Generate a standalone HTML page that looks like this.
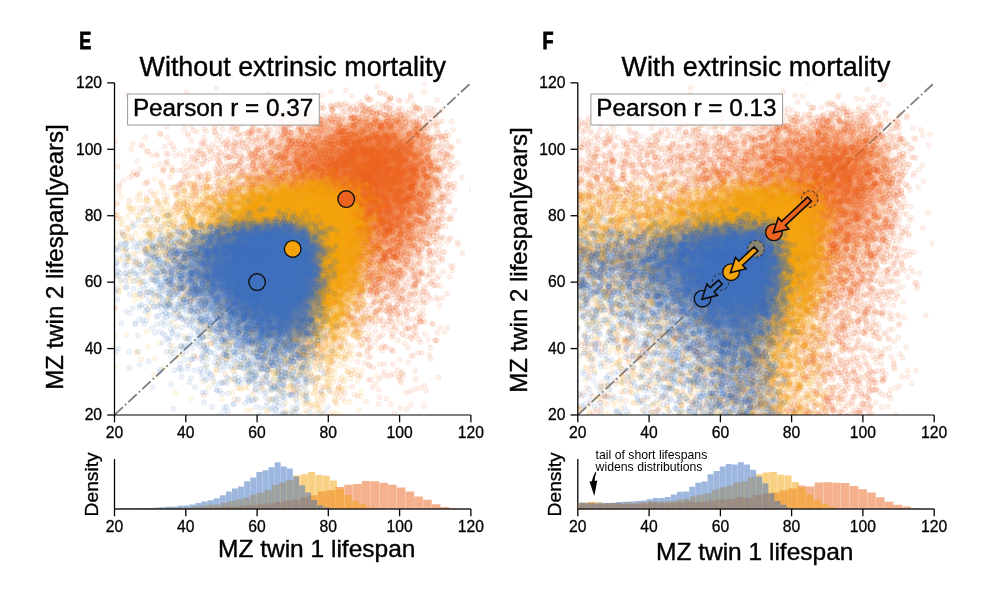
<!DOCTYPE html>
<html><head><meta charset="utf-8"><title>Figure E-F</title>
<style>
html,body{margin:0;padding:0;background:#fff;}
body{width:1000px;height:595px;overflow:hidden;font-family:"Liberation Sans",sans-serif;}
svg{display:block;}
text{font-family:"Liberation Sans",sans-serif;fill:#000;}
.tk{font-size:15.7px;stroke:#000;stroke-width:0.3px;}
.lb{font-size:24px;stroke:#000;stroke-width:0.4px;}
.tt{font-size:26.9px;stroke:#000;stroke-width:0.4px;}
.ax{stroke:#000;stroke-width:1.3;fill:none;}
polyline{fill:none;stroke:none;}
.pb0{marker-start:url(#mb0);marker-mid:url(#mb0);marker-end:url(#mb0);}
.pb1{marker-start:url(#mb1);marker-mid:url(#mb1);marker-end:url(#mb1);}
.pb2{marker-start:url(#mb2);marker-mid:url(#mb2);marker-end:url(#mb2);}
.pb3{marker-start:url(#mb3);marker-mid:url(#mb3);marker-end:url(#mb3);}
.pb4{marker-start:url(#mb4);marker-mid:url(#mb4);marker-end:url(#mb4);}
.pb5{marker-start:url(#mb5);marker-mid:url(#mb5);marker-end:url(#mb5);}
.pb6{marker-start:url(#mb6);marker-mid:url(#mb6);marker-end:url(#mb6);}
.pb7{marker-start:url(#mb7);marker-mid:url(#mb7);marker-end:url(#mb7);}
.py0{marker-start:url(#my0);marker-mid:url(#my0);marker-end:url(#my0);}
.py1{marker-start:url(#my1);marker-mid:url(#my1);marker-end:url(#my1);}
.py2{marker-start:url(#my2);marker-mid:url(#my2);marker-end:url(#my2);}
.py3{marker-start:url(#my3);marker-mid:url(#my3);marker-end:url(#my3);}
.py4{marker-start:url(#my4);marker-mid:url(#my4);marker-end:url(#my4);}
.py5{marker-start:url(#my5);marker-mid:url(#my5);marker-end:url(#my5);}
.py6{marker-start:url(#my6);marker-mid:url(#my6);marker-end:url(#my6);}
.py7{marker-start:url(#my7);marker-mid:url(#my7);marker-end:url(#my7);}
.po0{marker-start:url(#mo0);marker-mid:url(#mo0);marker-end:url(#mo0);}
.po1{marker-start:url(#mo1);marker-mid:url(#mo1);marker-end:url(#mo1);}
.po2{marker-start:url(#mo2);marker-mid:url(#mo2);marker-end:url(#mo2);}
.po3{marker-start:url(#mo3);marker-mid:url(#mo3);marker-end:url(#mo3);}
.po4{marker-start:url(#mo4);marker-mid:url(#mo4);marker-end:url(#mo4);}
.po5{marker-start:url(#mo5);marker-mid:url(#mo5);marker-end:url(#mo5);}
.po6{marker-start:url(#mo6);marker-mid:url(#mo6);marker-end:url(#mo6);}
.po7{marker-start:url(#mo7);marker-mid:url(#mo7);marker-end:url(#mo7);}
</style></head><body>
<svg width="1000" height="595" viewBox="0 0 1000 595">
<rect width="1000" height="595" fill="#fff"/>
<defs>
<marker id="mb0" markerUnits="userSpaceOnUse" markerWidth="8" markerHeight="8" refX="4" refY="4" overflow="visible"><circle cx="4" cy="4" r="2.5" fill="rgb(62,112,190)" fill-opacity="0.085" stroke="rgb(62,112,190)" stroke-opacity="0.105" stroke-width="0.9"/></marker>
<marker id="mb1" markerUnits="userSpaceOnUse" markerWidth="8" markerHeight="8" refX="4" refY="4" overflow="visible"><circle cx="4" cy="4" r="2.5" fill="rgb(62,112,190)" fill-opacity="0.125" stroke="rgb(62,112,190)" stroke-opacity="0.153" stroke-width="0.9"/></marker>
<marker id="mb2" markerUnits="userSpaceOnUse" markerWidth="8" markerHeight="8" refX="4" refY="4" overflow="visible"><circle cx="4" cy="4" r="2.5" fill="rgb(62,112,190)" fill-opacity="0.163" stroke="rgb(62,112,190)" stroke-opacity="0.199" stroke-width="0.9"/></marker>
<marker id="mb3" markerUnits="userSpaceOnUse" markerWidth="8" markerHeight="8" refX="4" refY="4" overflow="visible"><circle cx="4" cy="4" r="2.5" fill="rgb(62,112,190)" fill-opacity="0.234" stroke="rgb(62,112,190)" stroke-opacity="0.283" stroke-width="0.9"/></marker>
<marker id="mb4" markerUnits="userSpaceOnUse" markerWidth="8" markerHeight="8" refX="4" refY="4" overflow="visible"><circle cx="4" cy="4" r="2.5" fill="rgb(62,112,190)" fill-opacity="0.299" stroke="rgb(62,112,190)" stroke-opacity="0.358" stroke-width="0.9"/></marker>
<marker id="mb5" markerUnits="userSpaceOnUse" markerWidth="8" markerHeight="8" refX="4" refY="4" overflow="visible"><circle cx="4" cy="4" r="2.5" fill="rgb(62,112,190)" fill-opacity="0.413" stroke="rgb(62,112,190)" stroke-opacity="0.486" stroke-width="0.9"/></marker>
<marker id="mb6" markerUnits="userSpaceOnUse" markerWidth="8" markerHeight="8" refX="4" refY="4" overflow="visible"><circle cx="4" cy="4" r="2.5" fill="rgb(62,112,190)" fill-opacity="0.550" stroke="rgb(62,112,190)" stroke-opacity="0.632" stroke-width="0.9"/></marker>
<marker id="mb7" markerUnits="userSpaceOnUse" markerWidth="8" markerHeight="8" refX="4" refY="4" overflow="visible"><circle cx="4" cy="4" r="2.5" fill="rgb(62,112,190)" fill-opacity="0.685" stroke="rgb(62,112,190)" stroke-opacity="0.764" stroke-width="0.9"/></marker>
<marker id="my0" markerUnits="userSpaceOnUse" markerWidth="8" markerHeight="8" refX="4" refY="4" overflow="visible"><circle cx="4" cy="4" r="2.5" fill="rgb(244,163,12)" fill-opacity="0.085" stroke="rgb(244,163,12)" stroke-opacity="0.105" stroke-width="0.9"/></marker>
<marker id="my1" markerUnits="userSpaceOnUse" markerWidth="8" markerHeight="8" refX="4" refY="4" overflow="visible"><circle cx="4" cy="4" r="2.5" fill="rgb(244,163,12)" fill-opacity="0.125" stroke="rgb(244,163,12)" stroke-opacity="0.153" stroke-width="0.9"/></marker>
<marker id="my2" markerUnits="userSpaceOnUse" markerWidth="8" markerHeight="8" refX="4" refY="4" overflow="visible"><circle cx="4" cy="4" r="2.5" fill="rgb(244,163,12)" fill-opacity="0.163" stroke="rgb(244,163,12)" stroke-opacity="0.199" stroke-width="0.9"/></marker>
<marker id="my3" markerUnits="userSpaceOnUse" markerWidth="8" markerHeight="8" refX="4" refY="4" overflow="visible"><circle cx="4" cy="4" r="2.5" fill="rgb(244,163,12)" fill-opacity="0.234" stroke="rgb(244,163,12)" stroke-opacity="0.283" stroke-width="0.9"/></marker>
<marker id="my4" markerUnits="userSpaceOnUse" markerWidth="8" markerHeight="8" refX="4" refY="4" overflow="visible"><circle cx="4" cy="4" r="2.5" fill="rgb(244,163,12)" fill-opacity="0.299" stroke="rgb(244,163,12)" stroke-opacity="0.358" stroke-width="0.9"/></marker>
<marker id="my5" markerUnits="userSpaceOnUse" markerWidth="8" markerHeight="8" refX="4" refY="4" overflow="visible"><circle cx="4" cy="4" r="2.5" fill="rgb(244,163,12)" fill-opacity="0.413" stroke="rgb(244,163,12)" stroke-opacity="0.486" stroke-width="0.9"/></marker>
<marker id="my6" markerUnits="userSpaceOnUse" markerWidth="8" markerHeight="8" refX="4" refY="4" overflow="visible"><circle cx="4" cy="4" r="2.5" fill="rgb(244,163,12)" fill-opacity="0.550" stroke="rgb(244,163,12)" stroke-opacity="0.632" stroke-width="0.9"/></marker>
<marker id="my7" markerUnits="userSpaceOnUse" markerWidth="8" markerHeight="8" refX="4" refY="4" overflow="visible"><circle cx="4" cy="4" r="2.5" fill="rgb(244,163,12)" fill-opacity="0.685" stroke="rgb(244,163,12)" stroke-opacity="0.764" stroke-width="0.9"/></marker>
<marker id="mo0" markerUnits="userSpaceOnUse" markerWidth="8" markerHeight="8" refX="4" refY="4" overflow="visible"><circle cx="4" cy="4" r="2.5" fill="rgb(236,98,30)" fill-opacity="0.085" stroke="rgb(236,98,30)" stroke-opacity="0.105" stroke-width="0.9"/></marker>
<marker id="mo1" markerUnits="userSpaceOnUse" markerWidth="8" markerHeight="8" refX="4" refY="4" overflow="visible"><circle cx="4" cy="4" r="2.5" fill="rgb(236,98,30)" fill-opacity="0.125" stroke="rgb(236,98,30)" stroke-opacity="0.153" stroke-width="0.9"/></marker>
<marker id="mo2" markerUnits="userSpaceOnUse" markerWidth="8" markerHeight="8" refX="4" refY="4" overflow="visible"><circle cx="4" cy="4" r="2.5" fill="rgb(236,98,30)" fill-opacity="0.163" stroke="rgb(236,98,30)" stroke-opacity="0.199" stroke-width="0.9"/></marker>
<marker id="mo3" markerUnits="userSpaceOnUse" markerWidth="8" markerHeight="8" refX="4" refY="4" overflow="visible"><circle cx="4" cy="4" r="2.5" fill="rgb(236,98,30)" fill-opacity="0.234" stroke="rgb(236,98,30)" stroke-opacity="0.283" stroke-width="0.9"/></marker>
<marker id="mo4" markerUnits="userSpaceOnUse" markerWidth="8" markerHeight="8" refX="4" refY="4" overflow="visible"><circle cx="4" cy="4" r="2.5" fill="rgb(236,98,30)" fill-opacity="0.299" stroke="rgb(236,98,30)" stroke-opacity="0.358" stroke-width="0.9"/></marker>
<marker id="mo5" markerUnits="userSpaceOnUse" markerWidth="8" markerHeight="8" refX="4" refY="4" overflow="visible"><circle cx="4" cy="4" r="2.5" fill="rgb(236,98,30)" fill-opacity="0.413" stroke="rgb(236,98,30)" stroke-opacity="0.486" stroke-width="0.9"/></marker>
<marker id="mo6" markerUnits="userSpaceOnUse" markerWidth="8" markerHeight="8" refX="4" refY="4" overflow="visible"><circle cx="4" cy="4" r="2.5" fill="rgb(236,98,30)" fill-opacity="0.550" stroke="rgb(236,98,30)" stroke-opacity="0.632" stroke-width="0.9"/></marker>
<marker id="mo7" markerUnits="userSpaceOnUse" markerWidth="8" markerHeight="8" refX="4" refY="4" overflow="visible"><circle cx="4" cy="4" r="2.5" fill="rgb(236,98,30)" fill-opacity="0.685" stroke="rgb(236,98,30)" stroke-opacity="0.764" stroke-width="0.9"/></marker>
<clipPath id="c0"><rect x="114.5" y="82.85" width="356.4" height="332.15"/></clipPath>
<filter id="bl0" filterUnits="userSpaceOnUse" x="102" y="71" width="380" height="356"><feGaussianBlur stdDeviation="1.6"/></filter>
<clipPath id="c1"><rect x="577.8" y="82.85" width="356.4" height="332.15"/></clipPath>
<filter id="bl1" filterUnits="userSpaceOnUse" x="566" y="71" width="380" height="356"><feGaussianBlur stdDeviation="1.6"/></filter>
</defs>
<g clip-path="url(#c0)">
<line x1="114.5" y1="415.0" x2="470.9" y2="82.9" stroke="#7f7f7f" stroke-width="1.8" stroke-dasharray="11.44 2.86 1.79 2.86"/>
<g fill="rgb(236,98,30)" fill-rule="evenodd" filter="url(#bl0)"><path d="M380.5 305.2L368.5 305.2L356.5 302.3L342.5 296.3L326.5 286.7L308.5 273.4L288.5 256.2L270.8 238.9L254.9 220.9L244.6 206.9L237.8 194.9L233.8 184.9L232 174.9L232.8 164.9L235.9 156.9L241.7 148.9L248.2 142.9L257 136.9L266.5 131.8L292.5 121.9L324.5 114L356.5 109.6L382.5 109L402.5 111.6L410.5 113.9L418.5 117.6L424.5 121.6L430.5 127.4L435.5 134.9L439.6 144.9L441.8 154.9L443 168.9L442.7 182.9L441.1 198.9L437.6 218.9L433.5 234.9L429.1 248.9L423.6 262.9L417.5 274.9L410.5 285.6L404.5 292.5L396.5 299.1L388.5 303.2Z" fill-opacity="0.030"/><path d="M382.5 298.9L372.5 299.7L360.5 297.6L346.5 292.3L332.5 284.6L316.5 273.5L298.5 258.8L280.5 241.9L264.7 224.9L255.2 212.9L247.3 200.9L241.5 188.9L238.8 178.9L238.4 168.9L240.4 160.9L244.8 152.9L252.2 144.9L260.3 138.9L268.5 134.1L279.8 128.9L292.5 124.2L322.5 116.2L354.5 111.3L380.5 110.3L392.5 111.3L402.5 113.2L410.5 115.7L418.5 119.5L424.5 123.8L429.4 128.9L433.5 134.9L437.8 144.9L440.2 154.9L441.4 166.9L441.3 180.9L439.7 196.9L437 212.9L433.2 228.9L428.9 242.9L423.4 256.9L417.4 268.9L411 278.9L404.5 286.5L398.5 291.8L390.5 296.4Z" fill-opacity="0.031"/><path d="M378.5 292.9L368.5 292.6L356.5 289.7L342.5 283.6L328.5 275.2L312.5 263.4L294.5 247.9L279.4 232.9L265.6 216.9L257 204.9L251.3 194.9L247.3 184.9L245.4 174.9L246.3 164.9L249.4 156.9L255.3 148.9L261.9 142.9L278.5 132.9L302.5 123.6L332.5 116.2L362.5 112.4L384.5 112.3L394.5 113.4L404.5 115.6L412.5 118.6L418.5 121.9L424.5 126.6L428.4 130.9L433.3 138.9L437 148.9L438.9 158.9L439.7 170.9L439.2 184.9L437.5 198.9L434 216.9L430.2 230.9L425.3 244.9L420.5 255.9L414.5 266.8L408.5 275.3L402.5 281.7L394.5 287.7L386.5 291.3Z" fill-opacity="0.043"/><path d="M380.5 286.9L370.5 287.1L358.5 284.6L344.5 278.8L330.5 270.5L314.5 258.9L298.5 245.1L284.1 230.9L270.4 214.9L262 202.9L256.6 192.9L253 182.9L251.5 172.9L252.5 164.9L255.6 156.9L261.6 148.9L268.3 142.9L276.5 137.4L285.1 132.9L308.5 124L336.5 117.2L364.5 113.8L386.5 114L404.5 117.4L412.5 120.5L418.5 124.1L427.6 132.9L432.3 140.9L435.2 148.9L437.2 158.9L438 170.9L437.5 184.9L435.7 198.9L429.2 226.9L419.9 250.9L414.5 260.8L408.5 269.3L402.5 275.8L394.5 281.9L388.5 284.8Z" fill-opacity="0.044"/><path d="M376.5 280.9L366.5 280.2L354.5 276.8L342.5 271.3L328.5 262.6L314.5 252.1L298.5 237.9L285.9 224.9L274.4 210.9L267.7 200.9L262.6 190.9L259.3 180.9L258.4 172.9L259.3 164.9L262.5 156.9L268.5 148.9L275.3 142.9L282.5 138.1L292.5 132.9L314.5 124.7L340.5 118.5L366.5 115.5L386.5 115.8L396.5 117.3L404.5 119.4L416.5 125.2L422.5 130.2L426.4 134.9L430.9 142.9L433.6 150.9L435.5 160.9L436.1 172.9L435.3 186.9L433.3 200.9L430.2 214.9L426 228.9L416.5 250.5L410.5 260.1L404.5 267.4L398.5 272.8L390.5 277.6L384.5 279.7Z" fill-opacity="0.058"/><path d="M378.5 275L368.5 274.8L356.5 271.8L344.5 266.5L332.5 259.4L316.5 247.5L302.5 235.1L288.9 220.9L279.3 208.9L272.8 198.9L267.9 188.9L265 178.9L264.5 170.9L266 162.9L268.6 156.9L274.7 148.9L281.7 142.9L298.5 133.2L318.5 125.8L342.5 120L366.5 117.2L386.5 117.5L402.5 120.7L408.5 123L415.4 126.9L420.3 130.9L424.5 135.6L428.8 142.9L431.7 150.9L433.6 160.9L434.3 170.9L433.9 182.9L432.1 196.9L429.1 210.9L425.6 222.9L416.5 244.3L410.5 254.1L404.5 261.5L398.5 266.9L392.5 270.8L386.5 273.4Z" fill-opacity="0.062"/><path d="M376.5 268.9L366.5 268.2L354.5 264.7L342.5 259L330.5 251.4L316.8 240.9L304.5 229.7L292.6 216.9L283.4 204.9L277.4 194.9L273.3 184.9L271.5 176.9L271.4 168.9L273.5 160.9L278.1 152.9L283.7 146.9L291.6 140.9L308.5 132.2L328.5 125.4L350.5 120.8L372.5 118.9L390.5 120L404.5 123.6L410.5 126.4L416.5 130.5L423.9 138.9L428 146.9L430.4 154.9L431.9 164.9L432.2 174.9L431.3 186.9L429.5 198.9L422.8 222.9L418.5 233.2L413.4 242.9L408.5 250.1L402.5 257L396.5 262L390.5 265.5L384.5 267.7Z" fill-opacity="0.079"/><path d="M378.5 262.9L368.5 262.7L358.5 260.3L348.5 256.1L336.5 249.3L324.5 240.7L310.8 228.9L299.3 216.9L289.9 204.9L283.8 194.9L279.6 184.9L277.8 176.9L277.7 168.9L279.8 160.9L283 154.9L288.1 148.9L295.3 142.9L309.5 134.9L328.5 127.8L350.5 122.9L370.5 120.9L388.5 121.7L401.9 124.9L412.5 130.3L417.9 134.9L421.2 138.9L424.8 144.9L427.8 152.9L429.4 160.9L430.2 170.9L429.8 180.9L428.4 192.9L422.5 215.9L414.5 234.4L404.5 248.8L398.5 254.5L392.5 258.6L386.5 261.2Z" fill-opacity="0.086"/><path d="M384.5 255.3L376.5 256.5L366.5 255.8L356.5 253L344.5 247.3L332.5 239.7L320.5 230.1L308.8 218.9L300.2 208.9L293.3 198.9L288.1 188.9L285.5 180.9L284.5 172.9L285.5 164.9L288.5 157.5L293.4 150.9L300 144.9L313.3 136.9L330.5 130.1L350.5 125.3L368.5 123.2L384.5 123.5L398.5 126.3L404.5 128.6L410.5 132L418.5 139.6L421.9 144.9L424.5 150.9L426.6 158.9L427.6 166.9L426.8 186.9L422.5 206.6L415.5 224.9L406.5 239.5L396.5 249.4L390.5 253Z" fill-opacity="0.109"/><path d="M384.5 248.9L376.5 250.2L366.5 249.4L356.5 246.5L346.5 241.8L335.4 234.9L324.5 226.3L314.5 216.7L304.5 204.9L298 194.9L294.2 186.9L291.9 178.9L291.4 170.9L292.9 162.9L295.8 156.9L300.5 150.9L307.4 144.9L321.3 136.9L336.5 131.2L354.5 127.1L370.5 125.4L386.5 126.1L398.5 128.9L408.5 133.8L416.5 141.4L419.9 146.9L422.4 152.9L425.1 166.9L424.5 184.9L420.5 203.5L413.7 220.9L404.7 234.9L400.5 239.4L394.5 244.2Z" fill-opacity="0.123"/><path d="M382.5 242.9L374.5 243.8L365.9 242.9L356.5 240L346.5 235.1L336.5 228.6L326.5 220.5L316.8 210.9L308.9 200.9L304 192.9L300.4 184.9L298.5 176.9L298.4 168.9L299.9 162.9L302.8 156.9L307.7 150.9L314.9 144.9L325.4 138.9L341.2 132.9L358.5 129.1L374.5 127.8L388.5 129L400.5 132.6L408.5 137.4L415.4 144.9L420.5 155.9L422.6 168.9L421.7 184.9L417.5 202.9L410.5 219.1L402.5 230.5L392.5 238.9Z" fill-opacity="0.140"/><path d="M378.5 236.9L370.5 236.9L361.1 234.9L352.5 231.4L342.5 225.5L333.6 218.9L324.5 210.3L316.5 200.9L311.4 192.9L307.7 184.9L306 178.9L305.4 170.9L306.4 164.9L308.9 158.9L313.3 152.9L320 146.9L326.2 142.9L339.5 136.9L353.7 132.9L367.5 130.9L380.5 130.8L392.5 132.8L402.3 136.9L409.8 142.9L414.5 149.4L418.6 160.9L419.6 174.9L417.5 190.9L412.5 206.4L406.5 217.7L398.5 227.4L388.5 234.2Z" fill-opacity="0.163"/><path d="M382.5 229L374.5 229.9L366.5 229L358.5 226.6L350.7 222.9L342.5 217.6L334.3 210.9L326.6 202.9L320.7 194.9L316.5 187.2L314.2 180.9L313.2 174.9L313.3 168.9L314.9 162.9L318.2 156.9L323.6 150.9L328.8 146.9L340 140.9L351.8 136.9L364.5 134.4L376.5 133.8L388.5 135.2L398.5 138.8L404.5 142.9L410.5 149.8L414.5 158.9L416.2 170.9L415.1 184.9L412 196.9L406.5 208.9L400.5 217.4L392.5 224.5Z" fill-opacity="0.194"/><path d="M380.5 221.1L374.5 221.6L366.5 220.7L358.5 218L350.5 213.8L342.5 207.9L335.1 200.9L330.3 194.9L325.5 186.9L323.2 180.9L322.1 174.9L322.2 168.9L323.9 162.9L327.5 156.9L331.2 152.9L336.3 148.9L343.3 144.9L353.8 140.9L362.5 138.8L374.5 137.8L384.5 138.6L392.6 140.9L399.8 144.9L404.5 149.2L408.5 155.5L411.4 164.9L411.9 174.9L410.5 185.5L406.8 196.9L402.5 204.9L396 212.9L388.5 218.3Z" fill-opacity="0.241"/><path d="M384.5 211L378.5 212.6L372.5 212.8L366.5 211.7L360.5 209.6L348.5 202.3L342.7 196.9L337.9 190.9L334.4 184.9L332.2 178.9L331.7 168.9L333.6 162.9L336.1 158.9L339.7 154.9L344.9 150.9L352.6 146.9L360.5 144.3L368.5 142.8L378.5 142.6L386.5 144L392.5 146.3L398.5 150.5L402.1 154.9L405.1 160.9L406.8 168.9L406.5 178.9L404.7 186.9L400.5 196.4L396.5 202.1L390.5 207.7Z" fill-opacity="0.273"/><path d="M382.5 201.4L374.5 202.7L364.5 200.7L354.5 194.8L346.5 185.8L342.7 176.9L342.6 168.9L346.3 160.9L352.8 154.9L358.5 151.8L364.5 149.8L370.5 148.7L378.5 148.7L388.5 151.5L393.3 154.9L396.7 158.9L399.4 164.9L400.5 170.9L400.2 176.9L398.5 183.9L396.3 188.9L392.5 194.3L388.5 198.1Z" fill-opacity="0.313"/><path d="M376.5 188.9L370.5 188.5L364.5 185.6L359.7 180.9L357.2 174.9L357.5 168.9L359.7 164.9L364.2 160.9L370.5 158.5L376.5 158.2L382.5 159.8L386.6 162.9L389.7 168.9L390.2 172.9L389.6 176.9L386.8 182.9L382.5 186.8Z" fill-opacity="0.364"/></g>
<polyline class="po0" points="142.6,146.1 446,183.1 217.7,231.7 363,304.3 420,110 294.7,114.8 229.4,194.7 432.7,269.1 250.3,251.6 443.2,207.8 263.2,238.7 220.5,241.4 302.5,119.1 317.5,345 308,343.9 331.9,306.1 322.4,301.5 258.3,275.9 158.2,211.8 377.5,309.4 281.4,333.9 241.3,112.5 323.6,286.3 326.6,302.5 235.3,143.9 233.3,212 238.3,164.5 295.4,259.3 276.5,298.2 231.1,253.8 405.4,309.5 384.9,105 219.1,203.9 375.5,315.3 421,258.9 293.4,313.9 220.2,274.2 215,221 268.7,100.2 267.1,258.1 241.6,172 321.8,314.3 309.6,266.5 408.5,327.2 352.8,323.7 387.2,296.9 319.4,353.6 267,270.6 277.9,121.2 289.1,124 170,177 294.4,281.9 300.7,282.5 327.3,335.4 413.1,334.3 253,132.2 351.1,109.5 239.5,271.6 255.1,279.6 280.6,126.2 430.7,254.1 421.7,273.2 266.9,238.9 420.4,321.6 295.7,288.3 392.5,350.7 192.7,281.4 447.2,293.5 139.5,194.9 285.8,110 216.5,186.3 389.7,108.9 313.1,325 212,197.7 235.3,128.9 232.3,184.5 300.1,271.7 259.1,137.3 250.1,212.3 332,291.6 186.4,202.2 426,390.9 424.4,385.8 252.1,125.7 374.2,299.9 272,248.1 337.2,286.2 283.3,279 179.2,208.1 355.6,305.5 390.6,317.9 442.3,139.7 310.5,104 178.3,194 315.3,384 404.3,301.9 197.6,157.2 296.4,256.1 258.9,280.3 260,306.1 293.2,284.1 292.8,118.9 248.9,379 235.4,228.5 219.7,162.4 330.8,91.5 250.4,207.9 275.2,258.8 424.8,321.7 387.7,308 307.8,105.5 447.5,241.9 442,120.8 366.4,108 203.1,155.3 323.1,277.3 271.6,239.2 266.1,270.4 222.5,189.3 435.4,242.5 179.1,288.7 386.2,347.2 260,292.9 371.4,335.9 326.1,313.1 339.8,304.4 258.3,131 164.8,146.7 357.7,395.7 241.6,155.2 458.6,140.9 303.4,262.9 254.3,391.5 245,221.4 422.2,272.4 321.5,279.4 266.9,126.5 437.1,285.1 314.6,353.1 333.6,300.8 315,366.3 197.8,176.8 167.5,197 340.8,286.3 407.4,314.4 234.3,151.7 235.3,194.7 223.8,189.1 253.5,221.3 326.6,297.3 424,406.2 235.5,238.1 212.5,264.2 339.8,295.1 206.1,185.9 282.5,116.9 208.7,123.1 221.6,141 229.3,251.8 267.6,123.5 441.3,226.7 448.3,175.8 231.7,127.1 289.2,124.5 307.1,281.2 226.1,193.7 354.6,394.8 293.9,121 228.6,170.3 240.1,149.2 251,231.7 230.5,157.2 258,223.2 391.1,307.8 454.6,188.9 257.9,285.4 437.5,332.5 382.2,350.6 339.7,345 357.8,361.7 328.4,295.9 235.4,155.4 315.2,333.9 238.7,251.3 268,134.6 438.3,220.7 224.1,211.1 231.6,123.8 363.7,106.1 244.8,237.1 429.3,251.1 251.1,136.9 200.2,223.9 235.1,243.6 145.2,137.8 443.2,271.8 426.7,295.1 214.4,131.7 334.4,342.8 238.5,146.1 386.3,104.2 213,214.9 369.8,365.9 187,205.6 416.3,288.6 210.2,186.5 193.8,226.4 395,327 351.5,319 452.7,266.9 299.4,289 291.5,302.1 419,108.5 212.7,291 440.3,327.5 243.1,268.6 299.3,351.8 303.8,296.1 408.7,328.7 246.1,143.4 336.8,327.7 256.7,212.9 228.9,183.3 445.7,196.5 217.4,159.5 186.4,166.9 330.7,292 293,258.1 378.7,389.4 301.5,120.6 147.5,181.6 384.9,306.1 320.3,289.5 249.5,133.6 184.1,172.5 411.1,404.7 424.4,289.1 323.4,287.6 177.7,191.6 224.6,143.6 415.9,336.1 364.1,111.3 298.3,263.9 253,233.1 401.3,109.1 389.3,330.2 252.1,233.8 304.4,321.1 340.9,287.3 321.5,95.7 348.7,303.2 442.3,258.5 429.1,296.8 220.7,152 319.8,378.4 259.7,130.3 258.9,291.6 170.9,237.2 205.7,269.3 441.9,136.6 453.7,166.6 363.8,301.7 365.6,312.4 447.4,145.7 258.3,214.5 299.2,320.3 252.6,141.5 197.6,208.2 252.6,212.6 415.1,284.4 343.8,312.9 213.8,175.7 403.4,376.1 228.6,237 180.5,184 367.3,96.4 185.2,195.9 333.5,302.5 434.8,220.2 400.5,323.9 167.4,160.8 195.8,121.8 183.6,203.8 414.9,324.6 350.6,310.9 416.3,107.6 252.3,130.9 397,308.9 432.4,232 433.8,239.7 433.6,125.9 167.2,164 430.3,255.9 416.4,326.6 415.9,303.1 298.6,255.6 234.9,166.2 364.2,323.8 403.9,309 201.4,180.6 270,253.8 192.1,158.3 216.1,305.9 288,333.5 304.5,267.8 220,266.3 229.8,198.7 229.2,176.2 316,281.1 432.9,281.1 282.8,309.5 320.8,305.7 391.6,337.3 227.8,191.6 344.5,289.9 323.1,108.3 225.2,177.1 321.6,325.8 163.6,168.6 201.5,277.6 266.7,271.6 333.6,327.3 452.1,156.2 230.3,181.8 445.7,226.2 248.3,132.2 233.8,159.2 271.2,233.5 391.2,314.5 436.8,278.3 198.2,244.4 274.6,235.5 397.8,314.3 153.2,122.3 433.5,273.1 235,142.7 384.3,300.5 215.1,131.7 336.4,300.5 295.3,265.4 165.9,153.8 346.8,306.9 345.3,111.3 302.4,276 238.6,194.2 283.6,114.2 309.8,111.9 159.5,164.2 192.6,166.7 435.7,232.6 305,343.9 267.6,239.8 236.6,177.3 363.6,305.7 218.3,168 217.3,165 278.6,310.9 251.9,134.1 292.5,115.3 221.9,195.3 270.2,269.5 257.6,129.3 309.9,309.1 234.2,275.6 327.5,296.2 339.1,325.9 458.2,244.8 228.4,263.2 364.1,339.1 230.8,131.1 234,142.6 233.4,167.5 368.6,109.5 242,142.7 420.6,303 219.1,227.7 432.9,324.1 266.7,120.7 239.3,212.5 332.2,110.9 339.6,294.4 436.6,228.3 202,211.6 211.3,254.2 206.6,161.9 277.5,131.6 330.6,297.4 451.2,219.3 364.8,362.9 445.8,162 303.2,283.5 236.5,128.4 394.1,374.3 302.8,327.4 300.1,304.1 228.6,144.8 292.7,270.5 250.9,226.3 262.2,250.6 422.6,291.6 417.2,279.8 219.3,173.5 412.9,287.7 375.8,301.7 234.5,240.6 414.1,106.5 228.9,121.4 397.7,303.7 211.6,152.6 344.1,311.3 375,311.8 256.9,295.3 282.6,111.7 346.3,298.7 115.1,141.5 177,203 422.7,310 424.8,334.1 217.4,140.1 200.5,150.5 358,108.9 208.3,207.8 288.2,269 253.7,225.4 283.7,115.3 292.6,302.5 287.5,329.5 294.1,263.9 392.8,299.1 344.1,323.8 358.9,345.5 371.6,107.3 227.6,173.6 321.6,104.9 379.8,308.9 119,186.4 429,245 223,265.7 441.8,223.4 397.3,315.2 348.1,314 296.3,260.3 420.4,342.2 400.4,290.4 315.1,325.7 259.2,248.4 423.1,286.5 241.1,318.3 322.5,282.3 313,315.1 242.2,220.2 392.6,333.5 265.7,238.7 269.9,251.9 181.8,118.9 238.2,193.3 429.1,250.1 332.1,109.6 168.2,153.9 348.2,344.7 438.4,228.1 346,90.4 225.7,358.8 336.8,294.3 426,302.4 328.9,290.6 444.5,252.5 201.1,205.4 129.3,177.5 257.5,245 449.2,200.7 323.8,277.4 446.6,154 276.1,251.4 284.5,266.7 297.3,338.5 427,108.1 252.4,112.2 431.2,281.6 165.7,200.2 243.9,184.3 274,124.8 288.4,297.4 205.1,175.5 257.7,241.7 115.2,307.5 451.5,121.5 332.2,105.6 194.2,186.5 242.8,268.3 140.4,144.5 423.3,314.7 318.3,315.7 241.6,237.3 320.2,274.7 177.7,233.1 221.9,239 405.9,329.7 443.3,165.8 390.1,306.7 186,320.3 282.5,241.3 348.1,315.7 447,157.3 432.8,269.7 267.4,94.8 314.6,414.5 309.1,286.3 264.3,231.8 437,233.5 436.3,227.8 236.2,251.1 436,123.7 277.1,249.4 360.5,101.7 259.9,300.9 227.5,110.8 173,145.7 172.7,170.1 349.4,352.3 368.2,321.4 376.5,110.8 245,269.3 314.2,95.1 367.7,110.9 271.7,270 348.4,309.8 439.7,249.8 370.7,356.6 241.1,172.1 247.2,147.7 275,269.2 382.9,106.3 415.2,276.6 265.7,257.9 195.2,195.1 252.7,239.7 218.3,122.3 334.7,348.8 242.3,211.7 178,185.9 369.2,109.2 197.7,160.8 237.7,165.5 328.9,292.7 293,105.4 187.7,170.5 361.1,295.1 250.8,211.9 442,193.7 205,146.5 157.7,205.8 174.2,223 322.6,399.7 309,312.7 195.1,188.1 221,167.2 236.3,255.3 429.9,237.2 414.7,280.7 210.6,151.4 440.7,193.1 196.2,190.4 181.7,181.7 297.1,283.9 306.2,270.2 302.3,302.5 300.4,111.4 410.8,337.7 193.6,190.1 117.1,215.1 273.6,278.7 369.1,309 273.6,279.5 175.7,257 437.6,229 216.9,226 390.3,111.2 268.9,260.6 237.2,184.9 358.3,304.3 408,362 311.8,286.6 424,91.7 345.5,320.9 439.3,216.7 240.2,176.7 340.5,344.4 351.7,317.9 403,334.8 366.9,336.8 205.1,141.7 276.2,238.3 385.3,298.3 324.9,321.2 346,307.1 237.9,289.1 415.5,378.8 400.1,101.1 427.8,243.6 247.7,211.1 367.2,350.9 335.5,301.1 408.7,293.6 286.9,260.9 382.2,297.8 320.7,291.2 265.2,224.6 282.5,102.1 210,158.9 252.3,129.4 219.6,234.4 295.7,288.1 244.5,200.8 255.5,211.7 359.8,307.6 269.6,239.3 261.1,246.3 208.1,115.8 297.4,120.5 299.8,294.8 216.1,134.7 305.1,118.2 307.3,293.9 147,183 300,107 203.1,153.8 315.5,118.4 406.6,312.8 299.4,357.7 441.5,197.1 417.7,318 356.5,104.6 435.8,249.2 462.4,253.3 278.3,307.7 371.9,320 266.1,123.9 245.4,254.9 301.5,308.6 309,280.2 232.7,182 388.9,100.6 414.3,326.8 401.5,304 443.8,205.5 189.3,288.7 210.8,224.6 419.6,263.1 236.8,263.1 231.9,171 381.9,309.3 255.5,246.1 415.1,286.6 263.3,249.2 190.7,149.8 150.4,191 310,292 193,188.4 354.8,331.1 233.5,216.1 216.5,171.3 303,115.4 311.6,275.3 374,302.3 230.5,113.9 269.2,247.5 316.8,274.5 189,182.4 220.8,205.1 451.2,165.2 368.8,340.5 450.2,238 274.4,290.2 243.6,196.8 229,157.4 245.1,196.9 368.1,357.3 195.5,184 392.9,351.3 429.5,269 222.3,320.3 333,361 298.5,255.5 419.4,108.7 372.9,305.3 409.3,328.4 405.5,328.4 447.7,219.6 198.2,178.7 383.1,345.7 197.3,250.3 415.6,283.4 340.3,382.3 271.6,369.1 185,260.3 251.1,133 442.7,212 315.7,332.2 430.2,347.6 266.5,311 204.4,159.5 231.5,242.8 238.6,133.6 246.7,210.3 252.9,331 354.2,304.1 404.5,343.2 362.6,105.2 348.8,315.9 127.2,228.1 261.9,293.7 444.6,197.9 451.1,187.9 361.9,319.6 419.3,313.9 335.7,339.2 274.3,317 369.1,327.1 228.9,190.1 118.8,191.8 284.6,126.6 267.4,243.7 437.6,299.6 324.1,323.3 249.3,207.1 271.5,244.3 403.4,290.7 413.3,355.4 240,252.9 217,193.5 190.6,300.1 326.5,354.2 297.8,256.5 286.5,250.9 255.7,314.1 233.8,189.3 358.5,293.9 271.9,234.9 338.3,288 167.4,240.2 270.6,304.1 253.9,207.1 219.7,188.3 341.9,108.2 320.7,292 424.3,83.5 398.8,377.8 263.4,244.6 293.9,257.1 389.7,108.4 191.4,140.8 206.3,256.3 432.5,261.7 355.2,324.6 370.9,347.9 319.7,312.4 426.9,121.7 210.6,234.1 451.9,147.2 279.4,242.2 225.6,153.7 264.1,235.6 199.6,326.4 446.3,132.5 214.1,194.4 229.2,156.9 289.5,253.5 358.8,354.8 423.7,300.4 444.5,161.3 442.6,298.1 267.9,247.1 281.8,271.8 324.8,387.4 238.6,144.3 395.9,307.5 429.2,254.4 352.4,386.7 312.5,376.3 440.9,211.1 411.1,295.5 279.5,277 246.4,233 271.7,260.3 204.9,263.7 386.3,296.4 196.5,153.8 368.4,379.4 408.8,113.7 427.6,119.1 256.6,226.7 303.3,108.5 419.3,321.8 376.5,310.5 367.2,342.1 309,267.9 248,139.9 398.4,100.1 272.5,229.8 225.4,172 380.8,310.7 270,262.7 276.3,246 401.7,299.1 398,340.6 231.5,219.2 203.2,143.1 265.2,229.4 270.2,130 438.8,122.1 384.1,363.9 229,171.4 441.3,136.6 232.7,170.1 419.9,293 218.5,194 183.3,207.2 361.8,313.8 296.4,286 209.9,256.1 252.4,209.9 309.4,288.5 201.4,142.4 438.4,377.6 389.7,317.8 245.3,296.6 326.5,290.9 386.8,310.6 388.2,320.9 225.7,201.2 331.8,110.1 270.7,271.6 434,263.4 448.3,153.3 440.1,153.5 324.6,303.2 200.9,175.5 357.2,299.5 440.6,144.6 203.7,395.3 132,222.8 222.7,172.2 285.2,128.3 223.9,205.9 185,124.7 402.1,301.1 243.4,247.6 327.2,416.9 387,311.7 249.3,224.1 230.4,261.2 263.6,133.8 388,376.4 316.4,326.7 175.3,206.5 390.8,349.2 261.5,130.5 269.6,270.6 249.1,234.4 343,104.9 437.2,226.4 264,136.7 114.1,308.4 298.8,333.4 304.7,113.6 254.2,294.9 379.3,397 217.9,155.5 258,131.8 218.7,160.6 212.1,343 253.1,263.3 273.4,259.3 430.9,283.1 235.2,166.1 178.9,187.7 219.9,157.3 302.4,292.2 411,356.1 279.9,299.5 321.2,343 441,201.5 310.8,280.3 169.1,232.5 226.4,219.6 405.3,288.4 261.8,117.5 395.8,294.7 424.1,291.6 179.9,153.8 222.3,234.9 442.3,194.9 385.1,346.8 267.3,136.6 440.5,238.9 438.1,254.4 299.7,120.9 292.3,124.3 248.4,109.3 162.8,171.2 438.3,262.1 202,163.9 419.6,416.2 411.7,309.3 331.4,107.2 230.6,155.9 445.3,135.8 137.2,161.1 324.3,298 385.8,95 324.3,334 322.7,386.7 437,99.8 336.5,104.6 407.6,347.2 438.1,221.2 282.2,271.9 429,355.1 200.8,185.1 393.5,309.2 358.8,337.1 233.8,148.8 410.9,293 215,147.3 228,216.2 418.3,272.2 215.5,236.1 370.7,318.6 233.5,127.5 191.3,200.1 398.8,312.6 404.2,114.3 387,107.3 144.8,183.5 416,292.9 407.1,282.5 239.4,185.4 316.2,298.1 228.1,139.2 206.8,190.3 434.2,222.4 355.3,331.5 347.5,291.5 274.3,253.6 214,128 342.1,392 362,344.5 204.1,207 432.7,115.5 301.2,347.4 211,208 348.1,306 287.3,126.8 304.3,286.9 285,295 132.7,143.9 248,136 379.6,92.8 264.9,251.2 355.9,325.4 299,122.3 357.6,375.2 422.9,320.8 226.6,148.6 383.8,321.3 217,245.9 298.9,116.6 440,185.2 442.2,157.9 349,297.3 257.9,240.7 293.8,308.5 401.3,373.6 195.6,159 332.5,348.1 330.5,289.6 221.4,123.6 234.8,190.2 183.2,186 241.5,227.7 403.4,314.3 251.1,213.6 356,111.3 305.1,113.3 342.8,398.8 268.5,129.9 274.1,272.1 354.1,317.6 217.3,172.7 228.7,303.6 444.5,213.6 131.1,149.1 420.3,388 283.4,122.4 311.5,114.1 280.1,96 412.4,309.8 415.7,284.9 383.2,303.6 237.8,188.4 221.2,243.7 332,296.9 248.8,321 173.9,149.2 363.5,110.8 136.2,175.2 366.8,98 251.8,342.6 429.6,243.1 415.1,307.9 174.8,208.9 282.5,242.8 449.4,202.2 227.3,210.2 433.8,285.5 239.5,188.7 237.9,134.2 352,370.1 361.7,313 321.4,315.8 306.7,348.8 194.5,173.5 196.8,131.8 444.8,157 260.7,365.1 415,274.7 308.8,288.8 240.3,135.5 281.5,277.8 256.6,277.6 338.6,387 419,262.7 282.2,114.9 296.6,303.3 426.1,121.9 208,197.6 219.7,240.6 354.6,308.4 394.6,328.9 354.7,315.4 356.2,109.9 348.3,316.3 268.9,228.2 335.4,402.5 221.4,194.1 440.7,169.7 404.5,284.8 344.8,393.6 219.1,180.4 227.6,166.9 197.1,356.9 190.1,162.9 147.2,151.5 358.8,303.7 265.9,232.9 249.1,152.3 131.3,237.5 265.4,243.8 223.8,196.6 392.6,335.7 225.3,187.6 335.9,323.1 450.6,146.8 276.3,115.1 370.7,379.9 238.8,225.5 450.1,164.6 250.6,239.8 312.1,106.7 440.4,285.9 241.7,124.5 283.3,113.1 184,156.2 265.8,253.6 274.1,232.2 444.8,136.5 206,131.2 236.2,203.3 270.8,231.5 447,188.7 340.7,302.1 442.7,159 136.2,263.7 402.2,334.1 424.1,116.8 230.9,191 328.2,296.5 217.5,235 441,138.1 306.7,332.8 336.8,325.7 219.7,136.3 327.1,300.5 251.6,241.1 199.1,150.3 278.4,255.1 423.9,302.8 449.3,218.4 119.4,184.5 184.4,202.8 234.8,165.3 438.4,137.5 226.7,147.6 406,112.3 402.1,299.2 439.4,201.3 416.6,117.1 289.9,266 303.1,273.2 390.6,404.5 442.6,218.7 301.2,259.4 234.5,201.7 277.9,111.5 446.4,142.6 157,199.8 307.4,273.3 279.7,254.5 372.4,321.9 239.5,174.6 420,119.1 429.7,263.6 236.5,329.7 309.7,117.3 268.9,243.1 245.2,248.9 337.2,300.4 250.7,228.5 399.7,359.5 160.5,134.5 175.4,155.5 297.1,118.3 309.2,311.9 447.1,187.3 352.5,333.7 387.2,296.3 202.7,202.6 383.3,328.2 290.4,258.8 371,305.3 402.2,298 238.1,235.6 227.4,229.1 340.2,309.3 211.3,206 218.2,185.5 251.5,130.9 239.4,165.2 294.8,279 436.4,297.5 329.9,370.6 160.1,133.3 220.3,153 316.2,273.3 249.1,243.4 439.6,257.4 305.7,403.4 237.3,203 337.5,104.8 305.4,119 427.9,128.6 191.2,195.8 431.4,108.8 302,325.9 308.9,343.7 450.8,265.8 228.6,240.4 178.8,170.3 449.3,239.1 219.7,356 261.5,122.4 223.6,190.4 439.4,153.5 378.4,104 303.5,273.9 345.1,103.1 248.9,197.2 447.2,201.3 259.4,234.9 280.7,327.7 205.4,214.3 360.4,308 261.9,243.4 305.9,266.6 399.5,319.1 407.7,336.3 117.1,203.2 356.9,310.5 326.8,372.4 265.6,279 220.3,173.4 315.7,294.1 336.3,294.3 358.6,337.4 426.8,292.3 384.4,93.1 288.9,124.7 289.9,299.8 379.4,378.5 413.3,276.8 269.2,272.5 433.8,229.6 333.2,302.3 441.4,146.5 265.8,114.3 188.8,257.7 398.8,297.7 396.8,110.5 163.5,170 243,183.9 197.1,168.8 422.9,115.2 442.6,167.5 232.4,229.3 206.9,173.4 309.8,317 242.3,185.3 350.4,316.4 213.5,199 239.7,202.6 205.8,198.1 441.1,237.2 253,221 443,251.9 202.4,187.5 305.5,308.2 451.7,195 282.9,264.4 398.5,297 285,250.7 137.3,173.8 141.2,116.1 311.6,407.8 218.3,187.4 450.8,216.3 282.7,306.6 246.9,133 337.6,328.4 433.5,251.9 225.9,269 399,108.1 420.1,321.8 329,287 147.2,267.9 472,189.4 242.7,191.8 294.2,102.2 218.6,148.1 208.5,147.4 415.1,370.7 228.5,251.6 359.3,294.2 410.6,95.1 310.2,114.3 321.9,324.8 161.2,181.7 243.5,270.1 359,299.8 419.4,319.2 343.7,293.7 390.4,97.7 298,255.8 237.2,128.5 151,154.8 239.1,276.4 371,99.1 399.1,376.1 229.4,143.1 310.6,281.6 239.8,203.8 250.3,280 194.2,184.3 324.1,293.9 229.1,205.2 409,294.3 362.5,108.6 201.6,144.8 214.5,215.3 241.8,258.3 311.2,316.2 421.2,322.1 179.2,184.8 320.9,391 202.5,164.3 241.3,202.5 316.7,304.2 298.4,385 335.7,287.1 374.9,302 243.4,159.1 368.5,364.8 267,132 427.8,284.6 396.6,291.8 232.9,190.9 431.7,232.4 243.9,147.1 240.4,161.6 441.4,218 244.4,147.9 246.2,117.2 171.7,167 153.3,194.4 392.4,313.3 320.3,107.8 266.9,136.7 428.2,339.5 204,137.4 442.5,151.6 309.8,291.9 292.9,251.7 276,276.8 252.9,259.1 311.7,321.4 320.6,329.9 248.1,210.1 288.6,316.3 230.3,218.6 333.9,107.3 258.1,226.8 379.9,336.4 326.4,368.6 319.4,278.2 443.6,178.2 266.5,235.9 294.1,263.8 381.6,301.5 376,315.5 324.7,276 326.4,344 264.1,229 269.8,239.7 407.2,303.4 441.3,110.6 255.8,211.2 313.8,309.9 244.4,302.1 237.4,209.8 191.8,126.2 213.2,158 142.6,208.1 249.4,234 272,262.1 418.7,280.5 196,196.3 333.9,293.6 364.7,110 229.7,182.4 380.2,93.1 250.7,220.7 341.3,337.8 182.3,170.1 242.2,205.1 204.1,157.6 230,207.2 431.1,358.4 297.2,320 196.6,275.6 303.9,354.2 184.2,176.8 321.6,347.7 230.3,236.7 193.2,221.6 240.7,320.4 265.1,249.3 359.7,321.1 393.9,310.3 283.9,287.9 256.1,140.2 351.6,295.7 239.1,141.2 412.5,285.5 294.2,282.4 273.2,248 302.1,300.2 397.2,293.6 335.1,302.9 264.1,228.6 418.5,278.3 380.7,306.7 129.3,200.6 357,311.3 227.7,216.1 321.9,115.5 407.5,100.9 241,175.2 303.7,262.7 162.3,186.5 457.4,162.8 276,119.5 396,307.3 452.2,270.5 235.4,181.6 132.4,175.4 414.5,294.2 175.2,194.1 302.6,296.3 366.8,352.1 294.7,255 249.5,237.3 291.7,266.8 287.3,280.8 197.2,151.6 227.2,177.6 420.6,316.4 234.3,137.3 254.1,141 217,302.6 225.5,167.5 291.8,286.5 434.6,227.8 240,194.5 440.7,244.3 441.3,209.3 237.4,224 454.6,210.6 222.9,169.7 277.7,237.2 216.4,88.1 190.8,185 251.4,252.7 268.5,278.6 404,323.2 406.5,409.2 382.8,108.6 429.4,124.7 282.2,123.2 330.8,283.3 275.5,268.3 257.5,327 413.2,318.7 386.9,324.5 418.9,339.5 339.4,286.4 272.1,250.8 245.2,217.8 412.3,339.1 339.1,106.2 442.3,260.2 440.5,151.5 450,184.6 208.9,177.8 340.5,103.8 398.2,331.2 405.9,392.5 342.8,112 250.1,244.8 146.9,204.7 397.9,370.3 437.2,129.5 180.5,210.4 409.3,302.7 269.4,335.8 336.5,300.3 446.1,194.2 220.3,198.7 157.2,155.8 146.5,197.1 209.8,149.2 318.4,282.8 431.9,323.7 247.7,272.7 366,316.2 399.4,312.9 262.5,323.2 180.1,261.9 317.7,359.5 293.7,391.2 384.3,371.7 451,157.5 438.7,199.4 253.6,329.4 272.3,267.4 461.9,177.8 195.3,160.9 239.4,159.7 415.7,107.6 427.2,243.4 430.8,299.2 392.9,307.7 236.6,120.3 390.3,321.1 276.1,340.9 292.6,258 391.9,105.7 241.7,157.2 224.4,243.9 332,293 361.1,375.8 206.2,153.4 239.1,229.7 419.6,281.1 227,158 346.8,299.7 226,210.7 444.5,176.1 294.2,117.9 415,111 410.4,391.3 442.7,197.8 369.5,99.9 273.9,291.2 287.2,319.7 212.5,245.1 275.6,114.4 295,330.5 357.2,331 364.3,318.8 378.7,404.2 215.2,211.1 434.8,242.6 310.8,103.2 218.8,123.3 349.4,319.6 122.7,234.5 237.2,190.9 416.5,108.1 334.5,293.6 230.4,193.1 407.9,299 427.4,274.4 214.5,169 295.3,112.5 349.1,105.6 251.9,222.3 333.9,338.2 291.5,391.5 346.4,321.7 234.1,203.6 325.5,315.6 215.8,154.3 243,205.3 315.1,289.6 200.7,176.5 249.8,205 341.2,315.8 222.6,128.9 234.6,398.8 457.4,242.3 354.6,302.2 353.7,106.9 430.4,250.8 274.6,276.1 287.9,283.4 402.9,289.7 176.7,204.1 257.3,215.9 336.5,394.2 254.1,236.5 325.5,303.1 319.5,286.1 389.1,99.7 272.6,275.9 220.2,210.7 446.9,154.6 314.8,343.6 316.1,291.6 421.7,353 416.4,282.9 415.9,279.5 389.3,304.3 267,117.6 320.4,393.7 277,240.5 256.1,137.7 332.1,288.3 383.5,375.8 263.2,245 239.9,272.4 294.1,284.3 444.3,166.2 220.3,182.6 218.1,175 223.3,143.8 436,114.6 245.4,197.3 187.8,133.7 276.6,238.3 390.5,374.8 238.8,261.3 433.2,235.5 360.6,317.7 216.4,204.2 243.3,142.6 369,319.2 361.5,325.7 142.4,295.6 452.9,129.7 181.2,302.6 160.7,229.9 391.6,311 260.2,242.8 427,276.8 221.2,219.1 330.5,105.8 193.2,208.4 360.4,106.3 298.5,273.3 140,169.2 398.5,111.2 310.4,96.1 295.4,317 424.1,117.5 239.8,161.8 295.2,260.4 382.9,334.5 427.1,112.3 336.8,316.3 267.3,226.4 244.9,207 447.7,327.3 242.3,334.1 422.2,295.6 217,224.4 362.9,330.2 436.2,238.9 289.9,292.1 448.3,162.1 233.2,146.1 220.2,303.9 327.2,115.4 199.2,191.2 409.7,286.9 352.3,95.9 261.4,294.5 250.8,234.9 278.7,320.6 249.3,139 442.9,197.5 214.9,190.1 439,276.2 221.1,236.3 367.2,316.8 239.7,270.5 225.3,373.9 312.2,311.6 357.2,308.9 301.9,278.8 296.8,258.6 390.5,98.6 133.6,172.3 385.9,310.5 374.8,342.2 230.1,166.4 450,183.7 367.7,100 330.6,304.1 237.8,180.4 420.4,298.4 215.8,196 356.3,328.9 206.8,186.7 350.4,374.3 453.7,186.5 389.7,312 147.4,254.2 413.7,112.3 437.6,124.8 371.8,315.6 323.5,108.3 401.8,291.8 390.7,97.4 170.9,269.2 254.4,116.6 275.3,291.7 196.2,204.8 226.6,141 335.8,283.9 273.2,283.5 233.7,236.7 242.8,245.9 344.3,342.2 280.7,121.3 340.7,295 345.2,359.2 358.9,326.5 257.5,299 416.2,332.6 272.4,233.6 359.3,354.1 273.5,233.3 204.6,201.5 276.7,268.5 184.4,163 299.3,118.4 296.2,271.9 380.8,318.3 414.1,328.9 190.8,168 230.9,184.6 227.1,145.3 435.3,340.6 368.6,347.8 284.8,276.3 271.4,111.6 241.2,162.7 215.2,126.2 172.4,187.8 303.5,266.9 447.8,185.5 166.4,255.9 360.1,296.7 395.9,320.8 379.7,364.4 250.1,226.4 439.5,305.4 386.6,398.7 250.3,311.4 191.3,156.4 233.4,150.5 226.6,207 225.4,155.5 378.1,337.9 376.4,311.3 167.2,137 339.1,388.1 302.8,364.7 387.7,296.2 250.5,206.6 256.6,122.4 300.7,272.5 400.3,407.9 292,268.1 223.4,249.1 433,122.7 380,303.5 206.3,274.5 186.8,91.7 185.3,177.8 147.3,150.9 313.1,111.9 396.7,301.1 388.4,312.9 429.8,274.7 117.8,166.6 283.4,127.8 375.2,383.5 396.9,313.7 361.6,105.1 188,99.3 252.8,127 212.2,208.3 334,293.3 293,295.5 209.9,207.4 418.1,352.8 376.3,313.3 234.4,247.2 313.1,99.9 435,254.7 435,340 381.3,347.6 156.2,154 205.8,225.8 352.7,324.8 263.3,259.8 206.8,179.3 414.7,284.8 388.9,305.2 411.9,114.1 418.6,271.1 410.9,97.6 264.5,307.5 116.9,218.7 242,140.5 296.9,321.5 409.5,109.4 303.2,335.5 373.9,107.2 229.5,187.9 268,113.4 447.9,192.8 443.3,237.8 440.4,202.6 366.2,309.7 392,322.4 443.2,186.5 193.6,130.6 179,316.1 251,211.7 323.9,295 439.4,134.2 324.3,316 137.5,174.3 308,351.3 356,109.4 386.3,109 221.7,267.3 414.8,300.5 358,296.4 231.3,150.4 335.9,303.6 216.1,209.5 383.1,325.2 238,201.2 429.4,250.9 413.5,274.8 290.7,272.7 421.8,272.5 312.3,294.2 210.3,188.1 435.2,118.3 292.3,274.5 220.5,209.4 187.9,175.8 316.2,312.4 177.6,230.9 261.7,219.4 203.5,204.5 364.5,321.7 140.5,212.3 373.1,367.4 377,86.5 216,214.2 340.2,302.7 208,179.6 402.5,371.9 239.2,170 332.9,363 394.3,413.4 187,150.5 300.6,333.8 313.6,303.5 313.5,294.6 414.6,294 434.2,285.5 288.6,122.5 274.3,108.8 344.6,324.9 187.9,135.7 430.1,114.1 199.1,174 300.8,280.4 123.1,180.5 235.7,156.1 445,148.5 302.3,305.5 357.3,319.8 268.9,277.2 182.7,182.9 199.7,188.4 339.9,302.3 401.9,295.2 283.2,128.4 212.6,144.2 248.8,247.9 248.9,150.7 201.1,154.1 389.3,309.2 221.9,193.1 380.7,302.2 313.1,279.6 355.1,319.4 225,122.4 282.8,259.3 280.5,304.7 282.1,115.7 262.7,229.2 312.3,112.3 350.5,108.8 288.7,268 393.3,364.4 226.2,326.4 277.4,126.1 272,262.8 239,229.8 293.5,114.1 375.7,331.2 181.8,244 225.9,158.1 179.5,190.8 414.4,275.2 164,192.2 216.2,277.7 239.7,156.5 405.1,297.6 413.6,104.5 267.1,98.4 261.9,382.2 212.5,214.6 420.1,274.4 253.9,124.7 436.9,340.9 152.5,227.1 427.3,260.5 202.6,204.1 238.8,216.6 427.6,256.3 208.8,173.1 127.3,95.1 368.2,339.3 434.9,136.5 166.5,126.5 217.7,177.3 303.4,278.7 373.8,311.7 226.4,193 380.5,320.4 172.7,170.5 295.9,393.3 263.1,358.1 223.9,163.8 401.2,382.5 243.8,238 398.9,287.9 223,111.4 348.1,314.6 183.1,226.3 422,274.9 436.8,236.2 239.1,189.9 205.8,180.4 249.3,131.2 332.6,110 280.2,115.4 188,243.7 305.6,290.6 252.4,230 454.7,183.2 257.2,268.1 447.4,155.4 314.6,299.3 265.8,135 203.4,213.7 301.2,266.2 281.5,263.4 297.1,264.9 397.2,305.1 320.6,345 370.2,109.5 221.2,281.9 300.7,103.6 285,116.8 111.2,193.1 440.6,198 234.1,146.2 207.8,220.8 204.2,128.4 335.4,302.1 399.9,380.6 328.1,336.4 408.7,320.1 380.4,300.5 438.3,219.2 282.6,289.3 337.7,324.6 339.3,346.2 241.7,347.4 234.7,171.1 214.3,182.4 448.5,135.6 226.7,220.9 267.9,249.4 175.3,187.6 392.3,294.3 422.3,268.2 451.5,148.8 348.5,328.8 148.1,226.6 347.3,106.8 183.2,236.9 165.7,162.7 217,209.6 413.4,284.9 437.4,132.9 399.9,298.9 286.3,115.6 229.5,164.2 207.5,210.3 195.8,166.2 440,212.1 272.6,231 262.2,289.1 183.9,257.4 184,130 439.3,225.4 252.6,270.6 406.7,311.6 444.9,153.9 217.1,225.7 254.2,252.8 302.7,265.6 267.5,224.2 195.2,194.4 341.9,305.6 320.7,349.6 378.5,320.8 366,401.6 350.5,110 291.9,356.9 450.9,170.2 420.4,274.1 410.6,299.5 219.1,162.9 446.1,139.5 258.4,137.7 316.3,354.4 211.9,295.2 370.2,346.3 427.4,128.1 363.1,339.3 184.4,191.3 392.8,326.4 281.3,117.4 409.6,279.3 170,142.6 218.5,224.9 230.5,165.5 449.7,276.5 449.3,168.9 252.4,232.5 233.3,200.2 224.6,275.2 415.3,388.9 117.8,247 375.2,324.4 433.6,110.3 434.9,137.5 291.2,253.9 177.4,261.2 322.4,290.6 238,221.9 284.8,245 256.1,225.9 236.3,152.9 187.8,227 286.9,254.3 275,284.1 313,112.1 307.1,302.6 415.6,270.2 365.3,107.9 223.1,241.5 284.1,278.8 243.5,133.6 268.7,229.3 229.7,185.5 207.9,300.2 309.2,116.5 266.8,278 345.4,293.5 407.8,308.1 264,138.4 253.1,121.5 406.7,317.4 372.4,387.5 236,120 249.4,145.4 444.6,332.3"/>
<polyline class="po1" points="391.2,120.4 394.7,274.2 289.2,212.2 343,262.3 431.6,176.2 406.1,117.4 350.8,264.6 265.1,165.9 253.2,187.3 308.2,256.3 327.4,261.1 371.1,116.9 406.3,265.2 254.7,169.5 354.1,273.3 275.7,201.6 255.1,153.1 277.9,147.6 406.4,250.7 303.3,134.4 270.1,193.5 305.7,125 271,193.6 434.3,188.8 426.4,243.7 415.6,129.1 268.7,201.8 255.4,146.7 364.2,284.5 280,224.7 409.1,118.4 291.9,139.6 256.6,177.2 304.1,251.3 396.3,120.9 278.6,222 363,289.9 367.5,278.3 353.6,262.2 392.1,286.5 265.7,198.2 306.5,261.4 250.8,153.5 334.2,122.5 252.2,193.6 246,174.4 266.9,173.3 371.7,112.4 301.7,129.5 416.6,129 256.8,180 286.6,228.4 307.5,246.2 256.7,195.2 251.3,184.5 276.1,233 250.2,184.2 427.9,215.9 379.9,289.4 260.9,184.6 283.3,203 261.4,179.9 309.2,253.8 245.3,183.9 397.6,284.9 423.2,132.6 333.4,277.5 304.7,258.1 431.4,211.3 332.6,253.4 353.6,117.2 251.7,188.7 322.8,271.9 261.4,147.5 249.4,187.9 261.6,160.8 283.4,207.9 420.9,242.1 339.1,257.1 324.3,126.1 272.3,155.4 312.8,129 392.9,280.1 382.7,279.8 433.4,140.9 303.1,231.5 309.3,235.9 398.4,122.3 321.8,260.4 339.9,283.1 429.7,206.9 308,242.8 295.4,241.2 362.5,278.5 315.4,264.9 438.8,160.6 422.6,239.5 438.3,169.8 384.1,114.7 373.6,294.8 415.2,247.9 439,188.2 375.6,119.4 263.4,167.7 298.1,221.4 251.5,168.8 407.5,260.3 341,271.5 259.6,162.3 367.4,272.9 270.2,209.8 260.6,210.4 281.6,138.4 268.6,218.3 376.3,287.7 314.6,251.5 289.2,140.4 322.7,272.3 271.2,166.3 264.9,182.2 431.1,162.6 266.2,209.5 425.6,222.9 421.4,132 354.6,117.4 413.8,128.2 372.3,275.5 274.3,208.3 269.2,203.2 377.4,291.7 429.4,139.4 317.6,263.5 328.5,273.6 374.8,284.2 299.4,126.8 360.2,292 416.8,255.6 253.8,185.3 252.7,165.2 337.6,116 294,229.7 258.9,178.5 377.4,293.8 342.5,270.5 357,268.4 428.7,216.9 390,277.1 424.3,226.1 288,140.7 342.2,275.1 260.3,142.2 315.6,123.7 391.3,290.9 384.3,271.5 430.2,192.2 252.9,162.9 275.2,211.9 391.4,284.6 319.6,126.7 314.1,259.3 251.5,185.1 351.3,118.4 319.8,123.7 362.5,269.4 298.1,233.3 254.1,184.1 308.5,121 373.2,112.5 289.9,238.6 382.4,269.3 272.2,185.8 434.6,166.8 411.2,261.7 251.1,199.2 400.3,114.5 298.1,234.5 267.4,200.1 289.1,132.3 255.8,202.4 262.5,206.8 436.2,159.5 339.2,279.8 308.3,241 258.8,207.2 256.8,150.8 294.8,244.4 349,280 426.2,243.2 351.7,117.7 431.4,169.1 390.9,118 249.7,156.7 355.6,117 276.7,214.6 427.1,222 437.1,184.1 269.5,195.9 402.1,118.6 308,242.5 258.1,148 417.9,239.4 283.3,228 289.4,141.1 348.9,265.8 275.9,157 283.2,224.5 302.5,229 294.3,231.9 361.9,113.9 256.4,202.3 400.8,269.9 270.8,152.5 250,181 328.8,254.7 268.1,216.8 429.9,233.6 322.1,264.6 366.8,269.6 355.4,272.4 261.6,158.1 249.3,188.7 351.5,280.1 333.9,267.5 417.5,128.9 266,188.7 312.8,248.8 286.4,206.1 397,120.8 258,199.5 358.5,117.9 386,115.2 271.9,182.3 429.7,137.4 400.8,275.7 275.5,220.2 255.2,171.3 287.9,209.8 350.9,288.9 280.4,204.8 434.2,204.9 426.9,232 413.3,121.9 277.5,228.5 258.2,149.6 251.9,172.9 399.1,277.1 359.3,118.3 398.6,270.8 262.2,193.8 411.5,268.7 422,246.7 271.2,180.5 341.6,119.8 393.2,274.4 335.9,274.5 379.3,281.7 396.2,282.8 267.1,141.2 390.8,263.9 275.6,147.2 323.4,124.2 387.6,271.8 274.5,203.5 248.5,178.6 282.4,201 266.6,220 267.9,171.9 285.7,133.1 254.8,159.6 270,216.9 302.1,233.2 369.3,280.7 278.4,154.8 303.7,236 271.9,204.7 327.2,120 305.7,238.1 319.2,261.7 262.7,197.2 292,236.9 270,172.2 267,160.4 271.9,140.4 439.1,182 311.5,243.4 291,239.4 270,176.1 423.1,126.7 404.7,273.2 251.9,154.4 368.1,269 436.1,183.7 392.6,283.1 310.7,244 326.7,247.1 255.1,153.2 253.6,162 317.2,122 388.7,289 270.9,174.7 427.1,142.8 357.8,280.8 277.2,214.8 372.7,278.6 358.9,284.1 291.4,230.4 413.8,122 287.3,134.8 295.5,226 250.1,178 438.2,187.3 258.4,178.7 285.2,136.7 261.2,200.1 324.2,262.1 314.2,240.5 379.2,278.5 397,116.1 388.4,281.9 399.5,273.5 368,277.9 303.4,237.2 305.7,245.3 332.6,275.1 423.4,230.9 337.4,272 282.5,236.9 409.7,123.3 291.6,230.8 299.6,235.9 323.1,267 377.4,290.6 395.2,273.7 301.9,237 284.4,131.4 396.2,119.9 272.4,141.6 309.3,262.1 305.5,246.5 429,228.3 276.9,208.1 263.9,155.1 277.9,143.7 314.4,260.2 293.1,223.5 269.7,199.3 365.6,277.4 397.6,278.9 354.9,120.1 256.1,151.3 423.1,137.3 401.2,115.1 426.9,223.1 312.2,120.6 426.9,138.2 355.4,279.4 270.7,169.3 421.3,240.6 350.2,261.6 384,279.3 437.4,167.2 435.7,169.9 326.7,269.7 300.1,253.7 377.8,276.4 268.3,177.1 393.1,284.9 410.5,253.8 346.4,260.6 260,208.8 399.3,269.6 266.4,163 372.3,286.9 274.5,164.2 380.4,271.9 432.9,139.5 254.2,198 309.5,263.9 408,253.7 318.7,118.6 280.6,138.8 353.9,280.1 301.4,129.4 329.6,260.5 250.1,196.4 310.5,131.2 277.1,211.1 337.9,254.4 313.9,124.4 416.3,122.1 323.6,268.1 274.8,198 416.9,238.7 419.2,251.7 432.9,180.9 318.5,246.2 300.1,252.7 312.1,249.6 280.1,229.9 291.1,132.4 437.9,184.3 307.3,244.6 275.7,226.2 332.6,275.2 353.1,262.7 281.2,229.9 377.1,113.7 378,272.2 354.8,277.5 439.8,170.4 428,210.6 255.7,156.6 260,211.4 275.2,197.3 285,231.4 331.5,258.5 274.4,221.6 301.5,131.4 405.7,122.8 242.8,170.8 383.3,277.9 344.9,268.7 274.9,215 257.1,184.5 266.2,184.2 275.9,212.5 291.7,141.6 431.4,179.5 252.6,155.1 380,267.2 292.4,214 366.9,115.2 349.8,288.8 305.2,259.3 315.8,242.4 387.6,274.6 373.2,112.9 321.1,125 264.6,170.1 319,265.5 383.7,268.4 266.5,189.7 245.3,177.6 317.2,128.6 317.9,243.6 326,253.4 331.9,119.8 260.9,150.2 336.3,273.6 335.3,122.1 313.6,237.8 281.6,204.4 376.6,113.8 258.8,181.5 299.2,230.1 361.4,288.4 338.4,270.1 430.7,204 369.3,295.1 302.8,235.1 248.5,158.4 302.4,132.5 336.9,120.2 284.7,203.8 334,272.5 338.2,119.2 353.5,284.2 261.8,155.7 391.3,117.3 378,286.4 264.8,163.8 256.6,168.3 260.7,193.8 307.5,234.6 297.6,250.8 379.4,112.7 278.5,215.2 380,112.6 283.4,232.7 365.6,118.7 315.4,252.9 304.7,123.5 388.5,272.8 248.3,166.5 402.3,259.6 313.3,257.1 307.5,253.5 255.3,194.1 253,165.1 336.8,266.7 283.6,217.8 353,118.4 432.3,146.6 434.3,178.9 270,196 282.3,144.6 393.9,289.8 364.4,286.9 311.4,250.4 404.5,255.6 388.4,267 377.1,283.9 378,278.9 385.7,288.4 271.3,184.7 341.1,278.6 428.4,141.2 283.4,206.2 267,170.4 394.7,271.3 435.5,210 300.5,236.4 328.8,268.9 337.9,283.6 253.3,195.7 267.4,222.4 423.6,139.5 413.6,244.6 302.1,233.8 360.3,266.7 342.8,118 284,231.3 422.1,248.8 412.3,270.5 423.8,227.2 362.6,113 437.9,166.9 317,120.4 336.6,265.6 386.6,269.5 326.7,126.6 434.1,204.5 431.5,196 401.3,120.8 262,177.5 406.3,263.9 274,226.6 385.2,115 436.3,181.2 268.8,172.1 265.4,175.3 345.5,270.9 276.3,226.5 284.3,134.4 407.2,261.2 407.7,257.3 378.6,278.8 342.7,259 266.7,215.4 418.3,127.3 271.5,145.7 298,130.3 389,280.2 429.2,236 414.5,245.1 440.2,172.6 291.1,137.8 307.8,252.3 376.4,292.3 256.5,166.7 285.4,129.9 377.9,275.4 410.6,255 405.8,122.2 275.7,227.7 288,132.3 316.5,258.4 433.5,161.9 418.8,231.3 356.9,271.7 398.8,274.1 288.7,232.4 376.4,118.6 371.7,282.4 276.1,214.4 410.1,246.6 417.1,264.5 388.1,117.2 295.7,235 280,146.6 418.2,250.4 319.8,124.8 300.4,244.6 435.8,200.3 395.4,287.9 302.7,234.1 289.2,229 382.2,277.6 429.1,148.2 350.7,271.1 418.4,249.7 315.4,260.9 309.3,232.1 369.9,290.2 257.7,199.4 309.4,254.7 328.8,265.9 330.7,119.8 260.3,213.6 325.3,274.9 256.3,176.8 265,147.1 351.3,285.1 416.4,124.2 311,262.2 337.8,260.3 264.9,180.7 359.3,267.8 393.9,113.7 257.7,210.3 424.9,136.1 432.8,170 248.4,180 341,266.5 276.7,156.8 301.7,249.2 325.7,267.3 285.2,230.2 272.9,198.6 261.6,166.1 368.3,276.7 423.4,238.6 435.6,169.8 271.9,172.7 297.4,243.2 373.6,292.3 321.5,271.2 344.2,281.7 258.1,156.4 334.1,115.8 436,179.7 303.1,238.3 277.2,202.7 269.5,192.1 291.2,239.7 393.6,267.5 263.3,177.9 268.7,220.3 430.2,227.4 317.5,267.5 268.1,145.8 423.6,128.6 282.7,232 324.8,120.8 266.5,214.1 332.9,115.7 269.7,219.8 323.8,251.2 432.3,223.2 263.5,209.8 377,294.8 429.3,197.8 403.7,274.6 353.4,272 392.3,271.8 270.6,216.5 265,211.9 263,202.9 350.3,289.7 282.8,135.3 382.9,288.8 288,224.9 253,177.4 273.1,158.8 412.1,245.3 326.9,276.3 438.1,169.3 307.9,122.6 271,210.8 280.1,214.5 290.8,230.5 306.2,233.2 270.9,172.7 299.1,127.6 357.2,292.8 296.9,138 287.4,140.4 366.3,118.7 333.3,271.1 255.6,206.2 374.9,289.4 353.1,265.5 291.6,235.3 351.2,118.3 314.9,264.5 383.6,275.2 397.2,119.2 431.6,205.1 336.3,281.2 306.9,258 252.5,190.9 271.1,160.1 369.2,290.2 284.1,129.5 303.3,229.5 320.8,119.2 249.7,175.1 369.6,112.4 319.6,244.8 363,291.6 310.1,238 269.2,178 392.1,266.6 281.7,133.4 276,156.1 301.1,135.5 397.3,276.4 365,272.8 436.5,146.7 336.7,259 293.9,231.8 288,224.4 374,280.8 322.1,259.5 315.4,265.3 336.2,269 354.9,280.8 371.6,272.9 287.8,217.4 374.3,118.7 401.8,259.1 373.1,273.6 423.3,234.7 318.6,254.6 433.9,212.9 261.4,186.2 317.9,254.3 397.9,260.5 328.2,122.1 404.1,118.4 372.8,276.9 259.8,176.4 273.7,221.5 310.9,256.3 283.1,211.6 345.7,258.6 329.4,273 412.9,266.6 379.1,282.5 304.2,238.6 261.6,195.3 285.3,238.2 355.3,286.4 342.8,281.9 319.7,256.3 301.3,253.2 324.5,258.9 391.7,271.6 315.2,248.9 377.8,279.8 344.5,260.6 291.5,133.1 370.3,275.9 331.5,272.1 257.5,157.4 270.9,180.7 315.4,124.3 287.5,241.6 394.6,282.8 248,192.3 255.5,184.4 243.3,168.4 337.1,258.9 415.5,246 292.2,233.8 361.4,274.5 314.1,243.3 425,215.4 404.9,252.3 435.9,177.8 305.7,258.7 370.8,289.3 298.3,254.1 275.2,212.4 364.9,282.5 413.9,127 420.6,256.6 281.6,150.8 377.8,269.3 344.3,268.3 321.3,120.1 412.7,248.8 283.6,207.7 418.7,127.7 426.3,135.1 419.2,124.8 334.4,259.3 373.7,273 370.7,291.1 419,122.2 316.6,268.2 427.8,216.8 439,179.7 320.9,251.4 398.9,261.3 337.3,278.1 373.3,269 320,123.6 346.2,264.3 401.5,278.7 271.1,142.1 288.3,221.7 427.6,217.9 330,277.9 417.8,125.3 423.7,223.6 273.3,165.2 423.8,232.2 273.8,192 320.3,119.5 314.1,244 321.5,257.8 419.4,234 320.8,252.2 297.5,231.4 351.3,267.7 418,235.7 374.2,284.8 295.3,238.3 243,175.9 371.8,280.2 392.4,272 283,209.8 300.9,232.1 332.2,122.3 309.5,128.6 400,115.6 399,269.7 281.3,221.2 263,216.7 369.1,273.6 361.7,283 387.9,284.2 273,195.1 274,139.5 277.6,217.3 271.1,143.7 429.1,137.9 324.2,246.4 349.8,281 279.5,198.4 348,260.6 319.8,244.7 429.6,144.8 350.2,270.7 343.8,271.1 288.4,216 406.8,267.4 292.4,240.5 337.5,275.4 381.3,284.7 429.4,218.9 401.4,270.7 371.7,287.9 334.4,265.5 289.7,241 347.8,267.4 262.3,165.5 375.3,285.8 399.1,122.1 383.1,291.2 389.2,114.2 306.1,252 394.3,278.6 270.1,152.6 404,264 330.2,117.5 253.1,159.6 350.5,115.2 418,252.9 289.8,138.6 263.8,209.7 271.5,151.9"/>
<polyline class="po2" points="385.1,252.1 283.9,163.7 288.7,185.9 351.6,240.8 355.5,124.6 281.9,164.7 283.8,157.8 426.2,189.1 386.7,261.3 386.2,257.8 330.8,137.1 415.1,132.4 352.1,242.9 303.4,200.5 418.4,202.4 402.3,221.7 418.1,155.7 323.7,226.9 363.6,240 297.6,160.7 306.8,140.1 391.7,248.2 330.6,140.6 299.8,166.3 422.1,204 296.6,159.3 299.2,147.2 289.1,190.9 382.9,260.4 355.2,133.4 291.6,144.1 429.9,185.1 410.9,239.3 334.8,251.1 419.4,178.7 407,238.3 345.3,134.3 373.1,123.3 320.9,222.7 413.1,234.2 406.9,139.7 281.3,179 401.6,254 365.7,263.4 404.6,243.3 350.1,246.4 355.5,255.9 420.3,207.2 327.5,240.8 317.2,228.5 341,240 378.1,245.2 323.9,243.2 323.9,130.7 369.3,252.4 281.5,156.8 339.7,233.1 412.3,231.7 294.7,183.2 393.4,253.6 323.5,142.4 364.6,130.8 340.6,243.6 424,170.2 363.3,234.6 426.7,157.2 279.3,176.7 280.3,191.7 315.3,141.9 324.9,235.8 346,253.6 381.1,266.1 305.7,145.3 426.5,177.8 296,188.7 288.8,163.2 312.4,142.9 320.5,237.4 421.2,154.7 399.6,235 299.2,165.4 309.6,199.7 420.7,136.9 304.7,175.6 282.2,177 294.3,159.5 370.4,125.8 321,220 413,239.1 308.6,201.8 398.6,124.2 276.6,185.5 365.4,242.5 288.5,151.3 299.6,163.1 309.8,226 415.6,209.7 428.6,192 360.5,248.8 379.2,122.3 418.6,204.2 416.4,154.4 320.6,227.4 397.4,250.8 426.9,168.3 295.9,161.1 302.4,220.6 402.8,238.6 294.2,182.8 430,161.7 281.5,181.6 386.6,120.3 427.5,193.4 313.5,137.7 281.1,188.2 385.7,256.1 348.9,248.1 366.7,234.7 342.7,247.3 293.6,176.6 389.1,243.9 311.8,152.6 388.8,251.3 276.9,160.1 333.8,221.5 390.6,250.8 409.7,228 423.9,173.6 416.8,207.1 383.2,259.9 314.6,219.4 387.9,243 408,215.5 330.4,247.9 281.4,156.5 298.7,212.7 367.1,121.9 295.2,201.3 303.5,218.9 307.5,210.9 337.8,131.3 322.3,211.2 383.9,260.5 310.3,226.7 401.9,126.2 310.6,158.9 368.4,128.7 380.8,130 279.2,193.7 296.9,147.8 388.1,121.2 392,231.9 376.6,246.1 419.4,211.6 379.8,125.8 411.2,141.6 427.7,193.9 356,121.8 307.1,217 422.1,170.4 319.7,131.7 368.7,260.7 372.6,262.7 344.4,257 389.3,125.2 315.5,145.9 425.7,202 306.9,171.8 297.8,217.5 416.6,157.1 321.8,130.2 419.9,213.1 314.6,210 368.4,251.8 304.1,211.8 319.3,136.5 351.7,125.5 302.5,206.1 403.2,248.2 304.2,225.2 308,225 351.3,238.8 381.7,127.9 370.2,258.3 348.4,135 415.3,211.7 284.7,158.4 291.6,185.4 425.5,208.8 397.2,255.4 313.1,203.7 431.1,171.4 312.4,211.2 392.7,232 275.8,177.1 298.2,194.9 322.8,206.1 383.5,122.3 339.3,250.8 307.8,205.6 296.5,143.4 393.1,256.4 417.5,132.9 420.9,193.9 282.1,198.2 329.2,234.5 317.5,200.5 381.2,262.6 409.4,134.6 326.1,138.7 311.4,210 351.2,258.3 278.1,183.6 329.7,234.4 318,204.3 306.8,170.8 380.4,127.7 420.8,220.3 358.3,234.7 286.4,193.7 370.3,242.9 306,164.7 392,231.1 312.7,207.7 351.6,134 349.9,125.1 372,245.3 286.4,178.2 315.6,218.4 338.9,252.3 390.9,128 337.6,240.3 359.6,122 326.3,219.4 362,256.2 409.9,213.3 303.7,144.2 291.8,181.3 316.6,205.9 393.2,252 301.8,171.3 336.3,134.5 337,251.4 342.5,131.6 305.6,141.2 308.6,135.8 339,233.4 357.9,238.6 430.4,167 341.8,135.1 398.2,238.7 329.9,241.7 401.6,246.2 408.1,245.8 393.6,257.3 386.1,235.1 292.3,203 370.4,262.8 318.8,215.4 408.7,233 326.1,139.7 419,165.8 353,238.9 323,242.6 340.3,250.6 422.5,152.3 298.2,154.7 393.2,240.7 410.9,215.7 384.9,258.2 313.5,138.3 306.4,217.7 373.3,248.6 428.4,156 426,206.2 343.5,225.2 384.9,125.5 313.4,146.2 364.9,242.6 411.9,225.3 339.9,125 275.9,182.5 306.2,178.7 298.2,170.3 336.1,137 286.2,148.6 427.8,150.6 389.4,255.8 420,153.1 362.1,238.4 424.9,176 337.1,227.7 311.6,220.7 324.2,143.2 345.5,254.4 424.2,182.7 356.4,231.6 278.6,175.9 306.9,187.9 302.5,205.7 360.3,245.3 306.5,171.6 292.5,175.5 359.5,260.1 399.7,227.2 396.4,233.7 324.4,237.1 384.4,256.7 389.1,251.9 345.1,131.7 329.6,128.8 279.8,160 330.5,217.2 384.9,252.5 374,124.5 301.6,149.5 292.3,186.5 429.8,165.4 330.8,241.6 299.4,164 323,208.9 307.8,198.6 313.8,131.5 304.3,146 401.1,240.4 418.1,149.7 296.1,180.6 408.3,226.5 283.2,176.6 346,135.1 360.8,122.3 401.4,230.7 296.8,177.1 291.7,187 311.2,217.3 427.3,158.6 332.3,137 309.4,200.3 310.3,160.3 397.2,132.8 297.5,189.5 381.5,124.6 344.4,238.9 289.1,193.1 381.3,241.4 305.4,201.2 421.3,161.2 308.3,207.5 325.7,238.3 320.2,206.1 409.5,211.5 305.6,206.2 294.1,203.1 354.1,131.4 300.1,217.9 304,218.7 424.1,187.7 314.8,146.4 390.7,125.3 424,169.2 302.9,215.3 276.4,168.6 342.6,251.6 379.3,243.1 330.5,241.8 306.9,150.2 309,215.1 408.6,226.2 416.5,199.4 382.6,257.3 351.8,258.1 359.8,255.5 341.8,230.6 320.4,144.3 351.2,243.8 384.6,242.7 337.5,226.1 296.2,178.5 416.6,134 298.6,140.5 311.2,197.7 344.8,226.3 428.8,160.1 411,211.1 372.6,258.2 427.8,177.8 413.6,222.3 297.5,189.8 358.9,259.9 285.9,155.9 401.5,253.1 378.5,248.8 291.2,143.6 378.8,253.7 284.6,201.4 357.1,257.1 420.3,162.4 364.8,255.4 401.8,233 287.1,147.4 426.9,196.1 430.3,165 327.3,241.7 319.2,205 297.2,161.1 331.6,237.6 329,218.4 298.8,141.4 424.4,195.9 410.5,145 387.5,258.7 318.1,203.2 340.1,126 303.3,184.9 329.3,224.1 304,208.3 423.7,190.7 340.5,246.6 338.4,127 286.5,202.6 344.5,128 395.3,256.2 421.8,209.7 346.9,233.5 400.9,233.9 313.6,200.3 307.8,211 362.9,259.2 393.2,121.8 335.3,240.9 329,236.5 294,198.6 298.4,214.3 294.9,202.7 339.4,124.2 338.6,130.7 378.5,239 430.1,187.3 332,219.7 421.4,207.3 276.6,165.4 341,240.7 302.6,166.5 328.6,221.4 423,211.9 400.4,128.7 286,180.7 295.1,163.7 304,214.8 327.9,234.2 354.5,258.1 425.2,162.8 369.3,236.2 410,211.5 420,194.3 327.3,225.3 423.4,168.9 389.4,232.5 399.7,225.3 300.1,171 426.5,176.3 336.2,248.9 376.9,263.7 371.7,245 355,241.3 416.7,201 342.1,130.8 301,200.5 297.2,151.8 356.2,231.6 310.3,145.2 412.4,147.5 339.8,132.1 415.7,218.8 296.2,185.3 429.8,176 364.1,129.7 311.7,149 372.6,123.3 353.6,126.1 303.9,200.3 397.1,249.8 293.4,173.3 379.5,248.2 395.8,256.8 311.5,206.6 293.2,207.6 302.1,188.1 403.7,234.5 323,215 275.2,178.9 298.2,176.7 282.9,164.5 332.2,234.9 335.6,230.8 354,261.2 285.7,173.7 375.5,121.8 284.7,151.5 366.2,245.7 280.2,158.8 312.1,200.6 312.2,142.1 422.6,199.2 380.3,249.8 371.4,252.4 340.5,132.3 347,242.3 331.9,228.9 339,134.8 336,236 371.4,249.5 383.4,256.9 384.5,240 329.9,226.1 300.1,209.5 292.9,154.8 302.5,222.1 316.6,221.6 362.3,246.2 407.7,237.5 342.9,241.7 349.7,134.3 301.7,184.8 423.1,148.3 353.6,260.1 392,239.1 340.7,132 346,249.5 424.3,165.2 392.2,249.4 380.3,127.8 416.7,210.2 299.2,213.6 394.8,247.4 421.1,198.2 346.5,231.6 301.9,175.5 394.6,257.3 427.3,156.9 302.8,177 426.7,181.9 322.9,222.3 365.6,252.3 326.5,221.3 289.1,163.2 419.1,209.8 307.1,158.2 376.6,245.9 331.1,223.7 384.2,234.2 310,192.4 319.5,142 284.7,195 408.6,225.1 390.7,126.7 416.3,136.4 359.6,263.3 305.8,145.2 285.1,203.4 334.1,219.5 306.2,162.8 400.4,242.6 331.7,236.2 410.7,224.1 396.2,258 392.6,257.2 340.8,251.4 360.4,255.3 368,238.6 339.1,220.8 423.6,213.5 284.2,158.8 286.5,193.2 287.3,153.5 414.9,226.1 341.9,243 326.3,246 412.6,141.2 333.7,248.2 415.8,134.5 291.3,207.8 419.5,139.2 326.2,235.4 291.4,207.6 340.2,236.6 276.1,179.6 300.1,144.1 299.3,167.2 296,199.6 358.7,239.3 389.5,250.7 283.1,172.9 289.7,201.7 415.5,219.8 396.3,242.5 412.8,206.4 287.1,198.8 373.4,253.9 387.9,126.5 337.4,246.6 338.6,248.4 290.7,211.2 305.8,153 303.2,153.2 423.9,161.6 369.9,265.4 394,125.3 285.7,157.5 384.6,254.6 293.2,146.7 353.8,125.6 319.6,207.1 406.9,232.5 381.5,125.5 385.6,124 300.2,167.8 345.4,234.9 346.7,248.7 335,132.8 290.7,183.3 306.8,210.3 420.5,224.1 420.1,205 302.8,153.8 344.2,130.4 297.4,192.9 310.8,216 407.7,230.4 321.3,218.3 302.1,175.2 365.9,123 297.6,156.7 287.6,146.1 335.8,235.5 427,204.5 400,244.2 324.4,217 281.8,193 285.5,169.6 347.5,240.9 294,209.1 324.8,244.1 301.8,219 322.6,223.9 311.5,200.5 285.7,151.4 302.7,140.7 335.5,221.5 298.7,206.8 406.8,227.2 284.9,173.3 331.3,223.8 307.2,168.7 293.2,170.7 353.4,246.2 318.6,228.1 421.2,221.7 282.2,194.5 329.1,212.1 400.7,233.2 302.8,158.1 397.7,249.5 385,235 391.5,125.3 290.3,147.7 275.5,173.1 297.8,198.2 325.1,237.5 398.6,245.6 325,231.3 368.4,242.2 423.6,175.3 348.8,130.9 404.5,220.3 391.7,130.5 354.4,122.8 327.1,143 329,246.2 294,165.5 331.6,246.8 300.5,195 378.8,260.8 361.6,131.5 412.2,228.3 328.4,231.7 299,169 342.4,250.5 294.5,141.6 355.5,250.9 419.9,194.2 330.3,223.3 301.1,156.5 343.8,224.2 316.7,131 350.2,235.3 410,239.8 282.7,198.5 278.7,185.4 409.4,133.1 388.3,233.4 328.3,242.3 315.7,148.4 315.1,148.6 376.5,121.1 323.9,234.7 368.8,239.4 279.9,179.1 310.2,222.1 417.9,192.4 361.8,234.8 407.6,237 327.7,217.6 418.1,135.3 345.5,236.4 426.6,176.5 346.4,127.3 420.9,212.5 412.8,237.2 302.6,158.8 301.6,143.4 304.3,176.9 351.9,240.3 324.7,233.2 278.9,169 408.3,135.8 417.9,223.9 383.6,254.1 348.9,260 289.8,146.5 430.9,165.6 346,252.4 341.6,236.4 317.8,137.8 375.4,246.1 381.1,125.9 340,229.9 334.6,129.3 308,150.9 294.3,151.2 304.6,163.5 319.6,223.7 374.2,240.4 374.4,255.3 419.7,220.8 297.4,189.6 301.1,221.3 385.6,129.9 295.5,144 355.5,242.6 361,120.3 331.2,244.5 420,194 310.1,145.3 353.5,127.5 409.6,133.9 340.7,237.4 298.2,197.1 402.5,229.3 307.9,199.5 376.3,249 324.8,232.2 304.8,153.9 304.9,155.4 410,144.1 430.3,184.9 374.9,249 422.8,186.1 305.9,198.8 287.2,203.8 423.7,185.2 342.6,130.8 366.7,125.1 358,127.7 404.8,127.1 312.9,155.9 322.2,218.2 422.4,145.8 323.7,234.9 281.2,154.1 384.3,236.3 308.9,155.9 296.4,152.7 301.8,201.9 379.8,248.8 369.4,125.4 424.4,173.3 359.4,253.6 400.3,242.4 348.6,253.4 372.3,130.6 420.1,213.1 397.2,238.3 393.7,240.6 421.2,161.1 423.8,200.9 353,246.4 364.2,249.6 300.8,178.1 333.7,216.5 305.8,169.5 421.3,143.3 424.2,207.4 351.1,133.6 385.2,236.1 318.3,207.1 327.6,134.9 331.7,137.7 354.5,238.3 363.2,127 311.3,232.7 368.9,238.6 290.3,201.6 399.1,229 409.1,243.3 400.1,234.7 288.9,171.8 417.3,220.3 333,216.2 298.4,216.8 300.2,193.3 303,173.3 397.8,255 279.1,154.9 348.7,240.9 299.5,203.8 407.5,222.4 427.6,177 423.5,143.2 333.3,222.2 308.4,135.3 304.4,181.2 293.2,170.1 309.8,192.3 330.8,217 412.2,132.2 298.6,163.7 368.1,264.8 426.7,197.2 352.1,250.4 396.7,246 346.5,241.1 427.1,149.7 386.5,263.9 405.4,223 417.4,134.8 308,135.7 301.9,147.3 386.4,121.6 379.9,261.2 377.7,125.9 340.2,237.4 287.8,163.3 414.8,141.7 307.8,169.5"/>
<polyline class="po3" points="347.7,201.3 353,153.3 406.4,200.7 403.2,215.3 332.7,177 377.2,151.7 368.3,214.2 336.1,198.2 410.2,177 376.9,202.8 311.9,178.8 402.4,210.7 324.6,164.6 415.5,167.5 381.3,220 332.3,202.3 399.1,189.4 332,147.7 358.9,189.4 414,165.8 321.4,154.9 398.5,156.8 401.4,160.1 347.2,165.3 376.8,210 393,160.4 391.1,176.8 338.3,142.4 402.3,160 346.2,207.6 338.1,192.8 343,158.5 344.6,153.1 412.8,183.5 343.2,165.2 386.4,157.8 375.6,192.3 383.8,208.9 334.6,171.3 357.6,143.9 322,175.8 334.1,166 366.8,228.1 379.5,217.9 348.8,159 398,200.3 398.8,191.6 395.7,201.7 394.7,135.5 377.3,156.5 401.6,141.6 365.8,138.3 414.1,183.1 340.7,198.9 361.1,207.3 385.8,196.5 409.4,188 409.6,168.3 386.8,230 377.9,194.2 336.9,169.7 338.5,201 399.3,161 408.9,148.6 367,202.8 402,186.6 365.5,219.6 401.2,202.5 342.4,140.5 372.3,202.8 321,171.1 356.5,186.8 342.3,178.6 412.9,198.1 339.4,216.3 411,186.6 342.6,138.4 370.4,201.3 376.9,133.8 365.8,139.9 337.2,163.1 391.1,152 408.7,199.6 352.9,218.7 335.2,182.6 340.5,157.4 395.5,223.1 361.6,202.1 322.1,200.3 393.3,198.1 394.6,181.7 333.2,147.9 341.3,186.2 387.4,137.6 325.5,149.6 370.3,154.6 358.6,194.2 405.2,160.5 361.1,205.1 360.4,139.2 397.9,159.1 390.3,227.1 399.5,182.6 400.4,149.2 399.2,192.8 408.2,143.9 345.6,204 380,220.4 367,151.6 343.2,144.2 399.5,165.9 401.3,215 364,156.4 346.9,213.9 362.5,186.9 352,152.4 364.7,208.2 373.7,228.5 358.6,149.2 404.6,147.2 411.6,172.2 339,214.8 380.6,145.9 343.4,138.9 397,169.1 370.1,195.7 365.2,199.7 401.9,175.3 366.6,219.4 375.3,201.7 329.7,173.3 386.2,200.6 348,150.2 347,141.8 368.9,138.2 359.6,226.4 383.3,219 408.8,200.4 334.4,163.7 378,137.7 344.6,173.2 405.6,163.2 371.9,135.4 370.9,203.8 415.8,169.9 312.2,167.2 346.2,142.9 400.4,151.5 403.4,200.3 395,140.3 392.2,181.7 338.7,195.2 401.8,191.4 352.5,158.6 354.1,215.9 354.5,177.8 407.6,155.9 413,174.4 356.8,205 353.9,194.1 324.3,171.5 383.1,141.7 336.3,172.4 331.1,180.6 362.5,148 344.8,162.2 333.2,152.7 343.5,172 400.8,195.6 318.5,177.2 406.3,170.1 327.7,189.4 374.8,197.8 363.4,219.8 313.1,176.2 331,158.7 333.3,201.3 373.7,202.9 352.7,148.5 373.9,136.9 321.8,195.5 371.5,198.3 367,232.9 394.7,195.1 378.9,144 369.1,190.7 355.3,199.5 399.9,222.6 396.8,198.3 370.6,213.3 414.4,156.5 324.7,193.9 342.8,144.4 406,180.3 356.6,193 390.2,189.8 383,222.3 358.9,140 395.9,138.4 328.7,167.7 400.2,181.6 386.8,221.7 391,152.8 335.9,165.4 378.2,211.5 314.2,181.8 332.5,177 357.3,154.3 384.6,201.9 392.4,226.7 399.6,142.8 372.2,228.8 354.9,135.2 399.1,179.1 403,202.2 373.3,199.8 387.3,204.1 389.2,182.3 394.8,219 329.4,171.3 336.3,141.3 365.6,208.7 362.6,142.2 380.7,224.1 376.5,225.7 416.7,176.5 383.1,151 352.1,150.3 315.6,172.3 334.6,184.1 384,221.2 378.5,196.6 338.4,210.3 321.4,187.2 403.9,190.8 355.3,152.6 323.7,180.5 336.8,210.5 390.2,211.8 370.4,152.8 312,169.6 353.5,147.9 352.5,151 348.4,189.6 351,193.9 403.3,191.8 357,204.4 405.9,199.6 318.5,183.1 355.1,214.9 363.9,204.2 406.6,209.2 398.2,197 344.4,141.1 380.7,155.4 348.9,198.2 343.3,165 361.8,151.1 332.3,182.4 331.7,162.6 378.6,233.8 411.6,179.1 351.7,185.3 354.1,168.1 384.8,134.3 405.5,159.9 367.8,137.6 363.5,199.3 367,197.7 368.8,198.8 335.9,175.2 317.9,189 374.5,194.6 311.7,166.6 337.9,163.1 318.8,188.6 354.8,143.2 312.3,189 380.3,153.3 360.6,140.2 363.2,233 334.1,171.3 388,212.5 325.3,183.4 365.2,229.4 390.6,209.1 376.9,138.3 378.7,214.1 347.1,220.9 355.3,198.5 381.8,223.5 395.2,174.2 375.6,209.6 353.3,153.3 314.6,166.4 406.1,149.6 370.9,153 412.7,190.6 392.5,183.4 390.2,223.8 396.4,195.9 347.1,138.2 378.3,141.7 402.9,181.7 398.3,173 317.1,167.3 372.6,148.5 343.1,160.8 318,169.4 402.7,209.2 391,150.3 323.4,199.1 409.8,206.1 357.4,201.2 347.1,200.3 340.1,193.4 321.9,203.6 357.7,189.2 364.6,215.7 327.1,158.8 391.2,179.4 390.5,217.2 379.5,232.2 378.6,218.3 382.7,196.7 336.2,169.2 351.3,186.7 323.9,197.3 339.4,220.5 348.4,199.3 340.3,204.2 328.6,174.8 365.2,216.5 335.9,211.4 378.2,220.4 402.3,209.8 363.5,195.2 354.6,184.6 352.2,141.5 346.7,186.7 356.9,142.6 362.2,132.7 385.9,147.9 361.7,199.1 387.3,136 349,215.7 324.5,192.3 366.1,190.1 386.2,151.4 376.3,207.8 358.8,147.7 321.7,164.1 355,143.1 329.6,208.5 389.6,229.3 346.7,164.4 398.3,171.2 362.5,205.9 348.4,175.3 384.3,149.2 375.9,208.2 366.3,219.5 393.4,183.4 330.4,168 360.8,207.2 399.1,163.5 346.8,161.5 406.4,150.7 367.9,229.2 330.9,151.4 326.8,165.7 376.1,196.8 346.8,156.4 359.3,225.6 328,171.1 348,154.5 415.1,171.3 363.4,229.8 342.2,165.9 360.1,218.2 387.7,206.7 355.4,229.4 355.3,165.8 362.8,148.4 332.5,163.6 356.8,153.8 411.4,163.2 362,151.7 383.8,136.6 367.3,214 351.7,223.6 332.7,171.1 340.3,211.7 359.6,217.4 394.5,156.5 368.7,140.7 338.7,150.1 328.7,152.5 374.6,200.8 330.9,143.8 320.1,191.1 374.5,202.4 349.1,191.4 366.6,195.7 385.8,229.1 393,177.1 359.4,227.7 356.7,225.8 337.9,167.4 354,142.5 389.1,189 404.6,159.4 343.7,217.3 327.5,185.2 337.2,190.7 394.6,150.3 356.4,199 385.4,204.7 314.7,193 345.7,164.9 394.8,171.4 348.8,204 344.4,196.6 397.7,199.9 384.2,218.8 321.7,198.7 379.8,143 384,213.9 369.4,148.9 387.9,231.3 313.8,181 369.4,231.4 409.9,195.8 339.2,155.2 351.7,158 368.7,195.3 388.8,140.5 364.4,188.5 416.8,176.2 331.8,191.2 412.3,183.6 415,158.2 367.6,209.7 397,177.2 319.9,152.5 393.3,135.4 384.2,199.5 351,157.6 343.9,161.9 391.6,218.1 353.3,181.2 352.5,174.7 402.2,169.5 312,186.4 350.9,138.4 332.5,208.4 385,230 358.8,187.7 368,232.2 364.4,154.8 339.5,164.9 316.3,173.9 407.4,185 342.6,194.1 413.9,197.9 391.9,213 357.7,201.7 378.6,152.3 315.3,162.5 351,177.9 364.8,211.9 408,195.5 344.7,218.5 372.4,218.9 350.3,181.7 342.9,222.1 382.5,224.6 319,193.7 365.9,221.4 322.6,169.7 370.1,203.4 406.3,198.4 333.1,208.7 366.2,154.8 353.4,222.8 397.9,218.4 368.5,198.1 329.7,143.5 359.1,134.3 367.2,218.5 355.6,135.8 330.4,204.1 342.9,219.8 412.3,169.1 370.9,214.5 379.5,207.7 414.2,194.8 412.9,154 401.1,154 345.7,150.8 354.6,223.3 409.6,178.9 380.3,206 405.3,173.7 413.5,169.2 390.8,189.4 402.7,204.4 322.1,149.5 334.5,165.8 370.6,211.8 355.1,221.9 331.7,173.3 346.2,143.3 352.2,213.8 341.1,216 321.8,171.9 352.7,208 333.1,214.7 400,154.7 390.4,208 412.1,188.8 385.8,210.5 385.5,205.7 342.4,186.6 365.1,151.8 399.8,174.3 354.4,160.1 355.5,217.1 371.5,194.2 318.3,150.4 413.4,173.1 398.6,165 354.5,161.6 343.9,156.1 399.1,206.2 378.7,211.4 349.5,172.6 369.4,227.1 394.4,177.4 317.3,159.8 355.3,182.3 389.1,137.8 334.5,159.4 326.7,147.9 392.7,168.9 410,167.2 400.3,214 393.8,227.8 389,223.7 403.6,155.7 397.4,170.6 364.6,224.8 406.4,170.6 417.4,171.8 387.2,140.4 401.3,172.6 324.5,161.4 397.5,155.4 331.4,158.4 333,185.4 375.6,134.7 372.4,148.1 382.6,194.2 371.6,208.8 369.3,192 371.7,151 397.7,217 389.2,228.8 408.1,180.4 314.7,166 360.3,226.1 365,150 388.3,220.5 374,154.6 378.8,212.8 346.7,199.5 369.9,214.6 411.2,194.9 316.3,153.9 371.8,138.1 309.9,180.4 328.3,175.8 350.4,163 322.6,200.5 321.5,157.9 379.9,205.8 389.1,206.1 374.3,226.6 390,229.9 401.5,175.6 324.9,199.7 397.4,207.6 334.4,144.9 360.8,202.8 332.6,207.5 417.6,164.5 367.6,214.2 325.1,154.7 387.8,135.1 370.8,211.4 338.9,160.1 339.6,142.5 399.6,202 414.2,186.2 364.4,148.1 410.8,146.4 396.4,148.1 384.6,231.1 385.5,146 407.2,196.9 406.4,204.6 409.2,188.1 310.2,174.4 359.5,213.4 409.9,152.5 414.3,169.9 350.3,147.8 380.2,212.1 345.8,221.9 342.5,197.3 331.6,143.6 388,231.5 319,157.2 343.9,194.7 399.1,146.1 312.2,166.9 374.5,150.5 339.7,151.9 383.8,224.8 398,145.8 356.7,153.3 349.9,192.6 389.5,154.4 394.7,158.9 336.2,170.9 320.4,194.1 403.6,200 321.3,183.7 365.6,225.4 336.8,178.6 378.8,220.8 353.3,173.3 327.5,164.8 356.2,205.4 348.9,138.2 385.5,196.1 327.3,197.1 408.6,152.7 322.3,176.4 331,163.8 377.5,229.2 380.5,152.8 378.4,151 336.8,182.7 347.7,144.5 392.9,136.2 395.4,190.8 384.7,136.3 339.1,178.9 372.6,196 336.4,169.6 362.2,218.8 399.8,156.1 390.6,223.4 325.2,153.6 327.8,158.2 369.4,230.1 372.8,155.9 355.7,193 334,205.5 386.8,213.1 320.3,168.4 410.8,187.4 310.8,162.3 346.7,211.6 315.6,187.9 355.1,178 388.4,142.8 326.8,208.1 340.2,184.6 340.3,159.8 320.7,162.1 395.8,225.2 404,146.1 414.3,181.9 411.9,186.2 337.1,178.3 387.3,189.5 343.7,185.3 367,150.2 358.5,226.2 353.8,167 386.4,198.9 315,191.2 395.1,216.5 339.8,202.5 358.3,186.1 397.6,225.3 360.1,230.1 392,152.9 315.3,158.2 361.6,228.6 348.3,154.5 377.8,199.7 344.4,193.5 330.1,179.1 359.5,203.5 359,145.4 354.1,150.1 348.9,208 386.4,205.6 357.1,217.6 355.2,221 353,213.4 389.4,139.3 356.5,214.3 380.2,226.8 412.2,189.6 399.4,219.4 408.9,198.6 363.4,199.4 348.1,190.1 317.1,184.2 380.9,154.9 411.7,153.5 350.9,180.4 327.5,196 414.7,177.1 402.9,173.8 316.4,170.1 401.4,162 320.6,177.9 352.8,159.5 340.2,188.7 380.8,138.9 379.4,137.7 369.8,152.4 346.9,183.3 370.3,192 347.8,145.3 330,208.2 369.7,203.1 334.6,177.6"/>
<polyline class="po4" points="378.6,162.3 361.6,171.8 386.3,179.8 376.3,185.9 368.4,178.4 367.6,172.5 362.4,164.2 375.5,165.3 377,162.7 376.5,171.9 370.9,163.9 375.7,165.5 365.5,174.8 379.6,172.1 381.6,161 368.7,162.7 367.5,187.7 358.3,165.9 384.7,160.8 366.1,188.2 367.5,165.7 387.5,168.1 390.1,169 385.2,161.3 387.6,169.3 376.8,165.7 376.7,184.2 359.2,170 370,159.7 358.3,171.6 363.8,168.1 371.6,162.8 383.7,179.5 372.6,171.1 370.1,185 380.2,180.3 367.5,181.7 368.8,177.4 384.3,164.4 381,187.3 361.6,173.4 356.9,168.6 387.9,169.9 372.3,168.1 357.5,173.2 370.8,170.4 370.4,176.3 374,163.4 386.1,171.5 376.9,182.3 364,169.7 376,157.5 376.3,187.5 366.3,164.4 378.4,177.2 360.6,182.4 373.4,183.4 386.3,175.7 363.9,168.2 378,160.8 371.1,177.4 377.1,162.2 360,175.5 372.9,170.1 378.4,168 369.9,184.9 372.3,157.6 384.3,186.6 385.7,175.8 363.7,178.3 363.5,179.6 372.4,168.6 377.4,190.4 359.5,180.8 369.6,188.2 385,182.4 363.7,174.8 378.9,167.9 385,162.1 375,172.7 374.5,164.4 387.6,170.3 372.1,185.3 373.1,181.1"/>
<g fill="rgb(244,163,12)" fill-rule="evenodd" filter="url(#bl0)"><path d="M320.5 363.3L310.5 364.4L300.5 362.6L288.5 357.8L274.5 349.7L258.5 338.2L238.5 321.6L216.5 301.2L198.7 282.9L188.4 270.9L179.5 258.9L173.7 248.9L169.9 238.9L168.8 230.9L170 222.9L174.2 214.9L179.9 208.9L186.5 203.9L196.5 198.4L220.5 189.4L248.5 182.4L272.5 178.2L288.5 176.2L312.5 175.1L332.5 176.4L340.5 178.1L350.5 182.1L356.5 186.1L360.5 189.9L365.4 196.9L368.7 204.9L371 214.9L371.8 224.9L371.1 248.9L369.1 264.9L364.8 286.9L360.8 302.9L355.6 318.9L350.7 330.9L345.6 340.9L340.5 348.5L334.5 355.3L328.5 359.9Z" fill-opacity="0.030"/><path d="M320.5 358.9L310.5 360L300.5 358.2L288.5 353.4L274.5 345.3L258.5 333.8L238.5 317L219 298.9L201.7 280.9L191.6 268.9L183 256.9L177.5 246.9L174.6 238.9L173.5 230.9L174.7 222.9L178.9 214.9L184.6 208.9L192.5 203.2L200.4 198.9L224.5 189.7L256.5 181.9L286.5 177.4L312.5 175.9L334.5 177.8L348.5 182.2L354.5 185.8L360 190.9L364.2 196.9L367.7 204.9L369.9 214.9L371 226.9L369.4 254.9L363.6 286.9L355.4 314.9L350.5 326.8L345.3 336.9L340.5 344.1L334.5 350.8L328.5 355.5Z" fill-opacity="0.031"/><path d="M314.5 355L304.5 354.2L294.5 351.2L282.5 345.3L268.5 336.2L252.5 323.9L234.5 308.2L216.6 290.9L201.9 274.9L187.1 254.9L182 244.9L179.5 236.9L178.9 228.9L180.8 220.9L184.2 214.9L189.9 208.9L196.5 204L205.8 198.9L216.5 194.3L230.5 189.6L262.5 182L292.5 177.9L318.5 177.1L336.5 179.3L344.5 181.7L350.5 184.6L356.3 188.9L360.1 192.9L364.9 200.9L367.6 208.9L369.4 218.9L370 230.9L369.3 244.9L367.4 260.9L363.6 280.9L359.5 296.9L350.9 320.9L345.9 330.9L340.5 339.1L334.5 345.9L328.5 350.5L322.5 353.4Z" fill-opacity="0.043"/><path d="M322.5 349.1L314.5 350.7L304.5 350L292.5 346.1L280.5 339.8L266.5 330.4L250.5 317.8L232.5 301.8L215.5 284.9L204.8 272.9L195.6 260.9L189.4 250.9L185.1 240.9L183.5 232.9L184 224.9L187.4 216.9L192.4 210.9L198.5 205.8L206.6 200.9L226.5 192.4L252.5 185.2L284.5 179.7L310.5 177.8L330.5 179.1L340.5 181.3L346.5 183.6L352.5 187.1L356.9 190.9L361.6 196.9L365.4 204.9L367.5 212.9L368.8 222.9L369 234.9L368 248.9L363.4 276.9L355.5 304.9L350.7 316.9L345.7 326.9L340.5 334.8L334.5 341.6L328.5 346.2Z" fill-opacity="0.044"/><path d="M320.5 345.1L310.5 346.1L300.5 344.3L290.5 340.5L278.5 333.9L264.5 324.2L246.5 309.5L228.6 292.9L213.4 276.9L203.5 264.9L196.7 254.9L191.5 244.9L189 236.9L188.5 228.9L190.3 220.9L193.8 214.9L199.6 208.9L206.5 203.8L214.5 199.4L234.5 191.5L262.5 184.4L292.5 179.8L314.5 178.8L332.5 180.4L340.5 182.5L346.5 184.9L352.5 188.6L357.1 192.9L361.4 198.9L364.9 206.9L366.8 214.9L367.8 224.9L366.9 248.9L361.6 278.9L353.6 304.9L344.5 324.1L338.5 332.6L332.5 338.7L326.5 342.7Z" fill-opacity="0.058"/><path d="M320.5 340.9L312.5 342L302.5 340.7L290.5 336.3L278.5 329.7L264.5 319.9L248.5 306.8L232.5 292L218 276.9L208.1 264.9L201.2 254.9L196 244.9L193.5 236.9L192.9 228.9L194.8 220.9L198.3 214.9L204.1 208.9L209.4 204.9L218.5 199.7L238.5 191.8L266.5 184.7L294.5 180.6L316.5 179.8L334.5 181.8L346.5 186.1L352.5 190L356.5 193.8L360.5 199.5L363.8 206.9L365.7 214.9L366.8 224.9L365.8 248.9L360.8 276.9L353.5 300.9L348.5 312.4L343.9 320.9L338.5 328.4L332.5 334.5L326.5 338.5Z" fill-opacity="0.062"/><path d="M316.5 337.2L306.5 337L296.5 334.3L286.5 329.7L274.5 322.5L260.5 312.1L245 298.9L230.5 284.9L217.8 270.9L210.1 260.9L203.8 250.9L200.1 242.9L198 234.9L198 226.9L199.7 220.9L203.2 214.9L209 208.9L222.5 200.2L242.5 192.2L266.5 186L294.5 181.7L314.5 180.8L332.5 182.5L340.5 184.8L346.5 187.5L351.6 190.9L355.7 194.9L359.9 200.9L363.1 208.9L364.9 216.9L365.8 226.9L365.6 238.9L364.2 252.9L358.3 280.9L350.5 303.3L345.8 312.9L340.5 321.2L334.5 328.1L328.5 332.8L322.5 335.7Z" fill-opacity="0.079"/><path d="M316.5 333L306.5 332.8L296.5 330.1L286.5 325.5L274.5 318.2L260.5 307.7L246.5 295.7L232.5 282L220.8 268.9L213.2 258.9L208.3 250.9L204.6 242.9L202.5 234.9L202.5 226.9L204.2 220.9L207.7 214.9L213.6 208.9L219 204.9L228.5 199.6L248.5 191.9L272.5 186L298.5 182.3L318.5 181.9L334.5 184.1L346.6 188.9L352.1 192.9L355.8 196.9L359.6 202.9L362.5 210.9L364.1 218.9L364.8 228.9L363 252.9L356.9 280.9L348.5 303.2L344.5 310.8L339 318.9L334.5 323.9L328.5 328.6L322.5 331.5Z" fill-opacity="0.086"/><path d="M322.5 326.9L314.5 328.6L304.5 327.8L294.5 324.7L284.5 319.7L272.5 312.1L258.5 301.2L244.6 288.9L232.8 276.9L224.2 266.9L216.9 256.9L211.2 246.9L208.3 238.9L207.1 230.9L208.4 222.9L211.3 216.9L216.3 210.9L227.4 202.9L245.2 194.9L268.5 188.2L292.5 184.1L312.5 182.9L330.5 184.4L342.5 188.1L347.3 190.9L352.5 195.1L357 200.9L359.9 206.9L362.2 214.9L363.3 222.9L363 242.9L359 266.9L352.5 288.7L344 306.9L334.5 319.2L328.5 324Z" fill-opacity="0.109"/><path d="M320.5 323.1L312.5 324.2L302.5 322.9L292.5 319.3L282.5 314.1L270.5 306L256.5 294.8L242.5 281.7L230.8 268.9L223.1 258.9L218.1 250.9L214.3 242.9L212.2 234.9L212.2 226.9L213.9 220.9L217.5 214.9L223.4 208.9L236.1 200.9L254.5 193.5L276.5 187.9L298.5 184.6L316.5 184.1L332.5 186.1L344.5 190.6L352.5 197.1L356.5 202.7L359.2 208.9L361.3 216.9L362.2 224.9L361.5 244.9L357 268.9L350.5 288.9L346.5 297.6L341 306.9L336.5 312.6L330.5 318.1Z" fill-opacity="0.123"/><path d="M318.5 319.2L310.5 319.8L302.5 318.5L292.5 314.9L281.3 308.9L268.5 300L256.5 290L244.8 278.9L234 266.9L226.5 256.9L221.7 248.9L218.3 240.9L216.7 232.9L216.9 226.9L218.6 220.9L222.2 214.9L228.2 208.9L241 200.9L256.5 194.6L278.3 188.9L300.5 185.7L318.5 185.3L332.5 187.3L344.5 192.2L352.2 198.9L356.1 204.9L358.5 210.9L360.3 218.9L361.1 226.9L360 246.9L354.9 270.9L347.5 290.9L338.5 305.8L334.5 310.3L328.5 315.1Z" fill-opacity="0.140"/><path d="M316.5 315.1L308.5 315.2L300.5 313.5L290.5 309.5L280.5 303.8L268.5 295.3L256.5 285.1L244.5 273.1L235.7 262.9L230 254.9L225.5 246.9L222.5 238.9L221.4 232.9L221.6 226.9L223.4 220.9L227 214.9L233.1 208.9L246.1 200.9L261.3 194.9L282.5 189.5L302.5 186.7L320.5 186.7L333.2 188.9L344.5 193.9L351.9 200.9L355.4 206.9L357.6 212.9L359.2 220.9L359.8 228.9L358.3 248.9L352.6 272.9L344.5 291.9L336.5 303.6L332.5 307.6L326.5 311.8Z" fill-opacity="0.163"/><path d="M322.5 309L314.5 310.7L306.5 310.3L298.5 308.2L288.5 303.8L277.3 296.9L266.7 288.9L255.5 278.9L245.9 268.9L238.5 259.7L232.7 250.9L228.8 242.9L226.6 234.9L226.4 228.9L227.6 222.9L230.6 216.9L235.9 210.9L247.6 202.9L261.3 196.9L282.5 191L298.5 188.5L314.5 187.8L328.5 189.2L339.6 192.9L348.5 199.3L352.5 204.6L354.7 208.9L356.6 214.9L358 222.9L358 238.9L354.5 260L348.5 278.4L340.5 293.5L332.5 302.9L328.5 305.9Z" fill-opacity="0.194"/><path d="M318.5 305.1L310.5 305.7L302.5 304.3L293 300.9L284.5 296.3L274.5 289.5L264 280.9L253.7 270.9L245.1 260.9L239.4 252.9L235.1 244.9L232.5 236.9L231.8 230.9L232.5 224.9L234.9 218.9L239.4 212.9L243.9 208.9L253.5 202.9L268.5 196.6L288.5 191.6L306.5 189.4L320.5 189.7L332.5 191.9L342.5 196.6L349.1 202.9L352.5 208.4L354.5 213.6L356.6 226.9L355.9 242.9L352.3 260.9L346.5 277.1L338.5 291L334.5 295.7L328.5 300.8L324.5 303Z" fill-opacity="0.241"/><path d="M320.5 299.5L314.5 300.6L306.5 300.2L298.5 298L288.5 293.4L278.5 287.1L268.5 279.2L258.5 269.7L250.5 260.6L245 252.9L240.6 244.9L237.9 236.9L237.2 230.9L237.9 224.9L240.3 218.9L244.9 212.9L249.5 208.9L259.4 202.9L274.7 196.9L291.1 192.9L306.5 191L318.5 191.1L329.7 192.9L339.4 196.9L346.7 202.9L350.5 208.6L352.3 212.9L354.8 224.9L354.4 240.9L350.5 259.8L344.5 275.5L338.5 285.6L330.5 294.2L326.5 296.9Z" fill-opacity="0.273"/><path d="M318.5 294.9L312.5 295.6L304.5 294.7L296.5 292.1L286.5 287L277.5 280.9L268.5 273.3L260 264.9L253.4 256.9L248.2 248.9L244.5 240.9L243 234.9L242.7 228.9L244 222.9L245.9 218.9L250.6 212.9L255.3 208.9L265.7 202.9L282.2 196.9L294.5 194.2L308.5 192.7L319 192.9L330.5 195L338.9 198.9L346.5 206L350.9 214.9L352.5 221.5L353.1 228.9L352.5 240.9L348.5 259L342.5 273.5L336.5 282.8L328.5 290.5L324.5 292.9Z" fill-opacity="0.313"/><path d="M320.5 289L314.5 290.2L306.5 289.7L300.5 288.2L292.5 284.8L282.7 278.9L274.9 272.9L260.5 258.1L254.5 249.6L251.1 242.9L249.1 236.9L248.3 230.9L248.6 226.9L250.6 220.9L254.5 215L258.8 210.9L268.2 204.9L283.5 198.9L294.5 196.3L308.5 194.6L319.5 194.9L329.5 196.9L338 200.9L344.4 206.9L348.5 214.4L350.8 224.9L350.6 238.9L348.4 250.9L342.5 267.1L336.5 277L328.5 285Z" fill-opacity="0.364"/><path d="M320.5 283.3L314.5 284.4L308.5 284.3L301.9 282.9L292.5 278.9L278 268.9L264.5 254.8L260.4 248.9L256.5 240.9L254.5 230.9L255.3 224.9L256.8 220.9L261 214.9L265.5 210.9L275.5 204.9L286 200.9L296.5 198.3L310.5 196.8L318.5 197L328.5 199L336.5 202.9L342.5 208.6L346.5 216.2L348.5 225.8L348.5 235.9L346.2 248.9L342.5 259.7L336.5 270.6L328.5 279Z" fill-opacity="0.429"/><path d="M318.5 275.2L312.5 276L306.5 275.4L294.3 270.9L287.9 266.9L280.5 260.9L270.1 248.9L266.7 242.9L264.5 237L263.7 230.9L264 226.9L267.4 218.9L270.7 214.9L275.7 210.9L282.8 206.9L294 202.9L304.2 200.9L314.5 200.5L322.5 201.4L330.5 204.1L336.5 208.2L340.3 212.9L343.6 220.9L344.8 230.9L343.7 240.9L340.5 252.4L336.5 260.5L330.5 268.2L324.5 272.8Z" fill-opacity="0.625"/></g>
<polyline class="py0" points="271.9,345.3 181,207.4 323,401.8 186.7,339.2 200.5,301.6 228.7,346.8 255,380.7 163.4,217 175,248.8 238.4,175.9 373.4,250.7 305.9,173.3 122.9,224.2 149.5,229.1 193.6,281.8 271.1,390.4 293.3,360.7 190.1,275.3 222.4,333.1 331.2,360.3 167.7,212.8 177,243 128.7,236.6 235.5,381.3 366.9,281.2 330.2,357.2 152.2,248.7 269.4,372.5 231.1,178.9 298.2,361.3 175.2,257.1 334.3,400.5 203,290 132.1,239.5 180.3,298.5 278.2,351.1 294,411.4 156,229.5 148.5,232.9 129.7,209 168.9,303.7 148.7,201 151,260.4 173.2,225.8 234.1,371.7 268.4,359.7 291,382.9 181,264.5 219.8,303.2 167.2,251.8 317.8,408.9 255.8,363.8 355.4,322.8 384.7,220.2 365.7,190.8 273.6,171 364.7,280.4 155.8,302.3 147.1,235.1 210.2,186.5 373,274.2 362.8,289.9 184.1,190.9 161.7,235.6 194.6,271.3 331,378.6 273.6,347 167.3,204 180.2,210.5 121,260.3 351.6,321.9 374,237.5 266.5,352 165.4,260.5 280.6,174.8 361.2,391.5 160.7,245.7 251.6,349.1 218.7,363.9 216.3,339.2 261.8,180.5 250.7,372.8 124.5,235.5 208.3,188.2 363.3,167.2 343.2,339.5 369.4,281.6 267.2,340.6 136.2,207.4 174.5,253.7 208.2,293.1 229.9,379.1 210,194 328.3,374.1 357.8,323.1 181.9,267.9 252.5,353.1 137.4,352.6 326,381.4 188.2,184 327,377.9 159.8,252.2 356.9,169 242.6,346 303.8,373.7 175.2,260.4 336.1,389.6 329.9,385.7 321,407 347.2,371.2 312.4,380.6 238.5,400.5 182.8,287.2 278.3,380.7 155.4,247.4 367.8,196.6 163.9,289.1 133.2,209.2 189.4,363.8 264.3,350.3 222.6,184 375.6,202.2 167,262.8 157.1,295.5 255.1,178.2 338.1,388.8 176.9,195.6 172,265.4 252.3,344 374.8,220.7 315.7,382.1 272.4,169.7 332.1,355.2 206.3,194.8 259,181.3 184.5,286.8 329.5,365.8 139.9,192.7 152.5,246.3 168.3,210.6 140.9,282.3 143.6,201.1 246.7,179.2 221,304.9 167.5,232 340.8,378.9 310.4,405.3 200.9,280.6 353.2,325.1 150.2,235 214.4,294.3 310.9,416.6 120.7,280.7 136.2,352.3 205.6,324.9 226.5,309.8 357.7,188.5 377.7,273.6 294.2,355.5 341.6,389.4 252.8,178.7 255.6,333.9 306.4,368.8 236.9,336.3 208.6,179.4 248.5,330.8 187.8,280.8 362.1,299 362.2,299.6 162.9,249.6 190,301.9 252.5,344.3 352.3,334.7 136.8,197.8 324.6,396.4 313.2,378.1 225.7,340.7 181,306.5 211.5,324.7 196.4,185.1 347.8,346.5 245.4,325.6 181.2,346.1 111.1,244.9 383.3,270.7 149,247.6 221,327.7 327.6,387.1 305.8,386.8 272,355.4 206,366.5 362.1,307.8 192.1,204.1 286.2,362.9 147.7,316.4 227.1,316.4 309.2,363.3 146.8,247.6 171.4,213.8 220.2,331.8 170.3,260.8 122.7,234.3 309,382.7 270.8,166.2 162.8,213.7 329.6,357.2 196.8,296.5 173.5,234 290.4,177.7 362.1,305.2 345.5,354.6 213.2,381.5 171.2,236.5 151.4,237.3 273.8,386 204.3,344.2 285.3,386.9 158.7,201.9 321.1,361 194.5,298.7 249.1,176.4 130.7,271.6 347.9,371.7 253.5,179.1 195.3,192.4 158.9,255.2 357.3,324.1 288,373.3 356.5,311.8 272.9,381.5 243.1,363.6 338.4,397.3 284.3,372.2 373.6,232.2 164.6,304.6 249.1,369.8 144.2,273.1 357.3,186.7 251.5,365.9 281.5,378.7 345.4,338.4 139.2,284.5 254.2,171.1 131.2,208.3 291.3,355.7 200.1,308.6 149.5,239.3 285,165.6 284.8,413 287.4,358.6 362.6,292.1 236.3,314.6 327.7,356.2 189.7,264.7 182.5,194.9 177.7,278 199.9,200.2 157.2,203.2 171.8,286.2 293.2,386.6 330.1,387.1 267.8,365.7 184.1,257.4 317.4,379.3 192.8,319.8 276.6,178.4 190.6,204.9 171,221 293.1,368.6 307.4,378.2 225.4,322 176.5,326.3 169.9,236.6 383.3,205.2 244.8,350.6 164.9,274.1 127.9,216.6 120.5,218.7 307.8,369.1 165.4,232.1 362.2,370.4 287.5,393.8 196.7,277.3 168.7,216.9 206.6,337 276.5,178.7 361.4,342.7 265.1,336 168.1,284.3 305.1,361.2 139.9,227 315.1,174.3 331.1,412.7 328.5,383.8 239.2,186.5 139.5,246.2 190.3,291.4 217.9,310.5 335,399.5 178,199.5 127.3,232.5 265.8,350.4 175.6,392.9 366.9,186.1 222.3,299.9 317.5,397.8 228,357.1 367.4,185.1 286.4,359.1 191.5,296.3 157,192.3 183.4,190.4 163.2,203.2 162.6,269.3 168.4,271 326.1,374.1 147,200.4 344.8,359.1 176.9,284.1 149.7,244.8 344.9,357.2 139.4,261.2 208.4,329.4 274.4,178 190.5,288.5 322.1,360.4 114.7,214.9 370.9,316.9 203.2,291.1 171.1,303.9 369.6,192 151.2,234.7 222.9,357.4 120,224.6 318.2,376.8 134.1,253.2 148.3,346.7 180.9,249.6 323.2,376.5 171.6,258.3 324.4,368.4 182.5,280.4 181,205 167.8,280.6 208.9,287.3 202,296.9 162.1,255.1 365.7,184.7 232.8,370 149.5,269.4 207.5,289.9 236.1,184.5 374.6,246.2 168,215.1 353.3,324.5 208.8,196.3 181.6,298.4 129.4,281.7 199.5,320.5 266.4,410.3 374,254.2 311.1,374 222.8,310 341.4,345.9 291.1,376.8 376.9,218.8 269.7,368.8 236.3,314.7 176.1,196.5 150.7,274 182.2,269.7 208.5,175.8 184.2,297.5 162.9,215.2 115.5,214.8 321.1,363.7 174.5,260.5 218.8,181 136.3,214.5 154.2,196 183.1,204.1 183.3,261.8 331.5,362.6 235.2,311.8 361.2,355.6 180.8,200.3 300.2,365.7 176.6,289.2 205.2,301.8 240.2,322.2 179.4,264 170.3,242.6 336.5,413.1 144.7,224.2 375.3,216 149.4,234.1 177,224.6 219.2,186.1 203.7,346.8 135.9,261.7 306.4,365.3 198.5,294.4 352.5,345.6 369,285.4 175.7,255.9 147.1,219.9 184.5,336 184.8,285.1 207.2,300.6 224.4,301.1 170.1,247.5 156.4,222.4 274.3,175.6 278.5,389.3 294.2,399.9 140,298.4 199.8,198.6 278.6,369.7 212.4,190.2 178.4,212.2 194.4,185.5 275.9,167.5 148.4,219.7 154.1,217.4 195.3,279.2 273.5,170.6 203.3,336.9 176.6,242 113.8,417.1 345.8,366.4 289.8,370.5 302.8,394.3 299.6,375.4 153.7,235.5 172.2,322.1 159.2,242.2 304.8,169.6 325.7,360.2 373.2,218.1 355.8,185.2 244.2,175.2 224.6,181 379.8,244.2 221.2,319.5 323,357.9 269.8,346.2 362.7,288.7 364.3,286.7 300.7,356.9 356.1,369.4 383,238.1 190.6,267 349.2,354.5 145.2,251.4 174.4,215.4 327.4,382.2 134.3,295.6 124.6,250.5 360.4,334.7 334.9,354.9 160,271.7 259.8,345.1 257.1,342.5 306.7,371.4 185.3,295.2 148.5,235.8 241.9,320.5 147,291.3 336.1,356.4 308,360.9 168.1,300.6 295.2,408.8 197.4,192.5 152.1,267 184.4,279.1 218.4,313.3 159.4,275.5 184.1,293.2 360.4,183.5 179.3,201.7 150.3,264.3 254.1,339.3 172.1,225.1 176.7,203.7 259.8,173 377.8,199.8 255.1,374.5 151,211 345,341.8 266,378.8 327.1,173.4 358.8,410 224.8,329.4 207.1,184.5 312.7,174.5 372.7,245 276.5,386.4 255.9,182.7 147.7,248.9 345.6,387.7 264.6,353.7 183.5,201.4 157.5,223.8 318.9,172.8 333.5,414.9 351.6,349.1 186.5,269.2 217.1,181.7 348.8,328.6 278.7,348.9 145.3,248.4 236.9,327.2 152.6,207.3 315.1,387.4 380.7,264.7 357.1,309.3 258.9,349.1 275.5,358.2 270.4,349.5 338.1,360.6 241,319.9 247.8,331.8 177.7,312.4 207.2,292.1 210.8,331 207,285 358.2,333.7 174.3,287.2 377.6,242.3 201.4,284.8 273,372.8 237.4,324 341.4,177.9 286.4,411 167.3,228.7 170.2,291.3 166.8,215.8 199.2,321.7 214.3,313.1 332.8,350.4 346.3,333.2 279.1,368.1 345.1,178.8 189.8,313.3 313,405 314.8,364.9 113.6,218.5 317.3,399 294.7,376.9 154.6,358.7 220.2,315 338.1,416.8 372.1,213.7 111.1,323 161.3,227.1 347.1,178.9 163.9,271.5 240.4,365.1 169.9,220.4 327.1,361.1 156.1,257.1 350.7,359.3 357.7,339.3 161.8,244.5 228,352.1 191.5,194.2 236.6,332.1 332.6,371.3 372.3,228.2 376.2,375.5 204.1,305.3 154,250.2 191.6,274.2 194.4,290.1 169.2,221 181.4,255.8 269.6,400.4 138.9,265.2 341.2,414.9 347.6,181.6 238,387.8 145.5,219.9 252.9,331.1 152.3,298.2 186.7,183 245.1,372.9 299.5,391 335.9,172.3 329.6,352.7 282.6,353.6 231.1,335 357.3,336.3 276.4,362.8 174.5,294 206.1,284.2 303.7,395.1 258.3,346.1 216.2,369.2 375.8,220.4 221,336.1 344,179.4 210.6,293.5 171.7,172.6 357,338.3 232.3,379.4 239.3,367.1 174.9,207.1 241.4,388.7 218.3,302.8 291.7,366.7 168.8,296.7 370.6,197.8 205.9,186.8 351.6,181 173.8,187 204.9,357.7 174,227.7 257.2,341 186.9,208.7 153.8,375.1 355.3,180.7 145.3,225.4 359.3,376.5 241.3,339.2 290.3,388.2 125.8,239.9 169.8,208.1 291.1,379.3 334.3,353.3 250.7,333.1 150.1,249.3 360.7,332.9 215.9,314.5 168.8,250.4 332.2,361.8 368.8,314.6 271,385 285.7,175.2 182.1,268.8 154,166 173.1,249.4 332,357.7 290.8,367.8 191.1,187.8 196,281.9 114.7,335.3 184.8,190.5 205.7,309.5 226.1,332.7 206.2,191.5 207.9,300.3 191.6,298.2 153.6,280.4 180.1,281.7 290.7,352.1 191.2,309.7 135.6,233.6 121.7,219.6 274.4,399.8 180.5,288.8 162.4,209.1 255.2,179 196.2,291.6 310.3,374.1 331,357 329.2,172 154.9,293.6 275.6,371.1 315.9,404.5 140.2,238.9 173.6,210.3 135,262.8 173.1,251.7 185.9,209.1 387,192.9 315,175.7 204.2,189.9 160.2,205.1 257.9,332.6 170.9,351.2 186.6,261.8 358.9,178.7 224.2,179 173.2,276.2 210.8,343.1 251.3,409.9 206.1,187.3 224.5,351.9 197.5,279.8 358.4,187.3 138,218.9 116.6,275.9 339.4,365.6 309,174.1 266,354.1 227.7,350 322.2,394.1 166.6,262.4 328.2,366.7 368.3,199.4 358.3,325 376.3,209.9 204.5,324.3 204.8,288.2 321.7,169.2 120.4,232.1 279.8,354.9 177.3,244.6 355.2,330.9 272.9,351.3 170.2,275.1 369.3,251.7 188.7,297.3 309.6,401.9 168.8,245 177.3,243.6 373.3,228.9 176.3,286.5 267.8,176.4 223.3,306.3 174.5,290.8 164.1,198.7 367,277.5 319.5,365 206.6,187.7 239,328.3 153.1,239.1 235.1,179.4 348.4,176.5 291.3,359.8 154.6,267.9 114.8,367.1 142.6,251.8 368.2,332.8 299.5,176.7 299.9,368.2 160.5,244.5 283.6,357.6 328.1,362.9 181,269.3 369.8,217.4 379.8,266.6 158.1,233.5 225.2,311.4 284.4,177.2 229.7,331.9 175.4,267.7 374.6,251.7 345.9,334.2 206.2,353.6 179,263.3 298,372.1 361.3,187.6 161.2,241.4 357.6,332 221.3,186.5 195.2,202.3 366.1,290.6 266,177.7 203.4,186.5 168.7,247 353.4,354.6 286.1,358.9 184.7,287.5 201.1,301.6 164.2,222.2 221.1,191.7 262.4,353.5 184.9,269.3 173.5,226 362.7,323.4 347.3,351 266.9,364.5 257.3,349.6 292.8,367.2 191.4,399.1 252.5,345.1 152.8,275.1 299.4,397.5 171.9,234.2 267.2,411.6 204,331.1 154.9,179.3 359.4,185.1 301.9,362.1 266.8,373.1 301.1,371.9 330.5,392 360.3,304.1 164.3,209.8 266.2,336.9 169.2,296.3 312,359 167.5,252.8 221.1,315.7 345,401.9 232.3,343.5 355.3,336.4 202.9,198.9 297.2,388.4 360.4,190 262.1,386.5 159,343.1 361,308.1 269.2,398.5 298,165.2 372.8,250.3 227.5,178 171.1,214.3 205.1,181.5 370.2,283.1 289.8,386.5 208.5,326.4 134.9,254.5 303.3,399.6 333.8,393.2 271.7,358.7 315.7,390.4 372.2,248.3 373.2,264.4 167.8,234.9 174,312.6 313.1,370.8 196.2,289.8 344.2,381.5 374,216.4 138.8,216.3 375.2,260.7 167.8,238.9 144.3,209.9 226.5,356.4 189.2,194.8 129,261.2 234,323.7 208.6,287.9 163.7,367.9 383.2,251.5 333.6,170.7 175.9,194.4 203.2,298.1 215,373.1 170.2,227.6 262.1,337.7 317.4,358.1 306.9,374.9 222.3,345.6 245.7,351.5 301.9,366.3 186.1,274.3 353.1,335.5 320.6,368.5 224.6,324.3 314.2,361.6 265.1,356.4 197.1,276.8 248.1,387.4 252.3,181.5 150.3,231.9 121.2,196.7 164.6,251.9 167.2,300.3 216.6,370 147.2,250 127.8,258.1 146.7,198.7 170.6,190.5 165.9,244.2 187.5,206.6 295.2,173.5 191,183.1 112.6,222 318.1,408.8 180.6,201.6 116,204.5 149.6,306.2 357.1,331.8 169.1,272.8 264,389.5 197.6,311.4 379.4,278 153.7,208.9 334.8,372.9 357.8,380.9 222.2,314.4 256.3,352.4 249.5,333.4 238.6,326.3 334.7,378.2 273.3,378.3 136,294.7 219.7,324.6 373.2,247.1 127.1,261.3 171.4,243.7 230.6,356.2 155.9,248.6 224.7,381.6 339.8,392.7 155.6,229.1 129.7,258.4 336.6,350.3 277.8,379.5 138.9,200.5 226.8,317 195.6,187.8 165.3,245.3 221.7,309.4 134.3,300.8 322.6,395 245.5,342.6 240,388.4 235.7,323.3 174.4,255.5 198.1,290.4 202.6,290.6 306.6,410.7 189.5,266.7 294.4,389 303.7,360.5 298.3,177 175.6,227.1 259.1,358.8 315.8,174.7 297.9,374.4 232.1,341.5 187.9,208.1 168.5,250.4 351.8,374.3 157.2,251.9 322.8,414.4 125.5,239.4 166.8,227.8 301.7,368.7 229.1,344.5 147.2,270.7 195.1,289.5 185.3,208.2 115.9,238.5 236.3,364.2 246.2,324.9 125,249.7 325.4,355.1 161.6,209.1 239.5,181.3 253.7,353.9 225,340.3 247.5,181.7 127.5,274.9 221.3,180 225.2,184.8 281.1,367.5 202.1,300.8 252.5,335.9 152.8,213.6 284.3,389.3 167.6,257.2 159,248 231.6,312.2 341.9,347.7 243.1,332.9 158.7,298.4 260.3,388.5 191.1,269.5 188.6,292.5 182,354.2 370.9,204.8 191.8,189.5 351.1,324.6 337.1,404 283.3,177.6 251.5,394.9 317.8,369.5 131.5,211.9 282.2,347.6 372.9,218.5 196,288.3 259,343.2 294.7,379 377.8,246.2 317.8,403.5 354,322.4 246.9,358.1 329.5,368.3 251.7,339.3 341.3,347 271.4,165.9 193.4,300.2 158.1,219.8 370.3,220.9 178.2,212.6 128.5,207.1 182.4,184.5 361.8,299.6 232.6,182.4 223.8,308.8 119.7,259.1 279.7,373.5 378.3,298.4 285.7,402.9 194,182.1 224.6,181 144.9,232.5 235.1,369.1 169.5,281.6 179,284.9 275.1,373.3 172.7,260.5 178.8,270.7 191.1,270.8 218.4,361.1 361.1,318.6 274.2,347.8 344.8,379.3 163.7,238.8 379,273.6 206.3,287.4 248.4,178.8 221.9,399.2 179.5,205.8 168.9,220 275.9,373.7 284.8,364.1 150,232.6 268.3,361.5 363.3,317 245,388.2 234.7,311.7 239.3,177.5 308.3,357.6 184.2,197.5 119.3,291.9 290.6,385.7 238.8,351.2 297.4,368.1 278.5,373.6 194.7,199.5 166.1,223.5 254.9,343.1 190.8,198.8 170.1,224.4 371,234.2 289.2,175.4 240,316.4 267.6,369.6 380,200.4 342.2,376.5 278.5,363.9 131.3,278 261.7,177.3 157.8,218.7 369.1,254.9 126.5,334.7 376.6,212.5 375.1,320.9 349.5,402 111.5,246.3 250.7,329 273.4,361.9 257.6,351.5 363.9,323.8 175.8,219.6 262.8,365.1 208.9,387.2 360.9,332.6 372.3,185.5 353.8,335.9 368.1,318.2 115.2,231.8 263,377.7 227,359.5 261,367.6 378.8,310.2 203.4,381.7 374.4,236.7 354.6,373.6 208.4,329.4 309.9,394.2 193.1,196.7 152.6,263.4 286.7,360.3 368.9,204.1 209.9,343.6 177.3,269.8 220.2,316.5 369.2,260.7 335.3,367.8 247.8,334.9 187.4,260.7 364.4,318.2 318.2,377.7 276.4,371.6 163.1,249.3 342.5,350.3 239.2,319.1 135.5,280.6 273.2,342.4 278.1,350.4 173.9,220.6 285.1,362.1 147.3,209.2 366.2,184.5 169.4,236.4 184,274.7 252.1,334.8 188,201.7 304,371.2 231.7,338.6 165,215.9 158,243.6 165,254.1 129,204.7 367.3,281.8 219.7,306.4 238.3,320.4 285.8,376.1 240.2,330 158.4,265.6 128,254 232.4,392.4 283.7,357.6 206.7,195.8 149.1,312.6 186.5,258.9 379.8,228.7 255.5,331.6 180.5,266.4 120.4,287.1 278.6,351.2 219.8,308.2 342.1,363.2 204.5,309.6 162.1,267.6 218.3,190.6 186.7,198.2 362.8,319.3 313.8,393.4 284.7,380.4 259.8,171.3 272.3,347.6 237.6,177.3 317.2,404 279.1,353.8 359.8,307.3 315.4,387 195.5,284.7 153.3,219.2 145,250 338.2,355.3 364.4,296 160.7,183.7 380.5,250.3 195.7,284.1 339.9,349.5 216.8,312.1 348,372.1 164.5,224.5 332,417 143.4,241.1 177.3,273.2 164.1,187.1 360,329.2 185.2,189.4 379.4,225.6 321.8,412.6 336.2,353.8 184.8,203.2 189.6,175.6 325.2,356.8 151.4,253.4 341.1,356.8 170.5,215.4 341.4,388 333.4,382 183.4,266.4 149.1,240 319.9,385.2 224.5,304.7 246.8,410.8 287.7,174.6 307.7,363 118.5,290.7 211,333.7 156,245.5 327.6,363.2 176.6,289.5 174.6,249.1 202.7,196.9 346.3,355.6 244.8,320.6 166.7,202.7 154.6,257.3 328.6,391.7 163.7,223.6 142.6,213 338.2,355 192.8,192.6 330.2,362.3 246.1,329 360.8,396.4 189.4,304.9 156.8,201.4 303.6,170.7 152.6,237.4 153.1,233 377.9,347.9 251.4,331.4 247.3,383 326.2,387.3 306.2,176.2 140.9,282 343.3,350.1 203.9,192.8 225.7,342.2 259.7,339.5 330.5,175.6 258.9,371.6 326.4,358.3 269.1,341.9 253.3,328.5 189.5,276.9 375,210.2 178.6,357.1 368.7,265.8 307,402.7 364.5,303.8 357.6,309.4 374,197.9 330.6,375.1 172.2,345.6 165.9,216.1 314.7,358.6 365.9,304.8 228.2,342.1 256,399.7 332.7,352.7 370.9,233.4 229.7,323 171.8,234.5 303.3,404.8 182.2,287.7 208.4,287.8 141.2,359.2 231.7,178.8 216.8,305.1 362.7,346.3 215,326.8 316.7,363.1 316.9,378 303.3,413.4 233.4,311.4 245.7,175.3 279.8,395.8 290.2,365 263.2,181 202.4,288.1 147.4,261.7 160,229.8 342.6,356.4 365.4,286.9 247.4,360.9 189.2,286.8 274.2,375.5 176.5,213.6 350.7,378.5 222.6,345.4 146.5,331.5 203.7,192.3 167.9,258.6 241.5,330.3 320.5,357.9 198.2,196.3 128,229.7 280.1,390.7 156,253.7 376.8,221 247.3,178.8 193,277.9 140.1,279 122.3,248.5 370.9,193.3 263.3,177 168.7,284.4 251.3,328.7 184.2,261.5 129.5,227 233.6,183.8 231.1,315.4 305.9,393.2 282.2,380.6 306.9,381.3 184.3,289.8 194.2,355.9 374.7,317.7 177.7,272.9 328.3,370.9 329.1,379.1 183,297.4 315,392 177.1,209.3 338.7,347.4 363.2,292.4 182.9,206.7 157.4,218.3 296.5,362.7 350.3,333.8 382.3,246.5 245.5,340.3 214.9,295.1 287.3,372.7 199.3,313.8 354.1,329.5 166.8,238.9 374.3,197.2"/>
<polyline class="py1" points="184.3,225.2 288.8,341.7 260.5,322.2 285.9,336.2 364.8,269.6 369.4,224.3 290.5,339.4 314.9,343.1 289.9,332.7 185.1,217.4 234.8,188.1 194.6,213.1 328.6,344.7 270.7,321 316.2,335.8 180.5,241.6 193.9,219.9 192.5,216.3 205.6,267.8 212.6,200.3 298.6,354.8 208.8,278.5 211.3,281 208.7,270.2 360.6,288.9 321.1,334.7 315.3,347.1 191.9,218.7 212.7,201.7 239.9,293 303.8,352.3 296.2,336 318.2,338.7 192.8,230.2 249.2,185.8 203.6,274 197.5,271.6 232.7,305.2 296.9,340.8 321.8,355.6 302.6,355 214.5,197.4 255.9,188.8 182.9,242 236.9,297.2 202.2,206.6 318.4,337.1 230.8,300 209,283.4 287,344.7 189.6,218.1 227.6,285.6 205.4,265.6 305,354.6 339.1,326.7 317.5,354.4 318.2,347.3 202.7,258 343.8,325.7 235.5,289.8 267.4,336.9 341.7,324 224,299.9 194.1,224.2 335.6,340.7 357.3,292.1 198.4,241 258.3,186.1 350.2,317.3 236.7,310.3 204.9,279.1 189.2,217.5 206.1,271.8 187.7,227.6 235.5,190.2 332.9,338.8 290.1,180.6 202.7,278.3 252,188.6 219.7,281 367.5,240 227.4,195.6 197.4,234.7 221.6,289.3 357.7,290.8 331.6,330.9 259.4,309.8 195.2,212.7 277,330.1 291,345.5 185.6,249.7 190.4,224.9 365.3,200.5 233,287.7 367.8,253 232.9,287.6 215.9,202 191.1,225.5 218.8,282.5 186.2,213.3 315.7,354.3 194,229.4 195.7,269 203.7,270.6 215.2,285.1 254.4,306.5 357.1,195.5 196.7,241.5 290.4,337.3 300.1,177.4 237.6,192.6 333.4,338 188.1,216.3 338,334.4 321.8,349.3 341.7,332.6 317.3,343.1 277.5,182.4 207,201.7 197.9,269.2 284.8,346 235.3,289.3 205.5,263.4 208.5,270.5 285.4,344.2 208.6,277.9 227.5,301.2 342.5,322.6 192.1,249.3 269,181.9 346.1,324.4 281.5,183.2 264.8,327.8 293.7,332 335.7,334.3 338.8,182.9 198,207.7 201.3,204.7 186.7,221.9 196,254 190.9,206.6 367.1,242 210.8,197.8 209.8,262.3 369.6,232.5 210.1,278.6 334.7,336.3 198.5,227.6 309.8,355.9 211.8,274.9 190.9,211.7 214.5,198.4 326.5,179 196.1,230.3 216.2,278.7 275.1,336.6 184.6,235.1 268.7,326.7 226.6,288.6 182.1,244.4 192.9,241.5 300.3,341.3 216.5,268.2 185.6,215.7 184.6,243.1 296.7,336.2 297.2,338.6 317.6,343.7 332.1,340.3 249,310.2 270.3,324.1 201.4,253.4 311.4,180.6 196.4,205.8 279.7,328.3 292.7,337.5 368.3,254.2 192.8,218.4 357.5,191.5 360.8,286.9 310.1,338.6 287.3,329.4 325.9,339.1 214.4,266.8 217.7,277.4 291.9,339.6 253.4,307 331.1,330.9 339.4,339.3 306.4,177.1 283.8,332.2 188.7,243.3 235.8,188.1 275.8,333.3 248,309 200.5,244.3 332.3,344.6 326,341.4 232.3,196.2 308.2,347 206.6,267.1 370.3,224.9 273.9,331.9 258.7,325.7 259.5,322 251.5,311 194.6,255.2 206.7,274.6 292.8,340.4 188.7,210.5 325.6,338.6 258.8,326.7 241.6,302.2 359.9,198.4 298.5,350.4 265.8,335 242.6,305.8 365.2,260.1 242.5,296.3 335.6,337.7 195.7,250.4 368.2,242.1 248.2,306.3 198.1,252.8 360.8,284 258.6,314.3 303.1,354.9 369.1,218.7 267.1,182.4 326.5,181.4 271.5,332.6 270.2,322.3 286.1,331.6 194.5,235.1 218.3,288.7 253.1,183.8 209.9,284.4 237.9,300.7 190.9,222.7 284.1,344.2 232.4,196.1 199.7,273.1 268.2,328.1 303.7,339.9 284.3,341.2 213.4,277.6 215.7,202.7 200.6,274.8 338.8,326 207.9,200.1 257.7,315 199.6,270.3 305.2,339.6 244.6,308.8 185.9,245.3 356.9,192.2 239.3,188.2 231.4,299.6 261.4,187.1 302.9,346.1 294.7,336.1 326,346.5 335.4,327.6 206.3,280.5 361.7,284.6 197.9,225.8 365.5,240 359.2,191.9 206.6,209.1 192.1,231.3 228.1,289.6 307.9,353 266.4,319.8 231.7,293.5 369.1,219.3 278.4,340.3 195.5,226.4 236.2,293 347.6,315 217.3,287.7 181.5,237 190.3,220.2 200.7,259.8 209.7,282.7 314.3,341.8 296.5,341 254,312.8 327.1,349 364.1,259.7 359.4,197.7 360,276.9 186,254.5 291.8,340.4 239.6,307 236.9,311.8 247,309.3 341.5,338.2 325.8,178.3 201,255.1 211.9,273.6 245,185.3 181.1,227.2 201.2,217.8 245.5,314 182.8,217.2 226.8,281.6 346.7,329.9 208.6,267.9 358.2,289.2 356.5,295.6 188.4,226.4 338.3,181.7 324.6,349 207.9,277.6 183.9,229.8 297.5,180.6 206.3,258.6 233.3,304.7 271.1,181.4 210,279.1 298.7,337.7 216.1,277 295.8,352.1 364,256.7 250,319.6 255,316.7 264,313.9 192.6,220.3 203.6,276.3 238.6,301.5 189.9,241.3 257.8,328.5 187,236.1 217.4,202 360.4,197.7 281.6,325.4 252.5,317.3 277.8,327.9 219.1,281.8 247,311.2 216.2,200.4 368.6,231.1 359.5,285.4 224.2,296.5 193.6,240.9 202.7,245.9 358.5,190.5 332.8,335.7 229.4,195.9 279.2,340.6 210.9,268.5 221.9,196 190,246.4 265.6,186.6 199.8,204.7 274.9,336.1 216.9,282.9 364.3,202.1 297.4,334 193.3,220 213.8,194.6 225.5,194.2 208.7,284.1 358.1,286.7 305,181.3 246.9,308.4 209.4,260.3 344.8,325.2 246.7,313.5 242.2,188 233.5,291.6 365.6,224.9 362.6,201.1 196.4,209.7 223.5,197.1 260.7,316.2 229.2,291.5 252.7,316.8 312.4,348.3 270.1,328.2 337.3,181.8 335.8,178.7 182.5,226.5 199.1,253.9 256.1,313.9 215.1,266 364.6,259.6 364.8,271.3 193.4,224 190.8,239.4 186.3,213.3 324.9,180.2 250.7,313.8 318.3,344.6 366,231.5 241.2,308.1 196.2,253.6 244.5,188.2 248.7,306.8 233.7,298.6 199.8,225.6 194.7,235.4 345.7,312.7 305,336.5 268.5,334.9 336.3,329.8 251.6,186.7 230,290.9 358.7,285.7 207.4,206.8 239.7,188.6 347.8,320.1 230.4,189.1 299.9,348.2 183.2,231.1 188.9,221.2 192,245.1 310.1,340.3 195.9,259.8 242.4,310.2 306.2,355.8 199.5,239.2 190.7,220.5 366.1,235.9 340,320.6 197.9,255.3 355.8,304.8 367.9,238.7 320.5,178.5 254.1,311.4 330.9,334.7 223.2,277.5 185.3,255.4 364.4,207.1 367.2,230 245.6,312.4 213.4,286.2 193.8,224.5 338.6,335.9 271.9,330.1 365.9,260.8 356.6,301.9 199.2,247.6 309.3,346.1 193.3,252.8 350.7,185.1 246,312 317.8,337.2 229.7,295.5 369.8,228.4 240.1,300.9 285.6,341.2 233.4,194.5 211.4,279.3 248.5,312.6 221.3,286.6 187.8,235.2 349.1,184 207.1,279 333.3,332.4 183.2,251 307.6,348.4 203.6,258.2 193.6,225.1 228.7,291.6 199.8,263.3 255.8,325.4 364.5,209.4 231.6,299.5 247.3,188.3 217,193.6 304,355 303.6,347.5 268.1,316.9 268.8,329.9 352.8,317.8 341.9,324.8 245.7,303.7 299.5,352.6 193,247.6 367.2,245.1 276.8,182.5 264.7,334.7 348.9,309.1 193.6,258.5 344.7,315.8 205.6,274.9 236.3,194.7 209.4,196.9 231.3,195.5 200.6,253.3 189.6,222.3 321.2,338.1 256.3,324.7 354.5,303 360.6,291 186.6,255.4 366.9,251.8 283.8,345.2 365.7,246.5 361,281.9 208.9,265.7 232,292.2 302.5,353 226.4,301.2 330.7,331.8 367,221.9 231.8,191.7 271.3,328.8 313.4,351.6 350.1,308.8 321.4,351.7 294.1,346.7 206.9,198.4 231.4,190.8 266,330.5 309.5,180.1 331.6,350.4 292.8,339.4 198.9,262 365,267.3 251.2,321.5 198.9,210.6 195.7,251.5 188.9,255.4 360.1,282.9 188.6,216 298,342.5 239.1,305.7 262,315.5 352.4,300.3 330.2,178.2 348.3,186.2 219.3,290.7 342.9,331.2 184.7,236 203.3,211.1 280.1,333.1 208.1,262.2 240.6,314.4 244.3,297.5 229,193.1 272.4,331.8 253.1,310.7 291.2,349.4 260.4,186.9 328.2,179 197,254.9 185.9,212.8 270.1,335.4 259.6,311.6 246,317.8 197.4,205.6 254.6,306.1 329.5,179.5 196.9,264.1 311.5,349.8 206.3,204.7 366.1,246.7 367.4,263.8 290.2,335.6 361.8,289.9 310.1,341.2 196.8,211.3 352.7,303 244.8,316.4"/>
<polyline class="py2" points="216.2,262.3 300.3,318.4 221.8,206 241.3,282.3 228.7,271.1 239.7,284.9 354.3,204.5 221.6,227.6 271.3,305.6 269,301.3 242.1,197 351.4,192.8 280.6,316.2 299.8,319.6 310.6,186.5 228,277.4 275.2,311.7 306.9,326.6 253.4,193.9 365.1,233.7 230.3,200.6 354.2,280.3 272.1,297.7 202.4,227.5 359,215.1 255.8,190.7 245.5,198.6 356.5,274.8 238,265 312.3,331.9 220.4,234.3 331.3,326.7 355.6,207.9 244.2,200.6 227.7,248.4 341.8,307.1 305.9,316.4 273.6,189.2 358.5,271.9 275.7,303.2 225.6,204.2 277.8,308.8 224.5,273.1 258.2,307.2 289.1,328.3 296.3,185.5 219.7,256.1 225.4,253.1 269.4,313.1 221.2,218.9 211.6,259.3 299.7,333.2 237.9,276 285.1,188.7 341.9,311.8 218.8,220 333.5,313.8 281.2,188.6 269.4,298.9 241,279.3 360.2,222.8 325.6,315.9 224.2,200.9 222.5,222.1 241.3,203.1 233.2,282.6 356.4,283.7 301.8,324.2 283.4,188.9 208.6,250.1 354.1,274.8 224.9,201.7 273,299.6 359.8,273 277.1,315.7 363,221.4 342.1,299.2 299.7,323 220.1,207.3 276.3,309.1 218.8,208 234.4,276.3 282.5,310.1 361,226.2 269.6,192 259.9,299.2 339.1,314 339,318 220.8,252.9 308.9,182.5 241.3,197.9 340,302 284.2,323.9 245.3,294.2 277.9,310.2 218.1,266.9 335.4,305.9 321.3,182.2 358.9,276.2 299.4,329.7 250.4,296.4 224.2,251 318.5,182.5 229.8,209.7 293.3,320.1 311.5,332.8 270.5,317.7 213.1,257.5 330.5,186.1 331.7,188.5 349.2,300.2 251.3,192.4 298.6,326.6 218,254.8 252.7,197.6 356.9,203.5 307.6,333.8 245.8,282.2 360.3,241.4 300.4,319 237.4,263.1 219.5,239.6 356.8,261.7 211.9,233.7 361.7,215.4 249.7,198.9 266,310.9 350.7,193.1 337.5,321.2 264.5,294.8 333.7,317.1 323.5,187.1 211.4,247.1 205.8,249.1 358.1,258.3 317.6,317.9 224.1,275.4 355.5,203.4 268.1,309.9 323.4,187.3 229.8,197.8 252.9,194.6 254.4,297.6 295.2,312 219,265.8 233.4,285.4 215.8,250.7 315.3,182.2 344.3,311.8 222.6,212 280.3,314.4 214.9,254.2 207.8,224.7 231.6,265.8 306.3,183.3 231.9,269.6 332.1,322.9 337.2,317 229.3,281.2 350.2,284.2 349.6,285.6 222.1,267.7 231.6,284.1 226.3,268.6 237.7,289.5 361.6,246.9 218.5,234 271.7,311.5 221.5,240.5 329,320.3 326.4,187.2 292.4,318.2 242.5,283.2 218.7,244.8 259.6,306.9 344.9,305 321.4,325.9 285.9,183.7 359.1,208.7 323.4,320 346.3,191 199.9,228.6 352.5,273.1 259.5,286.2 251.1,191.6 201.2,237.8 302.2,328.5 256.9,307.2 209.3,222.6 317.3,333.4 228.5,206.9 335,318.2 227.8,205.1 229.7,257.4 341,313.3 270.7,296.1 220.2,216.3 358.4,252.2 277,319.4 357.8,253.1 230.7,204 209.8,218.2 209.4,228.8 267.8,191.8 279.1,308.2 361.1,238.1 230,253.8 352.3,193.1 204.2,234 328.5,321.9 311.1,324.4 248.2,194.3 311.9,321 224.5,250.8 250.4,301.4 230.9,201.5 301.6,334 203.6,242.5 311.3,321.8 321.3,319.8 286.3,310.5 285.6,316.2 227.9,271.9 245.5,200.9 297.3,182.3 267,302.8 247.8,286 300.8,185.4 340,187.6 211.2,254.1 219.1,220.8 219.9,237.9 357.4,252.9 216.6,220.2 352.7,292.6 212,216.1 354,285.4 254.8,282.8 267.7,295.9 234,263.9 315.2,327.6 282.9,187.1 331.5,182.8 265.7,191.8 346.8,190.6 316.4,335.6 251.6,191.2 231.4,260.4 285.3,316.5 232,207.1 352.8,276.1 294.9,327.5 246.8,282.1 364.7,231.9 223.6,214.3 270.9,186.4 357.4,207.1 254.9,296.8 255.4,283.1 322.1,319.8 354.4,279.9 307.6,184.3 264.9,308.7 294.4,321.4 324.3,321.5 348.5,289 251.7,294.5 362.5,209.7 355.6,264.7 264.7,301.9 259.4,303.6 293,330.1 204.4,235.2 214.6,255.1 251.2,198 352.4,296 244.9,295.1 290.6,319.9 272.7,191.3 235.6,197.5 363.9,223.4 271.8,301.4 263.7,302.8 218,225.2 233.4,271.2 354.2,268.5 226.7,252.2 297.6,325.4 254.5,293.4 324.4,315.3 204.3,244.3 342.7,315 364.9,239.7 322.6,315 244,281.4 230.2,199.4 358.7,243.1 215.5,210.7 230,275.8 220.1,259 351.7,293.1 354.4,289.1 211.3,241.9 207.5,212.7 355.9,208.6 296.2,316.5 335.2,318.8 314.9,182.7 315.5,321.7 305.2,322.1 358.5,250.7 362,215.8 279.1,323.3 266.3,296.4 243.6,282.8 263.2,187.6 216.6,256.9 228.5,263.6 215.5,250.5 288.2,308.6 281.1,324.3 227.8,202.5 312,319.6 243.7,285.8 355.2,274.6 221.5,226.5 313.9,183.6 248.6,286.7 223.5,246.4 357,277.6 332.8,325.1 363.8,249.1 320.7,183.6 311.5,331.2 210.7,224.3 233.4,204.1 264.4,304.4 267,294.1 340.7,313.3 309.9,320 354.2,288 291.4,310.4 238.8,276.3 228.8,262.3 326.4,316.7 242.2,196.3 209.7,212.1 291.9,321.4 359.4,240.9 316.3,181.3 248.6,294.6 246.3,282 257.5,306.6 256.4,295.8 261.9,305.3 249.8,296.4 338,321.6 341.9,306.9 295.9,314.7 348,285.2 338.6,188.1 259.7,195.7 208.5,241.2 220.8,219.1 320,327.8 363.4,227.6 212.4,246.5 287.9,313 255,288 329.8,323.4 346.2,289.5 360,249.8 255,282.9 235.1,196.7 324,186.3 359.2,222.6 230.8,211.3 236.6,286.5 361.8,255.6 293.8,311.5 362.3,212.6 345.4,195 247.6,294.2 314.1,333.4 201.4,225.4 243.9,284.5 247.1,194.9 343.6,190.2 240.6,286.6 273.4,308.6 313.5,318.3 328.2,310.3 227.5,276.8 311.2,181.8 285.3,186.6 242,195.8 362.4,249.6 245.5,296.5 358.5,264.2 277.2,189.5 335.4,315.1 332.9,317.5 238.7,271.3 329.8,319.8 276.8,304.1 352.9,280.1 214.5,249.5 314.8,183.9 221.8,247.5 305.9,329.7 247.8,285.3 361.8,224.4 356.3,260.9 316.8,329.1 221.5,248.9 335.1,319.1 332.6,322 306.5,325.8 203.9,240.4 283.6,184 284.3,323.5 224.2,241.4 346.8,286.8 230.7,205.8 260,195 264.1,187.2 217.1,215 211.7,245.9 232.5,197.3 279.5,310.4 356.1,206.2 275.1,310 293.1,326.4 332.8,327.7 232.8,208.5 329.3,183.8 214.5,213.4 250.5,287.7 270.6,307.4 221,206.7 295,322.7 328.1,319 288.4,322.8 228.5,266.3 223.5,273.8 208.5,235.4 257.6,190.3 245.6,199.4 218.4,206.1 207.5,253.7 264.1,298.8 360.1,267.3 357.9,207.4 356.6,263 223.8,263.1 324.8,327.2 230.2,260.1 310.2,322.7 235.9,283.1 261.7,187.6 212.1,208.6 264.4,190.9 298.8,331.1 346,194 332.6,325.8 222.8,256.1 257.7,288.7 355.4,281.6 315.1,332.4 320.5,184.3 247,275.4 247.7,282 316.5,320.1 346.8,297.7 228.2,256.9 365.1,225.3 235.4,265.5 244.1,276.7 251.4,287.4 273.5,298.4 297.1,320.5 306.5,318.2 280.6,185.7 327.8,309.8 275.4,317.9 232.4,274.4 314.9,183.1 208.6,224.3 342.2,304 337.5,312.3 221.6,246.4 237.3,203.3 281.6,308.2 343,313.9 314.1,326.1 302.6,321.5 242.1,294.3 337.7,315.9 301.1,333 314.1,316.8 238.9,199.1 212.3,214.9 223.6,268.4 228.4,276.9 261.8,301.6 233.8,272.6 320.3,187 252.7,195.1 230,210.3 263.2,312.4 268.7,312.5 236.6,288.2 278.2,304.9 217.9,262.2 340.5,308.3 256.3,298.7 307.9,185.5 234.9,266.8 250.5,289.6 307.2,334.8 338.1,300.9 303.9,327.4 231,200.7 257.1,196.9 363.4,234.9 343.3,303.8 266.5,187.8 274.3,190.7 259.9,305.1 299.8,330.6 350.7,287.5 298.4,319.9 353.7,269.5 220.7,228.2 265,309.6 330.4,308 217.4,266.7 353.5,277 223.7,237.8 214,224.4 329.7,318.6 205.3,228.5 216.2,219.9 326.4,313.4 320.8,328.6 295.6,330.6 247.2,198.6 241.7,294 219.2,210 310.2,185.7"/>
<polyline class="py3" points="301.3,308.8 240,259.5 250.5,252.2 274,283.9 324.8,193.8 236.2,255.5 232.2,225.5 324.3,308 279.9,289.7 261.3,207.6 273.2,200.7 290.6,192.1 322.4,294.6 289.7,304.6 275.6,195.9 226.2,230.9 347.5,273 289.5,188.7 246.9,216.6 288.3,194.5 310,193.9 258,261.1 309.6,296 346,270.4 353.9,205 244.6,217.3 334.9,298.4 300.2,308.6 358.9,223.3 243.7,226.3 333.2,284.8 235.4,258.1 278.1,282 353.9,219.7 301.6,303.7 247.5,253.2 357.6,245.8 304.7,193.3 252.8,264.6 352.8,245.6 271.6,199.9 269.5,287.3 340,192.9 284.2,191.7 298.9,190.3 320.5,192.2 234.3,212.9 259.8,259.8 249.1,210.8 270.8,272.8 268.1,196.5 247.6,229 316.8,295.6 315.6,300.8 342.4,289.6 352.2,210.4 248,208.9 259.9,198.9 328.2,305.2 351.4,220.7 325.3,294.3 341.6,294.7 314.4,188 300,293.2 296.1,302 295.8,194.9 276.4,289.2 330.5,301.3 243.9,266.6 319.2,306.2 317.7,190.7 349.5,262.3 263.2,206.5 281.2,194 242.2,253.8 310.5,308 288.9,295.3 234.4,252.9 261.8,197.3 307.1,293.3 256.3,199.3 353.2,225.4 286.7,197.2 297.2,297.6 231.3,222.6 255.6,269.3 297.6,308.9 328.4,301.2 285,189.6 260.8,283 227.4,235.7 256.7,198.3 240.5,256.9 327.6,303.2 346.1,262.8 258,205.6 261.1,199.1 353.7,242 245.5,219.4 287.7,299.9 267.6,267.8 297.3,298.4 343.8,202.2 294.1,301.9 238.2,237 257.9,269.1 231.2,247.7 336.9,197.9 334.7,195.3 298.3,194.2 262.5,199.7 341.7,279.1 246.7,244.4 235.3,219.5 247.8,204.1 266.4,195.9 262.1,203.2 227.2,227.5 233.4,221 243.3,242.5 240.3,236.5 345.6,281.5 322.3,292.8 229.1,238.3 250.5,204.5 243.8,207 295.6,299.8 270.4,291.6 337.6,196.1 260.3,196.2 266,289.4 292.3,292.7 239.5,219.3 338,279.8 356.7,223.9 254.6,213.9 264.1,283 229.9,241.4 270.9,280.2 274.5,285.6 294.9,288.7 299.8,189.8 353.2,208.3 240.6,230.7 258.2,259.6 283.8,290.7 283.1,194.4 246.3,262.1 258.6,263.9 248.9,223.3 335.4,291.9 356.8,224.3 247.7,271.9 259.5,282.6 288.3,305.9 254.4,253.7 244.2,219.7 244,210.5 315.9,297.3 341,198 326.7,303.6 333.9,193 249.3,262.8 248.3,224.7 310,298.8 241.3,223.2 339.5,282.7 239.4,261.6 270.4,281.3 323.3,308.4 304.4,311.6 263.7,265.6 224.2,233.4 240.3,241.4 245.1,256 351.6,218.8 317.1,302.7 252,207.7 268.3,197.5 277.4,278.9 281.7,197.3 315.1,292.9 347.7,276.3 353.6,254.3 274,297.4 355.1,209.4 236,211.9 230.9,229.4 337,195.6 239.9,215.9 248.2,209.2 329.2,303.9 334.2,298 307.2,307.9 351,258.7 240.4,236.2 292.5,193.2 323.4,307.8 349,280 352.3,255.4 339.8,193.9 316.4,189.4 268,288.9 232.3,228 242.7,221.5 324,309.9 261.5,201.7 323.8,297.2 282.4,301 305.9,191.9 246.1,269.1 242.3,210.7 343.9,269.5 317.9,291.3 281.2,191.7 279.4,282.7 234.5,216.9 345.4,200.8 233.9,219.9 318.2,193.6 262.9,284.6 350,247.3 339,296.1 244.6,258.4 237.9,239.3 289.2,294.5 259.2,274.3 282.8,295.1 341.3,284.5 258.3,200.8 353,267.8 306,300.9 349.7,205.6 295.7,298.7 262.7,280.9 254.2,205.7 253.3,204.1 263.4,279.8 327.8,295.8 272.6,292.2 229.1,222.6 280.6,278.9 310.1,291.8 271.5,271.7 282.6,297.2 245.5,265.4 286.7,294.3 325.1,193.9 296.9,291.5 352.5,264.4 247.6,250.6 239.7,227.7 339.1,200.1 255,204.6 341.2,270.5 333.6,197.9 248.9,241.8 223,230 239.8,215.1 273.5,288.2 343.4,270.2 318.7,193.2 234.9,242.8 234.2,223.9 282.4,295 345.7,200.4 232.8,212 247,249.8 281.5,192 291,303.4 345.6,282.1 237.7,258.5 336.9,195.4 352.1,242.4 246.2,262.1 269.8,284.3 238.8,227.7 296.8,192.6 284.9,191.4 245,240.9 323.2,302.2 271.5,196.3 326.5,191.1 256,204.4 252,264.9 283.1,290.8 277.4,200.3 315.7,187.6 339.2,284.9 308.1,300.2 351,239.3 348.4,261 253.1,266 303.8,302.7 349,206.5 246,225.5 267.1,201.3 240.4,227.7 344.6,273.3 254.9,263.6 233.2,253.1 248.1,263.6 289.3,296.8 324.3,296.9 354.6,221.9 282.9,284.9 306.7,193.1 327.4,295.2 253.5,273.7 239.7,236.4 349.1,202 349.7,277.5 255.8,203.7 243.4,267.7 283.6,194.6 242.2,247.9 316.7,293.7 283.5,293.5 345.1,270.8 317,298.1 292.7,300.2 354.7,259.8 267.4,281.6 332.3,193.3 245.9,212.1 292.4,300.3 296.9,288.2 270.5,290.2 334.6,194.8 356.5,223.2 345.8,198.1 234.6,213.8 315.1,311.5 252.1,259.4 241.2,262.7 239.8,212.3 292.1,296.3 286.6,194.9 271.9,275.9 233.8,254.4 345.9,286.4 321.5,295.9 317.5,194.5 320.2,193.4 249.8,264 260.2,283.2 349,252.5 253.5,212.3 274.4,194 338,286 348.6,260.8 315.9,312.9 343,193.7 271.8,275.9 325.8,190.5 325.3,300.1 295.6,291.9 304.9,305.9 248.8,255 358.6,222.8 248.8,241.6 320.2,188 277.9,197.8 321.8,292.6 349.7,266.9 333.9,302.2 357,217.5 329.1,293.8 342.6,197.6 351.9,220.2 290,300.9 230,220.9 258.2,268 332.8,287.2 282.8,289.1 343.4,270.8 252.9,251.8 300.4,303.9 358.7,222.6 248.8,270.8 253.8,262.8 241.4,214.3 328.8,288.9 247.4,243.6 328.9,297.3 242.5,232.3 346.1,261.8 251.2,203.1 242.5,245.8 343.3,202.7 274,282 353,254 299.4,188.2 356.5,223.6 355.7,240.3 247.1,248.4 273.5,193.8 299.3,298.9 340.1,296 230.5,250.6 292.6,303.9 355.8,244.9 248.3,214.3 233.6,252.7 244.1,206 280.2,298.9 297,300.9 315.9,303.2 297.9,292.7 321.8,291.6 339.7,273 249.1,214.5 352.7,237.1 254,207.8 279.7,299.2 255.2,208.2 252.5,203.1 240.4,219 254.8,263.8 254.1,257.8 263,266.9 319.2,294 249.7,258.6 308.2,189.4 294.2,191.7 253.4,263.1 235.6,225.3 278.1,200 234.5,223 335.4,293.4 242.2,240.8 249.8,274.7 299.5,290.9 358.8,236.2 344.7,284.2 315.5,297.1 249.8,200.3 285.6,292.2 233.3,235.7 312.9,295.5 240.6,231.7 348.6,208.7 282.2,284 224,227 242.9,248.3 348.6,206 322.8,301.9 251.7,262 240.4,217.5 238.2,231.9 225.6,235.4 305.5,187.8 257.8,264.2 291.5,196.3 310.5,187.9 268.2,202.1 356.8,251.7 275,289.6 288.8,298.8 255.1,259.8 248,225.3 237.6,256.4 255,259.3 337.2,277.5 279.3,297.3 309.1,295.8 276.2,279.1 234.2,226.5 320.7,310.4 343.2,290.8 272.2,198.4 272.4,281.1 271.9,197.8 300.8,305 255.1,258.8 240,241.6 320.4,304.1 244.6,222.6 286.2,305 256.8,266.5"/>
<polyline class="py4" points="297.7,262.8 344.7,210.2 324.6,270.1 338.3,251.2 260.6,236.5 343.7,239.7 314.3,290.6 290.7,258.6 253.9,235.8 280.4,265.5 270.3,243 265,258.6 329,263.3 260.9,237.7 344.9,223.9 329.7,261.3 317.1,278.2 339,243.3 296.7,271.9 252.3,221.1 271.5,234.1 301.9,287.5 276.8,269.8 257.3,252.4 276.8,264 335.7,278.6 258.7,218 332.8,208.1 310,199.6 320.5,280.7 277,241.9 331.8,253.1 263.1,255.3 293.4,201.7 302.6,203.4 266.4,215.8 267.9,217.5 314.7,205.2 318.3,275.2 285.4,258.1 254.7,220 337.3,270.3 342.7,226.2 294.6,203.1 258.8,252.4 284.9,207.5 341.2,226.1 344.5,222 261.3,232 336.6,272.7 331,200.2 318.7,284.5 253.1,236.7 262.1,220.8 275.6,214.4 276.9,264.2 313.7,205.4 277.9,206.9 283.7,276.4 343.2,249.9 264.2,230.5 328.5,261.4 258.2,242.1 250.1,235.7 251.8,221.4 344.1,261.8 329.3,282.8 341.6,253.7 322,268.1 289.2,275.1 272.5,203.3 345.4,239.1 345.1,242.2 317.6,283.5 321.4,199.4 318,272 264,209.6 286.5,280.7 262.3,228.4 251,234 289.8,266.4 253,241.6 328.1,284.4 296.6,268.9 271.3,265.5 306.3,201.6 249.7,223.6 273.4,220.2 318.7,285.5 310.9,206 323.6,203.1 298.3,279.5 281.3,256.8 287.3,198.5 318.2,195.1 337.9,255.4 338.2,260.8 292.4,278.5 326.2,286.7 321.5,283.3 340.4,256.6 281.1,262.3 313.4,266.3 306.3,289.6 326.4,272.2 309.5,276.8 322.6,204.6 343.3,242.7 322.9,263.4 288.7,280.1 335.8,213.1 313.1,283.5 263.4,246.2 345.5,260.1 277.1,258.7 292.6,275.7 339.9,232.7 272.1,226.7 347.4,212.1 330.7,207.9 271.6,225.6 334.3,270.5 254.6,217.4 341.7,240.5 254.6,224.7 268.3,204.5 337.1,275.8 338.1,206.4 282.8,272.5 313.5,273.2 272.9,256.3 261.5,217.2 284.6,209.2 293.5,271.4 340,205 305.2,203.1 280,206.4 345.5,242.7 347.1,219.4 318.5,282.2 312.4,277.8 277.4,269.6 288,264.6 342.4,215.6 331.6,263.9 325.6,277.3 314.4,205.6 278.9,240.3 250.6,230.8 302.3,268.4 347.3,224.3 328.2,206.8 337.3,265.8 282.3,214.4 317.1,267 314.7,282.3 286.7,206.3 345.4,215.1 305.7,272.6 314.9,288.1 288.8,261.6 292.6,275.8 255.7,241.4 286.2,207.2 335.7,205 261.9,223.9 295.9,259 318.1,288.6 299,272.5 261.5,255.5 304.3,201.1 345.2,214.6 339.7,228.2 306.5,269.1 348.7,234.9 277.7,206 336.8,255.2 336.6,212.7 316.9,284.9 280.1,245.1 328.2,277.5 272,212.6 347.1,229.9 310.1,287.3 266.4,229.6 337.3,258.6 284.5,208.5 287.1,253.8 288.7,272 268.7,215.5 345.4,222.8 342.7,205.5 320.7,205.8 338.7,204.1 298.9,284.4 264.7,236.8 270.5,207.3 336.5,249.8 326.1,270.5 320.4,273 287.2,281.7 307.3,269.9 316.7,199.1 274.9,230.8 267.8,265.6 255.1,224.2 274.1,206.9 272.7,203.1 320.6,272.4 339.2,247.8 350.1,219.9 343.9,234.6 284.3,213 313.6,281.2 295.6,265.3 248.3,233.7 279.5,269.4 256.3,249 342.9,224.9 318.6,266.5 283.6,205.2 316.1,279.5 304.7,274.9 309.5,198 253.3,232.9 280.7,209.5 334.8,253.7 258.2,220.7 254.5,243.1 310.8,265.2 276,218.2 342,208.9 266.1,226.7 287.6,254.7 266.4,233.9 275.2,210.5 278.9,273.4 262.3,232.1 320.2,276.3 263.6,243.8 322.4,281.7 263.3,223.7 276.3,243.1 279.3,245.7 311.1,201.4 313.7,266.3 293.6,197.7 253.5,232 279.3,204.1 291.4,204.6 309.9,200.6 275.4,236.8 341.6,241.9 325.3,263.8 249.8,238.8 321.2,203.2 267.8,220.6 310.4,289.7 291.2,263.7 258.7,245.1 326.6,272.1 342.7,260.5 287.7,270.1 304.8,276.3 321.7,278.2 270.7,214.9 309.7,282.6 278.8,253 281.4,247.3 294.4,258.6 308.4,203.8 328.8,270 346.2,224 262.5,218.3 326.3,278.9 283.7,279.8 278.7,269.4 329.5,272.7 327.6,286.1 295,278 288.8,253.5 309,280.7 268.7,254.5 342.4,225.6 264.3,229.4 268.4,248.4 322.8,268.5 268.7,220 261.6,224.1 283.9,203.3 263.8,260.4 280.4,217 308.3,268.8 283.9,250.9 270.8,263.7 316.9,276.4 321.3,199.6 265.2,235.2 342.4,240.3 311.1,285.8 304.9,277.6 259,254 271.9,212.6 262.8,218.6 273.2,246.3 282.4,203.8 269.2,253 258.6,251.9 330.3,272.8 286.6,268.2 255.5,241.6 299.1,285.5 328.2,258.7 319.7,278 281.5,203.9 281.7,251.3 336.9,265.4 262.7,250.3 258.9,218.4 323.7,278.4 337.4,257.6 312.2,282.9 262.8,232.1 267.3,210.9 252.7,247.3 313,197.9 305,273 334.6,269.6 285.1,266.5 280.7,217.5 285.3,249.9 282.1,256.6 338.4,242.3 347.1,234.7 308.8,263.9 264.3,220.4 296,272.7 299.5,265.9 279.1,214.7 276.8,262.8 332,273.4 332.9,199.1 278.9,245 263.6,259.6 320.7,289.1 340,254.2 290.6,280.3 330.8,278.6 309,280.7 273.8,271.9 252,235.2 303.6,274 298.7,269 337.9,259.2 296.9,283.1 296.2,268.3 250.2,227.9 339.6,257.5 257.1,233.5 317.6,267.2 260.9,227.1 289.6,207.1 299.2,275.5 345.6,238.2 293.3,260.8 294.6,283 312.9,290.7 281.4,269.4 290.2,258.9 314.8,198 350.2,231.6 254.1,227.5 276.2,245.9 303.6,196.8 303.8,271.4 344,237.6 262.9,249.6 260.7,243.2 253.9,230.7 271.6,254 285.5,280.4 258.9,221.1 263.4,239.9 302.3,283.5 288.9,279.5 306.8,271 288.4,270 270.7,233.9 343.6,241.1 270.2,213.8 282.1,210.8 276.8,210.2 308,269.2 274.2,218.5 250.8,228.9 262.4,250.6 281.7,260.7 273.9,210.5 335.3,253.8 290.6,274.1 270.3,250.7 317.2,205.6 323.7,268.1 262.2,243.7 252.2,220.5 292,264.1 303.1,286.3 318.3,198 291.8,196.7 255.7,229.1 289,206 344.8,217.5 279.6,273.3 319.9,263 339.7,242.6 316.3,204.7 270.7,250.8 259,248.8 280.9,218.4 306.7,275.5 346.9,228.5 344.1,231.1 261.8,211.4 317.4,269 275.8,219.7 271.9,269.9 258.1,214.9 263.6,235.9 271.2,223.6 273.3,264.6 260.7,211.6 339.8,260.7 295.4,207.9 328.4,270.2 289.5,254.3 272.4,229.1 288.6,271.1 344.6,207 296.4,196.9 262.6,207.9 335.3,207.4 344.4,216.4 276.4,220.4 290.5,270.3 338.8,231 256.3,249.7 295.1,265.7 319.6,266.7"/>
<polyline class="py5" points="313.8,208.3 287,226.8 280,233.4 320.4,249.9 313.6,216.3 313.5,247 300.9,222.5 331.1,239 337.1,232.5 309.3,212.2 335.1,223.4 309.3,235.4 310.9,255 310.8,209.4 334,247.6 336.8,223.4 315.7,235.2 314.1,227.4 308.5,259.9 301.4,249.8 299.5,252.2 302.2,220 295.8,210.4 311.6,219.3 310.2,230.3 327.6,250.7 312.3,232 331.2,213.2 289.7,229.5 310.1,221.1 329.2,248.7 337.2,237 299.4,249.2 292.4,250.1 303.4,224.5 297.1,209.1 288,232.2 309.7,248.3 302.9,217.3 316.1,254.8 325.8,211.2 311.3,231.2 303,257.9 321.7,245.4 316.9,230.6 329.8,219.6 307.5,215.9 296.3,210.4 314.1,224.2 288.1,214 304.5,231.4 295.8,253.4 315,259 278.2,229.5 319.3,208.6 301,217.5 319.5,207.1 329.6,247.5 304.7,250.6 291.6,236.9 331.3,247.9 325.4,247.4 311.3,213.1 325.3,236.9 295.6,209.4 313.1,210.3 296.6,258.2 315.9,223.3 288.7,250 336.2,220.9 289,246 320.3,219.1 316.9,242.7 301.7,220.6 321.8,229.2 297.7,209.8 324,246.9 285.7,249.1 332.5,245 328.3,219.5 296.2,216.6 324.5,232.6 296.5,211.8 292.7,242 328.9,216.9 314.3,218.3 293.3,253.1 318.2,251.3 298.1,244.9 311.8,226.5 322.4,234 320.6,216.6 285.9,219.4 290,214.5 306.8,224.2 293.3,219.4 290.9,243.1 336.1,241.3 303.7,242.6 321.5,239.1 308.5,238.9 277.4,229.1 324,227.8 323.8,258 291.3,218.2 302.1,238 334.3,236.7 285.2,216 299.5,256.1 319.2,210.8 322.9,255.6 287.3,231.5 286.2,239 291.1,224.7 303.2,247.1 335.3,225.3 291.5,220.7 290.2,220.9 328.1,214.3 311.6,230 328.7,212.8 305.4,215.8 311.4,222.1 278.9,226 317.6,260.5 317.6,216.5 307.2,216.1 316.5,257 329,230.1 284.1,218.5 327.5,243.8 301.8,259.2 312.2,230.1 308.3,239.3 282.5,241 294.1,252 288.6,243.5 315.1,207.6 316.1,221.1 296.4,256.2 298.4,238.3 298.2,222.3 336.2,239.8 302.9,238.1 307.3,232.2 280.6,226.2 292.7,256 296.4,253.5 285,234.1 308.2,234.1 320,246.7 313.8,248.2 301.4,220.9 336.6,226.9 317,216.4 286.5,242.9 293.3,256.8 289.5,250.9 317.1,220.2 320.4,209.5 296.5,224.9 312.2,216.4 332.9,220.2 318.5,260.7 323.2,227.2 295.6,234.3 319.8,258.8 307.7,223.9 291.7,248.9 323.7,220.3 334.3,244.1 330.5,239.1 305.3,230 295.4,235.4 310.5,209.8 293.9,242.6 302.2,217.9 298,232.7 288.2,229 334.8,244.8 334,225.8 304.9,258.6 319.5,236.8 301.2,230.1 279.5,234.8 284.7,232.2 290.7,234.6 304.2,216.1 311.5,233.7 315.9,232.9 320.8,254 325.6,217.7 332.8,245.7 302,208.2 319.8,241.7 290.9,242.1 333,246.3 337.9,235.7 299,226.4 296.7,219.1 303.9,234.1 312,237.2 299.1,238.1 322.5,215.9 333,239.2 296.1,237.7 315.2,262.9 324.3,213.6 318.1,232.2 328.2,225.5 324.8,211.2 288.7,225.5 306.2,210.7 312.8,237.6 292.9,238.1 284.7,245.8 282.9,224.9 331.8,223.8 322.1,246 316.8,252.7 294.6,230.7 292.9,233.9 313.8,250.1 303.8,238.7 289.3,239.5 292,227.3 284.8,224.8 285.8,239.6 311.3,252.9 334.5,217.1 313.6,221.3 313.5,254.1 317.2,238.7 308.9,222 317.8,247.6 312.4,236.5 293.2,232.2 334.6,240.8 329.2,252.9 295.1,221 296.7,223.9 312.2,247.9 281,239.1 309.1,229.9 332.7,237.6 296.5,229.8 300.4,211.5 317.9,242 332.5,242.9 320.2,231.1 294.2,241.5 307.1,237.2 282.3,232.7 280.8,237.3 336,220 305.9,237.6 318.4,249.9 292.7,217.9 309.8,223.4 308.9,252.7 284,237.6 319,241.8 302.3,208 285.3,221.3 304.6,250.8 299.2,218.9 329.5,212.3 298.6,234.8 289.8,250.9 327.8,244.2 316.8,235.2 305.5,260.5 328.5,217.9"/>
<g fill="rgb(62,112,190)" fill-rule="evenodd" filter="url(#bl0)"><path d="M284.5 377.2L276.5 378.2L266.5 376.4L256.5 372.2L246.5 366.4L232.5 356.3L216.5 343.1L198.8 326.9L182.8 310.9L165.9 290.9L159.4 280.9L155.7 272.9L154 264.9L154.4 258.9L156.7 252.9L161.3 246.9L166.5 242.5L174.5 237.7L192.5 230.4L206.5 226.3L224.5 222.2L250.5 218L276.5 216.3L296.5 217.8L308.5 221.8L312.5 224.1L317.9 228.9L323.2 236.9L325.4 242.9L327.5 256.9L327 276.9L325.1 292.9L321.3 312.9L313.8 338.9L309.9 348.9L304.8 358.9L300.5 365.3L294.5 371.8L290.5 374.6Z" fill-opacity="0.030"/><path d="M286.5 372.9L278.5 374.6L270.5 373.8L260.5 370.5L248.5 364L236.5 355.7L220.5 342.8L204.5 328.4L188.7 312.9L169.8 290.9L163.3 280.9L159.6 272.9L157.9 264.9L158.3 258.9L160.6 252.9L165.2 246.9L170.5 242.5L178.5 237.7L198.5 229.8L222.5 223.6L254.5 218.5L276.5 217.2L294.5 218.4L306.5 221.8L312.5 225.2L316.8 228.9L321.2 234.9L323.8 240.9L325.7 248.9L326.7 258.9L325.7 280.9L321.5 306.9L315.2 330.9L306.5 352.2L301.1 360.9L296.5 366.3L292.5 369.7Z" fill-opacity="0.031"/><path d="M286.5 368.9L278.5 370.5L270.5 369.8L260.5 366.4L250.5 361.1L236.5 351.6L222.5 340.3L206.5 326L191.2 310.9L180.5 298.9L172.7 288.9L167.6 280.9L164 272.9L162.3 264.9L162.7 258.9L164.9 252.9L169.6 246.9L180.8 238.9L198.5 231.3L224.5 224.3L250.5 219.8L274.5 218L292.5 219L304.5 221.9L310.5 224.9L315.5 228.9L318.8 232.9L322 238.9L324 244.9L325.6 254.9L325.3 276.9L321.3 302.9L315.1 326.9L306.5 348L301.1 356.9L296.5 362.2L292.5 365.6Z" fill-opacity="0.043"/><path d="M280.5 366.9L272.5 366.6L262.5 363.8L254.5 359.9L242.5 352.4L228.5 341.7L214.5 329.6L199 314.9L186 300.9L177.9 290.9L171.4 280.9L167.7 272.9L166.2 266.9L166.1 260.9L167.7 254.9L171.5 248.9L175.6 244.9L188.5 236.9L206.5 230L230.5 223.9L258.5 219.7L278.5 218.7L294.5 220L306.5 223.6L311.8 226.9L316.2 230.9L320.2 236.9L323.2 244.9L325.2 260.9L324.8 272.9L323.3 286.9L317.5 314.9L310.1 336.9L301.4 352.9L296.5 358.7L292.5 362.1L286.5 365.4Z" fill-opacity="0.044"/><path d="M280.5 363L272.5 362.8L262.5 359.9L252.5 354.9L242.5 348.5L228.5 337.8L214.5 325.6L200.5 312L188.5 298.9L180.6 288.9L175.5 280.9L171.9 272.9L170.3 266.9L170.2 260.9L171.8 254.9L175.6 248.9L179.7 244.9L192.7 236.9L210.5 230.1L234.5 224.1L260.5 220.3L280.5 219.5L296.5 221.2L306.5 224.7L314.9 230.9L319.2 236.9L321.7 242.9L323.5 250.9L324.2 258.9L324.1 270.9L322.9 282.9L317.4 310.9L310.1 332.9L301.5 348.9L296.5 354.8L292.5 358.3L286.5 361.6Z" fill-opacity="0.058"/><path d="M282.5 359.3L274.5 359.7L266.5 358L256.5 353.7L246.5 347.8L234.5 339.1L220.5 327.4L206.5 314.2L193.9 300.9L180.4 282.9L176.3 274.9L174 266.9L173.8 260.9L175.4 254.9L179.3 248.9L183.4 244.9L196.5 236.9L214.5 230.1L238.5 224.2L258.5 221.3L278.5 220.1L294.5 221.6L306.5 225.6L314.5 231.7L318.2 236.9L320.8 242.9L322.7 250.9L323.5 258.9L323.3 270.9L322.1 282.9L317.4 306.9L310.5 328.3L302.5 343.9L298.5 349.2L292.5 354.8L288.5 357.3Z" fill-opacity="0.062"/><path d="M284.5 355.1L276.5 356.1L268.5 354.8L260.5 351.9L250.5 346.6L238.5 338.3L226.5 328.7L201.6 304.9L187 286.9L182.2 278.9L178.9 270.9L177.8 264.9L178.2 258.9L180.5 252.9L185.2 246.9L196.6 238.9L212.5 232.1L234.5 226.1L258.5 222.1L278.5 221L294.5 222.5L306.5 226.7L314.2 232.9L317.1 236.9L319.8 242.9L321.8 250.9L322.6 258.9L321.7 278.9L317.3 302.9L310.5 324.3L302.5 340.1L294.5 349.5L290.5 352.4Z" fill-opacity="0.079"/><path d="M286.5 351L280.5 352.5L272.5 352.3L264.5 350.1L254.5 345.4L242.5 337.7L230.5 328.4L217.4 316.9L205.4 304.9L190.7 286.9L185.8 278.9L182.6 270.9L181.5 264.9L181.8 258.9L184.1 252.9L188.9 246.9L200.4 238.9L216.5 232.1L238.5 226.2L260.5 222.7L278.5 221.7L294.5 223.3L304.5 226.6L313 232.9L316 236.9L318.9 242.9L321.7 256.9L321.3 274.9L317.7 296.9L311.9 316.9L304.5 333.3L296.5 344.2L292.5 347.6Z" fill-opacity="0.086"/><path d="M278.5 348.9L270.5 348.1L262.5 345.5L254.5 341.6L244.5 335.3L232.5 326.1L220.5 315.6L208.5 303.6L199.2 292.9L193.4 284.9L188.9 276.9L186.6 270.9L185.5 264.9L185.9 258.9L187.2 254.9L191.1 248.9L195.2 244.9L208.6 236.9L224.5 231L244.5 226.1L264.5 223.2L280.5 222.7L294.5 224.2L300.5 226L306.4 228.9L313.3 234.9L317 240.9L319.1 246.9L320.5 254.9L320.9 262.9L319 284.9L313.8 306.9L306.5 325.6L298.5 338.1L294.5 342.2L288.5 346.3L284.5 347.9Z" fill-opacity="0.109"/><path d="M280.5 345.1L274.5 345.1L266.5 343.4L258.5 340.1L248.5 334.3L238.1 326.9L226.2 316.9L214.5 305.6L204.5 294.4L193.8 278.9L190.5 270.9L189.4 264.9L189.8 258.9L191.1 254.9L195 248.9L199.2 244.9L210.5 237.9L226.5 231.7L245.9 226.9L266.5 224L282.5 223.6L294.5 225.2L304.5 228.9L308.5 231.6L312.5 235.6L315.8 240.9L318 246.9L319.9 260.9L318.6 280.9L314.3 300.9L308.5 317.5L300.5 331.9L296.5 336.7L290.5 341.6L286.5 343.6Z" fill-opacity="0.123"/><path d="M282.5 341.2L276.5 341.7L268.5 340.4L260.5 337.4L250.5 331.9L240.4 324.9L228.5 315L217.9 304.9L208.5 294.5L197.7 278.9L194.3 270.9L193.2 264.9L193.6 258.9L194.9 254.9L198.9 248.9L203.1 244.9L212.6 238.9L228.5 232.4L250.5 227L268.5 224.7L284.5 224.6L296.5 226.7L305.7 230.9L312.1 236.9L314.6 240.9L317 246.9L319 260.9L317.8 278.9L313.6 298.9L308.5 313.6L300.5 328.2L292.5 336.6L288.5 339.1Z" fill-opacity="0.140"/><path d="M284.5 337.1L278.5 338.1L270.5 337.3L262.5 334.7L254.5 330.7L244.5 324.1L234.5 316.3L224.1 306.9L214.5 296.9L202.7 280.9L197.7 268.9L197 262.9L198 256.9L201.2 250.9L204.7 246.9L213 240.9L226.5 234.6L246.8 228.9L264.5 226.1L280.5 225.4L293 226.9L303.6 230.9L310.5 236.6L313.3 240.9L315.9 246.9L317.9 258.9L317.3 274.9L314.4 290.9L308.5 309.5L302.5 321.5L294.5 331.3L290.5 334.3Z" fill-opacity="0.163"/><path d="M284.5 333.3L278.5 334.3L272.5 333.9L264.5 331.7L256.5 327.9L248.2 322.9L237.6 314.9L228.5 306.8L218.5 296.5L206.8 280.9L201.8 268.9L201.1 262.9L202.1 256.9L205.3 250.9L208.9 246.9L217.2 240.9L230.4 234.9L246.5 230.2L266.5 226.9L280.5 226.4L292.5 227.9L301.1 230.9L309.1 236.9L312.5 241.8L314.5 246.4L316.8 258.9L316.4 272.9L312.6 292.9L306.5 309.9L300.5 320.5L292.5 329.1Z" fill-opacity="0.194"/><path d="M284.5 329.1L278.5 330.1L272.5 329.8L264.5 327.5L256.5 323.7L248.5 318.7L238.2 310.9L220.5 293.4L210.2 278.9L207.4 272.9L205.8 266.9L205.7 260.9L206.5 256.9L209.7 250.9L213.4 246.9L221.9 240.9L235.6 234.9L249.7 230.9L266.5 228.2L280.5 227.7L291.3 228.9L302 232.9L308.5 238.4L312.5 244.9L315.3 256.9L315.2 270.9L312.5 287.4L306.5 305.3L300.5 316.2L292.5 324.9Z" fill-opacity="0.241"/><path d="M284.5 325.1L278.5 326.1L272.5 325.7L266.5 324.1L258.5 320.7L249 314.9L241.2 308.9L224.5 292.7L214.6 278.9L211.8 272.9L210.2 266.9L210 260.9L210.9 256.9L214.1 250.9L217.9 246.9L226.6 240.9L240.8 234.9L256.5 230.9L270.5 229L282.5 228.9L293.9 230.9L302.5 234.8L307 238.9L310.5 244L312.4 248.9L314.2 258.9L313.7 272.9L310.5 289.1L304.5 304.9L298.5 314.6L292.5 320.8Z" fill-opacity="0.273"/><path d="M284.5 321L278.5 322L272.5 321.6L266.5 320L258.5 316.4L249.5 310.9L241.8 304.9L226.5 289.5L218 276.9L215.5 270.9L214.3 264.9L214.8 258.9L216.1 254.9L218.6 250.9L222.4 246.9L231.4 240.9L240.4 236.9L254 232.9L270.5 230.4L282.5 230.3L292.5 232L299.7 234.9L306.5 240.6L310.5 247.8L312.6 256.9L312.5 270.9L310.5 282.9L306.5 295.5L300.5 307.4L292.5 316.6Z" fill-opacity="0.313"/><path d="M282.5 317.2L276.5 317.7L270.5 316.9L264.3 314.9L256.4 310.9L240.5 298.9L232.6 290.9L226.5 283.1L222.7 276.9L220.1 270.9L218.9 264.9L219 260.9L221.9 252.9L225.1 248.9L229.8 244.9L240.9 238.9L252.8 234.9L262.5 232.8L276.5 231.6L288.5 232.5L296.2 234.9L302.5 238.8L306 242.9L308.5 247.1L310.3 252.9L311.3 262.9L310.5 274.4L306.5 290L302.5 299.2L296.5 308.2L290.5 313.7Z" fill-opacity="0.364"/><path d="M280.5 313L274.5 313L268.5 311.7L261.4 308.9L254.5 304.9L240.5 293.4L230.5 281.5L225.1 270.9L223.8 264.9L223.9 260.9L226.9 252.9L230.2 248.9L235.1 244.9L242.2 240.9L252.8 236.9L260.8 234.9L276.5 233.2L284.5 233.6L292.5 235.4L299.4 238.9L304.5 244L308.5 252.8L309.5 262.9L308.5 275.3L304.5 289.2L300.5 297.5L294.5 305.6L287.4 310.9Z" fill-opacity="0.429"/><path d="M284.5 305.3L280.5 306.2L274.5 306.3L268.5 305L263.3 302.9L256.3 298.9L248.5 292.9L238.5 282L232.5 271.3L231 262.9L233 254.9L235.8 250.9L240.2 246.9L246.7 242.9L256.8 238.9L265.2 236.9L276.5 235.9L287.9 236.9L293.7 238.9L298.5 242L302.5 246.4L304.8 250.9L306.6 258.9L306.5 269.5L304.5 279.2L300.5 289.4L296.5 295.9L290.5 302Z" fill-opacity="0.625"/></g>
<polyline class="pb0" points="200.1,368.8 278.2,391 279.1,402.6 318,324.1 177.1,303.9 194,355.7 206.8,378.7 145.9,249.5 157,324.5 202.4,338 214.5,362.6 138.9,220.3 221.6,341.6 126.5,287.2 202.5,357.3 168.5,314.6 248.6,381.4 330.8,267.7 315,345.2 144.8,289.4 244.2,367.5 180.2,232.3 277.7,211.4 326.8,250.3 324.5,293 185,338.2 249.2,366.1 170.5,351.5 247.1,375 294,377.5 317.9,217.1 158.1,244.4 279.5,379.5 199.1,336.8 165.6,307.3 126.8,265.1 214.5,344.9 168.9,215 306.4,365.6 155.5,250.6 170.3,289.5 278.1,406.3 154.8,272.9 202,378.2 240.4,217.6 313.1,346.9 331.4,311 180.8,345.8 315.1,357.6 135.8,273.4 121.4,323.2 177.9,317.3 184,234.6 266.6,376.7 161.6,286.8 142.1,271.1 161.2,226.8 160.4,257.9 313.2,358 200.5,225.9 307.2,352.1 134.3,224.9 154.5,279.6 162.5,243.2 139.6,305.4 138.7,243 178.1,231.9 208,373.2 265.7,397.4 307,360.4 201.2,323.6 166,237.6 148.6,361.2 256.4,376.2 284.3,385.5 158,316 126.1,248.5 190.9,378 330.3,279.8 221.3,217.7 285.1,415.8 320.7,234.5 311,355.7 256.5,374.4 222.7,361.4 328,330.4 156.6,316.7 296.6,394.7 309.1,367.5 296.3,379.8 326,308.6 199.5,342.3 156.2,283.9 252.2,370.8 150,243 142.8,281.8 248.2,397 146.1,254 150.2,258.5 125.3,262.1 222.4,201.5 166.9,293.8 170.4,306.1 145.1,306.5 171.2,242.3 280.9,378.5 164.5,284.5 157.1,219.9 172.2,306.5 322.2,232.7 256.2,375.9 285.5,377 319.8,336.9 182.1,353.6 202,349 228.6,378.3 176.9,227.7 214.7,225.4 148.9,253.5 205.6,380.1 227.1,383.3 116.5,249.2 274.2,387.7 187.5,338.7 173.8,295.3 304.2,357.2 219.5,391.2 188.3,338 189.4,382.2 322.2,224.9 194.3,370.2 247.9,211.8 224.7,382.4 327.7,318.4 304.8,375.2 318.8,316.6 161.3,311.5 151.3,277.7 159.7,331.5 277.8,373.6 219.7,348.6 204.1,329.2 163.6,242.9 224.7,407 159.8,266.4 310.7,222.2 154.7,258.6 182.6,223.2 312.2,382.6 235.1,379.8 313.6,333.8 226.3,363 209.2,332.8 247.1,364.5 270.2,384 267,376.3 181.8,376.7 152.1,245.8 277.5,383.5 174,313.9 156.7,238.6 156.2,273.6 233.5,352.7 120.6,273.6 135.9,274.3 304.4,385.8 306.6,391.7 328.9,390.1 166.7,338.6 300.9,217.9 317.5,340.5 278.1,385.4 230.3,211.4 283.8,380.7 327.2,235 164.1,305.1 138.7,244.1 288.9,394.9 197.4,320.8 270.6,387.7 323.4,297.6 266.8,402.7 209.8,352.3 144,324.1 125.2,273.4 146.2,320.7 325,337.6 292.3,215.6 133.3,241.5 306.8,397 331.4,251.8 165.6,306.3 245.7,362.1 237.8,359.1 316.2,327.3 241.1,383.3 291.4,374.4 324.6,234.8 166.4,351.8 159.1,305.3 243.1,369.1 151.6,303.1 161.6,303.8 181.3,370.4 281.2,376.2 152.1,279.4 169.4,323.5 253.9,381.9 195,387.2 158.2,288.6 226.5,356.2 156.4,261.5 265.9,370.8 171,356.8 150.3,269.5 282.3,392.3 252.7,371.4 202.4,373.3 168.6,340.3 306,359.3 279.2,382.2 189.6,325.8 299.8,383.9 162.3,343 125.4,281.7 203.9,402.5 249.1,401.5 301,375.9 224.2,354.8 284.1,399.4 139.7,364.6 139.4,264.7 334.1,274.9 139.5,319.1 160.4,233.4 165.9,286.3 145.1,281.1 206.5,365.1 218.8,224.6 230.9,367.7 274.7,385.5 148.4,260.3 171.3,384.3 316.4,353.2 301.8,388.4 249.2,373.1 152.7,255.4 215.7,337.5 289.3,414.1 328.2,279.1 264.8,393.1 321.7,309.8 255.7,398.3 251.5,371.4 185.1,318.1 118.1,275.8 310.4,346.7 116.9,289.2 285.2,215.3 276.7,388.3 116.6,262.5 306.6,211.8 296.9,408.6 129.7,313.1 303.8,379.7 310,346.8 262.3,383.8 140.6,293.7 116.1,262.7 133.9,281.1 261.6,369.1 225.1,350.1 226.8,355.6 136,259.2 160.5,303.7 215.8,357.6 116.5,271.3 292.3,407.6 180.2,315.4 336.6,260.7 307,373.4 268.6,198.7 205.3,349.8 335.3,263.1 225.3,221.8 285,373.7 179.8,314.9 315.6,226.4 222.5,220.1 294.4,413.1 161.1,285 309.1,412.4 134.1,261 303.9,364.5 151.2,291.2 142.5,285.2 295.5,216.6 201.8,355.3 311.7,351.9 181.6,232.5 148.5,300.9 170.2,315.8 287.9,209.9 135.3,323.3 171,301.5 120.4,245 293,371.4 297.3,403.4 152.5,271.8 326.9,290.7 241.2,361.3 317.5,331.2 169.9,338.1 177.8,305.2 250.3,364.8 228.9,220.7 319.8,324.7 145.9,240.9 276,409.1 129.5,274.5 337,230.5 146.2,271.8 219.7,415.4 114.9,291.3 325.6,283.6 150.3,254.9 178.7,232.2 168.7,234.8 292.6,394.2 281.8,391.9 206.9,348.1 192.7,328 255.3,389 283.4,414.3 162.1,236.1 327.7,288.8 219.3,218.3 197,326.4 283.9,393.1 237.7,366.9 307.3,352.6 179.2,310.2 122.4,231.9 298.3,417 327.2,271.3 326.6,246.9 203.3,354.3 210.6,374.1 229,217 285.3,373.3 174.2,370.2 288.1,373.8 170.8,329.3 133.5,247 297.7,380.5 285.6,215.3 148.7,210 271.4,408.1 225.8,352.3 179.5,300.1 175.8,237.9 146.4,260.4 228.7,356.6 166.8,306.1 246.9,367 157.8,276.1 162.6,333.8 313.3,353.4 167.9,215.3 152.8,268.5 227.1,353 323.3,299.4 152.5,246.5 156.9,256.2 192.5,348.2 321.3,316.9 160.7,279.3 292,394.9 200.3,372.2 203.3,345.8 146.2,241.8 220.7,370.3 192.2,318.2 205.1,227 327.7,274.7 200.1,338.7 151,280 321.1,357.8 250.8,363.8 181.9,305.6 159.5,294 321.4,370.4 143.4,247.1 325.1,412.3 163.5,299.4 173.8,310.6 272.6,399.1 220.8,347.1 296.1,372.4 204,345.1 154.3,307.4 202.9,336.7 199.7,331.3 315.7,223.5 178.5,334.3 201.1,358.9 301.6,368.4 169.5,294.5 234.8,367 296,399 169.7,304.8 312.5,342 199.7,346.3 211.4,226.5 195,317 261.4,380.6 285.5,413.2 194.7,329.3 166.4,313.2 330.3,229.3 234.6,374.7 122.6,255.7 331.5,351.2 312.3,380.9 292.1,412.1 172.5,297.2 326.6,229.6 294.4,217.7 259.9,368.5 124.7,244.6 303.4,214.4 139.4,307.5 240.8,367.6 315.7,226.2 250,374.1 204,337.4 335.7,245.2 159.6,288.3 148.4,292.6 275.2,414.3 241.7,379.2 222,382.3 267.9,383.6 301.9,366.5 316.2,337 249.9,214.1 214.8,337.7 160.5,283.1 323.2,320.9 150.3,292.7 187.1,321.7 249.2,381 152.2,328.1 248.1,400.1 208.1,350.8 318,340.8 298.9,366.9 163.1,298.8 311.2,223.5 225.8,354.6 282.5,397.4 256.1,406.7 181.2,317.8 161.2,288.2 138,335.6 328.6,249.7 246.7,377.6 279.9,414.9 158.7,259.2 277,389.2 332.8,264.8 177.3,336.9 186.5,351.3 283.8,396.8 202.7,392.4 246.8,379.6 311.4,355.8 285.2,372.5 271.7,389.3 156,281.4 212.6,339.5 147,285.2 184.9,309.4 127,254.9 146.8,262.3 235.7,361.7 279.4,215.2 230.8,366 295.9,386.5 168.3,240.3 138.5,275.1 266.7,406.1 310.5,363 145.2,252 232.8,351.8 302.9,367.6 209.6,337.1 169.6,307.3 220.8,359.3 291.3,378.3 189.7,318.8 211.4,352.3 114.5,257.5 293.7,213.1 129.2,351.8 155.9,276.2 144.7,266.3 211.8,407.1 262.8,377.3 126.6,272.3 328.6,255.6 319.1,413.7 296.6,409.2 334.9,270.5 181,234.4 276.7,401.4 225.9,216.4 245.6,215.3 334.4,277 133.5,288.7 192.6,322.2 235.2,353 296.1,378.7 319,332.6 328.8,276.2 224.8,367.8 133.4,271.3 178.7,368.7 296.4,389.8 234.2,378.8 319.8,315.7 305.8,395.8 155.8,252.9 252.7,378.9 175.4,310.1 184.9,345.2 139.9,268 277.4,396.6 154.7,333 138.1,351.4 319,232 241.4,364.1 196.7,344.1 289.5,375.1 115.4,275.3 255.4,372.3 324.5,232.1 223.9,411.3 259.4,391.8 328,285.1 160.4,306.5 191.3,335.2 160.2,238.9 304.3,357.4 272.6,379.9 152.7,245.5 165.6,247.8 257.5,369.2 304.4,395.7 292.5,378.8 301.5,370.4 239.9,364.5 293.7,385.3 252.2,400.4 226.5,377.8 332.9,250.3 183.7,319.9 222.1,393.6 306.8,380.5 298.7,416.1 295.5,365.7 134.2,265.7 234.1,361.5 205.1,350.8 281.1,377.2 329.9,227.5 216.5,390 127.4,257.2 260.9,208.8 183.3,346.9 143.5,273.4 235.8,354.3 255,384.8 223.1,354.3 162.5,314.7 281,384.9 201.2,224.9 195.6,342.5 143.9,242.9 120.3,280.3 154.4,296.3 306.1,400.7 142.7,320.4 160.2,369.3 118.3,271 259.3,414.4 290.9,395.5 118.1,348.5 172.6,333.3 183.9,231.5 254.7,376.5 165.9,289.9 211,375.7 151.8,289.6 302.4,219.3 205.4,392.3 191.4,359.8 187.5,369.2 206.3,348.7 332.5,271.5 240.6,367.3 305.7,381.2 140.7,265.4 213.2,378.7 275.7,398.3 265.8,391.5 285.4,377.3 149.6,233.9 247.3,364.8 274.7,404.3 299.1,392.8 139.3,263.3 145.3,264.6 282.3,411.8 249.9,219.1 153.9,243.1 152.6,387.2 153.3,255.9 320.6,314.4 144.8,220.3 168.2,303.9 260.9,387 325,230.6 186.3,312 283.5,383.5 159.7,262.2 218.3,357.9 152.7,293.8 319.9,312.7 275.6,409.9 248.7,382.8 178.7,309.9 248.8,201.4 174.3,231.2 135.5,323.8 169.6,294.1 322.8,321.4 209.7,417.7 170.7,241.9 217.5,341.8 286.9,379 302.2,358.8 156.4,271.8 306.6,378.6 147.7,309.9 291.8,218 314.4,345.8 173.8,353.4 289.9,394.7 166.7,308.7 259,416.3 231,359.4 300.2,375 155.8,266 267.2,381 159.1,272.4 336.1,326.1 247.5,371.7 125.9,311.3 255.4,389.7 144.7,249.1 147.4,309.6 145.1,311.8 193.9,358.4 157.9,282.1 158.9,263.9 204.4,328.4 180.8,346.5 228,393.4 283.5,405.5 194.1,230.7 237.9,381.3 161.2,293.9 251,212.6 308.5,217.1 207.8,371.1 189.6,338.7 324,373.7 155,247.8 201.4,224.7 335,248.3 291.9,376 253.5,365.3 190.1,343.5 326.6,315.1 147.1,253.5 168.6,293.2 138,250.3 215,384.3 165.1,335.2 214.5,353.3 241.4,357.2 161.2,239.8 224.9,348.4 180.1,363.5 167.4,303 225.8,363.1 238.2,377.5 306.3,358.4 283,385.2 165.2,312.7 215,342.2 142,304.6 169.8,345.2 272.5,387.2 247.3,367.7 133.2,227 305.2,378.9 182.8,348.6 146.2,295.8 330.2,291.6 172.3,332.6 199.4,331.2 252.5,375.4 158.5,295.9 245,403.1 257.7,384 260.3,383.3 316.5,333.7 281.6,214.7 170.7,298 271.1,400 224.9,223.3 271.2,409.6 322.7,355.6 324.1,305.8 170.6,235.3 120.8,243.5 191.2,230.1 157.1,306.4 265.8,209.4 330.8,266.2 334.1,274.9 233.8,404.2 233.2,404.3 322.3,308.8 259.2,211.3 140.2,290.2 129.6,367.8 204.5,367.9 156.1,292.4 327.8,407 115.7,265.2 304.1,363.8 328.3,266.5 186,325.1 234.4,221.2 183.7,307.2 125.6,243.2 236.9,384 164.1,325.2 206.6,354.6 183.6,306.2 155.1,280.5 219.8,210.5 137.9,279.4 200.3,341.5 206.8,344.6 169.2,298.6 184.9,359.4 237.8,399.2 229.7,348.4 261.3,370.1 178.1,307.2 278.9,380.1 307.5,399.4 320.5,222.6 150.7,240 114.6,249.1 217.9,347.6 169.4,304.4 304.8,367.2 222,383.1 178.3,239 313.6,340.5 151.6,263 151.5,256.4 174.9,308.9 126,277.1 274.8,386.7 157.2,273.2 252.4,378.7 153.5,306.5 156,246.2 161.2,322.7 316.9,228.1 117.3,299.2 180.6,367.9 190.3,229.1 297.9,381.2 118.7,250.1 326.6,257.3 158.5,265.6 187.7,365.6 325.8,321.6 124.6,266 173.4,408.5 197.8,331.4 182,319.1 248.7,217 266.2,381.9 197.7,332 224.3,215 300.6,374.4 160.2,297.6 279.5,211.4 155.1,259.7 261.8,209.3 316.8,378 132.9,307.9 321.6,232.4 293,384.1 159.4,245 253.5,400.1 200.6,222.6 306.3,383 168.7,291.3 220.4,365.7 203,361.1 187.3,346.4 162.4,291.2 281.3,376 319.4,329.6 188.2,215.6 129.6,294.2 254.3,379.1 228.1,411.4 208,359.1 234,355.5 322.6,328.6 216.3,365.1 197.4,336.2 150.2,216.7 174.2,327.8 126.9,243.1 282.7,386.4 116,351.8 178.4,304.5 278.4,375.4 310.9,348 218.6,363.5 302.5,369.3 219.6,383.6 181,327.6 335,294.2 164.8,245.4 210.8,226.1 238.6,381.4 323.4,314.3 226.8,406.6 126,287.8 190.9,359.2 175.4,318.7 160.3,285 136.6,246.5 326.7,238.7 284.7,214.7 292.3,218.2 283.7,376.9 126.2,248.6 157,279.4 184.9,233.5 146.5,292.2 123.4,236.1 293.5,371.6 129.8,256.5 172.8,237.5 139.4,294.3 193.9,232.1 166.3,317.2 159.5,239.5 309.3,368.8 158.5,259.7 323.9,335.4 160.8,248.5 261.3,407.9 173,294.5 251.5,374.9 159.7,371.7 217.2,390.5 320.1,340.5 192,320.9 265.7,376.3 163.1,247.3 249.8,380.7 332.1,259.3 223.6,353.5 190.3,324.1 164,239.2 157.8,259.5 152.4,248.9 169.2,223.9 152.9,248.9 328.2,247.2 320.1,365 226.1,355.8 321.5,391.5 131.1,271 310.8,376.9 176.4,349 154.7,257.3 164.4,320 325.9,284.5 319.7,231.6 332.7,228.5 166.9,302 165.2,282.1 202.8,336.1 271.9,389.8"/>
<polyline class="pb1" points="264.3,219 316,308.1 235,335.2 232.7,224.9 311.7,335.9 179.8,254 227.3,223.8 239.3,341.5 242.2,349.3 175,273.2 323.8,280.4 256.4,356.4 320.3,297.9 165.6,254.6 298.5,355.7 209.2,233.6 313,321.1 221.6,338.8 262.6,368.4 173.1,266.9 195.5,237.4 230.5,331.8 186.1,299.9 174.3,261.2 176.4,253.6 228.5,332 325.5,253.4 201.9,311.1 179.9,288.6 292.8,352.3 218.8,228.4 268.8,365.6 269,366.3 180.6,286.4 178.9,287.8 180.8,273 231.2,335.5 202,322.9 173.4,279.1 179.5,275.7 176.2,266.7 197.3,311.3 318.9,306.6 321.4,249.9 300.3,357.6 302.7,347.4 199.6,232.8 194.1,232.1 267.5,370.1 324.1,270.3 193.1,312.2 197.7,304.1 236.7,338.1 324.7,251.5 271.7,359 282.4,371.6 322.8,287.4 258,356.6 268,359 183.6,299.5 173.6,246.5 220.8,324.6 190.1,310.8 180.6,279.5 296.2,361.5 206.9,316.4 276.9,356.1 183.1,303.5 185.8,302.5 219.7,324.9 176.1,267.9 177.9,271.2 212.9,319.1 164,270.2 193.9,232.4 304.5,223.9 306.3,347.3 171.1,251.2 248.5,361.4 241.3,346.3 241.2,340.5 278.3,367.1 264.1,365.2 224.7,337.2 255.7,353.4 171.7,282.5 222.4,328.7 303.8,339.7 237.2,345.7 306.7,332 271.4,361.1 254.1,352.6 166,281.3 293,361.8 246.5,349.4 192.1,293.9 221.4,325.9 170.2,253.2 305.2,352 172.7,291.2 188.9,294.5 202.2,307 322.8,286.1 175.1,250.2 171.3,271.9 174.4,242.5 194,239.8 171.3,269.4 205.8,319.2 306.9,334.2 243.9,358.2 278.3,361.1 313,327.5 297.8,220.4 237.4,352.3 194.4,298.1 294.8,354.2 179.4,251.2 312.7,316.9 288.1,364.2 198.2,311.7 230.4,332 299.2,358.2 222.9,329.2 201,236.4 178.3,294.7 280.3,360.2 169.3,267.5 259.4,357.5 294.7,357.9 323.8,253.7 266.7,221.1 207.1,313 276.4,362.8 241.8,224.6 174.9,250.9 183.4,244.2 173.8,277.2 323.2,291.9 166.9,264.8 229.1,345.8 313.7,326.1 222.5,341.1 271.2,362.8 302.7,352.7 170,284.3 165.8,278 284,220.6 193.4,312 267.5,370.5 231.1,337.1 220.9,333.1 253.9,220.1 201.9,305.9 167.5,281 181.5,284.4 284.4,363.3 325.1,278.6 259.5,350.3 214.9,328.9 182,278.5 250.1,352.5 322.5,248.3 220.5,225.2 171.7,271.5 197.9,316.9 190.8,306.9 172.4,256.9 235.4,343.7 169.7,254.8 237,225.5 173.3,260.3 320.1,308.6 180.8,276.3 196.6,235.2 236.8,348.2 161.7,271.3 311,335.6 168.8,279.3 194.1,294.8 183.6,299.2 305,347.9 260.8,364.6 290.3,363.1 306.3,334.9 245.4,344.5 273.5,363.1 195.6,233 195.8,310.5 161.9,268.3 168.8,248.2 170.3,284.5 199.1,232.3 236.1,222.6 179.1,241.2 211.5,323.1 273.8,365.3 318,303 180.8,242.3 201.3,315.3 220.3,226.6 291.8,350.5 181.1,278.7 287.2,368.7 214.8,230.2 202.9,230.3 318.6,314.9 163.3,262.5 171.5,283.7 184.1,282.6 208.9,319.7 299.6,355.8 180.8,275.7 200.5,318.6 236.8,336.5 242.6,353.2 198.5,306.1 281.8,371.2 257.4,356.6 281.7,365.3 243,222.4 168.9,249.4 243.3,344.8 315.5,311.6 191.2,238.2 222.4,224.5 307.6,332.2 190,292.1 174.9,252.6 323.7,251.7 192.6,232.7 237.3,340.4 265,358.7 262.2,360.2 263.3,358.9 216.9,329.8 283.3,219 317.9,299.7 216.7,332 172,289 217.2,325.5 212.4,328.9 177.4,284.9 171.4,278.6 190.6,296.7 307,333.1 168,265 219.9,336.1 177.6,292 221.3,329.9 224.8,340.4 261.9,353.8 217.9,332.2 301.4,348.8 181.1,289.4 195,308.3 164.2,274.2 183.5,288.3 314.5,330.6 275.5,218.7 272.5,364.5 293.8,361.5 183.1,287.2 209.5,230.1 190.3,301.2 169.9,272.8 179.7,250.7 314,330 221.8,339.6 177.1,254.3 320.8,239.7 169.1,256.6 165.3,278.6 324.4,281 280.7,360.7 301.5,344.3 230.3,337.9 262.4,358.3 178.5,274.8 310.4,335.3 170,279.6 277.2,219.3 322.6,242.8 221.1,329 183.8,284 165.5,272.4 256.3,361.8 219.1,324.7 296.9,355.3 171.4,274 211.1,227.3 291.4,358.1 220.8,228.4 242.6,224.3 209.4,328.7 283.9,220.4 267.8,219.5 297,354.5 199.8,303.6 236.1,345.5 210.3,326.1 217.5,319.3 200.8,318.6 186.9,302.1 174.8,260.8 199.5,300.9 203.9,308.9 246.8,223 296.6,346.3 171.6,275.5 264.9,357.1 174.5,286.7 244.9,221.1 202.1,320.2 251,359.9 191.1,311.1 225.2,228.6 260.3,351.7 264.8,352.6 172.3,251.9 324.5,282.4 175,255.5 309.2,333.5 313.1,324.6 178,264.5 164.4,270.9 241.3,223.7 189.3,301.7 235.8,222 192.7,305.5 172.9,284.5 169.9,281.1 177.2,253.2 178.4,251.5 316.2,231.5 191.6,241.3 321.3,248.1 264.2,369.1 206.3,318.2 233.9,351.1 179,281 275.9,359 262.9,364 291.7,357.8 285,355.1 303.5,350.2 226.9,341.6 323.7,285.5 195.4,238 209.9,322.1 186.7,294.3 210.3,324.4 273,365.2 163.8,263.6 311.8,329.7 217.1,230 207.5,323.8 244.2,357.1 298.9,351.5 225.9,338.7 175,246.6 181.5,288.4 183.3,300.1 277.5,367.7 283.6,354.6 274.6,356.8 321,283.9 319,294.3 210.1,227.3 289.6,360.8 202.8,321.4 224.1,343.2 258.6,357 312.1,320.1 270.8,362.1 306.6,337.9 188.6,292.5 318.5,301.6 214.7,330.5 278.1,372.3 213.1,229.5 189.8,307.4 176.3,292.6 291.2,361.3 320.1,303.6 199.8,320.8 310.1,332.9 241.9,344.6 256.8,364.2 204.7,320.9 316,325 179.3,278.9"/>
<polyline class="pb2" points="193.7,291.7 242.1,229.2 291.1,336.6 197.7,292.5 211.1,238.9 259.6,339.9 316.8,244.8 319.6,286.6 200.1,272.8 306.8,315.6 320.8,270.3 251.6,340.2 229.2,310.8 209.2,288.8 200.6,250.8 297.1,343.6 319.3,267.9 230.7,311.7 282.8,222.9 304.4,326.5 312.6,296.4 247.8,342.5 218.4,319 183.1,258.3 292.8,225.8 214.5,314.2 285.6,222.5 301.7,321.5 208.8,307.9 269.2,336.5 228.2,327.1 227.6,327.3 303.1,322.2 277.3,221.8 194.9,254.6 319.1,288.9 298.2,329.3 247.9,340.5 258.8,345.3 205.4,301.7 201.4,291.3 297.4,343.6 303.6,334.2 298.4,328.3 316.9,286.8 236.3,331.8 181,266.3 253.8,223.9 217.2,232.4 220.5,305.8 232.2,320 195,259 245.2,340.7 197.6,274.9 313.8,295.4 202.3,283.8 302.8,328.9 216.8,298 247,327.5 261.4,333.1 222.9,229.7 212.9,240.2 237.8,322.6 257.6,348.4 214.8,300.5 282.1,225.1 199.4,279.7 229.6,317.8 319.7,250.7 275.9,343.5 316.4,287.5 254.6,343.5 184,275 275.6,346 303.9,320.3 201.4,245.7 190.8,259.2 309,321.8 302.2,330.8 291.4,341.9 211.6,235.5 179.4,265.7 245.6,334.6 264.4,342.9 246.5,328 206.7,288.6 321.6,254.9 264.4,224.5 192.5,289 211,309.1 284.5,343.1 230.4,321.8 198.8,276.4 191.8,287.3 263.3,346.6 211,291.2 315.3,236.8 205.2,287.4 292,346.6 309.4,310.1 317.8,245 188.3,245.3 247.7,333.1 257.7,340.1 267.5,344.6 266.4,348.2 184.7,251.5 210.4,293.1 237.7,226 194.9,285.7 191.7,253.6 244.8,337.1 184.7,267 276.4,337.8 300.7,227.8 213,234 193.7,269.6 232.6,313.5 230,314.6 243.3,227.6 268.1,335.7 230.7,312.7 317.5,276 195.5,295.3 234.8,228 189.5,250.3 307.7,326.9 271.1,352.5 318.5,283.9 190.9,256.6 193.7,247.6 192.8,273 319.2,280.8 185.4,254.2 261.5,338.6 273.7,350 249.4,328.5 305.5,230.7 301.4,327.2 200.3,287.4 268.8,353.6 204.4,236.4 318.4,261.5 212.6,295.7 205.1,304.1 257,335.6 249.8,336.5 318.3,276.5 315.9,290.7 211.2,241.6 289.9,334.4 184.7,253.6 248.8,341.4 287.8,345.6 224.3,229.7 291,225.4 221.5,306.7 188.2,282.6 191.6,288.4 198.5,293.7 184.9,275.1 251.1,223.8 227.1,326.4 318.6,270.3 308,326.1 202.9,284 246.8,328.7 207.3,239.1 190.3,253.9 227.3,234.7 253.2,340.7 183.5,267.8 217.1,300.2 231.3,329.9 236.3,326.2 261.7,334.2 226.2,229.4 198.2,247.9 257.5,225.9 200.2,275.3 195.4,287.1 309.2,318.7 314.8,238.6 235.4,227.9 253.5,226.2 290,222.9 318.5,246.9 190.7,277 320.2,261 214,236.7 214.1,303.9 184.6,258.4 214.2,236 195.7,245.9 200.6,239.9 282.3,342 220,236.5 232.3,228.5 219.8,231.5 240.4,329.3 263.3,337.2 273,222.1 237.8,324.1 194.5,281.6 214,298.5 242.9,337.7 303.5,230.2 182.4,270.1 289.2,338.8 280.5,341.3 263.9,349 206,243.7 282.4,347.2 189.9,273.1 311.4,319.7 208,237.2 207.3,297.1 305.1,329.5 192.5,274.7 210.8,291.9 311.5,319.7 192.3,264.5 184.7,258.7 195.9,271 191.7,283.1 245.2,229.4 238.7,322.5 230.1,325 243.2,339 199.9,252.7 243.5,227.4 261.9,350.2 229.2,233.9 188.9,280.8 246.3,327.9 186.2,265.7 191.3,273.8 191.4,249.3 218.2,232.2 235.9,317.4 202,288.3 289.1,350.3 218.2,300.9 188.5,253.9 260.9,334.6 273.6,349.3 219,309.6 202.8,292.9 204.9,305.1 231.9,233.1 250.6,329.5 306.2,227.4 317.8,296.4 277.8,347.6 266.2,223.3 205.1,293.6 182.7,267.4 179.7,261.7 191.7,290.8 229.1,320.1 233.7,328.4 216.2,317.1 216.6,309.8 195.7,286.1 288.6,348.4 222.8,322.8 275.9,354.7 297.9,334.8 209.7,240.8 191.7,272.7 205.6,246.6 220.8,317.9 188.7,278.7 278.3,343.1 296.9,224.2 201.7,248.4 255.9,340.8 190.7,253.4 192.3,282 282.8,224.5 246.2,334.5 248.6,339.6 189.8,272.8 283.7,351.5 279.1,352.1 304.5,318.4 192.2,277.9 298.8,325.9 196.1,254.5 202.5,237.7 212,307.1 275.9,222.5 300.5,335.5 197.4,264.5 197.4,253.3 208.9,242 226.7,228.4 206.5,235.8 202.3,247.3 209.3,302.6 312.9,298.5 188,246.5 316.6,284.3 224.3,317 206.3,302.9 306.1,332.4 299.9,331.2 237.8,332.4 311.1,320.1 312.9,313.8 232.2,324.1 305,321.2 196.1,289.1 286.7,349.5 210.4,235.6 275.4,346.6 221.8,311 289,340.3 197.8,272 306.8,318.3 306.4,318.8 216.3,303.3 216.1,232.6 293.5,345.5 305.3,324.7 199.1,289.8 260.9,336.9 196.1,270.9 189.8,279.6 200.4,300.6 212.7,296.1 202.4,280.2 231.7,314.1 227.1,325 196.5,292.2 240.3,319.8 308.6,322.6 260.1,350.2 278.3,338.2 230.9,229 238.9,329.1 264.5,340.8 197.6,289.9 259.7,224.7 191.3,272.7 252.5,329.9 200.5,294 217.4,238.7 233.5,318.5 218.6,237.7 202.8,282.8 207.6,243.9 308.3,323.2 197.4,259.9 239,333.3 261.6,343.5 217.4,231.7 250.3,343.8 200,248 285.5,346.2 203.3,299.3 316.9,250.5 258.9,337.5 188.3,268 285.4,225.3 238.6,333.1 304.8,231.5 245.4,331.8 213.1,310.8 274.5,350.9 197.4,288.8 244.2,327.7 248.3,224.2 251.6,342.5 211.3,237.5 209,243.4 220.1,315.1 202.5,236.9 294.1,347.5 195,293.5 292.1,226.6 193.4,243.3 289.7,223.1 191.4,265.2 316.3,236.8 290.8,344.1"/>
<polyline class="pb3" points="226.2,244.4 279.6,331.1 235.3,315.5 245.8,311.5 273.7,225.8 212.5,283 235.8,302.5 215.5,274.1 291.6,319.6 211.6,284.2 278.3,323.9 227.3,292.5 252.4,318.1 278.2,334.6 235.6,307.8 311.5,257.3 276.5,327 292.4,232.1 278.7,326.3 312.5,274.3 316.9,270.3 256.5,232.9 239.5,232.5 204,275.1 219.2,275.2 251.2,229.2 316.5,272.9 307,296.7 217.3,271.8 239,236.3 306.7,239.3 214.1,284.6 264.9,329.1 214.5,276 243.8,307.9 276.5,225.7 269.3,226 236.5,304 283.3,320.9 304.2,314.3 267,334.5 207.6,262.8 313,255.2 215.1,251.2 222.8,283.5 269.4,321.1 302.4,312.7 304.1,304.5 305.9,242.2 312.3,245.9 258.1,322 207.5,273.7 307,241.9 244.9,308.1 281.8,318.3 261,330.9 212.5,252.4 242.4,302.3 250.2,314.3 203.2,263.8 272.5,334.7 305.8,297.4 286.8,333.9 261.9,326.7 261.5,321.4 308.8,307.1 275.2,229.2 256,326.1 239.2,239 284.7,329.5 225,245.3 221.5,279.5 244.2,317.6 281.8,321.4 299.2,317 312.1,253.1 224.5,239.8 303.5,233.6 216.9,248.9 209.3,260.1 290.4,230.7 281.5,324.6 286.4,227.7 224.9,236.3 270,334.5 244.5,319.1 206.5,276.9 286.5,317.4 315.4,250.7 215,289.7 279.5,328.1 223.1,287.6 235.2,233.6 220.2,244.6 257.8,227.7 211.1,266.7 234.4,311.5 234.6,233.8 257.1,233 290.8,316.7 316.3,274.2 206.3,251.5 270.5,327.4 203.4,259 235.4,233.2 207.8,276.8 204,250.1 240.4,231.7 285.5,229.3 231.9,296.2 219.9,238.1 251.8,321.1 241,232.7 311.7,265 219.9,279.8 215.2,251.8 213.9,251 256.8,314.4 216.4,254.8 220.3,274.7 222.2,237.8 218.3,265.1 215.3,246.3 280.1,331.7 312.3,277.1 247.4,235.2 306.5,296 236.3,297.3 236,234.1 208.9,250.6 245.8,314.9 227.8,235.7 261,329.8 220.7,285.2 212.9,291.3 241.2,309.1 302.4,318.2 226.1,285 225,294.7 261.2,318.7 203.6,275.6 256.8,230.7 288,328.6 244.2,315 206,263.7 222.7,246.4 212.9,265.1 228.8,236.9 312.8,283.7 258.9,322.1 314.1,275.1 212.4,279.1 306.3,239.6 207.7,250.4 284.2,326.7 273.7,328.4 253.3,316.7 217.7,267 285.2,317.6 282.2,324.3 243.6,230.9 227.1,307.1 250.3,234.1 253.3,231.1 235.9,302.1 253.8,325.2 208.6,274.3 278.3,319.9 306.8,236.5 312.4,289.1 207.8,256.7 300,233.9 216.6,260.2 219.2,270.5 293,324.2 214.7,286.7 255.9,229.2 206.9,251.7 315.9,248.5 258.1,312.6 298.9,324.5 288.6,228 240.2,315 217.4,287.2 214.7,247.5 219,241.3 241.5,307.8 213.8,282.7 289.7,322.3 214.4,267 205.9,269.3 243.9,318.7 214.6,273.9 205.7,254.3 261.6,328.4 233.1,304.1 265.4,332.3 267.8,329 305.6,312.7 201.4,262.7 202.5,264.4 222.1,248.9 257,319.3 312.6,266.2 235,314.8 307.1,291.1 311.5,245.4 307.3,234 214.9,279 312.1,283.5 234.8,312.7 289.7,326.2 228.3,299.2 213.1,276.3 312.8,247 282.4,230 249.8,233.4 218.8,258.2 219.1,272.1 263.1,319.6 241.3,235.7 283.4,318.4 226.8,305.3 247.8,316 225.5,290.5 311.4,278.7 297,318.4 311.3,293.3 250.2,323.9 266.7,230 263,325.9 286.6,226.8 215.2,270.7 208.5,277.6 237.7,307.6 217.9,242.8 214.1,270.8 221.6,278.9 245.2,232.1 208.3,278.3 274.7,228.3 207.3,249.8 287.1,323.6 251.7,234.5 316.9,268 299.7,311 269,321.5 307.4,306 297,326.4 303.8,307.4 218.5,252.5 276.1,228.2 260.8,227.8 284.1,226.7 272.5,328 222.7,288.3 215,248.3 289.4,229.2 206.3,280.9 310.8,292.2 216.3,263.3 267.5,228.1 214,287.2 229.4,236.4 270,330.6 262.4,331.6 267.4,324.3 204.1,256 309.4,288.2 295.1,229.3 228.6,301.9 218.4,297.1 229.2,292.3 259.8,325.6 278.7,227.9 315,265 261,317.7 269.5,323.1 313.5,266.4 209.3,254.3 240.6,313.3 244.9,312.9 283.6,331.2 243.8,319.8 282.3,333.8 278.3,331.2 244.6,316.6 209.4,254.3 218.4,277.7 231.7,310.2 289.1,330.1 265.2,320.3 215.7,251 314.3,266.6 215.9,273.5 285.4,317 218.5,270.3 302.3,234.6 234.2,302.3 313.1,282.4 287.5,318.1 218.6,296.5 243.1,233.4 248.5,325 206.1,255.1 255.4,329.2 272,327.8 256.6,229.3 300.2,321.3 229.4,309.4 285.7,325.7 255.8,316.7 301.4,232.8 281.1,335.6 244,234.6 267.8,226.4 229.9,296"/>
<polyline class="pb4" points="282.6,236.6 290,306 229.7,277.7 243.6,290.8 256.2,301.4 303.5,295.6 301.9,292.4 268.6,234.9 263.7,233.6 244.5,289.2 234.9,261.3 306.4,264.8 301.1,250.5 307.6,283.7 305,258.3 237.2,259.1 302,272.2 267.3,309 271.3,232.1 228.7,271.7 289.2,307.9 285.4,234.8 281.4,313.9 268.8,238.3 238.1,290.8 250.6,286.3 238.1,277.7 240,255.4 225.3,253.7 270.9,296.9 274.8,238.4 238.1,268.9 248.1,295.3 288.1,238.1 256.3,290 237.4,271.5 248.7,295.6 306.9,254 238.7,296.7 231.9,276.2 268.7,313.9 285.7,309.5 237.9,296.1 302.3,271.4 252.6,238.6 307.8,273.1 233.2,270.2 283.9,235.9 282.2,303.1 280.6,232 302.1,250.4 282.6,312.7 228.4,247.6 236.6,246.2 266.5,315.2 228.8,277.6 252.5,303.1 291.4,293.9 298.8,293.9 249.4,298.5 268.7,308 255.2,293.5 294.4,243 283.6,299.5 278.4,310.8 242.1,274.9 234.7,256.8 301.5,240.3 284.3,311.6 254.8,309.8 307.4,273.6 240.4,280.2 243,288.8 238.2,250.6 302.5,285.3 232.8,267 237.5,285 293.2,242 267.2,237.1 260.7,300.2 243.7,287.6 245.5,238.5 232.4,259.1 262.9,232.7 228.6,265.6 302.3,283.8 224.3,265.8 234.2,269 232.8,246.3 283.7,235 293.8,307.7 291.9,303.6 306.6,254.3 270.6,232.1 237.1,252.7 227.9,284.1 282.7,298 245.2,292.2 225.3,276 266,306.5 235.7,250.4 232.2,250.4 270.9,237.5 273.4,310.5 224.3,253.3 225.4,273.6 303.5,275.1 273.6,306.1 250.2,237.6 276.2,236.4 272,308.7 245.1,296.7 244.5,250.3 303.7,286.5 290.2,312.6 246.2,298.3 261.3,236.9 237.2,294.2 243.5,249.5 236.7,275.8 225.9,262.1 301.7,240.3 233.6,276.7 243.6,297.8 248.6,305.9 266,314.4 288,309.5 235.8,294.5 299.9,299.5 259.3,238.1 234.3,244.4 240.8,239.5 250.1,238.6 286,314.8 250.4,243 310.7,269.7 235.6,287.4 247.4,282.6 258.8,293.7 293.3,241.7 242.7,300.9 269.1,236 244.1,277.6 279.6,231.7 255.2,296.1 266.8,233.2 235.8,257.4 240.1,275.2 305.2,250.5 249.1,246.7 239.3,247.5 226.9,260.4 305.1,291.1 288.5,298.2 276.5,236.4 266.5,236.7 237.2,241 235.8,279.3 309.2,274.9 276.9,312.7 231.1,287.4 301,297.5 229.9,280.8 234.9,288.8 284.3,315.5 289.3,239.4 223.3,264.5 262.6,308.7 231,278.3 222.2,273.9 307.1,263.2 280.6,301.7 309.6,255.5 249.9,286.9 263.1,234.8 229.3,251 239.8,244.9 266.8,310.9 255.5,297.9 239,280.9 229.5,286.8 303.9,285.3 237.9,293.3 300.3,292.2 230.1,247.8 265.4,237.5 248.5,303.5 250.2,298.4 292.9,242.5 230,286.1 240.5,297 235.8,265.5 246.9,248.4 249.4,236.9 272.5,311.4 253.4,238.1 304.6,290.4 249.4,295.8 249.6,300 237.5,288.5 272.6,239.4 297.9,246.7 237.6,272.8 249.6,283.4 309.1,274.8 307.5,269.8 272.7,301.7 281,298.5 239.6,260.6 272.4,303.3 252.3,295.9 255.5,303.3 299.2,298.2 245.4,237.1 289.7,236.5 295.8,244.8 252.6,296.9 273.2,300.9 272.4,302.3 256.7,297.5 297.7,289.1 303.3,262.5 249.7,247.9 250.6,298.1 234.2,258.8 286.9,313.1 235.3,265.7 230.9,279.7 252.1,306.1 241.9,251.6 248.5,281.4 306.1,261.8 297,295.9 260.1,292.5 309.5,249.5 248.3,237.3 257.1,237.4 227.7,280.9 276.6,306.7 290.3,239.7 236.4,243.9 261.9,238.5 278.4,314.8 292.7,297.5 252.1,242.4 296.9,299.3 237.3,286.6 224.5,276.6 257.3,299.4 279.8,304.7 223.7,250.1 298.9,301.4 231.7,288.9 299.6,297.4 261.1,292.7 276.3,235.7 243.8,285.3 261,241.6 309.7,274.4 275.6,301.6 263.6,238 235.2,275.9 240.7,278.5 264.2,238.6 253.9,288.1 296.2,306.4 237.5,276.1 229.8,247.2 287.5,238.7 236,252.5 261.3,304.6 288.2,309.2 306.2,277.2 233.7,259.4 221.2,270.8 266.1,235.2 236.6,250.3 269.9,236.8 240.7,254.9 306.2,270.5 224.8,271 239.9,279.3 293.8,301.1 303.4,259.6 274.4,232.7 295.1,236 305.9,243.9 228.7,266.1 258.5,237.4 254,308.3 305.1,256.6 242.5,299.6 263.7,305.5 279.1,312.4 278.6,311.9 310.5,269.8 297,300 255.8,241.4 237.1,290.2 241.3,290.6 237.2,254.7"/>
<polyline class="pb5" points="282.4,263 272.9,262.8 281.5,245.5 287.6,262.8 297.8,261.5 278.8,294.5 274.2,290.5 288.9,263.4 295.6,258.1 269.3,258.4 277.2,297 293.3,271.2 276.1,250.5 260.9,259.7 246.2,251.6 287.4,266.7 264.9,256.8 248.6,258.8 260.8,287.7 262.3,247.9 253.3,263.2 287.9,243.2 256.4,275.7 264.1,262.5 270.6,263.6 247.9,276.1 299.6,257.5 255.8,275 263.4,280.5 256.2,263.9 295.1,280.9 269,276.4 294.6,284 293.5,244.6 263.2,272 268.3,264 282.7,280.1 254.9,246.9 265.4,246.2 266,282.6 270.6,284.5 288.4,259 293.1,279.5 253.2,258.6 254.9,280.8 261.8,263 283.1,281.4 272.3,273.3 291.9,275.3 295.4,277.3 264.2,264.3 270.6,246.9 269.8,281.8 257,265.3 293.4,286 298,256.8 270.5,241.9 281.2,293.2 256.5,260.3 286,262.1 251,260.9 268.7,288.8 248.7,269.1 297.4,251.9 252.4,252.4 257.4,266.5 274.4,277.6 273.4,272.3 282.5,268.7 270.8,278.4 279.4,287.3 270.8,281 276.3,273.4 284.1,267.1 264.6,254.6 284.9,259.3 272.7,290.1 286,268.5 254.4,252.3 283,245.8 278.4,255.6 284,271.2 276.8,268.9 273.7,296 261.7,287.7 264.6,251 260.9,248.6 260.3,242.7 268.4,241.9 283.3,273 271.8,246.6 275.8,261.5 264.6,285.4 252.9,277.5 256.8,288.2 251.5,277.7 270.8,271.2 255.4,278 283.1,261.7 281.9,243.1 292.7,255.9 290.3,255.4 267.1,255.8 241,263.7 264.2,259.3 244.9,253.1 292.5,264.2 286.4,267.2 244.7,271 272,265.9 261.3,259.2 265,243.4 254.8,273.2 264.5,259.7 290,279.4 251.5,260.3 284.3,284.4 272.1,250.4 274.8,267.6 262.8,259.8 287.3,271.2 287.4,260.4 261.4,262.7 256.8,273 285.9,252.2 256.5,259.9 281.8,267.2 284.5,286.4 269.4,287.1 257.6,288.5 269.5,280.2 285.3,247.4 288.2,266.5 297.1,271.1 272.6,288.4 263.6,255.9 269.3,288.4 243.1,257.7 289.9,250.9 258.4,271.9 294.1,244.9 268.3,294.6 260.8,245.5 292.9,270.7 252.9,275.5 257.2,252.1 281,296.2 268.2,279.4 288.9,262.4 260.7,268.8 253.6,278.1 250.6,249 276,240.8 253.1,277.5 277.1,287 287.3,276.2 254.5,269.9 294.1,273.6 274.9,262 276.3,268.2 282,251.5 242.8,256.6 264.6,260.1 249.4,263.8 280.8,246.8 259.3,261.3 285.2,253.7 270.8,291.1 241.6,263.6 264.3,249.4 275.4,263.1 255.9,256.3 262.2,253.8 269.6,277.7 263.9,265.2 264.9,266.1 277.5,293.9 287,284.4 265.6,241.5 284.1,248.2 298.6,258.8 275.4,262.7 294.8,284.6 269.9,263.1 247.9,252.2 259.9,243.9 301.6,262.1 280.4,254.6 294.5,283.3 267.2,288.4 271.3,252.2 271.1,250.7 271.6,244.3 292,261.3 289.3,268.4 281.7,268.2 298.7,263.2 273.1,271.9 259.2,251.6 266.9,258.3 271.4,272.1 256.4,271 260.9,286.2 260,283.5 268.8,247.8 241.9,259 275.2,290.2 255.5,245.3 254.1,284.1 281,282.9 282.7,277.3 266,267.8 272.1,272 267.1,253.2 244.6,274 267,255.9 296.8,269.6 277.8,282 254.8,264.4 290.9,248.5 251.7,277.5 259.7,271.6 247.8,276.4 285.9,282.3 286.4,246.9 250.1,250.2 273,278.8 268.8,295.3 271.3,279 274,261.1 279.9,254 272.9,284.8 264.6,290.5 268.8,286.5 266.8,279.3 258.5,262 283.7,252.5 283.3,242.4 247.3,275.3 280.7,248.7 280.5,244 267.9,283.7 276.3,285.5 255.2,274.7 243.2,270 255.6,283.5 270.2,285.3 246.1,271.6 294.9,251.5 277.3,271 265.1,285.9 271.7,287 252,265.3 276.5,255.7 267.4,276.7 271,279 254.4,265.8 295.4,285"/>
</g>
<g clip-path="url(#c1)">
<line x1="577.8" y1="415.0" x2="934.2" y2="82.9" stroke="#7f7f7f" stroke-width="1.8" stroke-dasharray="11.44 2.86 1.79 2.86"/>
<g fill="rgb(236,98,30)" fill-rule="evenodd" filter="url(#bl1)"><path d="M835.8 329L831.8 328.8L825.8 326.6L813.8 317.9L750.8 254.9L679.8 192.9L673.2 184.9L671.1 180.9L670.1 176.9L671 170.9L673.3 166.9L677 162.9L685.2 156.9L695.9 150.9L711.8 143.6L729.6 136.9L765.8 126L783.8 121.9L803.8 118.5L831.8 116.1L843.8 116.4L855.8 117.8L865.8 120.2L873.8 123.5L879.8 127.2L885.8 132.7L891.5 140.9L894.9 148.9L897.3 158.9L898.3 168.9L898.3 182.9L897.1 196.9L890.9 228.9L885.2 248.9L878.9 266.9L871.8 284L863.8 300.3L855.8 313.5L849.8 321L841.8 327.3Z" fill-opacity="0.030"/><path d="M841.8 311L835.8 312.3L827.8 311.1L819.8 307.4L809.8 300.4L795.8 288.2L704.7 202.9L692.8 188.9L689.6 182.9L688.3 178.9L688.2 172.9L689.5 168.9L695.4 160.9L702.8 154.9L712.8 148.9L725.1 142.9L740 136.9L769.8 127.5L803.8 120.4L831.8 117.9L853.8 119.3L861.8 121.1L869.8 123.9L877.8 128.4L883 132.9L887.8 138.9L891.9 146.9L894.9 156.9L896.2 166.9L896.5 178.9L895.7 190.9L890.9 218.9L886.7 234.9L880.6 252.9L873.8 269.4L867.8 281.6L861.8 291.7L853.8 302.2L847.8 307.6Z" fill-opacity="0.031"/><path d="M837.8 297.1L829.8 296.8L821.8 294.2L811.8 288.6L801.8 281.2L783.8 265.9L754.5 238.9L731.6 216.9L718.3 202.9L708.1 188.9L705.4 182.9L704.1 176.9L704.7 170.9L706.2 166.9L710.3 160.9L714.3 156.9L722.4 150.9L732.9 144.9L756.6 134.9L785.8 126.4L813.8 121.4L835.8 120.1L855.8 122L863.8 124.2L871.8 127.7L877.8 131.7L883.1 136.9L887.2 142.9L890.7 150.9L893.1 160.9L894.1 170.9L894 182.9L892.6 196.9L886.5 224.9L881.3 240.9L875.8 254.5L869.8 266.7L863.8 276.6L857.8 284.5L851.8 290.5L845.8 294.6Z" fill-opacity="0.043"/><path d="M841.8 285.3L833.8 286.2L825.8 284.8L815.8 280.6L805.8 274.4L791.8 263.6L771.8 246.1L749.4 224.9L734.1 208.9L721.8 192.9L717.8 184.9L716.2 178.9L716.1 172.9L717.8 166.9L721.6 160.9L727.5 154.9L742.8 144.9L765.8 134.9L789.8 127.9L815.8 123.3L837.8 122.2L855.8 124.2L863.8 126.5L869.8 129.2L875.5 132.9L879.9 136.9L884.5 142.9L887.5 148.9L890.1 156.9L891.7 166.9L892 176.9L891.3 188.9L886.5 214.9L877.8 241L871.8 253.9L865.8 264.2L859.8 272.3L853.8 278.5L847.8 282.7Z" fill-opacity="0.044"/><path d="M837.8 275.1L829.8 274.9L819.8 271.9L809.8 266.7L799.8 260L783.8 247.2L767.9 232.9L751.9 216.9L741.5 204.9L735.6 196.9L731.1 188.9L728.3 180.9L727.8 174.9L728.7 168.9L731.6 162.9L736.4 156.9L740.9 152.9L757 142.9L776.6 134.9L799.8 128.5L821.8 125.1L841.8 124.7L857.8 127.3L869.8 132.3L875.8 136.7L879.6 140.9L883.6 146.9L886.8 154.9L888.6 162.9L889.5 172.9L889.3 182.9L887.9 194.9L882.2 218.9L873.5 240.9L867.8 251.3L861.8 259.9L855.8 266.3L849.8 270.9L843.8 273.7Z" fill-opacity="0.058"/><path d="M841.8 265.3L833.8 266.1L825.8 264.9L815.8 261.1L805.8 255.4L791.8 245.3L777.8 233.3L763 218.9L752.4 206.9L746.4 198.9L741.7 190.9L738.6 182.9L737.6 176.9L738 170.9L740.1 164.9L744.1 158.9L750.2 152.9L763.8 144.1L781.8 136.4L801.8 130.7L823.8 127.3L841.8 127L857.8 129.8L869 134.9L873.8 138.5L877.8 142.8L881.6 148.9L884.1 154.9L886.1 162.9L886.9 170.9L885.9 190.9L881.6 210.9L873.8 231.7L863.8 248.7L853.8 259.2L847.8 263Z" fill-opacity="0.062"/><path d="M843.8 255.2L835.8 256.6L827.8 255.9L817.8 252.6L807.8 247.4L795.8 239.1L783.8 229.1L771.8 217.6L762.3 206.9L756.4 198.9L751.8 190.9L748.7 182.9L747.8 176.9L748.2 170.9L750.2 164.9L754.1 158.9L760.2 152.9L772.4 144.9L789.8 137.4L807.8 132.5L827.8 129.7L843.8 129.9L857.8 132.9L867.8 137.8L875.3 144.9L880.8 154.9L883.9 168.9L883.4 186.9L879.8 205L873.3 222.9L863.8 239.4L853.8 249.8Z" fill-opacity="0.079"/><path d="M841.8 247.2L833.8 248L825.8 246.9L817.8 244.1L807.8 238.8L797.8 232L785.8 221.8L775 210.9L767 200.9L759.2 186.9L757.2 178.9L757.1 172.9L758.5 166.9L761.7 160.9L767.1 154.9L772 150.9L785.8 143L799.8 137.8L815.8 134L831.8 132.3L845.8 133L857.8 136L866.6 140.9L873.8 148.2L878.9 158.9L881.1 172.9L880.1 188.9L875.8 206.5L869.8 220.8L861.8 233.3L857.8 237.8L851.8 242.7Z" fill-opacity="0.086"/><path d="M843.8 237.3L837.8 238.5L829.8 238.3L821.8 236.3L813.8 232.8L803.8 226.6L794 218.9L785.6 210.9L777.8 201.6L773.2 194.9L769.3 186.9L767.5 180.9L767 174.9L767.9 168.9L770.5 162.9L775.2 156.9L779.7 152.9L789.8 146.5L803.5 140.9L817.8 137.3L831.8 135.7L843.8 136.2L854.9 138.9L862.8 142.9L869.8 149.4L874.9 158.9L877.3 170.9L876.9 184.9L873.9 198.9L868.4 212.9L861.8 223.6L853.8 231.8Z" fill-opacity="0.109"/><path d="M839.8 229.1L833.8 229.6L825.8 228.4L817.8 225.4L809.5 220.9L801.3 214.9L792.7 206.9L786 198.9L781 190.9L778.4 184.9L777 178.9L776.9 172.9L778.4 166.9L781.8 160.9L785.4 156.9L796.7 148.9L807.8 144.1L819.8 140.9L831.8 139.5L841.8 139.8L849.8 141.4L858.1 144.9L865.4 150.9L869.5 156.9L872.7 166.9L873.5 176.9L871.8 189.9L867.8 202.4L861.8 213.4L855.8 220.6L847.8 226.4Z" fill-opacity="0.123"/><path d="M841.8 219.3L835.8 220.2L829.8 219.8L823.8 218.3L815.8 214.6L809.8 210.8L802.6 204.9L796.9 198.9L791.8 191.6L787.4 180.9L786.8 174.9L787.3 170.9L789.6 164.9L792.3 160.9L796.3 156.9L801.8 152.9L809.8 148.8L819.8 145.7L829.8 144.1L837.8 143.9L845.8 145L853.8 148L859.8 152.2L863.8 156.9L867.4 164.9L868.7 172.9L868.2 182.9L865.8 192.9L861.8 201.9L855.8 210.4L849.8 215.6Z" fill-opacity="0.140"/><path d="M839.8 209.3L829.8 209.3L823.8 207.6L817.8 204.6L807.8 196.5L803.2 190.9L800 184.9L798.2 178.9L798 174.9L800 166.9L802.6 162.9L806.6 158.9L817 152.9L823.8 150.7L831.8 149.5L837.8 149.5L845.3 150.9L850.2 152.9L855.7 156.9L860.9 164.9L862.4 170.9L862.6 178.9L861.6 184.9L858.7 192.9L855.1 198.9L849.8 204.4L845.8 207.1Z" fill-opacity="0.163"/><path d="M841.8 195.2L835.8 196.6L827.8 195.3L821.8 192.1L815.8 186.1L812.5 178.9L812.4 172.9L815 166.9L819 162.9L827.3 158.9L835.8 157.9L843.8 159.6L847.8 162.1L850.4 164.9L852.6 168.9L853.6 172.9L853.1 180.9L849.4 188.9L845.8 192.7Z" fill-opacity="0.194"/></g>
<polyline class="po0" points="835.5,336.4 611.9,211.7 609.5,288.9 587.9,127.4 907.8,277 922.9,228.3 645.6,112.2 589.9,403.5 654.7,236.4 808.1,297.1 857.6,310.7 712,366.1 722.8,332.5 887.5,245.4 579.7,254.6 853.9,332.9 861.6,116.3 851.2,119.1 676.7,212 588.3,167.3 889.5,132.6 599.7,258.4 715.4,275.3 922.5,165.3 632.7,168.9 847.9,326.8 863,332.4 624.3,200.6 644.6,185.6 905.8,255.6 799.1,308.5 809.2,390.1 837.6,97.2 613.3,146.9 875.1,371.4 871.9,288.2 593,251.9 773.2,313.6 647,295.7 680.9,253 797.4,122 673.4,158.3 723,138 674.8,136.4 881.2,126.7 633.2,356.9 768.7,284.8 666.1,190.8 674.6,162.1 851,359.3 845.6,335.1 735.1,125.4 673.7,234.5 903.9,162.4 897.3,161.8 764,272.6 756.4,248.7 793.5,313.8 580.6,282.7 783.2,384 876.3,265 650.5,299.3 606.8,396 713.1,275.2 887.3,276.1 840.4,359.8 709.9,239.1 777.3,281.7 765,396.4 597.1,340.1 646.3,195.8 688.5,236.1 651.7,230.6 743.5,382.1 823.2,374.4 646.6,231.2 748.2,303.8 840.2,411.3 633.4,152.5 742,241.6 764,275.9 680.7,152.8 708.6,209.5 841.4,350.4 894,268.4 752.9,127.4 615.9,191.1 781.4,330 653.9,342.2 702.1,263.2 798.6,332.4 831.4,393 585.3,186.3 803.2,416.4 684.1,161.1 869.1,124.9 744.7,245 877.8,350.5 654,178.1 828.1,309.5 810.5,294.7 610.3,189.3 870.3,371.1 808.1,104 701.2,215.1 752.7,322.2 825.7,380.6 883.3,239.9 749.2,238.7 741.7,291.8 858.4,306.6 858,291.7 697.6,129.6 892.2,319.5 722.7,118.5 853.5,354.9 588,125.3 663.5,352.6 867.8,411.9 730.5,130.9 830.8,314.6 783,302 783.3,330.5 593.6,280.8 664.2,188 616.2,201.2 772.7,126.8 599.4,192.8 913.8,138 894.5,232.6 610.2,173.2 708.2,414.5 820.2,385.3 805.8,297 734.4,114.5 618.3,347.5 843.4,366.9 799.9,289.7 871.7,274 613.7,225.9 816.4,394.2 595,331.9 592,152 662,296.3 612,279.2 728.9,349.6 852.6,304.4 612.1,183 782.5,392.3 673.4,183 886.9,304.4 632.4,211.1 668.1,372 620.4,415.1 857.1,389.3 741,352.9 605.9,190.9 760.7,125.6 896.8,240.7 600.3,192.2 802.6,352.1 723.9,137.8 593.6,162 831.6,374.4 785.6,319.2 630.8,274.4 731,281.1 781.2,368.6 698.9,210 647.6,398.9 737,296.7 594.1,157.3 595.1,169.9 592.1,116.6 769.2,113.7 657.6,215.8 757.2,345.8 755.6,249.4 788.1,376 775.6,290.5 710.5,321.8 906.7,214.4 787.9,114 684.3,210.2 790.4,305.4 750.2,239.8 706.8,325.1 698.3,166.3 588.3,118.6 906.6,117.6 902.1,264.2 788.5,291.2 659.5,157.7 652.1,217.3 779.4,369.5 824.5,398.4 633.3,116.9 807.1,363.2 623.9,153.7 674.6,175.1 626.2,192.7 713.4,137.1 694.5,350.1 845.5,394.8 794.9,327.5 604,395.6 766.8,282.5 683.1,232.6 794.2,331.8 867.2,89.7 657.2,182.2 836.8,335.4 661.1,283.4 704.5,145 825,341.2 637,145.1 769.8,327.6 861.3,119.2 702.6,406.2 596.9,119.5 721.7,238 622,201.9 590.6,166.6 588.4,145.2 907.2,115.8 869,391.6 627.7,189.4 595.8,154.3 715,259 907.9,226.2 626.8,295.8 905.9,184.4 591.8,194.2 669.9,187 807.9,310.1 802.7,119.6 739,355.4 606.6,163.7 644.6,204.3 640.9,189 655.7,412.6 704.4,144.9 758.3,305.6 698.8,195.4 828.5,401.9 738,291.8 772.4,300.1 892.1,226.2 788.2,108.7 777.8,336 671,162 663.7,174.1 734.9,315.8 595,255.6 712.3,244.6 645,238 890.3,417 655.5,249 718,341.9 886.3,271 870.4,295 738.3,244.5 765.9,403.3 809.2,360.3 867.1,404.2 877.8,337.6 788.6,319.2 750.9,279.8 637.2,235.9 676.5,227.7 680.8,174.4 731,237 814.7,316.4 698.1,240.3 647.1,198.3 858.2,314.2 725.3,145.5 652,115.2 777.4,336.8 781.4,277.2 870.6,289.8 602.9,249.6 644.6,345 680.2,217.5 893.4,137.1 813.3,313.9 668.9,184.2 648.3,211.6 665.7,138.9 777.8,328.4 584.5,335.8 829.7,350.5 883.6,253.3 842.9,344.1 889.3,121.3 665.3,309 655.5,205.1 723.2,127.4 688.8,198.7 694.3,343 846.9,115.3 768.4,281.7 732.1,250.7 798.8,387.8 650.4,165.9 641.8,248.4 706.9,146.8 749.4,296.1 722.6,261.7 691.2,158.5 660.5,132.3 595.1,196.5 893.2,305.5 869.7,287.1 752.7,301.9 798.1,293 715.3,138.3 695.2,234.1 695.4,159.6 790.2,364.1 784,274.5 623.4,174.8 712.1,395.9 825,318.9 671.5,333.7 755.1,123.9 873.3,325.4 784.8,328.1 709.1,322.6 897.5,195.8 875.8,265.9 835.4,370.8 687.4,122.9 763.3,277.2 584.7,209.8 883.8,333.2 882.6,306.2 720.6,218.1 639.4,189 865.1,362.2 741.1,232.8 677.4,151.8 617.8,330.7 577.6,183.2 888.2,104.1 759.4,275.9 681.9,364.3 598.3,202.8 826.5,315 666.8,185.5 904.4,270.6 749.5,336.5 896.9,200.9 897.5,194.7 669.3,279.9 769.7,372.1 713.5,237.1 825.5,311.1 712.4,379.7 752.1,256.6 653.4,191.3 886.5,250.5 879.9,124.6 868.5,306.3 887,270.5 799.6,407.3 604.5,171.8 813.1,372.3 638,255.2 768.4,379.3 701.5,223.8 605.5,159.6 891.2,315.2 674.4,337.5 873.4,331.2 707.6,234.4 714.4,269 895.9,274.8 775.1,264.3 723.1,117.9 669.4,151 695.6,235.4 732.9,238.7 916,282.5 587.9,355.5 584.8,248.5 739.5,281.4 709,248.3 898,192.3 884.7,241 699.2,209.3 591.7,163.9 695,185.1 845.4,348.6 646.8,140.8 839.8,116 704.4,254.4 823.7,354.3 626.5,192.2 870.9,379.2 627.9,362.9 839.2,341.3 844.7,409.3 580.9,283.2 602.3,349 872.3,386.4 653.2,226.2 857.6,357.9 596.3,177.6 797.2,331.4 739,235.8 721.4,296.2 845.9,367.8 853.9,119.4 858.7,406.9 702.2,231.6 681.5,160.4 700.8,164.3 765.3,314.1 699.6,164.1 901.6,192.8 630.5,190.3 902.6,179.7 769.9,277.6 834.1,333.7 641.2,355.9 661,167.6 715,144.3 770.6,300.1 786.6,382.2 741.9,256.4 825.5,408.1 843.2,326.6 771.8,278.9 894.1,223.4 814.4,337.2 899,159.1 663.1,277.2 661.6,134.7 874.8,390.1 813.8,354.9 801.8,307.9 657.9,202.1 861.9,348.2 861.4,288.6 800.3,340 700.4,156.9 760.1,356.2 682.8,352.9 672.7,172.7 655,278.2 754.1,397.5 790,293 875.1,105.2 793.1,321.7 843.2,329.3 719,336.1 715.2,130 899.1,255.3 609.2,180.3 823.9,319.8 826.6,415.1 717.8,121.9 852.4,397 808.9,298.6 705.5,291.7 586.8,169.8 787.1,306.8 807.7,355 791.4,299.8 637.2,254.4 765.6,293.6 641.2,349.1 893.8,361.8 740.2,241.9 694.5,225.6 838.3,315.6 680.3,281.1 771.3,403.6 711,365.3 602.1,199.1 743.2,250.1 845.7,381.4 775.4,367.9 639.3,374.5 671.9,209.7 659,377.5 625.6,401.1 868.6,416.7 749,134.1 721.5,245.6 892.8,231 781.2,342 829.7,343.8 901.3,157.3 882.4,371.7 681.6,167.3 589.4,376.7 747.7,118.2 762.7,351.5 743.8,107.7 847.8,316 780.2,332.8 862.3,111.9 904.3,206.4 688,185.1 695.7,320.9 698.2,249.9 879.6,125 925.5,315.3 745.5,326.2 688.4,145.7 737.4,231.2 857.6,320.2 765.4,296.3 726.4,263.3 701.1,247.9 726,252.6 717.4,212.9 812,417 636.9,231.1 680.6,156.9 609.6,178.7 768.8,331.4 672.2,361.7 711.6,237.3 758.9,336.6 772.8,283.6 744.1,389.7 804.6,315.8 678.1,219.5 585.8,236.8 654.4,192.3 669.7,207.4 768.3,306.7 740.9,258.9 631.8,256.9 834,407 819.5,365.7 682.7,160.2 862.9,387.9 719.6,218.4 708.4,247.9 660.7,340.6 640.1,230.7 621.3,391.6 724.1,278.3 717.7,259.6 855.8,348.8 798.6,335.5 846.1,380.3 704.8,202.6 751.3,356.2 815.3,376.6 610.6,197 834.5,323.6 842.9,406.2 909.7,251.6 597.7,152.6 790.5,403.7 652.5,279.4 892.9,280.9 589.9,218.1 674.6,170.9 859.9,413.2 749.2,262.3 747.2,330.3 666.1,251.5 784.8,341.7 746.8,135.8 919.1,169.7 733.6,237.8 635.3,343 702.4,148.9 620.5,228.9 860.1,365.1 775.8,383.7 646.3,174.6 580,194.7 597.7,216.9 776.6,320.8 774.5,121.6 589.6,195.8 583.3,180.4 838.7,337.3 637.8,359.2 816.3,314.1 770.5,301.1 767.4,405.1 764.3,109.5 698.1,200.5 594.3,213.5 668.7,130.6 786.9,377.7 632.2,283.5 894.2,122.5 750.9,112.7 784.7,272.3 887.9,229.4 707.3,211.1 771.1,263 586.9,171.3 720.6,254.5 704.1,280.4 689.8,231.2 575.2,273.5 656.9,233.4 626,347.2 789,364.7 732.7,288 858,321.3 734.7,128.4 892.5,291.5 815.1,360.6 625.1,250.4 669.5,228.1 626.7,314.2 805.1,375.4 832,317.5 858.5,344.8 694.9,174.5 612.6,161.5 801.3,287.5 605.3,236.3 730,251.3 639.3,214.9 895.6,197.3 588.4,192.2 817.6,339.3 599,241.8 807.4,81.1 592.8,396.1 695.4,290.1 807.4,310.8 619.1,195.5 724,331.7 672,210.7 876.7,389.5 710.5,219.1 624.5,200.4 710.8,307 683.1,212 643.9,165.5 892.9,212.1 767,115.6 789.9,331.9 870.3,280.6 758.8,254.6 651,182.7 789.9,289.5 720.6,277.5 912.1,148.1 702.9,296.5 638.7,116.6 701.3,216.8 887.2,270.2 869.9,110.8 661.3,189 786.4,116.3 731.5,134.9 833.1,361.1 869.4,369.3 680.4,218.9 787.5,409.7 881.2,363.3 838.7,372.9 894.7,160.1 668.6,146.7 590.1,141.5 819.9,412.5 849.8,350 602.3,190 879.8,339.1 647.9,145.1 665.7,165.5 791.9,293.1 587.8,170.4 777.4,332.9 854.4,372 614.7,117.2 860.9,318.9 817.9,389.8 818,317.4 718.4,225.9 612.8,250.8 784.6,110.2 876.3,296.2 776.6,337.5 823.5,115 752,377.1 812.6,306.3 763.5,380.6 745,415.1 778.7,119.8 725.1,247.9 713.6,127.1 704.8,142.9 801.3,386 684.2,256.4 777.6,287.3 753,401.3 593.3,209.7 865.2,331.5 727.6,232.7 808.3,313.2 597.6,148.6 840.2,416.1 743.6,341.8 727.4,337 826.8,372 812.3,306.5 771.7,388.8 694.8,131.2 818.5,306 901.2,227.4 802.7,313.6 723.3,348.7 752.2,357.5 689,162.1 634.9,216 695.1,307.7 692.6,130.9 735.3,282.8 865.8,314.3 681.7,214 644.3,149.1 599.1,199.8 883.2,279.2 702.7,156.4 675.3,242 827.9,322 828,377.5 667.5,135.6 835,306.4 693.3,257.5 745.1,292.6 581.8,147.2 609.8,201.2 816.5,353.6 684.4,246.4 738.8,337.7 809.6,316.7 797.7,102.1 686.6,293.2 750.1,383.5 733.4,268.1 726,257.4 697.2,371 588.5,197.5 748.4,404.3 766.6,337.7 818.2,311.8 635.7,233.6 747.5,391.7 873.5,97.6 794.7,303.2 726.7,134.8 783.4,322 578.5,164.8 873.1,335.5 905,202.9 692.1,136.3 751,265.7 763,402.9 867.1,312.3 854.9,411.3 771,319.8 619.7,196.9 574.8,229.8 793.1,332.3 784.7,282.4 594.6,176 738.1,121.1 821.8,369.4 814.5,412.5 724.7,225.7 681.7,210.8 633.9,279.9 794.6,412.8 762.1,327.4 665.1,152.8 733.2,238.2 864.7,394.3 719.6,226.9 654.7,186.9 841.1,361.5 659,222 794,389.3 856.3,119.8 726.1,268.5 680.5,139.5 720.3,136.1 651.1,206.7 581.5,160.3 584.7,342.9 815.4,117.5 660.9,257.9 642.4,227.8 618.6,190 886.1,237.8 622.5,179.3 636.2,287.8 683.4,135.4 875,311 817.5,337.7 696.1,157 782.1,277.3 706.7,219.6 714.8,242.8 679.8,189.5 783.1,365.6 754.6,341.8 882.8,369.9 901.3,171.4 740.3,281.1 698,142.7 858.9,363.6 810.9,107.8 764.6,372.5 856.5,98.6 876.5,382.7 755.9,278.8 832.6,362.4 789.5,342.2 744.3,267 861.7,369.5 895.2,414.7 764.1,314.5 620.8,220.6 779.5,121.7 708.2,307.8 671,214.9 685.2,153.6 616.9,224.5 579.3,178.1 731.9,230 913.1,128 661.8,285.5 718.2,143.4 800,359.5 902,236.7 597.6,183.8 706.1,205.2 694.1,222.7 663.5,237.3 799.4,389.6 851.2,111.2 809.3,311.5 860.3,382.2 673.4,339.5 596.4,179 683.8,287.8 577.2,211.2 581.2,179.1 714.7,269.9 816.9,117 634.7,254.9 860.6,115 706.5,216.4 625.4,353.7 604.5,163.8 846.6,108.8 694.6,151.6 638.4,282.3 814.7,402.1 890.6,398.5 748.5,296.1 799.3,312.4 639.6,186.9 895.4,211.7 794.2,311.2 628.4,150.7 766.8,383.8 797.5,341.1 641.2,157.4 608.9,190.1 707.6,231.3 596.8,247.6 735.5,319.6 717.8,235.8 766.6,367.5 719.1,142.1 657.3,140.8 713.7,316.3 828.8,371.9 885.5,118.8 759.4,259.1 764.8,352.4 590.5,256.2 755.1,270.6 830.7,116.7 775.2,266.9 738.6,267.2 892.6,329.7 886.8,233.3 725.8,235.1 658.9,187.5 645.7,215.7 907.7,151.5 864.7,408.1 670,360.9 648.7,112.8 641.6,289.6 612.3,176.5 647.1,208.1 778.4,405 587,138.9 902.4,287.1 678.6,164.8 685.9,200.6 715.8,240.3 832.3,410.9 832.8,343.1 632.6,265.8 574.5,210.4 713.2,270.4 615.8,186.9 654.2,239.3 859,325.6 899.1,133.1 676.7,223.9 923.4,181 827.7,398.3 763.5,267.5 897.3,173.8 832.8,345 588.8,181.9 646.3,370.4 679.9,300.1 608.7,180 610.2,179.9 797.1,320.9 663,145.6 682.7,158.1 693.4,203.8 600.7,386.8 864.7,294.5 697.5,199.7 818.3,308.8 879.1,123.7 778.8,304.9 747.4,268.9 746.3,311.5 850.1,119 658.5,176.3 662.7,181.7 821.2,117.1 622.5,146.3 662.3,220.8 812.5,402.1 698.9,185.8 709.5,343.6 867.7,373.7 693.5,213.8 700.7,229.8 581.1,122 635.3,279 783.4,374.3 592.9,145.5 885.6,250.1 811.8,344.2 764.4,275.9 813.9,356 878.5,280.1 833.9,388.1 681.5,375.5 903.7,197.4 714.5,362.1 591.4,190.6 749.8,285.7 872.8,275.4 584,132.1 714.8,125.9 748.7,307.8 888.8,222.4 802.8,347.3 858.9,107.4 877.9,371 647.2,192.2 691,216.2 623,166.9 680.5,147.3 741,118.9 898.4,181.8 616.1,266.4 652.5,362.9 844.8,326.5 601,409.2 851.7,321 664.2,121.9 870.3,281 688.2,205.3 815.5,390.5 733.2,371.8 574.5,324.5 643.9,166 629.6,391.7 643.8,257.5 636.2,305.7 763.9,361.9 678.7,131.9 693.8,220.4 817.6,369.9 870.9,292.5 689.9,146.7 748.2,279 631.1,133 635.5,374.7 874.4,272.1 799.8,336.2 841.8,345.9 648.5,200.1 899.7,219.2 625.9,147.1 836,306 726.7,143.7 728.5,248.7 662.1,208.7 642.8,400.5 659,139.6 671.1,167.2 799.9,332.4 897.5,296.8 696.7,182.2 585.2,174.7 806.2,310 594.3,259.7 661.3,129.9 783.8,279.1 711.5,268.1 606.3,146 899.3,203.6 615.1,191.7 853.3,369.9 692.8,225.7 639.4,151.9 703.2,151.2 741.9,306.4 845,112.3 699,160 600.1,320.8 688.2,146.2 658,201.8 653.5,164.1 822.6,333.3 834.3,366.3 814.6,349.5 694.6,143.7 873.5,273.6 639.7,195.5 603.5,174.3 791.1,311.8 667.2,266 795.9,355.7 735.7,391.1 878.3,295.6 689.2,180.6 714.7,351 650.7,145.2 661.9,208.4 782.9,327.6 866.5,120.9 846.6,114.7 853.5,396.8 730.4,236.4 703.4,141.4 613,111.6 821.1,300.7 690.3,389.2 885.9,374.2 859.4,318.6 711.7,251.6 899.4,247.8 614.1,205.8 879.3,391.4 882.7,243.9 698.3,128 795.3,360.6 739.9,122.9 730.1,239.2 735.2,322.9 869.3,376 891.2,226.7 759.5,327.7 861.2,393.2 632.2,249.7 903.2,153.7 623,158.4 741.7,283.4 633.4,187.4 794.5,325.8 787.8,336.8 867.5,307.6 626.1,341.1 895.9,259.6 739.4,244.1 768,366 680.8,211 658.8,162.2 829.2,387 595.8,155.9 785.8,315.7 772.7,263 889.4,339.4 899.2,140 690.3,94.5 793.1,298.1 600,202.1 781.6,325.4 897.1,179.7 903.9,213.3 679.7,200.3 807.5,397.1 731.8,305.5 819.1,327 832.3,380.3 642.4,113.6 627.1,147.8 829.2,355 604.6,396.8 835.8,316.3 679.7,169.9 648.8,256.8 875,261.6 795.8,286.7 836.9,355.8 589.7,208.1 854.8,373.1 705.8,272.9 720.8,245.2 720.2,370.5 719,369 628.7,183.2 707.2,224.8 643.6,230 681.7,391.2 899.8,127.2 595.2,345.3 723.3,257.5 809.4,334.3 930.1,134.3 903.3,139.2 721,372.4 696.9,237.8 814,327.4 770.4,391.2 673.4,165.1 731.6,142.4 731.6,229.1 756.3,347.5 703.9,233.6 801.4,378.3 896,187.1 600.2,130.3 699.3,235.4 702,210.7 679.6,373.4 642.3,171.7 863,408.6 676.6,182.2 677.8,159.5 670.5,135.6 897.2,217.4 622.9,105 583.6,143.9 595.8,148.7 652.8,145.3 647.1,155 692.8,133.5 705.4,199.3 894.4,368.6 898,281.8 899.8,183.3 783.4,316.7 718.5,228.4 605.1,281.1 710.7,384.6 808.2,377 647.1,153.4 590.2,414.7 644.7,356.8 768.4,281.3 727.7,296.8 875.5,402.7 881.6,270.5 723.3,215.9 606.9,234.2 897.4,314.6 837.4,118.6 597.7,301.9 734.4,265 848,300.8 714.9,330.3 744.3,392.1 646.5,174.7 659.3,168.9 742.1,136.4 881.9,99.8 881.4,284.2 707.8,136.9 783.5,323.9 577.3,206.8 832.4,391.4 804.2,390.5 864.9,376.9 702.5,404.8 587.5,225.2 761.6,366.1 803.1,346 734.4,259 917.6,285.9 603.8,139.2 892.2,240.7 756.2,388.6 794.9,349.6 737.4,248.7 705.6,145.3 649.5,178.5 704.4,292.8 664.4,195.6 797.6,307.1 632.7,140.6 818.2,371.9 766.9,378.1 683.9,138.7 686.6,285.2 586.3,160.7 821.5,321.9 661.4,202.4 796,118.9 804.4,341 590.5,232.9 847.8,385.1 869.3,313.2 631.9,183.5 601.6,186.8 823,364.6 810.2,297.4 802.6,374.5 681.8,193.6 664.6,167.6 670.9,120.4 711.4,207 726.3,138.3 827.2,332.7 623.9,179.1 808.1,337.5 612.2,307.2 870.7,344.8 840.7,398.6 692.6,207 760,328.1 604.2,210.8 713.3,285 757.9,129 626.3,185.7 879.3,328.7 633.2,165 609.7,290.7 750.7,247.9 694,214.1 772,287.8 842.4,399.6 615.8,280.3 697.6,228.3 791.3,338.4 685,203.9 836.6,339.3 747.4,268.9 645.6,307.5 680.2,223 768.7,324.9 577.8,226.1 656.1,180.5 700,237.4 622,179 844.2,303.2 722.2,366.1 862.7,99.3 713.6,219.5 814.1,309.7 676.2,191.6 623.6,252.3 801.2,406.7 683.9,359.1 889.3,329.1 677.6,254.9 648.6,145 685.5,230.2 651.3,376.4 881.5,394.2 685.8,315 785.2,294.4 846.5,361.9 826,415 856.3,299.3 618.5,307.6 870,416.8 748.2,245.6 862.4,319.1 828.9,401.8 850.2,299.1 873,390.1 795.8,301.3 915,283.5 762.6,126.9 575.4,251.9 655.3,338.3 755.1,282.4 724.5,312.7 822.7,376 830.2,117.7 728.6,235.5 642.2,179.2 880.3,300.3 802.3,96.1 672.2,148.8 822,115.3 772.4,320.4 801.3,316.7 718.9,237.1 729.3,142.1 655.8,224.5 619.7,114.4 637,144.3 777.6,287.1 843.4,108.5 730.9,229.3 671.4,236.4 665.7,160.8 763,256.7 603,154.6 864.1,312.7 576.2,216.6 694.9,130.5 700.8,262.4 633.3,251 751.6,124.8 837.9,305.1 846.5,346.2 659,212.8 696.6,351.2 812.3,344 830,359.6 734.2,235 660.9,161.2 619.9,417.4 835.5,317.5 769.6,322.9 682.3,223.5 866,334.4 897.4,174.6 813.2,336.7 826,334.8 581,396.3 624.1,207.5 839.1,364.3 634,141.3 668.1,206.3 607.3,199.9 873.2,108.3 660,188.2 606.7,131.2 721.9,275.5 723.3,400.2 612.9,162.5 649.4,200.4 729.2,379.1 765.8,126.4 700.4,344.8 664.9,270 612.8,160.4 650.7,234.4 850.4,322.7 750,290.5 691.2,205.2 654.7,225.4 841.9,324.7 698.1,317 734.4,259.7 677.2,164.5 727.5,281.8 688.5,143.3 872.9,350.6 589.4,197.6 705.8,323.1 825.1,338.6 897,207.4 587,299 797.4,368.4 647.2,349.4 877.3,281.7 780.4,396.9 768.3,367.6 807.3,379.6 777.2,404.9 624.6,340.3 802.4,325.3 624.6,373.1 833,396.7 847.6,111.5 684.3,158.3 574.5,285.5 799.7,310.5 865.9,319.1 768.7,125.3 663,317.5 609.4,135.5 753.6,382.5 781.8,340.7 741.3,252.7 744.8,260.5 612,157.9 682.3,381.7 826.7,357.7 827.5,112.8 831,397.6 636.3,333.1 813.5,390.8 899.7,115.3 794.2,116.6 820.6,392.5 908.2,164.3 625.2,161.5 867.4,348.4 798.2,346.6 659.9,118.7 709,149.3 839.4,411.7 629.4,165.4 900.7,241.1 811.1,111.2 689.4,170.8 620.7,267.9 784.6,293.3 806.7,310.3 676.6,258.5 657.8,249.6 868.2,108 842.1,319.9 725.9,292.4 890,137.1 891.8,279.9 758.5,269.8 884.8,236.7 849.8,365.2 692.9,183.8 743.9,264.4 599.2,343.7 794.2,120.5 675.4,338.3 810.7,298.2 639.9,198.1 817.1,380.4 644.2,168.5 624.1,239.5 661.3,185.4 778.9,275.4 626.7,154.5 667.6,162.8 673,214.3 602.9,204 842,375.8 670.2,313.4 857.9,309.9 711.4,236.2 774.8,332.9 841.1,326.4 670.6,199.3 715.5,150.2 627.1,143.7 602.3,175.5 631.6,316.6 685.2,131.8 619.7,261.9 790.6,365.2 615.6,248.4 677.7,157 582.2,192.8 804.3,379.7 753.5,260.7 784.8,330.8 691,201.6 589.5,264.4 731,250.7 667.9,341.6 643.1,263.1 624,160.4 636,190.4 880.9,284.5 856.2,384.1 653.4,151 843.6,316.8 717.9,324.5 637.9,224.7 623.7,233.1 751.1,287 756.1,353.8 739.5,245.5 632.5,142.8 756.3,412.1 693.4,155.2 870.2,391.4 598.9,204.7 727.3,373.9 800.3,121.1 915.8,158 876,333 724.9,269.6 613.9,188.8 761.5,274.9 668.9,270.7 814.1,353.5 877.2,256.3 899.2,269.7 728.4,225.2 695.6,182.2 747.8,326.5 795.1,356.9 891.2,356.8 682.6,351 591.9,257.3 812.5,362.4 867.1,284.9 656.8,109.1 698.3,317.8 631.6,274.5 746.5,126.6 688.8,157.1 758.6,404.4 697.9,233 870.1,120.1 847.2,322 788.7,411.9 849.7,341.4 714.5,146 831.5,331.7 808.4,305.6 909.7,220.2 578.2,271.7 577.9,183.6 668.5,231.2 661.5,119.7 865.9,330 823.2,397.9 699.5,320.3 675.4,214.1 763.6,272.5 653.9,153.2 887,261 819.4,358.5 840.8,313 695.9,230.8 826.7,367 605.1,177.8 874.7,280.4 661.4,233.4 893.5,264.7 610.3,155 749.9,248.6 751.5,406.9 895.9,254.5 793,366 888.1,406.4 822.1,337.7 648.5,218.9 862.2,305.5 788.2,348 820.5,366.9 689.7,137 615,219 770.7,292.6 635.5,337.8 833.5,410.3 812.8,336 720,231.6 586.9,253.6 605.2,182.7 590.2,186.6 662.8,262.7 575,180.2 785.6,345 815.3,346.6 901.5,264.1 612.1,190.4 595.7,409.3 761.6,408.5 578.7,270 805.6,344.9 856.5,297.4 899.6,386.3 636.2,139.9 778.7,125 872.8,322.7 727,252.8 793.2,415.4 901,190.6 901.9,376.6 772.5,319.9 789,285.6 626.3,265.8 767.3,305.3 591.1,133.1 872.9,414.5 826,315.7 770.8,122.8 650.9,187.3 725.6,404.7 880.7,260.9 592.1,197.2 914.1,252.2 804.7,335.4 694.7,176.9 585.3,209.7 720.8,289.9 683.6,173.5 624.7,263.3 794.8,374.3 899.7,173.4 804.1,116.7 590.5,131.2 720,137.7 794.3,404.1 856,377 680,226.3 620.7,239.1 692.3,273.7 641.2,135.9 752.1,380.2 693,168.8 775.3,410.8 827.4,325.8 700.4,311.6 842.3,321.1 672.9,240.4 600.2,286.8 842.6,329.9 739.8,128 742.8,236 734.2,136.6 756.6,313.8 699.7,140.1 648.1,312 787.3,275.3 787.7,356.5 598.8,188.5 891.3,219.8 651.4,127.9 884.1,238.4 845.9,378.1 813.2,357.3 776.2,323.9 874.4,379.9 898.7,187.8 581.6,172.7 875.1,293.5 648.3,277.7 669.6,273.6 813.8,364.3 786.9,300.5 783.3,298.8 632.1,198.9 816.3,308.2 913.5,157.5 747.3,288.3 798.6,294.5 668.1,257.7 662,277.3 593.5,202.1 689.5,194.2 900.7,138.4 629.9,247.7 737.7,237.4 604.4,143.5 673.7,336.3 709.8,306.6 740.5,112.8 606.6,143 702.7,355.8 756.1,414.7 826.5,344.2 696.4,269.3 749.9,362.6 685.3,210.7 897,272.5 867.9,116.6 731.9,228 741,334.8 656.9,214.6 670.8,264.8 615.7,282.9 796.7,409.5 578.6,126 613.6,114.1 686.7,182.1 576.1,215.2 877.1,267.9 796.1,416 639.6,226.2 623.6,163.4 775,277.5 588.4,196 620.1,196.7 792,281.5 767.6,345.8 580.8,159.6 755.5,299 590.5,216.8 833.1,369.4 848.6,374.1 856.7,298.9 630.8,184.9 706.2,284.9 660.5,283.5 609.5,187.3 761.2,332 836.4,306.9 684.4,261.8 576.9,155.4 805.4,348.7 802.3,327.5 730.9,302.3 594.2,188.6 806.1,362.1 703.8,381.5 902.8,146.2 623.5,141.2 743.2,356.5 782.7,321.6 763.9,127.5 858.1,321.6 835.2,367.8 612.2,212.3 628.1,307 839.4,359.7 848.8,306.4 721.5,126.6 821.3,342.1 823.3,382.8 664.2,174.4 871.6,278.6 854.6,365.3 689.4,267.8 882.9,291.5 876.7,332.2 785.3,337.5 797.3,297.5 829.6,403.8 704.5,346 629.8,159.3 824.4,378.3 693.5,385.2 785.4,372.2 766.3,302.1 700.6,370 706.7,376.2 861,121.3 588.5,217.6 725.5,232.3 864.9,312.5 882.8,315.9 759.3,319.1 758.9,371.5 825.4,404.6 832.4,393.7 780,418.2 624.2,167.9 820.7,326 892.4,226.3 827.1,103.6 823.2,346.8 636,248 671.1,148 649.6,162.2 820.1,333.4 694.8,141.6 765.9,296.2 698.2,244.5 808.6,413.2 706.3,288.7 841.9,330.8 860.4,412.5 706.9,202.2 865,314.9 835.7,113.9 640.2,210.7 662,175.2 885.9,297.7 586.6,303.9 601.2,261.9 767.1,334 735.7,351.5 814,406.4 798.1,300.5 886.2,280.9 635.5,195.6 792.3,287 825.6,411.9 718.8,346.4 879.1,105.5 904.4,317.7 618.5,221.9 787,370 727.9,388.8 600.7,149.3 884.8,348.9 608.1,195.3 868.6,349.7 809.1,328 890,256.2 608.9,139.4 687.7,305.1 609.1,310.5 739.7,259.7 826,338.9 728.6,290.1 733.9,279.7 632.2,218.7 633.6,193.2 899.3,165.3 619.6,250.7 687.3,274.1 806.5,301.8 590.4,277.5 901.2,193.6 660,268 868.7,385.4 883.3,261.6 756.6,342.1 811.7,297 794.4,395 696.5,138.3 688,290.8 894.3,195.7 576.4,236.9 795,95.3 623.6,174.3 731.9,247.7 734.6,320.1 904.7,250.3 780,334.1 600.1,124.7 908.9,234 876,290.9 597.4,182.3 609.3,292.4 864,308.6 857,293.2 795.4,332.6 787.1,306.3 895.7,127.9 647.8,162.1 899.3,235.9 665.5,129.6 836.4,326.3 662.1,211.7 764.2,330.6 795.5,413.3 730.9,314.8 764.1,303.9 682.8,213.6 761.2,284.1 663.9,378.7 772.5,286.5 770,300.8 832.6,104.7 734.5,304.4 815.8,307 581.5,200.7 773,335.1 825,315.4 678.8,283 797.3,121.8 597.8,134.6 884.3,262.3 604.3,142.4 597.4,169.6 762.9,254.6 676.2,369.4 653.4,270.6 707.5,210 762.3,338.3 858.9,375.5 876.1,125.9 821.4,376.7 898.7,122.9 792.9,298.2 662.9,347.8 758.7,267.6 659.6,188.9 651.5,411.3 603.3,208.8 823.1,319.3 712.4,328.4 686.2,198.9 795,396.1 746,400.7 739.2,129.4 763.6,281.3 577.8,127.7 781.7,287.9 629.6,208.7 672.6,198.5 701.4,233.7 881.5,125.2 779.6,407 707.4,149.3 615.5,384 679.7,191.9 821.8,356.9 761.6,382.3 894.5,248.9 682.9,169.5 855.2,397 607.2,212.9 711.3,415.2 853.7,307.6 819.6,329.5 619.7,219 743.2,136.1 685.9,131.8 805.8,406.5 898.4,136.5 603.1,363 577.8,203.8 684.2,190.7 870.3,327.9 760.7,402.8 697.5,188.3 753,350.3 735.3,128.7 861.5,394.3 871.4,417.2 658.5,191.3 756.7,120.7 629.7,265.6 644,214.8 698.5,324.2 630.2,205 765.1,265.2 910.4,268.2 740.6,253.2 822.8,302 700.3,237.7 838.9,95.4 781.7,289.5 716.4,275.4 751.3,346.3 927.8,213.1 611.6,150.8 812,356.8 736.9,321.7 582,198.6 723.4,358.7 698.8,338.2 813.1,393.2 621.6,258.2 740.3,134.5 728.2,274.9 628.3,152.4 863.3,347.8 784.7,295.6 883.1,313.1 872.3,372 848.4,331.6 677.8,204 594,171.4 680.7,311.1 809.9,356.5 773.2,121.2 577.4,228.8 749.8,320.7 585.4,342.9 732.6,399.8 740.3,324.2 876.3,267.5 845.1,318.9 864.4,121.4 672,174.9 576,169.2 620.4,167.2 803.9,346.1 792,117.7 902.7,168.6 815.9,311.5 736.7,262.3 846.5,119.1 837.1,319.2 914.1,173.1 811.6,327.5 735.8,251.1 751.3,309.4 607,404.5 825.5,326.7 886.8,134.9 774.6,354.9 809.6,369.9 630.4,211.2 686.2,243.6 679.6,127.9 818.1,339.8 852.8,308.7 738.4,257.1 780.2,114.8 839.2,384.9 631.4,165.6 789,330.3 669,197 887.9,245.8 686,145.5 588,188.1 617.1,352.6 786.9,284.2 714.6,245.9 701.3,136.3 830,330.4 590.3,211.4 896.4,120.5 753.3,386.7 842.7,312.5 796.5,409 582.7,168 893.2,136.1 729.8,318.1 825,332.2 685.5,125.1 898.2,183.5 614.4,155.5 892.1,220.9 590.8,183.2 778.3,294.8 895.5,387.9 765.2,303.9 839.8,416.2 848.3,345.8 575.4,163.7 824.9,324.7 785.8,310.7 669.1,159.1 664.3,194.8 603.2,183.3 669.7,167.6 690.6,87.4 866.4,295 875.3,358.7 761.4,356.9 584.3,294 822.5,408.1 858.4,320.4 852.2,114.5 729.9,302.2 810.6,313.2 592.2,160.3 671.9,111.2 716.7,224.9 574.8,226.2 752.1,282.5 687.8,169.8 866.4,114.3 654,241.1 790.3,119.1 773.2,385.8 758,304.1 827.5,401.5 690.3,278.6 797.6,404.3 788.8,405.8 732.1,101.5 616.9,259.4 633.4,352.5 746.7,268.5 723.6,217.1 642.6,194.5 686.2,132.2 900.3,141.2 629,326.7 665.3,161.8 587.2,121.4 840.6,325 747.2,286.3 901.8,175.2 658.5,150.6 797.8,345.4 869.9,291.4 883.5,257.1 662.1,276.5 755.4,108.7 877.4,128.9 725.2,219.1 902.7,357.4 703.7,304.8 772.5,345.9 846.2,384.6 650.7,183 616.5,242.9 656,214.4 859.3,367.6 670.6,246.8 646.2,209.2 751.8,349.1 759.2,118.1 637.8,121.6 801.5,351.3 747.4,266.1 676,155.1 668.5,119.9 623,175 779.9,383.7 639.9,255.8 730.4,394.7 703.6,324.5 633.9,202.3 625.5,178.6 844.9,359 753.4,303.7 756.8,326.8 779.2,391.6 615.9,304 838,341.8 620.5,121.5 845.8,336 922.6,135.1 688.3,169.6 689.2,184.2 896.3,167.4 679.3,156.4 665.5,214.2 856.4,304.9 595.3,290.9 623.4,168.9 643.1,199.9 756.4,386.3 862.5,402.5 660.3,207.3 805.1,114.3 858.4,339 864.9,293.9 776.1,316.1 819.6,345.2 671.7,153.6 722.6,139 602.2,277.9 661.1,212 579.9,169.2 691.9,155.8 842,364.3 758.5,249.1 719,137.5 728.9,385.3 809.9,119 610.2,312.6 884.3,378.7 734.8,252.8 602.2,123.5 596,176.9 692.2,178.3 681.3,204.9 753.3,344.5 712.5,208.6 589.5,218.6 827.2,351.6 890.6,129 902.9,268.2 796.3,373.3 898,273.6 752.8,257 680.2,231.3 858.6,117 908.4,235.3 651.3,187.7 680.5,146.1 711,202.3 889.3,394.5 656.9,269.4 794.4,302.6 785.5,306.1 882.5,353.9 784.8,342 681.2,239.1 853.6,371.1 737.1,318.8 811.8,359.7 885.1,113.7 649.6,212.8 607.6,193.1 649.3,280.3 761.3,277 793,322.8 682.2,212.6 769.6,268.2 590,226 746.7,362 886,333.7 833,342.6 734.4,291.9 793.2,399.1 613.1,225.8 805.2,359.4 845.4,370.4 806.1,363.7 772.5,262.4 646.2,384.4 691.8,292.6 620.2,219.9 677,214.5 580.8,245.1 661.2,398.7 607.9,135.4 820.7,405.8 761.2,268.3 613.5,161.1 737.5,235.4 878.4,324.5 868.7,386.8 748.9,306.1 676.4,260.3 782.1,321.8 668.7,379.3 731.7,354.8 691.8,305.5 640.8,115.4 647,207.9 746.9,272.1 821.6,107.2 620.6,260.2 653,136.1 677.2,200.9 773.8,340 695.2,371.3 656.5,174 844.1,347.9 868.8,308.2 867.3,325.1 894.6,141.3 859.2,390.6 585.6,282.8 667,333.6 785.9,287.5 888.5,224.1 636.2,206.9 824.5,399.9 856.2,387.1 706.3,134.1 850.2,115.4 772.5,342 864.5,403.9 699,135.3 684,223.5 677.9,160.1 820.9,373.1 795.3,294.2 675.6,308.8 693.9,209.4 710.8,140.2 737.1,397.8 693.5,309.2 608.6,210.2 692,216 726.9,238.6 628.3,380.3 737.6,380.3 639.7,153.9 736.2,247.9 674.6,157.1 864.6,333.3 651.7,141.2 681.3,155.4 657,409.3 608.4,230.8 673.3,302.5 671.5,192.1 649.4,287 696.5,375.6 707.2,152.4 818.4,331.2 844.2,111.4 795.7,392.1 718.9,142.4 824.3,401.4 808.1,343.3 796.1,304.8 888.8,296.3 734.2,307.1 823.3,119.2 711.7,373.9 590.1,162.9 845.5,304.4 612.7,183.4 813.8,329.8 663.1,149.4 809.2,410.9 796.5,116.6 717.8,360.7 717,334.3 594.2,138.5 576.2,272.6 912,383.4 893.6,364.1 788.6,279.1 853,320.2 805.5,357.4 825.5,410 905,231.8 662.2,182.7 741.7,377.4 916.5,288.2 894.1,220.9 600.8,193.5 687.7,401.1 648.5,387.8 635.3,133 630.2,238.2 779.6,414.3 647.4,231.6 890.6,232 882.6,381.6 611.6,141.3 672,173.3 696.2,351.3 907.4,376.8 753.3,366.5 659.6,166.6 602.3,245.7 628.6,127.8 717.2,292.1 769.7,364.9 868.6,308.7 667.7,224.7 782.5,288.2 913.5,175.9 783.8,125 897.8,288.6 766,125.3 886.8,292.8 694.8,146.6 574.4,235.2 706.6,286 610.6,212.3 601.1,207.5 737.2,104.4 636.4,201.3 684.3,267.1 889.1,312.6 726.3,232.1 615.9,213.2 638.4,388.4 896.3,201.3 826.7,395.9 654.6,200.6 876.6,265.5 732.9,403.5 827.8,349.9 642.6,233.9 778.6,273.8 886.2,258.4 864.9,329 886.5,241.2 798.3,331.4 850.8,378.5 806.1,416 764.7,305.2 625.7,163.1 862.5,403.8 605.8,270.9 656.5,211.1 881.4,256.9 613.5,186.6 771.9,375.9 821.5,356.6 798,325.6 802.7,324.2 875.6,262 597.5,156.8 686.3,227.2 722.8,115.1 862.1,377.7 619.8,154.1 611.8,182.1 759.4,283.8 692,175.1 859.9,311.7 654.9,145.1 625.8,222.3 857.3,346 680.5,334.2 867.6,380.3 645.5,224.8 837,107.2 653.3,121.4 915.8,139 632.2,198.3 692.2,256.1 777.1,414 764.9,265.5 674.3,182.4 838,391.3 726.3,236.1 648.4,190.8 818,317.9 819.5,330.1 817,345.3 852.2,349.4 745.9,315.1 820.7,300.2 601.8,398.3 664.2,212 827.3,400.1 733.9,254.7 737.8,261.3 649,251.9 870.9,350.9 638.9,162.6 760.7,416 638.1,173.4 699,227.4 820.6,414.7 601.4,278.4 699.9,376.8 767.3,98.9 600.9,165 715.6,266 828.6,364 718.5,137.2 672.1,154.6 700.1,307 656.2,211.1 712.7,263.6 718.8,110.1 584.9,144.9 632.4,163 892.3,142.6 881.2,352.9 665.7,177.2 660.8,210.1 763,291.2 900.7,177.6 657,323 713.4,115.7 715.4,271.2 701.6,309.8 902.3,196.4 815.7,384.7 634.8,153.5 581.9,147.4 588.3,185.4 632.2,115.6 766.9,378.1 597.5,178.9 906.2,347.3 828.7,373.5 805.2,290.6 710.7,204 672.8,194.5 883.2,376.2 852.7,381.3 586.8,168.9 583.4,238.6 681.9,226.8 789.9,389.6 626.2,262.6 609.9,220.5 732.2,395.6 703.5,146.3 911.5,156.8 714.6,329.8 821.1,410.9 644.3,203.8 671.8,330.3 613.9,220.1 599.4,183.7 609.6,205 886.7,254.3 697.9,269.7 836,354.1 797.3,351.3 648.7,216.8 880.8,247.3 833.6,377.3 838,110.6 678.5,216.5 798.5,385.5 779.7,126.4 754.4,407.6 615.5,189.5 921.3,130.1 657.2,269.3 792.6,110.3 849.7,417.4 742.1,360.3 824.8,390.4 604.9,144.9 652.6,181.1 590.1,213.3 614,245.4 733.7,120 628.9,344 843.1,344.4 606.5,199.6 810.5,353 597.1,177.9 794.2,329.7 641.8,326 819,341.1 683.9,225.6 888.9,268.9 629.5,131.2 781.6,310.5 903.7,142.5 680.9,164.4 654.7,227.9 899.7,323.8 888.3,225.8 717.7,147.9 694.4,264 797.1,114.1 612.6,174.7 868.6,400.7 759.8,338.2 788.4,307.8 667.7,148.3 740.1,321.7 850.7,351 611,175.2 729.3,227.7 811.5,333.8 900.3,138.3 713.3,207.9 651.4,178.3 743.3,275.1 798,405.8 783.7,346.5 808.9,412.6 640.4,213 675.5,147.7 580.6,200.2 880.1,120.9 751.7,282.2 895.2,146.9 767,277.9 622.8,204.5 840.3,312.9 671.2,201.1 867.9,302.3 626.3,144.3 773.2,106 694.4,252.8 642.6,225.4 765.1,326.4 740.3,256.6 853.1,359.7 636.1,138.8 674,180.8 780.4,271.4 846.8,416.1 749.4,266.6 827.7,359.6 661.9,378.7 589.9,181 701.3,208.3 775,107 744.5,341.7 875.6,324 658.8,253.7 913,272 667.5,174.5 783.9,393.2 869.8,389.8 903.8,174.3 719.1,268.7 817.2,302.8 675.2,201.5 721.8,345.4 665.9,219 786.9,321.5 680.9,359.2 685.2,189.3 743.2,388.6 619.9,193.6 824.2,316.4 737,256.9 608.4,163.2 612.7,200.1 578.5,198.3 718.2,315.6 702.9,202.4 896.3,211 611.6,261.6 848.9,314.6 842.5,109.2 894.5,248.4 656.1,167.4 660.6,358.7 589.9,174.4 892.9,233.4 899.7,156.1 797.3,114.4 609.4,331.9 803.3,338.1 670,217 706.2,196.7 672,208 761.8,396.4 879.1,312.5 635.6,168.1 747,133.9 747.9,283.3 842.5,343.7 909,164.8 773.1,268 780,286.9 650.1,245.2 645.4,171.4 792.2,408.5 864.6,115.9 686.8,224.9 689.5,212.4 648.8,214.9 769,281.5 901.2,190.2 732,120.8 890.6,235.9 664.2,374.2 736.9,131.7 578.7,196.9 742.1,389.8 652.3,152 740.7,255.3 639.6,240 611.3,225.1 893,274.1 852.7,380.5 614.2,195.1 836.8,109.2 609.4,141 756.2,317.2 903,232.4 640,158.8 815.5,304 789.8,354.1 782.7,119.7 729.5,289.5 708.7,221.8 666,222.6 735.1,136.7 755.7,336 690.5,202.6 610.2,207 607,137.7 831.6,406.8 740.3,271.1 678.9,228.4 670.8,271.8 661.4,149 642.6,351.8 848.7,318.6 751,379.7 886,111.9 602.1,172.8 805.2,377.3 605.4,156.3 911.8,217.8 877.6,356.7 837,386.3 610,153.8 665.4,255.4 795,280.9 703,269.8 689.9,411.2 858,110 698.5,145.3 875,272.2 681.7,160.9 582.9,202.8 881.9,407.1 634.5,212.2 656.7,185.4 730.5,397.7 584.5,312.1 785.1,376.5 627.9,256.6 845.1,371.4 864.4,344.2 748.9,265.4 655.3,203.2 889.5,141 682.4,190.2 708.8,245.8 807.4,376.6 697.7,150.6 771.2,122.7 816,339.8 686.9,216.9 788.5,410.8 658,233.5 733.7,239.2 613.3,162.4 885.9,241.2 888.3,223.6 664.8,181.3 816.2,393 700.2,283.3 855.9,393 751.1,382.9 688.3,175 766.6,317.2 681.9,405.1 835.1,412.3 614,161.1 817.4,416 676.4,338.2 676.6,142.9 594.7,258.5 829,388 655.5,141.2 870.2,278.3 760.4,308.8 674,323.2 650.6,385.4 618.7,159.8 641.3,147.8 760,368.3 606,226.5 684.9,184.4 763.6,274 818.4,330.1 644.8,215.4 703.8,377.4 871,406.6 894.2,367.2 881.1,290.4 722.3,119.7 576.6,230.1 708.2,261.7 608,291.5 626.7,314.8 647.6,163.6 617.2,229.6 598.8,221.7 704.6,339.1 738.8,264 844.4,330 660.6,327.9 657.6,267.4 852.7,402.4 586.8,195 763,100.1 876,112.6 676.9,203.5 639.3,249.3 877.1,117.3 882.3,258.8 671.3,203 684,221.9 868.4,366 763.3,129.7 719.7,218.1 844.6,329.2 822.7,305.6 781.9,284.1 686.2,113.7 881.6,314.1 630.8,185.2 695.8,201.7 584.5,123.8 703.1,204.4 847.9,317.1 694.9,189.7 705.8,345 854.9,347.8 587,387.8 597.9,143.5 899.1,151.1 719.2,398.8 874.9,311.1 666.2,206.5 610.5,213.9 805.8,326.5 684.7,208.3 596.5,149.8 742.4,281 705.7,290 873,288.6 869.3,295.7 664.9,395.2 609.7,206.9 804.3,378.9 703.5,204.5 662.6,228.4 769.2,376.8 612.4,233.2 769.6,340.9 657.3,279 846.8,115.4 803.6,331.7 731.5,236.9 791.7,384.7 674.5,222.1 637.9,218.7 590.2,184.2 828.3,327.1 658.6,156.6 897.5,258.1 616.3,227.9 721.7,383 843.8,390.8 635.1,201.7 582.4,123.4 825.3,373.9 805.7,309.3 671.7,362.4 694.8,160.3 668.6,227.7 699.8,400.2 731.2,232.8 842.1,338.5 808.3,403.9 794.4,337.7 777.6,126.8 723,140.9 809.8,115.8 699.3,206.5 700.9,132.6 750.9,371.3 901.3,208 665.1,173.8 593.3,230 799.8,315 643.6,239.2 695.8,235.7 744.4,263.2 716.3,284.5 743.5,121 595.5,162.5 837.5,398.1 625.6,291.5 648.6,203 757.5,357.6 750.7,254.2 806.9,410.8 691.7,237.3 630.4,385.2 628.4,188.9 860.5,295.3 792.5,281.2 612.3,187.3 809.2,298.1 677.7,188.8 608.7,152.7 589,169.2 701.4,316.9 681.8,256.1 862.9,355.1 628.8,275.4 769,277.6 592.2,168.6 623.1,377.5 678.6,206.1 626.9,192.7 639,281.3 604.1,242.5 643.7,232.5 656.6,145.9 650.3,177.1 596.9,136.7 691,152.8 823,308.4 870.1,405.9 730.9,125.1 873.3,299.5 765.7,390.7 643.4,202.5 687.7,157 890.8,253.9 588.3,266.9 735.6,267.8 683.3,151.6 738.5,112.8 782.4,340.2 624.9,343.3 583.6,198.4 901.7,207.7 690.1,265.3 899.9,354 872.2,112.4 855,114.1 847.4,405.7 737,301.7 693.3,211.7 628.4,239.9 849.1,309.9 694.5,224.9 765.6,113.7 669.1,147.5 685.3,148.9 672.4,143.5 705,214.3 699.2,166.2 758.2,313.5 869.5,408.1 693,402.2 720.8,286 628.1,232.1 872,300.1 805.2,362.4 838.7,340.8 633.6,171.2 747.2,101.6 870.8,121.4 900.2,163.8 784,352 702.4,142.2 602.4,227.6 581,131.2 685.5,178.1 683.5,193.7 591.4,214.5 687.2,162.6 751.2,331.2 645,233.6 706,150.6 591.2,344.6 612.1,309.1 772.7,118.4 769.7,117.8 637,265.1 842.9,341.6 693.8,161.4 748.3,309.3 697.3,324.4 632.1,171.5 708.8,347.7 749.3,299.3 789,314.7 810.3,370.3 722.6,416.6 781.3,303.9 672.5,236.1 691.2,276.8 834.9,113.9 658.7,134.1 784.9,302 603.1,239.6 753,304 721.9,347.5 708.7,128.1 805.6,414.1 783.1,300.2 689.1,262 685.9,212.9 828.4,355.6 703.4,121.5 803.8,301.1 879.3,337.7 778.3,311 762.5,356.6 665.2,198.1 607.8,169.5 918,187.3 730.2,237.7 826.8,396.6 915.8,370.7 727.3,139.4 826.5,309 686.5,220 797.7,388.8 773,267.2 588.3,162.2 697.6,306.5 640.2,147.7 910.3,206.6 893.8,237.1 621.4,164.6 584.9,223.5 768.3,259.7 815.7,391.9 597.6,308 764.1,256.9 864.6,310.2 701.7,222.2 866.7,114.7 831,102.2 727.9,140.6 876.4,362.8 851.8,337.3 696.7,219.5 701.5,156.1 837.5,334.2 781.3,272.7 686.3,134.5 656.2,212.4 576.5,224.2 686,121.2 702.4,125.4 672.9,143.2 680.4,171.6 775.8,123.5 682.9,357.1 804.8,299.2 781.1,325.1 898.3,249.7 769.4,337 614.7,124.9 765.4,328 796.3,320.3 683.2,294.2 813.2,350.7 721.1,213.2 615.9,243.9 745.7,369.2 867.9,397.5 673.1,232.7 616.7,340.9 710.2,310.6 639.2,171.4 653.7,290.6 653.9,169.4 630.1,147.9 608.2,203 749.4,372 574.9,334.5 901.8,232.1 802.6,398.9 753.5,245.9 803.2,333.5 872.8,305.4 847.6,373.4 671.2,201 710,370.3 701.5,228.4 802.8,350.1 661.9,335.3 618.3,137.7 787,342.9 611,125 675.1,196.6 848.6,403.5 631.4,264.8 635.2,193 581,182.4 888.1,247 688.3,204.9 786.6,275.2 588.3,200.2 836.7,329.2 699.2,143 575.1,290.2 905.6,185.1 651.2,145.7 614.2,119.7 642.4,143.9 660.1,297.2 681.7,222.2 672.9,172.5 804,299.6 814.7,406.5 725.6,375.2 646.4,158.8 866.3,363.8 737.3,115.8 622.8,178.7 863.2,333.2 670.2,98.1 805.5,307.7 890.5,256.4 881.5,356.4 675.6,252 790.9,296.1 701.7,220.7 653.8,157.7 690.1,221.3 661.5,204.6 630.4,191.9 694.6,401.3 777.6,292.9 793,120.8 872.4,379.1 807.1,348.9 626.6,154 903.5,162.7 603.2,155.5 714.5,218 841.9,317.6 580.8,180.7 813.4,358.7 777.3,350.9 707.6,142.9 830.6,368.8 587.9,155.3 784.4,385.8 681.5,235.8 700.1,203.7 700.9,217.5 628.7,231 751,240.4 577.1,171.7 816.2,305.8 691,157.9 730.6,389.5 793.8,411.1 740.6,259.7 810,356.3 704.7,119 871.8,331.2 699.3,256.6 702.2,415 646.5,352.9 752.1,250.4 715.3,325.7 839.2,417.1 809.9,117.8 857.3,380.7 872.3,356.9 811.5,349.4 742.7,128.9 800.1,360.8 859.3,413.3 706.6,217.3 812.3,361.5 670.3,161 725.8,107 716.8,227.1 683.7,191.4 639.5,158.4 635.9,176.5 604.9,169.1 832.4,354.8 856.1,324.1 855.3,412.7 783.3,381.9 803.8,413.4 803.8,295.8 632.7,179.1 663.1,368.3 583.6,293.6 883.5,284.5 794.2,282.2 639.2,357.5 781,412.1 692.8,127.5 629.4,193.7 751.8,288.3 869.2,398.7 666.4,418.2 871.6,312.5 625.1,161.3 933,243.5 678.1,199.6 662.6,276.3 815.6,307.6 597.5,163.8 683.1,311.5 749.8,252.6 680.1,126.3 692.1,405.7 657,140.5 890.3,389.8 687.2,187.4 716.2,263.9 671.8,184.8 594.3,359.8 592.2,316.1 668,234.8 691,289.4 718.1,210.4 665.2,314 698.1,134.9 712.6,292.1 615.9,197 727.5,144.6 821.5,362.3 600.5,169.6 866.4,119.5 762.7,273.1 880,295.1 716.2,125.8 858.6,384 840.5,108.8 919.5,273.2 730.2,133.3 622.8,171.6 774.2,265.4 647,287.5 780.1,316.8 601.5,382.5 672.8,221.4 594.3,157.5 805.3,341.3 772.9,382.1 657.5,147 605.5,168.4 578.9,204.8 762.2,304.9 691.3,224.7 681.6,233.2 769.5,346.3 746.5,259.2 628,166.3 888.8,242.6 771.1,334 765,380.1 892.3,227.5 778.1,317.9 759.2,98.1 591.2,369.1 585.3,129.3 688.8,110.9 680.1,204 876.1,128.4 694.9,150.6 843.4,391.8 873.4,318.2 642.3,230.3 607.9,184.6 843,324.6 597.8,177.1 724.6,145.9 867.1,374.4 891.4,292.7 631.4,217.9 595.1,205.1 716.7,143.3 608.8,141.6 848.6,335 742.6,245.4 629.1,382.5 881,247.9 778.8,103.6 737.4,128.4 799,304.7 705.7,240.1 890.1,227.4 676.9,169.7 859.8,410.6 771.3,415.4 603.2,273.1 910,190 576.9,226 782.3,278.6 712.6,138.4 626.9,264.5 756.9,350.7 842.1,388.1 696.9,213.8 687,187 659.7,217.8 889.4,348 753.3,313.2 655.2,165.2 727.9,220.9 805.3,312.8 831,374.3 859.2,340.8 831.3,401.5 700.8,143.6 753.3,266.3 848.4,375.4 887.9,418 827.3,333.2 622.4,277.3 661.6,176.4 813.3,360 843.4,105.1 776.6,307.1 628.9,359.1 797,283.5 659,190.7 649.3,323.5 795.9,400.4 677,227.3 655.2,195.7 745.5,306.4 718.3,117.3 851.3,401.4 600.2,229.1 589.9,156.6 782.3,408.5 892.4,226.5 823.5,116.7 902.5,153.9 903,167.5 699.2,184.7 880.4,274.6 664.9,176.7 635.7,172.8 711.9,284.8 580.1,168.2 638.2,119 872.9,373.2 880.3,127.1 677.2,292.9 757.7,275.8 727,136.8 791.5,292.9 785.9,417.4 907.2,167.7 703,258.3 724.3,228.5 694,275 897.4,121.4 794.6,313.4 578,118.8 710.5,287.4 886.1,291.3 682.9,231.6 760.5,130.1 753.5,350.2 745.9,375.2 751.5,131.6 783.7,368.6 639.8,192 580,195.7 903.7,156.9 791.9,411.4 792.6,367.5 858.5,381.6 911.4,148.7 794.8,373.8 901.3,262.1 732.3,130.1 727.4,221.1 731.1,244.7 793.2,325.8 789.5,287.9 747.6,251.6 867,281.7 731.9,310 752,357.9 600.7,402.6 785.2,373.6 615.5,380.8 817.8,415 827.1,310.3 753.1,253 833.5,397.7 655.6,164.6 722.7,240.8 908.7,186.4 817.8,395.3 680.3,268.7 683.2,188.3 845.9,382 587.3,275.4 688.9,188.3 613.2,182.1 842.9,325 789.9,309.7 670,157.5 856.2,342 768.1,276.1 624.4,201.5 838.2,403.3 591,154.7 597.3,166.2 834.4,104.2 655.3,136 625.4,246.6 845.4,311.2 674.7,281.5 736.5,227.2 606.3,179.2 803.3,353.3 760.1,337.1 801,320.5 874.7,313.5 886.1,275.3 866.3,323.4 800.2,292 705.2,310.8 696,136.3 765.9,302.9 621.8,175.4 722.5,122.2 779.9,343 897.5,223.5 864.6,112.3 712.6,146.2 593.5,271.2 885.6,395.5 740.8,383.1 928.5,145.1 647.4,176.8 592.4,175.6 794.3,324.9 817.4,413.5 806.2,397.6 893.9,199.3 895.8,158.8 715.6,220.3 887.9,338.5 771.6,124.4 705.2,232.2 841.9,334.1 578,182.6 712.2,259.3 722.6,246.3 624.9,190 688.6,293.1 605.3,162.4 697.1,243.2 665.5,197.2 591.7,205.1 763,356.1 882.2,380.4 672.2,185.5 821.9,308.6 701.4,124.4 702.5,219.5 592.9,412 904.1,257 893.6,249.3 683.4,213.7 854.2,308.6 809.9,418 683.5,173.9 774.7,382.6 634,148.5 688.8,194.5 610.7,139 803.3,290.9 611.7,167.7 830.6,373.6 617.1,188.5 864.5,357.4 658.7,410.1 792.7,299.5 761.3,255.5 821.1,354.5 850.2,361.6 894.2,341.5 779.3,274.1 618.5,181.3 851.3,325.3 808,303.2 878.1,299.8 869.7,381.3 811.2,418.2 624.7,181.3 729.7,293.5 775.7,295.2 676.8,196.4 736.9,270.6 823.3,358.8 628.1,163.5 681.4,381.2 631.5,332.6 804.2,366.3 856.9,357.9 866.6,309.6 839.8,328.7 626.3,200.8 874.6,336.4 854.7,378.4 598.9,194.6 898.8,325.1 683.6,184.8 658.5,293.6 810.3,323 635.5,187.5 646.4,149.8 613.3,129.9 842.6,351.7 832.3,408.2 826,306.2 659.1,297.8 673.1,144.6 648.5,247.1 600.7,165.9 588.6,149.5 795.1,120.6 638.9,217.7 671.1,258.8 689,152.8 692.1,364.7 712.1,266.1 773,280.4 836.9,335.9 712.4,206.3 813.7,362.2 684.9,215.3 675.1,247 823.9,380.2 756,131.4 873.4,108.4 880.3,356.9 713.7,114.6 754.5,293.8 668.3,296 711.2,328.8 899,154.8 856.6,333.5 711.4,216.4 643,165 776.8,315.7 791,119.2 862.7,297.1 831.4,357.3 840.8,372.5 702.1,152.2 633.3,173.5 889.4,268.9 681.9,157 783.2,91.4 844,399.2 611.6,159.3 881,313 763.5,258.9 826.2,407.6 744.8,292.8 798.2,284.6 698.1,168.2 832.9,114.3 741.7,415.2 587.3,149.9 596.7,204.7 719.4,133.4 775.9,346.3 665.6,155.4 865.6,311.4 704.4,260.3 575.1,248.7 675.1,169.7 739.2,270.9 597.6,411.6 836.4,117.3 870.1,328.5 899.1,194.3 820.5,301.8 705.5,114.9 889.5,318.2 771.4,345.6 883.6,380 654.3,170.7 655.6,135 786.6,411.2 907.5,370.4 805.2,369.2 633.4,164.7 757.5,119.8 870.1,412.5 726.9,369.2 684.3,230.4 601.1,214 696.5,354.3 734.1,399.9 894.8,218.7 730.2,241 656.3,160 856.4,301.2 806,412 782.9,283 623.8,142.6 857.7,322.8 631.2,318.4 658.4,334.2 783.6,278.8 835.5,330.6 649.2,370 686,214.2 746.8,364 611.4,159.9 779.9,280.3 672.7,350.3 796,285.1 656.4,295.7 636,178.7 831.2,325.4 766.2,413.8 707.3,225 837.8,372.5 583.3,392.2 895.8,195.7 581.6,409 738.5,129.2 887.7,226.7 616.1,312.2 575.1,249.1 694.1,213.6 740.8,319.4 675.9,180.8 672.5,328.5 588.8,372.5 766.4,304.2 704.5,293.8 692.6,277.1 577.4,281.6 622.3,277.1 672.6,245.4 753.9,260.6 725.6,343.9 725.6,288.3 642.7,363.2 647.1,155.3 777,278.7 716.2,133.9 702.2,198.5 587.8,271.9 700.6,192.8 789.7,376.6 897,146.4 612.5,395.8 883.2,311.8 669.4,195.4 687.8,325 839.8,342.3 812,363.4 720.1,137.8 845.7,326.3 895.1,299 843.8,320.7 598.6,174.1 838.4,331 833.7,409.8 671.2,199.2 892.9,213.7 838,372.8 728.1,332.9 779.4,294.4 609.4,117.3 781.4,396.4 678.8,312.6 677.2,297.6 580.8,195.3 593.9,241.2 781.3,337.6 820.7,342.3 816.8,370.8 745.6,120.2 762.5,271.6 832.1,405.4 849.4,388 773.2,290.9 722.2,220.8 623.9,279.4 827.5,398.1 786.8,396.2 725.9,381.4 829.7,304.5 714.5,148.8 791.8,315.3 846.2,416.2 908.3,144.5 817.8,365.6 898.1,227 876.8,312.5 762.5,122 674.2,253.6 612.7,282.8 629.4,277.1 761.6,415 707.9,402.9 842.8,417.3 788.6,122.2 867,321 813.6,334.5 698.8,129.1 852.4,413.5 825.1,417.4 715.9,215.9 651.9,151.8 771.1,308.1 733,319.6 792.6,305.3 901.6,139 691.1,197.4 692.3,155 800.9,409.1 793.7,405.6 720.8,400.9 706.9,155.7 857.8,412.2 651.4,246.7 637.8,278.6 813.8,108.1 898.2,337.4 663.8,237.1 872.9,382.3 704.2,203.6 725.3,267.5 631.1,370.6 675.9,128.9 899.3,202.5 690.8,166.1 865.9,396.8 731.4,283.8 733.9,369.3 822.2,345.4 781.1,301.6 834.5,308.6 716.2,220.7 830.7,321.3 752,273.2 829.9,312.2 671.1,253.5 745.8,277.1 683.8,193.4 642.1,215.6 605.6,265.1 894.9,245 716.5,150.6 670.6,160.2 592.2,186.4 800.1,118.8 583.1,166.9 735.1,232 693.6,268.6 842,412.6 766.9,375.2 577.4,164.6 595.3,156.8 579.7,150.1 748.4,342.2 700.1,354.7 881.3,256.3 786.1,317.4 751.9,366.6 577.1,171.5 846.8,350.1 868.1,286.5 860.6,301.6 705.1,140.5 652.7,186.5 897.4,172.6 650.3,306.9 894.7,262.8 620.5,273.9 715.5,245.7 580.4,147.5 853.7,329.2 723.6,258.6 838.3,367.2 830.7,409.8 744.9,327.2 846.1,337.9 636.4,134.2 842.6,312 852.6,407 704.9,223 694.2,111.2 791.7,318.4 669.1,199.2 696.9,173.5 701.7,274.3 639.1,164.5 784,403 890,290.8 842.8,336.9 833.2,387.1 680.7,224.4 892.9,147.2 654.4,157.2 770.1,394.8 706.9,197.4 813,298.8 654,121.1 747.5,246 896.1,146.6 839.8,393.6 645.8,345.7 610.3,235.6 633.5,210.1 900.1,180.8 721.5,258.9 897.3,126.9 898.9,316.5 730.2,255.2 656.8,178.2 847.2,362.7 760.3,308.5 630.3,140 614.6,292.4 859,331.5 667.2,405.7 679.7,399 897.8,188.2 781,363.2 881.5,304.8 679.8,324 815.6,373.4 741.7,127.4 841.6,372.7 697.8,206.3 858.5,380.1 863.2,303.9 813,350 815.3,359.5 806.5,364.7 848.2,302 909.9,254.9 889.6,299 766.7,340.8 709.7,262.7 733.8,357 863.8,117.9 889.1,281.5 677,229.6 678.1,120.6 676.8,308.9 681.9,335 788.9,375.2 731.5,294.8 761,254.3 669.9,268.7 617.1,165.9 737.8,277 892.6,262.9 838.2,398.4 599.7,269.5 648.3,138.9 698.8,344.4 613.6,252.1 660.1,210.5 601.1,206.1 794.8,388 664.2,183.8 673.4,192.9 649.4,227.1 581,142.4 628.3,318.4 734.3,300.1 756.1,127.7 829.4,355 657.8,245.3 897.1,191.1 865.6,321.9 586.2,246.1 743.7,249.8 627.2,223.8 875,382.9 677.8,211.6 810.7,341.9 627.2,197.4 616.1,340.1 726,140.9 882,378.6 615.1,145 828.8,104.7 612,270 655.3,157.5 784.2,356.7 825.1,372 674.1,223.8 588.1,143.3 903,156.5 589.4,249.9 633.3,243.4 707.4,220.5 773.8,295.4 818.3,383.8 858.1,329.6 678.2,147.5 702.4,151.2 805.1,308.3 691.9,291 683.2,211.2 642.5,305.7 725.5,407.9 752,298 602.1,306.3 625.8,340.8 775.1,123 672.8,227 634.3,250.8 612.9,236.6 776.3,317 669.6,150 664.4,200.2 704.6,137.2 739,417.6 593.8,186.4 617.2,178.9 808.4,361.8 587.7,265.7 852.6,372.3 862.7,404.4 831.8,112.9 674.4,216.7 779.4,399.6 677.7,250.5 870,105 768.4,392.7 673.6,257.5 735.8,251.4 601.4,352.2 626.7,330.3 635.9,157.5 599.4,272.3 838.5,329.3 606.8,178.2 611.8,170.7 897.1,159.8 674,229.9 905.8,143.9 678.2,181.9 775.7,415.1 615.8,146.2 724.3,365.9 870.5,274.1 687.6,375.5 698.1,221.1 660.3,188.6 723.8,218.3 675.6,309.9 640.1,175.8 809,114.5 623.9,269.7 769.2,403.7 869.7,280.3 578.1,273.5 606,205.9 677.2,296.8 861.8,396.7 800.2,334.3 739.5,255.4 652.9,207.8 704.9,156.7 680.2,243.1 632.5,245 662.1,115.2 815.4,405.8 827.6,358.8 840.2,114.4 772.6,381.1 649.5,213.7 846.2,389.9 647.9,155 650.7,225.7 810.3,362.6 808.4,375.9 831.7,114.3 628.7,156.6 883.9,294.5 855.9,361.2 893.1,128.4 813.7,301.7 847,112.3 696.5,179.8 620.6,220 777,376 844.4,365.5 813,107.3 709.9,145 703.7,251.6 674.6,237 903.3,301.8 820.6,416.1 895,215.8 846.9,416.9 724,397.3 705.2,229.2 736.9,339.1 894.3,214.1 789.5,362 592.2,226.6 694.7,378.5 682.2,295.5 693,353.3 641.6,152 584,212.6 844.2,305 617.2,188.1 905.4,172.2 773.3,340.6 859.3,117.9 773.4,313.2 682.2,122.4 671.5,201.7 894,216 762.3,351.1 883.6,84.4 828.8,397.6 655.1,156.4 898.2,213.8 864.3,314.2 746.7,293.6 705.8,243.9 699.1,289.3 734.1,134.1 683.8,202.2 796.2,293 875.3,389.7 830.4,304 899,143 582.3,138 711.4,261.8 720.8,140.8 628.3,325.7 685.1,187.9 800,376.1 594.8,349.1 598.6,139.1 641.4,164 665,233.8 717.7,239.2 848.9,415 649.2,150.3 681.6,183.2 774,274.8 609.4,159.2 745.7,362.3 867.3,396.5 872.6,306.1 699.6,351.9 863.6,316.6 793.4,313.3 708.1,263.8 782.9,318.8 896.6,125.2 704.6,374.4 777.2,353.6 806.2,343.2 678.9,295.5 896.5,294.3 790,320.3 780.4,115.2 768.8,277.3 832,336.2 579.2,187.8 800.8,305.3 718.9,416 614,136 813.9,328.5 722,146.4 697.7,158 872.5,287.9 644,172.9 841.7,378.3 688.4,178.6 723.2,344.8 584.6,164.6 654.1,295.3 677.8,213.6 787.8,355.6 660.1,234.2 905.9,229.9 581.1,345.2 815.3,304.9 854.2,333.5 722,146.2 575.3,290.4 809.8,412.3 771.1,389 839.7,396.3 774.9,121.5 696.5,205.8 732.9,255.8 887.7,273.5 625.1,204.4 879.1,116 696.7,296.6 655.5,261.1 613.2,171.3 902.5,175.4 587.1,260.6 587.4,349.9 697.2,148"/>
<polyline class="po1" points="780.9,238 885,223.6 811.5,265.8 751.7,149.3 769.7,254.2 883.6,179.9 835,279 763.2,243.9 749.1,236.7 729,194.1 741.4,189.6 860.7,244.9 838.3,276.6 837,282.4 714.7,184.9 734.4,218.4 717.2,171.5 789.5,243.2 815.1,263 774.8,254.8 703.5,174.2 743.9,200.8 782.8,126 890.9,189.8 737.4,164.2 866.7,232.9 801.4,261.4 848,270.8 794.2,241.6 716,157.5 846.2,281 824.1,128.2 803.4,258.3 698.6,169.1 768.6,220 780.4,230.9 866.8,239.4 827.8,268.1 861.1,134.6 711.8,176.4 735.3,189.2 788.5,238 727.2,172.3 752.8,232.4 740.7,179.5 844.5,128.8 832.3,129.7 754.6,141.1 826,259.6 859.9,126.1 840.7,282.3 808.2,124.5 845.6,124.9 880.7,136.5 717.4,172.4 773.6,218.7 772.7,257.7 760.1,134.1 783.5,234.4 873.3,234.4 804.1,251.1 882,227.4 853.7,262.1 701.7,179.2 810,281.6 749.7,199 764.5,225 870.6,135.9 751.9,167 883.7,201.6 808,285.5 854.2,283.8 745.1,208.1 828.9,302.3 743.4,160.8 884.2,197.8 811,284 714.4,190.1 817.6,266.4 768.4,224.5 853.5,249.1 729.8,173.3 867.4,252.8 840.8,297.6 714.2,167 837.1,256.7 827.8,285.3 749.6,201.2 890.2,176.5 726.1,190 740.8,193.5 864.7,265.7 738.8,227.5 741,169 869.6,251 729.8,166.3 725.4,157.1 763.6,137.4 728.4,210.4 883.8,138.9 833.2,256.7 822.2,121.9 736.1,222.7 829.7,294.5 858.7,271.4 748.1,151.7 820.8,277.6 753.7,201.1 839.7,296 840.3,279.3 877.6,211.1 818.8,120.6 883.4,170.6 726.1,157.8 791.7,264.2 742.1,183.2 863.6,134.6 850.5,296.3 729.3,159.2 718.1,186.1 744.1,142.8 745.4,152.1 807.2,257.2 742.7,225.3 814.2,257.3 867.5,131 731.5,209.8 751.2,138.8 860.1,130 855.6,277.5 816.9,126.5 752.3,158.5 775.9,251.8 774.1,256.4 761.9,237.8 783.7,230.3 805.1,284.4 816.6,250.9 745.1,141.2 765.5,143.1 739.3,192.7 853.1,122.8 724,152.9 764,241.7 826.8,123.6 750.2,205.9 783,254.9 711.5,197.1 755.4,218.2 871.5,257 833.8,297.3 761.4,206.4 712.8,202.6 728.1,173.5 733.2,221.7 836.5,291.5 846.7,255.2 888.9,186.3 887.4,158.8 856.3,124.7 883.1,230.7 791.6,135.5 857.3,244.5 724.4,212.1 833.4,258.9 817,291.7 755.1,154.6 785.6,247.8 847,123.3 796.7,259.6 845,129.8 869.7,269.2 740.8,204 874,127.7 742.2,206.7 735.9,168 839.9,271.4 853.9,282.3 863.8,280 828.8,267.5 843.6,293.9 773.3,137.3 741.3,157.4 721.7,188.4 777.4,136.1 748.3,237 864,265.6 871.6,237.8 867.8,126.1 719.9,157.8 879.4,147.3 888.9,172.5 712.3,198.6 890.6,197.9 827,121.6 863.5,256.4 812.3,249.5 820.1,130.9 867.9,129.8 826.5,125.7 734.7,153.3 744.3,168.2 887.6,174 751,183.1 733.6,162.2 717.4,178.5 875.5,253.6 772.1,131.2 807.5,248.5 701.9,165.8 777.3,127.2 713.2,187.7 887.6,218.9 751.2,169.6 839.3,120.7 876.3,238.8 829.4,273.6 704.2,170.4 758,202.4 886.3,220.9 750.9,157.3 874.6,238.6 773.3,238 851,131.4 785,125.7 731.1,158 775,260.3 781.3,223.9 739.1,196.8 842.1,287.5 777,127.7 770.9,132.6 776.3,139.1 761.3,149.6 772.8,129.8 751.7,206.2 859,282.2 749.6,221.7 870.5,258.4 788.7,138 725.2,170.2 870.6,255.3 775.4,246.2 888.7,199.2 789.6,248.9 841.5,267.4 831.9,285.4 704,162.9 794.2,255.5 892.6,192.1 819.7,268.5 889.6,170.4 722.7,212.1 792,124.5 833,125.2 777.3,130.7 702.7,174.7 780.2,251.5 751.9,202.7 781.8,230.5 804.3,287.6 797.8,130.4 787.1,258.1 744.9,199.7 860.9,129 852.4,281.2 795.3,124.2 719,186.5 748.9,231.3 747,153.8 744,147.8 887.8,146.2 822.4,276.6 728.2,208.5 833.9,297.4 879,136.9 775,133.1 891.6,182.9 858.3,260.2 869,273 772.7,141.3 750.2,230.4 857.7,123.4 865.5,271.6 888.8,182.1 797.3,276.6 722.7,166.8 862.2,122.8 730.1,144.7 882.4,235.1 857.7,252.4 737,203.8 840.2,278 725.9,176.2 764.1,223.6 857.6,270.2 833.2,262 822.4,294.6 818.1,277.4 744.1,168.4 863.9,256 786.7,268.9 737.6,199.2 749.2,181.6 706.9,171.8 794.7,242.6 874.4,224.5 743.8,204.3 704.5,190.2 889.1,194.2 745.4,186.5 737.2,199 856.2,256.5 870,252.7 768.8,130.8 880.7,152.8 784.2,236.7 732.2,164.1 815.4,289.1 852.9,254.9 813.2,290.7 755.7,147 770,231.9 841.3,122.5 777.1,255 880.3,199.9 748.4,137.6 742.6,213.4 704.9,169.9 862.1,238.7 787.8,263.7 812.5,122.9 730,208.9 829.7,257.4 827.1,292.8 791.3,132.5 772.6,138.4 801.6,284.5 887.2,153 768.2,216.2 864.4,126.2 868.2,246.2 819.3,261.2 813.4,125.1 814.4,255.5 767.1,246.5 836.4,299 830.1,274 888.1,187.3 839.5,120.8 729.6,195.1 704.2,179.5 750.5,190.7 770.7,242.5 813.2,254.9 873.5,137.2 732.9,213.5 826.2,265.2 845.4,288.4 826.8,258 752.2,230.7 740.3,184.5 857.4,288.7 877,228.2 885.5,219.2 816.4,280.9 762.7,237.2 844.1,253.2 748,230.4 778.5,227.8 778.5,256.8 775,235.4 875.2,132.2 857,287 768.3,241.2 805.1,246.9 829.3,294.8 793,238.4 759.3,145.2 745.3,200.5 858,270.3 883.4,150.9 885.9,227.8 869.1,235.9 872,233.6 743.8,176.8 697.8,177.1 880.8,133.6 745.3,172.4 724.3,175.1 757.5,145.1 767.2,229.1 748.1,170.4 707.4,179.3 754.7,205.4 787.8,239.5 879.3,249.9 834.5,255.6 776.1,141.4 871.6,232.5 734.4,148.8 722.8,208.1 746.1,191.2 734.5,201.6 749.9,227 733.9,202.6 877,251.5 715.2,183 888.3,179.5 739.6,207 759,226.1 849.5,251.7 767.4,240.2 709.4,199.2 761,146.6 732.9,153.8 804.1,276.5 786.6,234.7 886.5,202.6 814.7,255.8 886.9,192.2 850.6,291.2 819.8,260.4 739.7,175.2 821.8,279.9 827.3,282.6 761.8,224.8 832.1,120.1 788,128.8 860.4,280 885.7,160.2 709.3,170 733.8,181.4 795.7,241.9 814.6,255 878.7,216.2 801.9,275.8 848.3,274.1 848.8,126.9 721.3,183.9 802.3,261.4 868.2,243.4 810,266 793.8,251.2 813.2,273 765.1,150 723.1,164.3 712.7,174.1 730.7,174.5 823,258 848.3,129.8 761.9,232.1 812.9,252.4 769,235.2 726,160.3 738.9,170.9 785.3,259.1 859.6,268.4 832.5,127.2 844.2,279.4 800.8,254.2 773.8,227 828.5,259.5 766.4,145.1 762.8,145.7 866.2,234.4 848,131.3 844.3,267.9 753.1,239.4 775,136.3 776.3,251.1 835.2,284.9 736,143.3 862.9,125.9 748.7,162.6 864.2,279.7 888.8,160.5 704.7,188.4 742,185.8 820.5,126 803.6,272.9 730,206.3 711.8,181.4 748.1,233.3 810.4,269 749.6,223.7 882.6,212.4 823.1,277.1 830.5,289.6 805.9,289.5 871.6,240.3 702.3,175.6 820,276.6 778,244.6 749.9,198.6 714.6,164.1 845.7,268.7 884.2,165.4 839.3,302.1 829.6,130 734.3,192.5 817.7,130.6 745.4,221.3 806.6,290.5 747.9,185 715.1,172.1 768.2,213 799.1,249.7 885,182.1 884,157.8 797,256.8 873.2,138.4 760.5,137.8 818.7,131.6 833.5,299.8 716.5,198.3 760.5,212.5 720.6,178.6 742.7,180.7 711.4,194.8 869.7,265.7 738.7,178.7 745.8,158.5 893.8,168.2 822.9,126.6 742.6,165.6 744,140.5 779.3,129.8 859.8,283 830,302.1 762.1,237.7 739.7,192.4 852.2,256.9 850.4,290.1 737.4,147.9 762.7,218.2 876.3,135.7 844.7,121.4 806.1,274.5 875.3,131.7 727.5,212.6 742.7,232 718.7,152.1 775.9,139.8 847.3,272 862.3,262.6 779.7,227.6 784.2,237.4 869.7,257.1 889.9,209.4 858.8,244.5 882.3,239.9 792.3,269.8 811.7,282.5 839.8,279.5 891.9,182.9 852.3,273.3 867.2,264.5 745.8,184.4 892.6,179.4 766.5,251.1 808.2,255 866.6,133.6 699.2,179.6 852.4,127.7 799.7,248.7 830.9,280.3 824.1,120.1 849,287.9 763.6,222.7 732,214.5 732.5,196 770.1,231.5 763.2,246.8 838.9,263.8 790.3,133.1 813.8,295.3 828.2,121.8 739.5,173.4 773,223.8 778.8,131.1 767.2,250 722.3,182.3 883,225.3 802.5,286.6 707.7,189.3 736.8,168.8 843.2,283 852.4,257.9 813.6,295 748.9,173.4 752,152.5 853.1,284.6 837.9,270.7 710.7,164.1 879.1,230.3 723.7,186.8 843.8,258.3 767.5,231.1 752.1,139.6 853.7,129.4 722.5,170.8 844.2,129 886.4,164.6 873,240.5 824.3,257.9 814.5,281.1 741.7,200.7 700,181.1 736.6,171.6 770.1,240.4 837.2,256.5 873.8,253.5 758.8,138 760.4,224.7 874.6,239.3 879.5,216.6 842.4,268.7 729.8,189.4 877.2,218.5 794.7,267.8 871.6,129.5 732.5,218.9 878.8,248.7 884,143.5 782.2,242.6 754,205.1 705.7,195.1 824.4,253.1 838,261.2 826.7,290.5 806.5,255.2 773.1,242.3 714.1,163.1 835.9,277.2 705.3,182.9 720.9,151 826.8,299.7 711.7,172.1 764.4,146.3 851.1,270.4 843.1,259.4 800.5,252.4 796.2,244.2 809.2,283.4 720.4,207.5 887.1,145.1 716.8,199.2 817.2,256.9 723.2,163.2 739.1,164.7 786.8,235.1 786.5,249.1 776.8,240.7 749.5,198.9 882.7,137.1 702.9,163.1 743.9,178.5 721.9,157.3 766.6,135.4 762.1,250.1 709.9,159.8 856.4,247.6 750.3,220.7 761.5,138.5 698.2,179 765.1,209.1 869.7,137.5 745,154.2 884.1,204.1 742.8,204.3 751.6,205.4 795.4,133.5 734.7,181.7 870.9,255.2 870.6,134.5 780.5,260.6 842.7,283 864.8,273.9 751,208.4 722,183.4 863.3,278.5 772.5,251 714.7,169.6 872.5,258.2 868.5,230.4 823.9,266.1 850.7,124 783.1,237.1 750.9,218.9 874.6,132.8 756.3,237.3 886.6,168.9 884.5,166.6 882.1,195.5 843,258.7 778.1,247.9 838.3,284.2 875.7,142 714.1,189.3 887.3,166.2 722.7,202.5 839.1,119.4 754.8,148.7 890,183.3 763,237.7 819.3,263.1 854.3,131.9 880.5,150.6 776.5,128.9 730,149.5 779.5,258.3 751.3,240.5 755.1,139.3 825,280.6 770.3,248.2 787,126.8 819.1,285.7 768.7,146 851,276.7 725.9,198.5 829.7,293.3 892.4,178.2 853.8,293.2 809.8,287.7 750.4,196 855,246.9 755.4,199.5 726.5,202.1 889.5,208.4 839.4,256 886.9,182.7 747.9,232.1 873.1,235.6 850.2,277.3 749.7,213.9 820.6,274.3 833.4,290.1 831.4,293.4 806.6,256.5 749.6,217.4 833.8,278.1 849.4,257 809.8,131.5 879.8,229 793.2,264.1 888.8,211.7 879.2,239.3 874.5,231.1 874.6,256.6 738,158.6 737.8,207.3 887.6,181.5 848.3,263.3 814.2,129.3 825.8,129 704.2,182.6 772.9,141 838.2,290 828.3,294.5 889.7,148.5 785.5,260.8 727.7,172.1 752.4,144 881.5,135.3 768.6,142.9 876.5,217.9 720,180.1 730.9,159 853.1,292 802.3,126.3 810.4,266.9 789.3,264.5 734.3,156.3 759.8,227.8 822.7,298.2 844.3,286.7 745,212.3 819.6,275.4 864.3,237.8 712.5,202.1 728.8,204.3 813.6,248.8 870.3,227.5 883.4,173.3 780,136.6 888.8,149.3 724.9,201.5 842.3,289.4 746,223.8 817.7,271.6 823.7,299.6 814.6,121.7 797.2,274.5 822.7,127.8 864.6,237.8 881.7,155.6 764.6,137.1 886.5,227.4 724.2,182.6 847.5,123.3 788.7,271.2 849.3,289.8 881.9,241.5 868.9,262.9 848.6,292.2 892.1,183.7 882.7,163.2 785.9,244.7 873.5,255.9 751.4,137.5 705.7,178.5 881.2,231.9 851.8,273 751.1,183.9 781.3,241.8 706.3,178.7 802.6,272.7 894.1,166.4 851.1,294.2 781.9,256.7 785.9,129.6 751.4,235.2 827.7,121.8 819.4,120.5 858.1,265.6 720.3,190.7 772.5,256.9 731.3,217.2 797.5,135.4 704.5,179.9 889.2,194.2 885.1,210.5 840.7,129.1 827.6,258.4 781.5,247.9 783.9,269.3 793.4,130.3 711.2,159.3 719.1,159.6 730.6,145.8 869.4,239.3 728.9,162.5 882.1,196 704.6,169.5 728.1,196.7 810.6,278.9 883.1,159.5 748.4,181.2 735.4,208.6 751.9,212.9 824.3,283.4 755.4,234.3 728.4,192.4 891.7,161.5 727.6,166 702.4,175.2 862.9,125.7 831.3,272 821.4,290.9 806.8,267.3 721.4,205.1 761.2,145.3 841,271.9 798.6,272.4 764.5,211 744,161.5 815.2,250.5 861.3,274.3 719.7,204.9 851.7,291.4 724.4,180.7 884.6,146.8 753.4,227.1 893.6,160.6 737.9,141.5 892.7,179.7 866.1,237.5 856.2,283.7 816,266.2 790.1,263.3 703.1,161.8 738.5,195.9 802,286.4 721.6,178.9 884.8,222.7 757,226.7 719.7,156 844.6,280.1 887.9,215.2 757.8,203.7 768.6,222.4 885.4,220.4 762,136.9 803.6,127.5 865.8,133.7 800.6,133 832.3,265.4 755.1,230.9 854.4,259.8 762.2,150 759.9,208.8 854.4,287.8 785,231.9 828.1,265.8 797.5,281.5 850.8,293.4 789.6,127.4 804.6,263.7 829.4,269.4 791.5,245.6 769.1,134 725.1,159.3 818.2,121.7 872.7,228.9 755.4,139.6 782.3,244.8 750.8,151.6 846,296.8 797.8,277 890.9,164.1 841.2,267.1 809,270.5 715.5,170.1 745,162.5 747.5,161.4 733.8,188.4 735.7,214.8 846.5,269.7 810.4,133 787.3,256.6 834.9,289.5 714.3,153.8 764.9,242 884.4,226.3 747.1,154.1 759.8,242 869.2,235 796.3,254.1 734.5,153.3 751.4,180.3 802.3,241.7 877,140.5 783.4,127.8 731.6,149.6 733.8,169.8 890.1,169.4 848,267.2 778,247.4 722.9,164.5 777.3,250.2 827,119.5 844.5,123.3 784.1,255.7 791.7,263.9 797,134.8 809.7,275.9 754.7,148.2 738.3,199.3 847.5,126 718.2,174.1 894,194.1 891,205.2 886.4,196.8 874.8,216.7 778.9,254.2 820.8,125.8 866.9,247.1 751,216.6 823.7,299.9 802.2,261 785.6,231.2 705.8,170.7 886.9,169.6 741.4,201.1 720.1,173.1 718,175.1 816.4,267.8 877.9,148.1 877,226.9 779.8,127.7 761.3,244 785.5,130.4 878.3,132.7 720.2,177.8 792.4,256.7 886,179.4 776.8,247.2 861.9,283 879.8,224.8 880.4,199.1 729.7,197.7 743.1,198.2 762,236.2 885.7,190.7 751.6,214.7 767.9,216.7 726.6,202.6 789.9,269.7 805.1,260.9 715.1,187.9 782.5,243.2 794.2,274.8 754.6,136.7 706.1,187.1 850.9,257.3 846,281.5 824.6,276.7 721.9,211.4 774,216.6 807,251.9 829,127.7 788.6,242.9 716.2,167.8 815.8,270.1 770.2,253.2 715.9,196.8 724.6,181.1 741.4,174.4 783.5,126.6 881.8,202.2 771.2,219.9 709.7,178.3 773.4,254.8 778.5,131 852.4,265.8 836.2,262.9 871.3,263.2 776.1,133.1 834.7,302.4 827.9,282.5 880,235.7 840.8,279.7 771.9,245 804.2,272.4 762.9,230.4 834.3,270.2 732.7,221.4 727.2,176.8 868.2,247 841.4,254.2 745.1,233.2 830.9,262.2 733.3,143.3 853.9,261.2 809.4,287.4 797.6,277.4 883,239 820.2,284.7 755.8,207.4 744.2,195.8 798.2,274.5 779.7,256.6 851.2,125.1 846.2,271 828.2,125.4 836.8,295.7 714.1,200.2 708.8,175.2 875.9,225.7 781.9,140.7 867.3,251.6 718.7,174 851.4,131.7 767.5,245 825.1,272.7 854.8,251.4 754.8,160 800.9,259 813.9,271.4 809,259.7 705.6,164.2 790.9,130.4 722.1,169.9 788.1,125.9 765.5,224.2 831.1,279.7 812.1,277.4 718.9,176.1 773.8,243.7 795.5,127.4 731.2,181.7 739.7,179.9 789.1,132.3 878.8,217.7 741.3,196 805.9,269.2 783.7,251.1 798.7,262.9 884.8,198.1 809.6,263.8 867.4,253.3 807,129 828.9,129.4 751.1,222.2 727.7,148.9 769.4,144.1 861.6,278.8 840,275.5 893.2,187.6 751.7,147.3 747.5,198.8 754.7,207 746,231.3 841.1,273.7 793.8,250.5 884.9,159.7 820.9,259 824.5,120.2 862.9,274.7 726.3,193.8 745.2,158.8 756.1,193.8 813.8,271.2 857.7,285.1 841,297.8 743.6,143.8 853.7,251 876.9,141.3 743.1,182.2 716.5,201.1 719.7,171.1 731.9,167.7 860.4,273.1 735.7,149.8 772.1,241.9 864.7,240.8 831.8,265.9 731.6,199.8 712.3,191.5 757.6,207.7 772.9,140 875,246.6 856.8,266.8 744.3,168 822.7,257.1 804.4,254.2 800.5,282.5 723.2,173.9 829.8,119.5 865.2,242.6 814.5,267.6 742.8,228.6 741.2,161.5 770.4,239.7 817.6,284.4 748.4,159.3 708.9,159.4 759.1,210.9 883.6,165.6 837.8,260.9 719.9,150 823.5,300.8 708.8,177.1 854,257.8 839.7,121.9 796.7,132 748.9,169.3 741.6,220.7 779.8,245.7 728.1,160.6 775.3,246.1 862.8,261.9 884.3,219.2 740.1,151.4 856.5,129.4 822.1,125.5 831,283.6 804.4,246.4 871.5,251.3 851.6,276.8 783.5,252.9 755.6,235.6 769.8,239.1 782.6,235.6 886.4,176.3 728.9,188.7 871,255.1 841.7,290.8 826.4,260.8 835.3,285.6 867.6,245.4 828.5,272.6 878.4,252.6 846.2,280.5 776.4,235.7 755.1,154.4 866.6,238.9 851.3,286.2 712.6,169.6 707,177.6 820.5,294.8 788.1,236 763.5,226.5 766.6,234.8 717.3,203.4 848.9,297.2 753.8,153.8 887.9,184.7 795.5,276.1 822.1,277.7 893.6,175.4 821.2,265.7 770.5,240.3 828.4,296.6 845.5,262.7 723.5,177.7 724.2,181.6 890.2,205.4 862.4,251.1"/>
<polyline class="po2" points="835.5,144.5 813.7,245.7 818.4,151.8 784.3,168.8 856.8,218.1 846,148 861.1,154.8 854.3,196.1 833.1,230.4 839.5,134.7 858.9,188.9 843.4,215.8 871,177.1 789.4,180.6 861.9,216.8 797.2,234.7 818.9,134.7 811,195.5 791.6,163.9 791.3,206.8 777.2,198.1 880,184.3 861.7,205.1 774,205.9 819.3,228 776.2,160.4 780.5,159 862.5,174.3 782,211 756,175 835.8,136.9 776.3,186.9 807,146.7 833,228.9 820.6,248 776.9,161.4 852.9,219 806.6,159.2 806.3,192.7 873.3,185.5 866,187 764.3,157.9 791,155.5 785.9,148.7 859.6,137.8 784.1,202.4 858.5,196.7 867.3,172.7 871,157.7 856.5,218.8 850.5,238.2 783,201.5 800.4,190.5 785.5,216.8 860.6,182.7 795.5,185.4 833.7,248.4 812,240.8 778.5,210 856.5,239.8 781.9,170.1 872.2,145.5 770.6,173.6 827.3,145.5 771.6,198.3 800.8,195.2 822.8,214.2 757.1,170.4 865.3,143.9 811.1,137.4 874,151.3 865.6,139.9 836.9,217.4 801,229.5 874.9,183.8 797.8,233.2 858.2,215.4 868.3,166 805.2,191.3 837.2,140.4 870.2,171.5 870.9,177.3 857.2,214.5 792.7,196.7 874.6,188.9 840.5,148.4 778.9,187.9 864.2,186.2 852.5,202.7 872.2,206 796.9,162.3 835.3,233.7 819.9,240.8 866.2,211.4 857.7,226.3 847.8,230.2 874.1,146 828.9,216.2 792.6,210.1 800.1,164.1 769.4,208.4 844.5,211.2 866.8,186.7 826.4,136.1 788.7,224.8 833.8,220.4 797.6,156.9 866.3,140.4 853.5,244.3 766,198.9 878.5,191.5 836.9,225.2 772.8,208.8 811.4,207.5 864.9,195.2 798.3,180.5 822.7,225.3 839.3,132.8 847.7,214.8 863.5,175.1 818.4,210.9 809.1,202.3 788.6,206.4 808.2,233.5 779.7,162.7 805.1,199.8 788.7,163.1 811.8,155 838.3,151.1 765.7,191.7 771.2,175.2 873.8,207 791.9,211.9 817,222.7 799.8,222.6 822.6,237.1 768.5,165.5 833.7,240 842.9,210.2 782.9,196 812.2,148.6 857.2,237.3 755.1,184.6 820.3,224.8 867.2,220.5 774.1,206.6 812.9,244.7 784.4,205.4 845.6,146.7 844.3,133 758.6,195 857,139.5 873.3,169.4 861.7,191.4 869.8,171.4 861.2,211.3 846.4,247.1 786.7,204.2 878.6,190.6 878.1,170.3 812.2,231 779.1,177.4 815.5,221.1 803.9,193.1 858.8,190.1 820.7,220.2 769.6,192.4 861,198.8 818.4,132.7 802.4,220.3 796.2,209.2 805.7,205.9 814.7,219.8 869,154.4 807.6,214.4 872.9,177.2 782.7,145.7 865.6,146.4 824.3,206.7 811.8,236.1 862.1,182.7 825.4,140.2 826.1,217.3 868,222.2 881.2,178.1 762.5,155.5 857.3,222.1 798.1,197.6 794.3,217.7 797.7,182.3 825.8,151.7 845.9,249.5 838,221.8 858.9,141.5 773.5,157.2 832.2,251.7 783.2,210.7 833.3,244.6 847.1,248.2 869.1,190.6 761.8,183.8 806.8,208.2 805.7,221.7 810.8,223.1 811.2,232.4 790,198.4 774.8,203 866.5,162.8 845.5,211.8 844,152.5 760.9,176.5 862.5,196.2 793.5,143.6 824.5,132.7 775.9,213.8 865.7,225.4 843.7,240 774.9,200.6 864.3,200.5 805.7,205.1 844.5,242.3 782.3,158.7 854.5,150.3 833.7,249.4 835.3,148 795.6,139.9 867,147.4 756.3,180.4 818.1,202.6 812.6,213.6 773.7,152.1 801.6,227.6 805.2,158.8 852,139.7 775.1,151.7 797.3,144.3 806.9,149.2 827.3,206.7 801,146.8 793.9,184.8 770,163.8 769.3,201.7 769,172.1 812.5,223.8 779.8,165.9 818.5,221.1 802.1,230.6 874.7,208.7 857.2,231.4 758.9,159.2 795.1,196.5 845.6,214.1 777.8,144.9 867.7,175.1 874.1,216.4 844.1,144 791.6,165.4 809.5,142.6 857,213.1 787.1,200.7 872.9,213.2 858.1,201.3 876.6,169 773.9,166.2 826.1,224.3 859.3,208.6 846.5,237.7 839.7,214.8 769,202 811.7,234.7 790.7,171.4 872.5,156.6 817.7,142.6 811.7,200.5 882.4,180.5 772.9,196.3 769.1,174.4 831.6,246.8 770.9,159.4 839.5,209.8 817.3,214 824.3,151.9 846.4,149.9 812.1,229.2 863.6,203.7 851.2,146.9 813.2,202.2 783.6,213.8 797.6,232.8 801.6,182.4 820.1,238.9 852.9,213.2 859.4,227.6 839.9,249.8 808.1,236.2 877.9,171.4 811.6,148.1 789.5,153.1 766.1,177.4 812.3,203.4 823.5,139.9 829.6,252.7 814,213.8 842.6,226.2 823,251.3 791,147.6 863.2,155.6 825.7,215 838.5,244 798.1,152.9 792.6,204.3 763,167 788.4,150 825.8,135.5 798.2,162 778.8,179.9 783.6,207.2 865.4,208.8 774.1,174.5 818.2,134.4 864.2,152.7 847.5,225.4 828.9,140.4 773.5,196 813.1,228.6 858.8,195.4 804.3,218.4 831.4,249.3 754,175.3 858,157.9 797.3,195.2 801.7,170.4 861,234.9 867.2,139.1 819.2,239.7 795.4,160.5 856.1,148.6 802.3,135.8 846.9,221.6 772.9,205.2 874.4,169.4 821.5,228.3 830.7,215.2 860.5,200 852.8,228.1 839.5,224 773.2,158.1 766.5,203.6 791.6,157.5 821.8,135.7 850.8,233.8 836.2,235.9 765.9,179 763.5,189.2 758.6,168.9 753.4,186.6 795.3,229.2 790,175.8 795.9,213.4 863.9,168.1 796.1,159 840.5,244.3 781.1,158.8 838.8,208.7 834.5,243.4 845,249 801.1,163.8 798.6,195.2 831.6,135.4 829.7,209.4 775.1,145.4 769.1,186.2 801.4,169 813.6,156.1 776.4,164.6 792.9,167.8 824.2,205.2 776.4,146.1 851,148.1 763.5,171.8 862.7,185.4 855.4,212.9 793.2,220.5 849.8,221.3 798.9,194.5 769.9,199.3 835.2,146 846.9,152.5 863.2,169.6 823.4,139.4 791,215.1 802,192.2 766.6,162.6 783.8,161.3 852,146.7 868.3,164.2 840.7,228.6 779.9,145.3 871.6,199.9 796,183.8 781.4,189.9 876.8,162.9 795.2,196 855.1,153 767.5,167.1 794.9,171.4 841.1,234.6 778.9,170.5 805.4,228.2 841.9,210 876.3,200.8 789.7,139.8 772.2,194.6 836.6,232.5 875.5,183.8 848.8,212.1 800.8,185 778.7,204.8 846.7,235.3 873.3,147.4 801.1,203.4 871.2,149.7 804.1,231 765.9,153 804.3,205.9 806.2,149.8 829.6,210.6 855.2,218.1 870,167.2 802.5,139.1 875.2,195.1 812.1,155.8 877.1,166.4 786.3,178.7 760.6,182.6 877,183.6 826.9,238.2 792.4,141.5 870.5,193.7 768.9,198.6 801.5,193.6 847.3,241.2 857.3,159.4 783,212.2 787.2,140.5 868.8,222.2 868,189.7 829.4,252.9 847.4,240.6 863,190.1 829.7,245.5 803.2,184.1 825,222.6 764.7,178.7 770.9,188.6 860.4,235.3 823.6,139.8 845.3,223.2 865.9,159.3 861.8,161.6 863.4,215.4 821.6,247.9 833.2,211.8 834.8,232 798.8,214.5 799.3,169.3 817.8,233 870.1,197.3 822.4,213.4 835.6,245.7 863.9,141.6 772.9,170.5 828.3,239.3 786.9,204.7 764.6,181 858.6,158.6 804.2,156.9 857.1,219.8 818.9,145 765.3,169.5 806.9,149.1 847.6,234 815.2,211.2 792.3,197.7 793.4,191.5 832.8,210.3 798.9,141.3 786.6,161.8 790.2,205.8 809,215.7 816.4,208.5 791.1,220.8 852.3,198.4 805.7,194.7 822.2,219.8 870,202.9 805.7,222.5 772.5,167 800.9,163.9 770.6,203.3 874.6,182.5 798.1,214.1 771.9,197.6 849.7,221.5 757.6,165.1 847.5,239.8 813.1,217.7 829.6,252.9 859.2,217.5 824.1,148.2 865.3,140.2 798.6,180.2 789.3,186.2 865.6,150.5 851.2,153.2 853.1,151.6 844.9,214.6 813.3,144.4 835.5,143.2 857.8,148.7 853.5,240.6 767.1,204.6 882,167.9 786.2,176.7 802.8,236.8 798.6,195 785.3,192.7 860.4,205.5 788.3,173.8 807.6,224.2 855,158.6 766.9,207.5 800.6,209.1 797.9,232.5 805.8,138.8 851.1,135.7 844.6,230.2 840.8,228.3 843.7,240 759.7,157.2 756.9,174.8 821.7,150.6 768.4,163.2 768,156 799,158.6 876.8,154.1 822.6,236.7 869.2,179.5 800,146.8 790.6,179.3 795.9,141.1 779.9,193.2 793.5,142.4 762.8,171.1 787.8,171.1 881.9,173.8 840.5,206.7 848.9,235.4 772.3,185.1 799.1,235.6 868.2,202.5 857.1,205.3 800.5,175.3 799.6,160.1 773.5,211.8 794.3,218.1 807.3,135.8 789.9,170.4 765.2,156.5 834.5,250.7 858,188.7 872.1,220.6 819.5,148 817,138.1 835.9,230.5 840.4,214.7 871.7,153.3 761,172.9 799.9,216 832.9,236.1 816.2,132.3 829.4,233.9 805.3,203.1 864.2,149.8 784.9,142.7 851.7,225.9 779.9,151.1 862,141.6 806.2,208.8 866.8,141.4 773.8,161.3 786,170.6 774.1,186.6 871,186.9 790.2,201 792.8,160.3 786.6,223.1 868,227.7 803.8,209.9 788.5,200.1 823.2,235.8 835.8,249.6 797.8,220.8 812.8,235.6 810,208 823.6,233.8 857.1,201.2 754.1,169.8 838,147.1 803.5,167.7 797.9,202.4 874.2,183.3 821.7,216.2 856.7,144.8 853.5,147.5 828.5,242.9 779.4,157.8 781.3,185 855,220.2 765.7,189.9 797.8,224.7 851.5,239.7 803,154.2 858.6,195.9 794.6,230.8 793.2,183.7 854.3,232 776.7,151.3 798.7,206.4 858.5,152 787.5,164.1 786.8,158.3 821.1,239.7 841,227.9 830,149.7 801.8,223 769.7,165.2 822.4,229.7 772.1,177.8 784.4,177.6 776.2,202 856.1,214.6 855.3,208.3 777.5,157.9 839.1,230.2 846.3,249 876.2,170.9 874.3,214 787,144.1 810.7,197.8 792.9,210.2 835.3,137.9 803.6,225.3 758.1,170.5 773.9,196 838.5,211.3 825.7,134.4 787.8,165.8 785.6,208.9 828.5,212.2 847.3,235.6 837.2,149.8 767,198.8 820.7,209.5 779.8,182.8 852.7,235.2 867.3,173.8 779.4,186.7 781.8,171.1 784.1,180.5 799.6,151.2 875.2,183.4 775.4,157.5 844.3,152.1 808.1,194.2 865.4,165.4 837.7,211.8 816.9,143 836.2,247.1 818.7,139.9 810.5,229.8 794.4,226.1 805.1,211.2 833.3,245.4 858.6,218.5 814.4,201.8 882,177.6 782.4,195.8 868.1,173.3 822.4,211.4 802,209 765.1,193.7 806.1,195.4 872.6,166.5 761.4,171.4 798.7,207.4 866.1,171.4 862.7,191.8 846.4,223.8 792,189.1 784.5,224.1 848.2,234.4 881.7,191.2 785.8,189.8 822.3,227.4 857,195.6 812.3,221.5 877.9,155.8 827.7,232 815.2,242.6 789.1,190.4 836.4,250.8 766.8,207.7 866.2,166.7 782.1,171.4 770.8,164.7 776.5,173.8 833.7,252 838,236.9 841.8,239.7 818.4,225.4 869.1,172.4 779.9,195.3 789.6,155.7 752.2,181.9 769.5,178.3 782.7,160 759.9,186.8 855.4,143.9 777.1,182.7 863.2,179.2 763.9,188.2 847.9,241.7 804.9,201.5 828.5,208.3 828.2,144.5 803.2,155.4 766.5,163.1 781.8,151.6 880.9,185.6 772.3,204.5 810,155 798.9,187.4 863.9,188.9 864.6,196.1 783.4,193.1 867.6,180.3 808.4,219.7 834.4,208.5 793.7,154.1 845.6,152.5 874.9,214.3 790.6,204.2 781.4,219.8 869.8,153.4 817.3,231.4 853.4,134.2 821.3,140 849.9,200.7 861.4,158.1 855.8,235.5 772.6,152.8 851.2,217.8 834.1,245.1 862.4,155.8 845.6,241.1 761.6,180.3 805.9,202.5 834.4,146.9 789.1,228.7 841.2,138.8 824.7,208.8 866.6,151.5 771.6,173.5 776.3,162.3 811.2,215.1 795,206.3 823.9,152.3 861.7,186 815.6,240.9 829,149.4 830.2,215.1 869.7,171.6 870.9,150.2 803.3,140.4 829.6,245.7 843.3,214.7 852.6,213 859.5,143.5 863.5,150.9 870.4,153.7 879.9,161.6 861.7,228 811.6,138.5 827,218.2 840.7,150.1 877.2,171.7 857.1,193 871.9,187.4 854.5,157.4 779.4,208 816.6,245 861.1,167.2 867.5,222.3 792.4,180.4 837.4,247.2 803.7,140.1 843.9,131.3 771.1,150.1 834.9,219.2 795.9,163.9 844.9,148.9 775.1,150.6 796.9,210.5 758.1,184.3 831.3,241.4 845.2,151.9 833.3,233.2 838.5,252.3 791.7,182.8 852.4,197.8 768.3,151.5 781.2,189.5 829.1,140.7 863.7,156.6 800.2,142 825.7,146.3 834.2,131.8 857.9,153.9 843,232.4 799.3,183.9 762,156.8 777.4,185.1 773.6,183.7 776.2,157.2 782,173.5 798.2,195.7 863.3,152.2 862.7,220.8 861.2,146.4 796.7,180.1 791.3,168.6 786,155 856.7,242.7 798.2,156.2 799.8,181.1 785.4,190.2 782.2,192.3 873,145.8 873.2,186.6 851.3,147.6 862.6,188.5 842.2,145.5 799.6,201.5 803.8,144.2 789.5,151.1 815.7,204.3 765.6,204.9 868.4,209.8 867.1,173 780.8,161.9 838.8,230.7 830,230.7 820.2,248.4 808.3,234.1 764.2,158.2 777,159.5 791,202.4 818.7,231.4 786.9,143.8 860.1,148.5 811.1,140.8 854.3,204.2 809.5,225.3 799.6,189.1 784.3,160.1 808.7,196.9 815.4,144.3 796.9,192.1 764,176.2 803.1,209.8 784.9,191.6 817.7,237.7 819,132.7 787.7,223.2 833.1,245.1 812.3,152.1 807.8,207 764.7,191.6 768.9,193 774.7,185.7 837.3,132.4 773.8,211.5 767.2,180.5 814,243.9 876.7,154.9 760.4,184.4 767.2,186.1 851,204.8 863.7,179.9"/>
<polyline class="po3" points="843.5,157.5 818.1,167.3 850.1,178.3 844,187.3 843.7,168.5 829.8,191.9 844.1,197.1 822.9,178.5 849,165.3 837.4,162.9 832.8,157.8 823.4,181.4 802.7,178.4 845,182 846.5,200.2 810.6,165 856.2,176.5 824.8,161.3 837.3,187.1 808.5,174.5 833.3,198.8 846.9,189.3 843.6,192.9 815.1,194.6 841.5,191.8 832.4,173.8 806.4,185.7 853.6,192.8 842,169.6 825.2,187.7 822.9,201.1 832.1,163.1 842.1,170.4 832.4,175.2 813.1,185.7 826.1,169.5 839,157.9 845.1,168.3 819.1,183.7 848,172.2 848.8,160.2 826.6,196.8 843.1,155.7 850,178.8 833.2,201.1 829.8,169.1 854.6,190.5 836.8,194.3 820.4,168.4 836.9,183.4 824.4,164.2 817.4,198.9 825.8,164.2 844.8,178.1 825.2,201.8 816.8,160.8 839.4,161.1 846.3,181.3 811.6,167.5 833.7,169.3 812.7,159.1 808.9,186.6 840,166.1 820.5,193 818.8,185.5 833.8,177.5 827,181.8 819,171.6 814.8,176.4 825.3,163.1 840.7,158.5 835.3,200 849.9,186.6 815.6,195.7 827.4,186.4 809.5,164.1 840.6,175.8 819.6,194.6 826.3,198 833.9,153.4 845.5,168 817.9,176.5 832.9,180.9 855,192.3 829.7,177.2 834.6,201.9 848.2,178.5 842.1,177.8 825.8,192 837,170.3 831.4,203.9 826.9,156.6 834.6,189.2 847.6,191.3 838.3,168.2 830.9,186.1 810.6,186.5 858.3,167.2 846.3,175.1 839.8,200.8 833.1,174.4 843.1,179.5 813.5,188.7 814.3,189.3 848.9,159.2 846.1,168.6 829.1,166.6 831.3,181.2 839.6,203 805.3,184 844,164.9 826,159 809,177.5 822.6,196.5 848,192.1 833.7,173 829.2,167.6 813.6,165.7 832,165.7 829.6,170.4 834.6,159.9 820.4,158.3 839.3,201.8 834.4,193.2 815.6,176.2 840,168.8 826.8,178.2 808.1,165.8 804.6,178.8 849.6,184.2 817.1,196.1 811.1,159.2 813.7,189.2 828.4,202.5 848.2,162.7 820.6,168.9 848.2,179.8 844.9,173.7 838.4,157.3 807,169 829.7,158.1 826,182.4 857.4,172.1 848.3,178.1 812.2,195 826.3,158.2 846.2,201 819.7,158.2 820.7,175.3 815.2,177.7 834.4,156.5 833.6,176.4 817,168.8 832.7,205.8 847.5,191.7 816.4,181.4 852.2,169.2 823.2,171.5 826.6,178.7 820.8,157.6 832.5,152.3 802.6,174.4 814.4,177.3 830.6,192.1 843.6,163.7 820.1,198.7 856.7,190.2 814.2,172.2 843.1,189 815.5,167.7 813.2,183.9 806.3,168.1 856.1,163.8 831.1,183.3 825.5,166.3 842.6,155.3 813.3,172.8 843,180.4 850,173.5 850,182.7 847.1,194.9 824.6,191.4 850,158.6 830.6,162.7 831.5,160.1 835.7,174.1 840.6,185.1 818,176 849.8,188.7 834.9,161.8 837.2,185.3 849.4,160.1 858.3,172.1 848.6,183.4 812.3,187.1 826.8,163.6 821.8,157.5 825,198.4 810.6,186.9 841.8,164.8 815.4,163.3 851.1,171.4 847.9,201.5 828.3,169.5 804.2,172.3 839,169.1 820.8,184.4 815.3,160.9 815.2,179.5 846.8,160.1 860,178.3 843.1,184.3 852.4,173.6 835.1,156.6 853.9,167.2 818.3,158.3 855.8,187.6 841.1,200.9 830.7,193.2 842.8,196 859.1,182.4 807.2,187.6 841.5,200.6 853.2,171.2 839.7,175.5 817.4,174.9 831.8,164.4 820.2,188.7 817.8,182 845.7,173.3 816.3,173.4 823.4,158 833.4,190.9 844,173 824.8,179.2 854.9,162.3 836.5,204.1 838.9,185.4 837.8,158.6 854.2,166.3 832.3,185 832.9,179.6 858.1,178.4 826.1,194.8 808.4,172.4 818.5,183.8"/>
<g fill="rgb(244,163,12)" fill-rule="evenodd" filter="url(#bl1)"><path d="M801.8 423.5L789.8 424.4L759.8 424.4L739.8 424L729.5 422.9L727.9 404.9L725.7 390.9L722.1 376.9L717.7 364.9L711.8 352.7L703.8 340.1L693.8 327.6L683.3 316.9L671.8 307.1L659.8 298.6L646.1 290.9L632.3 284.9L619.8 280.8L603.8 277.2L587.8 275L569.8 273.7L568.5 260.9L568.1 232.9L568.5 210.9L569.8 204.6L599.8 203.4L627.8 200.6L652.3 196.9L729.8 182.3L745.8 180.2L767.8 178.6L779.8 178.6L795.8 180.3L807.8 184L813.8 187.3L818.3 190.9L824.6 198.9L829.3 210.9L831.3 224.9L831 244.9L826.1 280.9L808.7 362.9L805.2 390.9L803.6 422.9Z" fill-opacity="0.030"/><path d="M799.8 422.9L791.8 423.8L773.8 424.2L737.1 422.9L735.7 406.9L733.1 390.9L729.3 376.9L723.9 362.9L717.7 350.9L708.4 336.9L698.6 324.9L686.7 312.9L673.8 301.9L661 292.9L647.8 285.2L633.8 278.8L619.8 274.1L605.8 270.7L589.8 268.2L569.8 266.6L568.5 232.9L568.7 216.9L569.8 208L599.8 206.5L627.8 203.3L653.2 198.9L717.8 185.5L739.8 182.1L759.8 180L779.8 179.6L795.8 181.5L807.8 185.3L817.8 192L824.4 200.9L828.6 212.9L830.3 226.9L829.9 244.9L828.5 258.9L824.8 280.9L809.7 344.9L804.9 368.9L801.5 394.9Z" fill-opacity="0.031"/><path d="M793.8 423L771.8 423.7L746.7 422.9L744.5 402.9L740.5 384.9L734.8 368.9L726.8 352.9L716.2 336.9L702.8 320.9L687.8 306.1L671.8 293L659.8 284.8L647.8 277.8L635.8 272L623.8 267.4L611.8 263.8L597.8 260.8L569.8 257.6L569 232.9L569.8 212.9L595.8 211.3L623.8 207.6L645.8 203.3L713.8 187.7L735.8 183.9L755.8 181.5L775.8 180.7L793.8 182.3L805.8 185.8L811.8 189L816.7 192.9L822.9 200.9L827.3 212.9L829.2 228.9L828.4 248.9L825.2 270.9L821.1 290.9L805.2 350.9L800.6 370.9L796.8 394.9L794.6 422.9Z" fill-opacity="0.043"/><path d="M787.8 422.9L757 422.9L754.8 406.9L751 390.9L746.2 376.9L739.7 362.9L731.5 348.9L721.5 334.9L709.6 320.9L695.8 306.9L681.8 294.6L665.8 282.5L649.8 272.4L635.8 265.1L619.8 258.5L603.8 253.6L587.8 250.2L569.8 248.1L569.8 219.1L589.8 217.4L613.8 213.6L637.8 208.3L707.8 190.4L729.8 186L749.8 183.2L773.8 181.7L791.8 183L805.8 187L811.8 190.4L815.8 193.6L822.6 202.9L825 208.9L827 216.9L828.2 232.9L826.8 252.9L823.2 274.9L818.6 294.9L794.5 378.9L790.6 398.9Z" fill-opacity="0.044"/><path d="M775.8 397.7L773.8 398.3L771.8 397.8L767.8 394L749.1 362.9L736.8 344.9L720.5 324.9L701.1 304.9L678.2 284.9L655.8 268.6L635.8 256.5L598.8 236.9L595.8 232.9L596.1 230.9L597.9 228.9L604.9 224.9L614.9 220.9L668.9 202.9L705.8 192.6L737.8 186.1L765.8 183L787.8 183.6L797.8 185.5L803.8 187.6L809.8 190.7L815 194.9L819.8 200.8L822.9 206.9L825.3 214.9L826.5 222.9L826.5 242.9L822.9 268.9L815 300.9L801.8 340.2L783.8 385.7L779.8 393.3Z" fill-opacity="0.058"/><path d="M775.8 371.3L769.8 370.6L761.8 364.7L723.5 320.9L693.8 292L671.8 273.6L638.4 248.9L629 240.9L625.8 236.9L624.5 232.9L624.6 230.9L626.8 226.9L631.3 222.9L641.8 216.9L671.2 204.9L705.8 194.2L737.8 187.3L763.8 184.2L785.8 184.5L793.8 185.7L801.8 188.1L807.8 191L813.8 195.4L818.3 200.9L821.5 206.9L824.1 214.9L825.3 222.9L825.8 232.9L825.2 244.9L820.7 272.9L811.1 306.9L797.8 340.7L791.8 352.8L785.8 362.7L779.8 369.3Z" fill-opacity="0.062"/><path d="M775.8 355.2L771.8 355.2L767.8 354L757.8 347.4L705.8 296.3L649.9 246.9L644.9 240.9L642.1 234.9L642.4 228.9L646.6 222.9L651.5 218.9L661.7 212.9L685.1 202.9L713.8 194L743.8 187.7L767.8 185.2L787.8 186L795.8 187.6L803.8 190.4L809.8 194L813.8 197.5L817.9 202.9L820.8 208.9L823.1 216.9L824.3 226.9L823.4 248.9L818.6 274.9L809.8 303.8L797.8 331.3L791.8 341.5L785.8 349.1L779.8 353.8Z" fill-opacity="0.079"/><path d="M779.8 343.1L773.8 344.4L767.8 343.3L761.8 340.4L753.8 334.8L667.6 254.9L657.3 242.9L653.8 234.9L653.7 230.9L654.9 226.9L659.4 220.9L670.5 212.9L692.1 202.9L717.8 194.6L745.8 188.7L769.8 186.3L787.8 187.2L801.8 191L807.8 194.3L811.8 197.5L816.2 202.9L819.4 208.9L822.7 222.9L822.7 242.9L818.9 266.9L811.8 292.1L801.8 316.2L795.8 326.9L789.8 335.2L785.8 339.3Z" fill-opacity="0.086"/><path d="M779.8 333.4L773.8 334.4L767.8 333.5L759.8 330L751.8 324.6L725.8 302.2L680.2 258.9L670 246.9L664.9 236.9L664.3 230.9L665.4 226.9L667.6 222.9L671.2 218.9L679.1 212.9L686.2 208.9L704.8 200.9L727.8 193.9L751.8 189.3L771.8 187.7L789.8 189L802.2 192.9L807.8 196.2L811.8 199.8L815.6 204.9L818.5 210.9L821.4 224.9L821 244.9L817.2 266.9L809.8 291L799.8 312.6L789.8 326.5L785.8 330Z" fill-opacity="0.109"/><path d="M779.8 325.2L773.8 326.1L765.8 324.7L757.8 321L749.8 315.8L737.8 306.3L719.8 290.3L687.8 258.9L677.2 244.9L674.3 238.9L673.3 234.9L673.6 228.9L675 224.9L681.6 216.9L693.5 208.9L711.6 200.9L731.8 194.7L755.8 190.2L773.8 189L789.8 190.4L801.8 194.4L810.5 200.9L813.8 205.1L816.7 210.9L818.6 216.9L819.9 224.9L819.7 242.9L815.8 265.3L808.9 286.9L799.8 305.9L795.8 312L789.8 318.9L785.8 322.2Z" fill-opacity="0.123"/><path d="M781.8 317.1L775.8 318.6L767.8 318L759.8 315L751.8 310.4L741.8 303.1L727.8 291.4L700.3 264.9L687.2 248.9L683.8 242.9L681.6 236.9L681.2 230.9L682 226.9L685.3 220.9L689 216.9L700.3 208.9L718.3 200.9L738.8 194.9L757.8 191.5L775.8 190.5L789.8 192L801.8 196.2L809.8 202.6L812.9 206.9L815.8 212.9L818.4 224.9L818.2 242.9L815 260.9L807.8 283.5L799.8 299.5L791.8 310.1L787.8 313.6Z" fill-opacity="0.140"/><path d="M779.8 311L773.8 311.8L765.8 310.5L757.8 307.3L749.8 302.5L737.8 293.6L725.3 282.9L712.8 270.9L701.8 258.9L692.1 244.9L688.7 234.9L688.9 228.9L690.2 224.9L694.1 218.9L698.3 214.9L710.9 206.9L725.1 200.9L745.8 195.1L763.8 192.5L779.8 192.2L791.8 194.1L801.8 198.3L809.3 204.9L812 208.9L814.6 214.9L817 228.9L816 246.9L812 264.9L805.8 281.9L797.8 296.3L789.8 305.4L785.8 308.3Z" fill-opacity="0.163"/><path d="M773.8 304.9L767.8 304.2L759.8 301.5L743.8 291.8L721.8 272.9L712.2 262.9L704.2 252.9L697.5 240.9L696.1 234.9L696 230.9L697.5 224.9L699.7 220.9L707.9 212.9L717.8 206.9L732.5 200.9L749.8 196.3L767.8 193.9L781.8 194.1L793.8 196.6L802.1 200.9L808.3 206.9L811.8 212.9L813.8 218.9L815.2 232.9L813.7 248.9L808.3 268.9L801.8 283.3L793.8 294.8L789.8 298.7L783.8 302.6L779.8 304.1Z" fill-opacity="0.194"/><path d="M779.8 297L773.8 297.8L765.8 296.6L757.8 293.5L749.8 289L739.8 281.7L729.8 273L713.8 255.7L706 242.9L704.1 236.9L703.6 230.9L705.1 224.9L707.3 220.9L715.4 212.9L725.5 206.9L741.1 200.9L755.8 197.4L767.8 196L781.8 196.2L791.8 198.3L799.8 202.1L805.8 207.5L810.1 214.9L812.8 226.9L812.6 240.9L809.8 255.6L803.8 272.2L797.8 282.7L789.8 291.7L785.8 294.5Z" fill-opacity="0.241"/><path d="M775.8 290.9L769.8 290.6L762.9 288.9L755.8 285.7L747.8 280.8L737.8 273L729.8 265.5L722.1 256.9L716.4 248.9L713.3 242.9L711.4 236.9L711 230.9L711.7 226.9L716.2 218.9L725.8 210.9L738 204.9L750.8 200.9L761.8 198.7L773.8 197.9L783.8 198.7L792.1 200.9L799.8 205.1L805.8 211.9L809.8 222.3L810.7 232.9L809.6 244.9L805.8 259.4L799.8 272.5L792 282.9L783.8 288.7Z" fill-opacity="0.273"/><path d="M779.8 283.3L773.8 284.1L767.8 283.5L760 280.9L753.8 277.6L739.4 266.9L731.8 259.3L725.8 251.8L719.8 240.9L718.4 234.9L718.3 230.9L719.7 224.9L722 220.9L725.4 216.9L730.4 212.9L741.6 206.9L751.8 203.5L763.8 201L773.8 200.4L781.9 200.9L790 202.9L797.5 206.9L803.1 212.9L806.6 220.9L808.1 230.9L807.2 242.9L803.8 255.9L799.8 265L793.8 273.9L787.8 279.5Z" fill-opacity="0.313"/><path d="M775.8 277L769.8 276.7L763.8 275.2L757.8 272.6L749.8 267.6L741.8 260.9L736.1 254.9L731.6 248.9L728.3 242.9L725.8 232.9L726.7 226.9L728.4 222.9L731.4 218.9L735.8 214.9L746.4 208.9L755.8 205.7L763.8 204L773.8 203.2L781.8 203.8L787.8 205.3L794.8 208.9L799.8 213.8L802.6 218.9L804.7 226.9L804.9 236.9L803.6 244.9L799.8 256.2L795.8 263.5L789.8 270.6L783.8 274.7Z" fill-opacity="0.364"/><path d="M777.8 268.9L773.8 269.3L767.8 268.6L757.8 264.5L751.8 260.4L745.8 255.2L737.8 244.8L734.3 234.9L735 226.9L736.9 222.9L740.1 218.9L748.5 212.9L757.8 209.1L763.8 207.7L769.8 206.8L778.1 206.9L785.8 208.5L790.8 210.9L795.6 214.9L798.3 218.9L800.5 224.9L801.3 232.9L800 242.9L797.8 249.8L793.8 257.3L789.8 262.3L783.8 266.8Z" fill-opacity="0.429"/><path d="M773.8 256.9L764.8 254.9L755.8 248.9L749.7 240.9L747.5 232.9L747.9 228.9L749.6 224.9L755.4 218.9L763.8 214.9L773.8 213.4L782.6 214.9L789 218.9L792.8 224.9L794.1 232.9L792.1 242.9L787.8 250L781.8 254.9Z" fill-opacity="0.625"/></g>
<polyline class="py0" points="584.8,281.5 591.6,303 718.3,358.8 681.8,411.1 808.5,383.4 628.7,302 624,188.8 802.3,374.1 776.9,174.8 834.9,233.5 815.2,411.8 704,390.2 707.2,398.8 652.7,291.2 676.9,312 630.4,202.1 594.7,193.5 632.6,203.4 621.3,375.3 741.2,177.5 694.1,316.6 706.1,384.2 657.4,323 697.6,366.5 829.8,183.6 654.8,196.8 825.3,281.6 834.9,277.9 727.3,393.5 710.9,354.8 606.3,296 631.4,197 709.1,168.7 655.3,305 709.7,362.3 642.1,295.5 642.1,410.8 660.1,366.6 720.4,381.2 661.3,176.6 719.4,381 586,367.2 654,349.8 807.2,394.8 618.8,336.1 623.4,272 708.9,333.2 601.9,303 605.1,267.3 723,386.4 833.1,342.9 697.2,370.4 811.8,398.5 689.2,191.5 701.6,378.6 726.7,389 588,408.6 824.4,196.2 834.1,183.2 710.8,409.4 587.7,201 580.1,193.9 676,185.8 587.9,275.2 807.9,347.5 823.7,160.9 608.5,294.9 694.4,389 818.5,403.9 827,413.7 642.9,307.6 613.2,332.4 718.2,384.6 813.9,174 707.1,372.5 597.8,338.1 607.4,197.7 697.1,324.2 845.2,179.8 617,326.2 641.1,304.1 620.7,188.2 651.9,298.9 661.2,303.5 661.3,346.5 692.9,334.7 665.7,331.9 575.1,301 773.1,175.4 717.5,397.4 819.4,325.5 588.7,200.9 716.8,353.7 829,293.6 827.2,300.7 651.4,302.1 691.3,334.3 737.8,402.4 683,363.1 643.8,358.7 611.2,285.1 765.4,177.1 689.5,327.3 801.6,411.8 605.7,290.9 610.5,197.7 826.5,283.8 609.6,278 800.3,402 642.4,353.5 709.6,366.3 607.2,360.8 820.8,417.1 650.4,319.8 626.3,308.7 647.4,301.9 607.2,284.3 653,317 717,385.1 635.2,293.7 696.1,319.9 589.2,194 664.8,345.6 606.2,201.7 655.5,402.7 673.5,363.1 678.1,330.1 629.9,296.4 650.8,295.8 812.2,381.8 587.6,312.1 601.4,190 804.3,418.1 668.9,385.5 704.4,363.1 595.2,293.3 663.2,329.4 682.7,306.7 818.6,351 646.2,366.7 599.3,312.7 641.8,299.1 648.9,326.9 631.1,290.1 583.5,352 588,268.2 739.3,413.5 593,269.5 812.9,182.6 820.5,388.6 825.2,284 688,335.2 644.7,283.8 599.7,203.1 602.2,288.9 650.3,296.3 731.1,412 787.3,175.8 801.8,413.6 825.1,315.6 621.1,408 600.4,310.6 833.1,387.6 811.5,365.9 801.3,397.5 803.5,407 823.2,410.1 806,417.5 614.6,316.1 657.5,297.2 622.9,368.4 611.2,296.3 588.3,273.1 733.5,395.8 710.6,369 595.2,268.5 738.5,397.2 632.1,290.2 621.5,326 679.4,192.4 647.1,334 660.2,183.3 819.1,185.8 714.6,418.2 616.5,362.7 588,358.7 814.7,327.8 810.2,393.9 574.3,194.6 674.7,305.6 690,347.4 630.4,298.5 685.7,338.5 664.7,323.7 676,391.6 818.4,396.1 616.9,183.4 588,265 818.1,348 585.1,302.3 632.3,301.9 640.9,360.7 822.7,181.4 651.7,287.7 829.8,229.3 618.2,200.5 663.4,319.7 582.6,298.2 581.4,195.3 825.4,286.7 815.8,354.3 607.5,385 694.4,407.6 649.7,323.5 827.9,303.2 577.3,289.9 693.5,347.8 675.7,343.7 606.4,179.3 605.8,288 583.3,195.3 668.4,345.8 668.4,178.6 596.3,202.2 692.6,397 674.6,369.4 828.6,209.6 685.2,322.5 826.2,364.5 633.8,403.1 805.1,174.8 642.4,307.9 725.2,179.6 819.4,367.4 603.8,306.8 619.4,196.4 619.8,301.2 807.6,399.1 666.8,341.3 653,302.9 661,319.5 598.3,308.2 795.6,175.6 639.5,181.2 593.7,196.7 817.1,334.7 588.6,184.4 679.5,412.8 654.2,297.8 592.5,322.6 627.1,199 827.9,272.6 809.8,380.3 831.4,256.2 602.8,196.3 578.4,266.8 648.5,285.9 812.2,376.8 681.7,315.3 659.1,402.5 690.6,313.9 827.2,354.8 825.7,275.7 830.7,203.8 575.9,203.3 683.9,190.9 611.5,184.8 628.5,305.7 694.4,179 842.6,237.1 819,333.3 699.4,324.9 601.6,292.1 795.5,174.8 645.6,341.1 829.5,291.3 668.6,324.5 592.7,204.2 693,319.5 831.1,310.6 715.5,410.4 630.8,321.8 622.5,189.3 833.4,269.4 816.8,339.4 602.1,275.3 812.6,342.7 678.9,193.4 624.4,195.8 617.4,365 647.5,292 653.9,196 833,187.9 577.5,272.9 830.6,271.8 617.2,279.9 576,204.9 613,275.7 672.5,338.7 812.1,367.5 618.6,346.7 721,416.9 730.3,378.5 653.4,338.1 699.4,367.6 583.6,196.4 592,196.2 578.8,309.6 639.7,320.4 593,354.9 788.6,171.3 605.1,297.8 721.8,418.3 587.2,203.7 600.1,277.5 819.7,304 738.8,177 587,322 840.3,397.1 592.5,288.5 813.5,377.4 576.7,332.6 598.9,277.8 815.3,354 697.3,337.4 618.4,416.4 614.7,200.1 584.5,283.3 815,355.4 669.8,337 594.5,280.8 608.9,287.2 649.4,385.2 688.3,358 599,290 653.4,341.9 635.7,184.2 594.8,296.7 692.7,338.5 655.9,198.6 707.7,411.5 639.4,195.5 633.8,371.6 679.2,414.2 621.3,286 726.7,404.2 615.3,401.6 829.6,296.9 713.1,396.1 832.9,231.4 812.9,182.2 653.3,354.4 582.3,308.7 596.6,329.1 845.5,265.5 643,312.4 823.3,285 818.5,367.7 722.3,411.9 647.1,319.1 831.7,255.4 708.3,404.9 605.1,295.3 596.4,321.8 639.6,289.3 827.5,186.7 837.6,270 651.1,333.2 577.4,407.5 658.7,295.5 646.1,300 578.3,302.4 660.3,352.8 825.4,278.5 640.1,377.1 732.4,403.6 613.7,202.1 816.4,403.6 614.4,290.1 575.3,293.9 578.9,294.3 644.8,179.9 633.2,181.3 699.3,178.7 803.6,370.4 800.4,385.6 815.3,330.8 590.7,323.4 681.6,404.5 621.6,287.8 593.8,208.4 667.8,389.9 665.8,317.3 629,275.9 633.3,294.7 635.4,284.8 805.4,396.6 665.8,373.6 667.7,331.3 637.2,188.3 700,369.6 813.5,401.1 643.8,307.9 666.4,408 618,339.9 581.6,279.9 830.3,374.4 802.4,177.2 654.9,286 680.7,405.2 630.5,174.7 673.7,328.8 822.6,332.2 676.3,336.9 633.6,346.7 823.3,374.7 628.3,285.6 814.7,397.4 579.9,199.5 583.5,201.1 684.3,384 618.9,305.3 660.1,315.7 605.8,292.7 647.6,332.5 604.8,194.1 708.6,415.9 633.4,402.4 698,352.7 682.6,374.4 722.4,384.6 613.2,196.8 612.8,284.9 727.9,394.5 681.6,323.7 799.4,407.8 637.9,355.7 752,178.8 647.7,189.6 585.4,193.8 698.7,390.4 681.8,325.5 825.8,285 607.9,324.2 801.4,409.5 588.6,196.1 702.6,356.7 651,351.7 580.5,269.1 637,293.7 730.8,389.7 735.1,380.4 825.1,279.6 599.1,396.6 702.5,362.6 659.6,407.4 659.8,189.5 674.7,315.9 640.5,364.3 698,357.6 693.6,381.8 648.9,199.5 820.9,363.6 788.1,180.5 661.8,368.9 833,197.8 588,346.6 650.6,284.6 706,332.9 805.6,356.3 685.9,332.3 633.9,291 589.4,201.9 654.9,390.7 604.3,315.3 654,337.1 608.4,390.6 695.6,340.8 581.4,285.4 673.6,362.3 621.7,324 664.2,183.2 672.7,359.1 621.2,276.2 604.8,282.5 647.2,334.7 668.6,378.7 726.1,395.7 695.1,188 671.7,386.3 717.8,351 810.9,349.5 717.7,372.9 835.6,293.6 640.3,302.6 595.3,337.4 623.7,274 681.5,405.5 806.9,411.6 602.7,268.8 715.6,405.9 723.1,179.6 585.5,196.6 631,389.3 578.6,408.8 620.9,402 829.5,178.8 590.9,176.4 611.7,367.8 820.2,354.7 826.7,267.1 594.7,372.3 615.8,302.6 586.4,191.8 817.8,374.1 595.2,315.4 832.5,283 815.1,184.1 805.4,393.6 605.3,201.6 577.9,194.7 803.3,379.3 658.8,336.2 720.5,417.4 577.5,196.2 649.8,334.6 837.6,251.2 716.5,386.6 832.9,294.1 588.8,276.7 851.2,321.6 658.6,323.8 836.2,249.7 614.8,286.7 575.8,327.4 718.2,371.9 630.9,376.3 597.7,305.9 620.3,189.5 613.8,204 583.1,286.5 720.5,398.7 732.3,396.5 814.9,364.6 661.8,299.6 623.3,278.8 682.3,362.2 610.5,196.7 730.1,401.7 619.8,351.2 652,405 660.5,302.8 820.1,195.4 619.3,323.7 846.4,277.1 632.5,332.9 760.5,172.1 680.2,377.4 843.3,271.8 620,357.4 816.7,362.3 720.2,352.6 812.8,390.5 811.1,383.6 633.9,194.1 623.1,276.9 730.1,412.7 668.3,181.9 700.6,366.4 576.5,207.6 788.3,180 809.1,386.2 654.2,316.6 594.1,284 824.5,290.6 588.3,271.5 632.1,371 836.2,290.2 724,369.2 605.6,293 676.3,347.1 586.6,290.5 617.1,333.2 832.9,207.5 604.3,413.6 575.7,330.4 699.6,416.5 626.8,358.5 718.9,369.6 714.1,176.2 669.8,309.3 617.3,200 710.7,395.9 794.9,165.4 639.3,196.7 713.4,348.3 620.9,368.2 715.4,384.7 645.7,300.8 816.4,370.8 689.6,325.3 580.8,283.3 627.7,276.3 658.3,180.4 696.4,381.7 655.2,292.6 746.3,172.7 835.8,215.3 614.4,186.5 799.5,409.6 829.6,256.2 633.9,378.1 716.2,357.7 724.6,368.5 800.7,408.1 608.2,396.6 631.3,280.1 593.2,184.4 712.1,397.5 642.4,304 637.4,356.1 614.9,314.2 651.7,368.3 829.5,264.6 666.2,312.6 622.4,274.8 622,290.5 806.3,182.8 667.4,355.6 584,296.8 627.5,281.4 630,314.6 810.3,418.3 611.1,319.6 694.7,381.3 648.5,311.2 716.1,399.8 669,294.7 829.7,337.4 607.4,323.2 707.2,348.4 582,197.6 649.6,336.2 716.4,347.7 589.7,276.8 592.9,293.1 684.1,315.5 690.8,380.3 725,361.7 635,198 810.9,183 814.7,327.3 714.1,180 703.7,368 624.5,298.5 686.2,327.4 688.8,394.9 813.1,365.2 842.6,283.2 825.7,329.5 599.7,189.3 818.1,307.9 838.3,232.4 811.2,373.5 705.9,368.1 617.6,287 647,297.7 834.4,260.3 642.6,296.1 660.6,346.7 665,315.6 848,212.8 820.3,346.9 776.4,174.3 632.9,301.2 733.2,397.6 600.5,199.7 713.7,412.9 665.8,312.5 735.1,404.1 829.6,278.9 737.1,397.1 615.5,195 823.7,340.8 811.6,372.7 605.9,277.7 699.6,341.2 804.8,359.9 813.2,332.3 805.1,404 621.7,193.6 806.1,171.4 695.5,403.7 840.7,208.8 838.5,210.1 647.1,192.7 600.9,205.9 819.1,317.7 824.9,200.1 668.7,359.7 581.6,268 597.3,277.4 628.9,292.9 671,375.2 639.3,310.3 653.3,304.2 717.1,369.7 622.6,288 635.9,193.9 580.9,179.5 813,326.1 663.6,290.7 583.2,316 689.1,382.6 812.1,340.3 801.2,387.6 834.5,200 644,290.8 617.6,347.8 682.4,315.9 834.1,217.3 721,406.6 661.6,184.4 648.8,325 624,283.6 820.4,332.3 837.5,283.6 594.7,283.8 712.2,369.3 809.5,351.6 683.1,400.5 625,174 650.1,200.6 666.7,196.3 843.7,242.6 729.7,370.5 835.5,210.4 818.8,345.8 729.2,411.3 817.7,356.5 630.2,331.3 815,188.2 755.4,180.5 612.9,281.7 832.5,390.7 690.7,402.2 614.7,197.4 786.2,179.7 698.5,366.7 653.4,197.8 723.7,184.6 697.1,328.5 619.1,309.5 670.2,188 592.5,208.3 636.1,314.3 606.2,267.2 582.7,204.9 649.1,300.5 711.8,350.7 773.5,174.1 818.9,313.6 649.4,197.7 618.1,362.5 690.8,376.8 815.7,342.1 591.9,208.2 815.4,417.8 819.5,321.1 807.4,376.2 638.8,285.6 608.5,352.8 577.2,269.5 801.7,401.8 816.9,405.1 689.9,316.1 637.7,196.9 834.9,238 693,385 807.7,380.3 677.1,369.4 579,342.1 664.3,305.6 605.6,345.7 820.7,179.4 661.7,311.5 645.8,373.2 695.1,321.9 661.9,292.7 590.7,360.4 724.4,355.3 677.6,394.9 718.4,173.1 704,328.4 646.3,310.7 607.7,294.5 810.1,413.4 619.3,361.8 629.9,203.7 632.4,289.2 631.4,313.4 657.4,199.3 600.8,269.2 723.7,403.8 623.2,288.2 586.4,288 730.4,416.8 606.2,177.8 821.5,329.6 606.4,289.2 626.9,203.6 583.6,196.2 711.4,338.6 702.1,186.5 615,415.2 666.1,362.2 598.7,204.6 677.3,336.9 718.6,401 828.2,210 682,418.2 821.4,175.3 807.7,383.4 618.2,187.7 824.8,320.8 827.2,189.4 598.7,199.4 818.9,179.5 607.6,284.4 717.7,391 716.3,393.2 710.5,371.2 728,363.9 594,276.1 694.1,366.4 716,372.4 689.7,379.6 713.3,360.5 703.7,371.8 577.7,200.2 806.5,408.3 818.9,189.8 619.8,305.4 580.8,280.4 650.7,371.6 733,413.5 639.1,289.7 647.9,309.3 608.8,332.1 826,393.1 623.6,392.9 804.2,379.9 822.9,336.5 832.6,231.1 658.5,319.6 822.3,195.3 728,399.8 611.5,309.8 620.1,308.8 632,301.2 619.9,367.5 830.9,220 836.6,315.5 840.2,257.6 684.4,326.5 697.1,185.5 593.7,365.3 613,290.8 649.4,196.1 647.6,286.5 687.3,170.9 755.5,174.6 695.3,337.9 604.5,297.3 641.7,287.4 642.3,400.7 738,399.6 625,201.7 695.4,415.6 595.2,283.1 624.1,294.8 680.8,337.5 700.2,360.9 811.3,334.2 623.9,328.6 592.1,206.7 601.4,291.1 576.5,266.5 807.1,357.7 719.3,401.5 698.1,368 640.3,292.1 579.1,356.4 820.7,402.6 607.8,297.7 804.8,384.1 595.1,275.1 711.3,395.9 591.9,265.3 574.3,275 607.7,341.3 753.5,173.8 832.8,221.6 682.4,395.4 812.8,414 670.3,306.9 648.2,347 594.2,282.7 659.7,344.8 831.1,341.7 654.1,327.1 605,366.5 576.7,319.3 736.9,404.3 715.2,389.6 733.3,389.9 668.6,412.4 801.1,416.7 746.5,168.7 668.1,408.6 697,321 577.2,405.9 636,304 600.4,193.9 653.2,302.3 618.6,297.1 830.5,258.3 633.7,368.5 717.4,386.5 697.3,336.2 594.6,284.5 711.8,182.3 830.2,276.1 644.7,286.6 697.1,322.2 625,278.4 824.8,318.3 597.1,275.2 640.9,318.6 576.3,281.3 679,379.7 709.3,351.4 843.1,233.1 666.4,189.6 668.7,321.5 826.9,272.4 713.7,366.9 815.8,395.6 605.2,197.7 575.2,349.4 719.6,368 702.3,371.5 818.1,393.9 662.9,294.4 827.9,297.4 839.1,240.2 668.2,382.2 755.9,175.1 596.6,299.9 619.4,296.6 597.2,399.7 631.8,186.6 715.7,403.6 656.6,175.2 836.1,256.3 585.5,333.7 687.8,348.5 669.7,308.6 582.9,296 687,373.1 843.8,284.1 819.4,192.2 700.7,344 786.7,177.8 709.5,390.9 657,345.2 614.3,276.5 763.7,178.8 693.7,334.5 651.7,303.7 639.2,390.3 824,339.2 679.8,335.7 672.7,369.3 787.3,180.4 783.5,177.1 633.7,306.9 807.7,347.8 802.8,374.5 811.9,355.4 653,404.9 723.6,183.2 652.7,317.5 834.1,209.6 800.1,411.1 789.5,176.7 701.9,371.8 811.3,372.2 833.1,219.8 623.7,380.3 665.4,190.6 720,415.5 817.9,307.5 718.2,397.2 716.4,407.4 649.4,334.7 697.5,322.7 601.6,300.3 654.8,303.6 806.5,171.7 577.7,326.8 708.6,397.1 591.1,269 708.1,362.7 687.1,348.5 585.7,368.1 680.8,315 681.9,304.6 699.2,410.8 636.7,294.8 584,201.1 592.5,343.9 634.3,201.6 818.5,382.1 714.4,341.2 662.4,325.6 761.2,176.4 646.3,322.3 665.8,358.3 653.4,189.8 819.7,394.9 632,310.8 738.4,182.9 638,300.7 723.2,377 822.6,406.9 681.3,324.9 607,280.5 655.7,383.3 804.7,365.7 666.6,184.6 614.2,333.2 675.7,339 614.2,193.2 813.4,380.2 830.5,181.7 663.5,192 629,296 694.1,383 650.7,198.6 677.7,380.2 606.4,293.3 825.9,336.7 587.3,294 611.1,289.8 691.2,188.9 601.8,274.7 616.3,338.6 613.7,203.3 657.4,374.1 622.3,204.2 728.8,411.3 631.5,302.8 637.7,403.7 577.1,195.3 699,188.5 817.8,368.1 673.7,314.6 668.2,297 623.7,317.3 625,306 822.9,337.1 681.6,373.1 829.6,214.4 683.3,344.6 603.7,192.5 660.5,341.7 583.6,275.4 613.7,404.6 675.5,390.7 828.2,364 592.6,318.2 688.4,349.1 587.3,272.7 825.3,186.2 717,183.5 814.5,184.5 617.9,275.1 589.7,282.8 621.9,377 686.6,336.8 576,287.4 648,363 689.3,318.5 688.4,358.4 700.4,345.4 678.9,332.4 670.1,369.3 612.9,363.4 620,285 827,203 581.6,301.3 660.4,186.5 674.4,187.1 699,359.5 640.9,379.1 613,269.1 600.8,270.1 805.4,184.3 630.5,376.1 619.8,381.6 831,290.1 811.2,358.4 804.7,374.4 585.3,206 717.5,413.9 838.6,218.6 658.8,330.1 632.6,193.4 604.9,309.2 606.7,305.9 593.8,273.8 574.7,357.6 698.7,409 706.7,354.1 699.2,341.1 580.4,265.5 598.9,202 621.3,291.1 689,192 582.6,319.1 814.6,335.1 628.5,196.7 668,305.8 621.5,382.6 719.7,364.6 697.8,330.6 823,335.4 603.5,185.9 670.6,313.2 710.3,337.5 667.3,196.5 834.5,214.9 654.6,319.4 625,338 687,417.4 821.5,295.8 804.1,184.4 830.3,249 826.9,270 650.2,176.4 584.3,349.2 819.4,179 679.5,383.9 830.3,309.5 719.2,364.3 671,315.3 591.6,337.8 584.7,183 826.6,406.6 706,353.9 653.4,328.4 610.3,196.2 797.6,416.7 847.4,309.8 823,291.1 602.5,289.4 611.3,268.1 607.3,297.9 606.7,268.4 675.1,416.8 621.7,383.5 622.4,284.2 807.6,403 632.2,351.8 660,305.8 629,183.8 653.7,196.2 704.7,384.8 690.2,191.5 816.6,330 595.7,198.3 672.8,346 639.5,277.6 801,384.2 678.5,174.5 620,288.7 597.6,287.2 685.6,350.3 613.7,303.8 732.3,164.2 720.1,372.7 630.4,201.2 607.9,303.1 580.4,306.4 820.1,377.1 714.9,384.7 606,318.8 816,340.1 702.4,341.7 808.7,398.5 617.9,349 622.7,340.1 692.6,393.8 642.2,387.6 671.7,321.4 825.9,203.2 696,353.4 760.1,177 656.5,376.4 618.5,288.1 726,359.8 717.1,372 598.2,323.3 832.1,223.9 648.2,284.1 696.2,362.6 846.7,218.8 653,323.8 825.4,380.9 651.3,300.4 617.5,305.9 702.4,346.1 604.7,402.8 836.1,273.3 707.8,386.8 652.1,178.6 799.5,406.2 585.5,274.5 798.5,401.6 585.8,302.2 821.6,301 723.9,415.3 732.9,386.3 837.5,259.5 602.1,343.9 675.3,341.9 710.5,186.5 653.2,289.3 727.2,375.8 579,275.8 729.6,377.7 703.3,368.2 680.4,306.5 592.1,327.7 660.3,290.7 607.4,323.1 627.4,339.9 845.5,276 823.8,396.3 772.4,176.3 620,203.5 579.7,210.1 816.5,364 708.6,350.5 730.4,417.5 774.4,176.8 722.4,375.8 717.8,360.9 672.2,371.6 669.3,387.8 705.1,351.8 820.8,405.3 589.2,413.8 633.3,328.1 643.2,333.1 601.2,308.9 690.4,358.8 653.4,361.3 810.1,396.3 663.7,379.9 596,310.4 813.7,326.9 824.6,359.5 696,370.1 618.2,325.7 685.2,334.3 757.7,176.4 807.2,362.1 830.6,261.7 611.4,350 680.9,186.6 824.2,316.7 712.5,400 828.4,314 611.7,337.4 684.8,339.5 591,298.6 721.2,400.7 815.2,346.6 812.5,353.9 611.5,373.1 810.3,340.2 822.9,366.9 695.1,346.4 712.3,395.2 667.3,322.1 645.7,193.7 804.9,182.5 613.6,287.3 825.2,290.6 612.1,346.1 682.6,342.7 823.7,311.8 779.5,170.8 576.8,362.8 650.7,303.2 585,380.2 700.6,357.5 614.1,276.5 651.4,286.9 589.3,274.3 828.2,194.2 676.7,330.6 657,395 625.2,286.6 576.6,301.9 707.1,368.3 596.6,305.1 825.2,375.5 690.7,371.8 720,184.3 821.4,335.5 740.1,180.7 575.3,203.2 601,327.1 611.2,190.6 693.7,387.6 812.7,399.1 663.7,310.4 590.1,208.5 693.9,180.2 740.1,413.6 627.9,338.8 672.9,303.6 636.9,291.3 842.8,349.6 661.2,333.7 578.6,279.7 721.2,410.7 708.8,359.5 629.4,311.5 813.4,410.4 807,365.7 595.1,299.3 625.6,200.3 830.7,223.8 699,384.5 816,361.6 607.9,385.3 682.7,190.4 599.5,207.3 618.1,187.9 652.2,413.1 820.2,324 685.4,413.1 628.2,344 706.9,366.4 581.1,289.1 656.4,382.4 689.8,373.3 829.1,355.6 582.9,279.3 685.6,357.5 825.7,308.1 608.7,412.9 614.2,298.2 630.2,339.2 769.7,167.5 589.8,188.9 723.8,181.7 716.5,407.1 667.9,304.2 826.7,390.5 576.8,190.6 717.5,365.9 686.1,398.7 734.9,161.3 649.5,379.8 711.4,368 707.3,361 624.1,387.3 802.1,376.6 630.2,363.3 639.3,349.5 698.2,349.7 822.3,297.6 589.3,206.4 604.9,291.6 676.6,329 605.1,272 810.9,387.8 809.6,347.9 585.8,265.4 637.5,187.3 615.9,203.6 696,397.7 679.7,187.7 733.4,177.8 615.6,304.8 642.5,189.9 642.7,290.2 826,345.1 625.4,309.7 667.1,293.5 825.3,170.2 722.9,373.2 648.5,348.5 647.1,318.7 616.9,317.1 620.1,360.5 682.2,333 831.9,213.6 595.5,197.9 623.1,343.6 753.8,177.5 589.6,353.1 632.6,335.9 813.4,350.6 646.7,284.7 634.9,196.3 663.9,182.4 633.2,293.2 698.8,357.7 673.2,331.7 609.9,180.5 638.2,290.8 826,278.8 690.3,354.2 626.8,295.9 802.7,414.3 672.2,342.2 593.6,313.1 692.2,347 639.1,202.6 837.1,327.8 658.6,185.7 617.7,282.4 808.2,393.5 601.3,389.7 718.7,416.9 685.8,338 710.6,371.9 694.2,171.8 657.2,291.7 714.1,389.4 643.8,384.4 598.7,269.2 682.8,392.6 681.6,321.7 665.3,360.1 813.9,326.6 720.7,403.1 575.7,301.5 589.9,276.3 581.8,287.3 629,285 589.1,314.4 733.2,401.9 664.8,344.9 825.4,359 713.2,412.5 702.8,389.5 847.3,325 692,328.8 656.3,311.9 703.2,409.4 718.6,415.4 686,343.5 587.7,324.7 633.5,189.6 640.3,308.2 602.8,281.9 821.9,293.4 616.6,189.5 831.7,237.7 679.5,194.2 633.2,365.9 592.4,320.9 702,344.5 604.2,280.2 720.8,362.5 642.7,280.8 649.5,366.3 645.1,365.5 812.8,373.5 585.7,299.4 683.3,354.4 673.8,313.4 632.5,291.8 590.2,193.8 641.3,285.2 665,343.3 822.9,396.1 716.1,362.1 711.9,379.5 725.1,183.2 592,265 789.1,167.6 589.9,309.2 629.2,414.7 823.2,394.9 726.1,183.9 627.9,274.8 778.3,175.7 657.2,294.7 645.8,306 578.7,287 619.7,203.4 731.6,400.8 631.3,392.4 829.5,211.4 717.9,378.1 812.3,183.1 830.9,229.5 580.8,191.5 597.3,178 715.3,403.5 843.7,255.9 630.9,342 625.4,287.2 707.4,333.9 739.5,410.8 728.2,175.9 672.9,394.4 603.7,386.2 623.2,350 577.9,409.3 666.2,398.3 625.2,271.9 734.8,394.8 731.4,179.6 711.6,407.7 834.5,269.3 632.3,191.2 676.9,391 646.5,407.4 662.5,364.5 637.9,320.8 655.2,290.4 663.1,326.5 609.5,329.1 800.4,385.4 635.4,284 623.1,298.5 666.5,307.5 580.1,199 727.2,404.4 705.4,401.6 622.4,193.7 731.5,183.4 820.1,386.8 704,339.3 578.6,308.6 624.4,305.7 595.1,369.2 687.6,395.2 643,368.9 736.2,181.4 808,395 669.4,385.2 721.9,368.4 665.7,347.4 588.2,354.9 642.2,282.7 661.5,311.1 673.4,302.9 683.3,187.9 822.1,196.9 635,197.4 645.8,345 596.8,304.8 627.5,282 626.7,297.7 628.1,313.6 716.8,376.2 799.5,399.2 672.3,369.9 828,265 838.3,401.8 690.3,370.1 615.4,203.7 575.4,184.7 722.7,362 807.5,408.3 662.3,337 839.1,349.3 827.1,331.3 633.6,393.3 655.7,361"/>
<polyline class="py1" points="793.7,356.3 766.1,377.6 700.1,191.9 752.8,364.3 642.1,274 738.7,387.9 779,406.7 679.4,284.7 627.8,238.9 577.1,214.6 760.8,397.4 732.4,370.8 590.5,259.7 752.9,364.1 797.1,349.8 637.7,236 728.1,353.8 718.3,320.2 638.8,205.9 740.9,372.1 613.5,208.2 795.1,184.5 630,271.2 758.2,368.2 740.1,327.9 713.7,323.1 819.3,279.7 696.2,290.5 770.2,373.9 590.4,261.8 816.4,290.8 754.4,384.9 789.1,184.9 666,272.3 819.9,291.3 786.2,349 696.1,192.8 772.2,373.4 709.2,326.9 630.5,218.4 746.9,348 671.4,264.8 778.1,411.4 766.7,356.7 581.6,210.3 618.7,259 824.1,223.4 744.4,349.3 751,413.4 791,364.7 821.7,205.8 679.2,281.3 639.2,224.3 600.3,253.2 705.3,313.7 767.6,383.9 746,376.3 685.2,276.5 762.4,361 654.5,268.7 782.4,349.3 758.1,345.5 677.6,277.4 751.3,413.8 625.5,215.7 739.8,386.3 631.9,242.6 772.8,354.3 768.2,377.3 739.2,367.7 738.6,357.1 614.5,250.5 697.1,196.1 796.4,413.1 789.7,357.5 653.5,274.6 787.1,349.7 776.9,409.7 612.3,262.1 812.9,303.8 737.3,333 760.9,395.9 742.1,411.9 606,242.4 686.4,196 653.8,272.4 655.9,211.5 605.1,260.6 824.7,220.4 774,360.1 610.9,245.9 779.4,391.9 664.2,276.7 616.6,242 720.4,317.5 654.4,275.8 797.6,332.8 802.3,326.9 777.7,358.8 612.3,265.1 620.5,210.2 797.2,358.8 583.8,232 799.3,387.9 765,390.7 627.5,270.8 795.2,186.9 807.8,311.3 704.3,298.4 786.2,415.9 641.4,258.9 668.9,291.2 625.7,234.4 824.4,278.2 627.3,237.5 583.4,251.5 730.6,336.8 718.9,316.2 604.3,234.1 629.4,254.9 615.8,223.1 750,345.7 804.3,334.3 696.4,286.1 740,341.9 680,292.1 790.9,404.3 696.9,191.6 618.1,231.6 693.1,314.1 731.2,343.2 641.5,234.2 768.7,362.9 620.9,233.6 736.4,335.2 741.8,333.7 817.8,288.1 709.5,194.2 636.3,229.8 587.9,219.7 586.3,212.7 679.5,277.6 635.7,272.7 813.7,302.1 735.8,343.7 602.2,252.2 671.8,277.3 810.1,311.2 738.7,392.6 660,207.1 760.7,384.6 579.7,251.6 810.3,321 815.6,193.7 783.5,384.9 677.7,286.3 602.4,253.8 606.8,228.1 772.9,379.6 622.6,258.5 708.6,297.9 711.8,195.1 742,184.3 740.6,332.7 639,257.2 577,249.8 581.9,252.2 619.6,207.8 764.9,377.4 811.9,311.1 749.7,346.5 632,235 764.6,404.4 811.3,193.1 797.9,370.8 645,230.8 671.1,207.6 603,228.7 647.4,268.9 595.2,222.4 584.9,258.9 739.3,329 822.7,280.7 652.6,208.8 603,251.9 633.1,257.7 644.2,269.2 756.4,392 643.5,275.2 749.1,408.9 812.4,314.2 600.8,246.2 772.5,397.3 605.2,261.9 681.6,277.3 709,192.2 680.2,281 754.6,183.7 700.5,311.1 707.9,312.4 692.7,300.3 664.1,199.1 736.8,372.4 821.4,197.8 632.6,267.5 612.3,261.5 770.2,357.9 620.8,206.9 688.3,291.5 580.4,230.2 628.1,266.1 646.8,267.3 601.4,254.9 648.9,267.9 691.2,194.8 584.8,211.6 770.6,377.4 675.5,202.8 750.9,417.6 655.3,201.6 715.5,308.2 608.8,245.8 698.6,287.6 676.2,278.5 616.3,236 579.1,235.9 589.2,260.5 780.1,352.6 630.9,210.2 771.9,378 668.8,208 736.5,377.9 806,342.7 663.4,263.3 584.1,220.8 779.9,407 774.9,357 676.3,296.4 601.8,236.7 694.1,294.5 801.7,370.9 746.8,185.4 796.5,384.7 753.4,407.6 741.2,361.7 726.5,332.3 742.8,413.2 750.9,398.2 632.7,267.5 765.4,360.3 816.4,288.9 740.9,393.8 709.7,192.8 635.8,206 650.2,268.8 735,376.7 824,206.8 582.5,237.2 650.6,205.4 761.1,400.9 633,224.3 796.3,340.1 794.9,377.5 784.9,376.7 716.1,332.1 754.9,366.5 809.6,329.2 747.7,415.4 780.8,360 619.3,245 718.1,310.8 586.4,221.8 656,253.8 766.6,401.1 758.1,181 628.8,215.6 618.1,224.4 789.9,351.6 826.4,263.8 700.8,320.7 628.4,256 634.1,262.5 669,286.2 701.1,321 737.2,387.1 772.5,184.2 694.8,192.7 788.9,415.7 812,306.5 667.1,290.7 620.9,255.4 743.1,417.6 721.3,187.6 654,282 651.3,269.7 701.9,306 760.7,399.5 666.3,267.4 679.9,300.4 782.7,364.2 732.4,186.7 699.2,190.7 761.4,355.8 646.9,219.5 649.1,259.2 789.7,383.3 594.2,248.3 686,302.3 774.2,393.7 634.2,204.8 743.2,390 755.6,345.9 711.9,300.6 773.1,396.8 706.6,302 786.6,181.3 734.1,333 803.3,317.8 775.1,180.8 738.3,369.1 625.5,206.4 652.2,213.5 612.4,219.3 824.8,242.8 622,228.8 625.1,232.2 811.3,299.9 747.2,378.1 645.5,246.2 710.1,305.3 626.7,242.4 653.7,272 655.2,259.3 821.3,270 667.3,266.1 661.8,288 769.2,385.9 721.6,332.1 588.9,254.8 732.4,346.1 579,246.7 681.3,202.2 750,388.6 806.5,319.2 706.6,315.1 755.3,378.7 680.1,300.9 772.7,382.2 685.8,193.2 732.4,345.2 739.4,382.5 822.9,269.4 627.3,263.9 593.4,236 578.4,223.6 612.3,261.8 580.5,242.2 773.7,356.2 797,339.5 665.8,273.6 612.9,220.7 804.8,344.9 701.1,320.1 788.6,398.6 579.5,242.6 648.5,243.4 773.8,358 597.8,258 800,383.9 645.3,205.2 751.2,346.5 787.4,365.9 764.6,418.3 586.3,255.7 639.1,203.7 781.1,413.2 799.5,384.6 786.8,397 655.7,270.3 681.3,302.4 642.3,258.2 755.2,368.4 617.9,217.8 589.6,260.9 657.3,208.7 800.1,366.2 671,285.2 774.2,371.6 825.9,270.5 637.2,255.9 626,266.1 649.4,265.8 677.1,199.2 765.1,406 734,353.7 620,268.6 809.8,315.2 615.2,257.8 771.4,408.2 611.2,241.8 608.9,228.8 699.5,309 633.1,244.3 815.4,199.7 799.4,184.4 621.7,217.8 603.3,255.6 618.1,222.7 672.3,264.3 730.6,345.9 759.3,398.7 753.5,400.5 742.9,346.4 822,206.4 606.9,259.2 750.4,404.8 794.8,413.8 580.6,251.5 591.5,248.6 682.3,283.1 812.6,326.8 646.1,277.9 741.4,359.3 664,258.1 637.2,244.8 738.8,327.3 744.3,365.4 795.7,351.9 807.6,322.7 778.5,392.9 741.9,360.1 762.4,373.4 582.4,259.7 611.5,244.1 584,225.6 764.4,415.2 613.4,244.9 706.6,195.5 638.9,236.4 609.8,223.5 668.8,209.8 796,388.4 662.3,269.7 803.6,331.8 822.7,257.4 780.7,360.5 803.6,360.4 757,372.3 789.4,366.9 618.4,260.5 676.1,286.9 705.1,294.1 820.7,272.5 711.5,320.5 827.1,249.1 828.6,226.7 692.5,305.2 674.5,298.2 782.6,372.3 659.9,258.1 688.8,294.8 757.2,346.3 758.1,405 724.2,338.6 689.3,291.5 703.2,299.4 775.4,387 635.3,259.6 665,205.8 604,265.2 792.8,396.5 744.9,357.6 642.8,253.1 768.5,393.3 673.7,292.1 644.5,260.7 597.9,247.4 574.7,219.3 774.7,356 803.4,345.7 778.9,372.9 701.5,302.2 654.5,276.4 781.1,403.6 742,382.9 787.7,400.6 593.3,252.9 702.9,319.7 822.6,270 828.9,231.2 778.2,350.5 596.5,231.8 713.9,189.3 755.7,357 732.9,326.2 755.7,352.5 794.1,356.5 722.8,346.1 716.1,303.8 782.9,410.2 671.7,277.6 627.4,256.7 710.1,326.9 662.2,272.6 587.8,227.5 629.7,229.3 684.2,275.8 707.1,311.4 634,259.6 648.2,257.4 821.2,264.1 770.9,383.8 665.8,274 660.6,277.3 682,295.4 754.9,345.5 727.8,346.3 575.4,214.4 812.8,303.8 776.2,360.8 766,408.6 788.8,374.3 590.4,211.6 788.6,378.3 653.4,214.8 774.5,418.2 827.6,257.3 768.3,366.6 809.9,305.7 742.2,330.8 741.1,403.3 735.5,367.4 700.9,318.5 639.7,203.3 683.5,202.7 825.2,264.2 704.2,297.1 824.5,227.1 616.5,225.7 703,317.7 739.6,390.8 655,206.4 729.6,187.4 798,381.5 752.4,413.9 670.8,207.2 738.8,374 817.9,298 654.5,216.8 727.5,333.7 647.3,270.1 788.8,398.1 690.4,200 585.4,249.7 811.4,299 578.8,217.5 779.4,395.2 590.2,214.9 714.2,323.1 649.5,217.3 655.9,257 597.3,226 706.2,325.9 793.6,336.1 625.8,218.4 741.4,408.1 743.9,357.6 662.6,256 816,313 757.4,357.7 591.9,230.1 744.4,386.6 750.6,342.5 629.4,252.1 742.1,367.9 798.1,390.7 798.5,360.9 669.3,205.3 600.2,217 726.2,188.9 752.4,350.1 576.2,262 737.5,345.1 627.5,212.8 704.2,317.6 643.1,223.2 753,348.7 663.7,284.3 672.7,292.8 795.6,182.2 663,202.4 729.5,319.1 612.8,210.5 628.4,242.8 824,208 650.3,272.2 605.3,208.2 624.1,257.9 619.1,230.6 782.8,404.5 804.3,345.5 822.1,201.6 627.3,252.5 750.5,362.1 656.5,270.5 618.2,239.9 624.8,208.9 600.9,260.5 776.1,374.8 620.9,213.2 605.3,245.5 813.3,304.8 669,263 817.8,297.7 582.2,229.2 771.7,415 765.4,404.1 780.3,182 596.4,253.2 740.2,368.7 600.4,211.7 753.9,381.9 820.4,208.6 646.6,210.4 636,255 627.1,216 647.5,265.5 681.7,274.1 604.5,251.2 575,215.9 778.7,369 609.2,245.7 620.6,245 686.9,293 788.4,384.7 788.4,181.5 750.4,397.6 640.2,253.5 586.4,249.2 739.7,366.6 765.5,351 732.5,355 622.5,257.8 686.4,283.5 635.5,211 651.7,278.2 597.2,215.1 798,363.9 681.3,199.9 667.7,269.8 766.6,357.8 682.5,199.4 749.6,354 748.6,181.8 748.4,398.3 783,351.9 640.7,213.3 769.5,360.5 645.4,268 724.6,189.8 616.7,259.8 613.6,262.6 804,187.6 578.4,261.9 577.8,250.8 710.9,193.2 785.4,366 754.9,394.3 582.3,250.9 596.3,262.5 656.4,201.2 767.9,396.2 730.5,324.9 679.8,197.1 745.4,401.6 797.4,362.8 752.3,414.3 633.5,213.2 636.3,231.2 642.1,237.5 592.7,234 824.9,220 745,415.5 622.3,233.3 701.3,318.7 789.7,386.5 746.2,387.3 758.9,361.5 585,243.9 742.5,413.5 624.4,261.6 654.5,275.3 739.9,185.4 641.5,224.6 616.9,252.9 732.5,343 820,281.7 827.3,251.3 804.9,346 590.1,226.4 784.5,374.1 583.4,250.8 743.7,333.1 601.9,248.2 780.6,396.3 828.2,222.5 680.9,274.8 652,273.1 581.3,246.2 663.5,289.8 802.8,340.3 722.6,190.5 751.9,376.2 823.3,272.1 584.8,259.8 765.3,401.9 618.2,236.2 704.6,298 755.1,352.1 761.8,405.2 727.6,340.1 617.2,217.9 753.7,183.3 759.1,416.9 762.3,361.2 597.1,219.8 816.3,200.5 738.3,347.8 785.6,375 711.1,305.9 678.1,296.8 733.6,337 751.5,344.4 749.9,380.2 652.2,271.8 606.1,261.1 819.3,291.2 577.1,253.9 651.2,271.3 823.7,202.6 779.9,372.8 791,339.5 771,410.7 697.8,301 596.4,252.6 821.1,206.4 619.2,262.5 617.4,255.1 617.3,263.1 651.8,221.6 774,183.7 791.1,183 775.8,408.5 648.9,255.4 653.1,213 790.3,381.4 722,327.6 603.8,261.7 639.6,216.1 695.5,302 651.2,256.9 749,387.9 810.9,299.5 779.1,383.3 705.4,307.5 721.2,188.3 793.2,354.8 600.8,235.8 744.9,182.5 786.2,398.6 599.8,260.8 660.9,200.8 802.2,368.4 771.3,370.7 695.7,306.7 709.7,320.1 605.2,247.1 597.5,224.6 716.8,313 773.3,406.6 774,375.9 683.2,281.3 779,400.7 656,269.7 799.8,386.4 799.2,185.9 745.1,182.8 676.1,269.2 601.8,229.1 690.1,295 799.2,388.6 819.8,196.7 802.5,364.3 598,235.8 637.1,223 742.2,396 588.6,244.2 604.8,258.3 644.6,214.7 797.9,405.9 631,239.1 813.3,314.4 671.5,267.4 593.7,209.9 716.3,337.6 606.6,224.6 763.6,356.6 732.7,367.4 751.3,415.6 632,256.4 825.1,207.3 789.7,183.6 706.9,315.9 761.6,386.2 655.3,267.4 716.3,328.1 759.6,406 803.6,325.8 771.4,386.7 645.8,251.4 688.3,198.8 692.1,304.1 745.9,365.7 779.9,362.6 662.7,282.9 594.7,253.8 804.6,323.3 696.2,297 672.5,292.1 827.6,217.8 786.4,416.1 603.4,240.1 786,381.8 772.5,354 816.4,197.6 825.6,266.2 683.8,290.5 772.4,369.1 809.6,311.8 631.4,248.9 584.4,214.4 584.5,226.9 576.6,247.9 821.3,277.3 732.9,370.6 622.5,222.9 634.7,235.8 719.3,189.7 817.5,301.4 806.7,311.5 752,370.8 774.1,379 767.7,370.9 779.8,405.6 714.3,307.8 732.1,365.6 709.4,311.8 715.8,317 774.6,353.3 778.5,390.7 754.2,362.8 800.1,368.4 651.4,267.7 636,266 785.6,387.7 665.7,284.5 767.1,380.7 751.3,351.1 637.7,262.2 600.9,235.3 753.3,403.8 633.8,273.1 710.1,330.9 648.5,205.5 813.1,324.1 648.3,250.4 767.7,377.8 723.4,330.6 790.5,365.8 585.5,210.6 811,194.3 756.1,349.9 769.5,415 659.5,266.9 680.5,272 804,190.2 781.6,365.4 759.1,361.1 806.2,328.5 588.8,231.9 579.6,262.5 590.2,216.4 661.8,280.4 736.3,366.3 595.6,215.6 678.7,290.7 785.6,185.6 749.3,367.6 659.9,208.7 745.4,392.9 784.9,402.1 805.5,344.4 800.5,332.8 771.2,378.2 731.9,184.6 829.4,232.9 581.7,228.2 575.1,247.3 728.3,323.9 796.8,383.1 637,214.5 775.1,181 621.5,252.5 600.6,261.9 796.9,368.2 775.9,375.7 788.2,368.1 780.7,402.5 689.1,299.6 821.8,284.2 652,255.2 622.7,220.3 733.8,361.1 631.6,213.1 641.7,267.8 614.1,207.5 807.9,192 665.5,205.2 610.4,235.5 761.8,357 741,358.9 683.7,292.4 666.3,261.7 604.4,251.3 618.4,244.6 599.2,238.6 737.8,335.5 793.2,409.1 743.5,342.4 724.8,187.4 761.5,378.6 635.7,274 735.1,188.3 717.8,309.9 585.9,220.2 611.8,221.1 648.9,263.5 636,243.4 744.2,341 643.5,278.5 673.1,274.2 786.4,350.7 790.8,361 708.5,320.3 786,349.4 600.9,258.6 780.8,351.9 804.5,187.8 623.7,265 618.5,234.1 819.5,289.3 774,368.8 665.3,259.4 700.5,295.2 736.1,188.5 633.8,208.9 735.1,378.9 828.7,240.4 749.8,407.3 661.6,270.1 809,336 768.5,353.7 590.7,248.3 807.3,338.7 625.2,267.7 777.3,393.1 717,327.5 648.2,272.6 588.4,257.1 735,377.7 765.8,366 787.5,360.4 728.8,346.4 775.3,351.1 798.1,332 675.7,290.5 746.8,184.8 819,290.6 746.3,343.2 807.3,187.6 606.2,229.5 652.3,274 758.4,393.7 684,277.3 674.1,203 675.9,271.4 734.4,367.8 742.5,407.2 595.9,220.8 756.8,363.7 764.1,381.9 609.4,250 640.6,203.8 825.6,263.4 779,376.3 706.2,193.2 644.1,203.6 623,215.5 732.4,341.8 753.7,413.8 825.2,239.8 638.2,241.6 813.2,295.2 731.2,358 789.9,382 658.9,204.8 612.8,246.8 643,268.4 772.8,407 610.1,220.3 619.3,237.4 765.3,353.3 641.3,246.3 691,307.5 774.9,372.6 827.2,222.2 587.4,240.9 759.5,386.5 650.1,245.5 646.6,275.1 623,215.8 797.1,342 591.1,256.2 703.8,296.4 616.6,229.5 639.4,218.9 814.7,301.7 715.4,332 635.4,235.3 640.8,260.4 829.3,238.7 583.5,212.7 789.3,343.7 581.1,256.5 580.8,224.3 596.7,210.9 596.2,242.4 816.4,293.1 717.7,320.6 662.6,257.7 824.2,207.9 820.7,196.5 739.2,327.6 790,374.3 660.3,256.1 778.9,358.1 709.8,193.7 627.4,210.5 774.5,409.3 729.8,339.2 649.5,248.8 648.9,223.3 777.5,373.7 583.7,255 629.9,258.1 584.8,257.9 728.6,341.1 780.9,386.4 708.2,322.6 642.8,207.1 793.7,374.1 645.2,268.3 826.3,214 720.5,326.9 616.7,253.7 726.4,357.7 733.1,326.6 636.1,275.6 707.4,301 593.9,215.9 810.7,187.7 599.6,226.4 759.8,404.2 607.8,250.6 612.4,209.4 589.6,242.4 750.1,338.1 777.1,356.9 613.8,234.6 647.1,246.9 742.6,388.2 624.3,269.6 823.8,211.7 714.9,335.3 784,365.5 662.2,212.7 809.6,189.1 578.4,227.9 582.2,217.1 779.8,366.1 760.7,402.6 579.7,223.3 631.3,258.2 584,235.4 817.2,303.5 783.4,360.9 732.8,336.8 798.4,360.3 610.6,220.2 770.4,408.5 752.9,382.5 627.8,232.1 662.1,203.1 585.4,228.1 746,358.3 783.3,183.7 644.3,223 764.8,414.6 647.4,239.6 589.5,216.7 654.6,285 794.6,350.3 632.9,214.8 789.3,356.7 630.8,222.6 648.5,216.3 716.3,332 605.3,228.9 715.9,187.6 779.1,184.1 592.5,243.1 801.2,328 586.1,222.2 629.2,256.3 604.7,254.9 718.1,189.4 749.2,400.6 643.2,223.3 784.5,402.1 794.3,342.2 602.1,235.2 737.3,387.2 652.1,250.2 632.8,234.2 724.4,312.2 731.3,368.5 619.1,248 582.8,249.6 742.3,412.3 726.9,188.3 689.7,309.9 741.9,187.7 644.3,273.9 638.2,264.5 701.2,309.7 751.8,340.9 595.8,234.2 809.6,336.5 696.8,196.9 715.5,314.8 771.2,408.8 802.2,345 656.6,205.5 757.5,356.3 822.8,258.2 759.6,391.9 597.6,239.3 754.2,408.2 709.8,316 755.5,361.7 754.4,359.2 580.6,233 710.6,300 767.1,384.4 576.9,219 709.6,331.4 738,325.8 819.6,279.3 652.6,217.9 581.5,247.9 725.6,338.7 793,183.5 605,213.4 673.6,269.9 769.2,366 781,386.4 627.4,237.4 692.5,299.5 647.2,215.6 596.9,234.8 740.5,350.5 598.2,220.9 587.1,237.8 720.5,319.4 633.7,248.2 637.3,217.7 683.9,281.8 645.7,215.4 659.3,284.6 586.3,229.3 752.3,183.4 793.6,392 727.5,344.5 644.8,244.5 783.9,396 820.2,269.4 705.8,295.5 795.4,411.6 666.4,260 811.8,306.8 820.2,208.6 635.4,274.1 739.4,341.9 784.9,395.4 599.6,215.4 772.2,373.1 651.9,247.4 623.2,261.8 589.2,245.5 625.2,208.5 797.8,393.4 583.6,249.5 820.8,272.4 736.8,184 674.2,288.8 663.9,258.7 659.6,281.4 762.6,359.6 685.1,300.1 583.9,221.1 725.9,334.3 732.7,326.7 683.3,280 684.6,276.4 756.7,349.4 646.3,262.9 661.7,263.8 683.8,201.3 798.2,355.9 664.1,265.1 783.9,349 621.4,233.1 602,249.7 822.5,211.7 623.9,227 766.1,374.1 702.6,323.3 623.4,252.4 712.7,191.3 656.4,260.7 640.6,245 740.4,184.3 829.5,232.8 738.2,348.2 734.5,322 752.5,409.1 712.4,319.2 814.2,198.6 597.2,255.6 708,188.5 574.5,220.6 793.8,183.2 752.1,416.2 668.9,279.5 798.3,346.6 751.9,339.9 647.9,211.1 782.8,408.6 658,205.8 778.8,416.1 584.4,261.3 755.9,354.4 679.3,198.2 789.4,354.9 640.3,249 759,378.1 800.3,332.6 583.1,219.8 753.6,416 734.6,349.4 617.3,213.1 717.7,324.4 760.9,355.2 636,216 738.4,383.5 704.1,315.5 603.8,252.9 717.3,310.8 711.6,317.7 640.5,269.3 642.9,238.9 648,209.6 751.9,353.6 757.5,391 602.6,257.2 639.6,218.3 644.5,233.7 825.6,263 789.6,383.5 605.9,228.8 593,211.4 604.8,231.3 719.3,193.2 724.1,338.3 724.1,335.3 608.7,248.9 657,264.4 603,240.1 735.4,332.5 814.5,318.6 642.4,278.5 782.3,376 601.2,240.2 805.3,332.3 813.6,297.2 700.5,292.7 747.1,347 769,369.3 799.2,367.1 732.8,361 802.3,328.8 743.3,353.3 804.5,322.1 683.1,198.9 597.7,242.1 778.2,369.5 813.6,191.2 825.1,255.5 702.2,295.6 742.7,381.5 641.7,277.9 616.8,218.9 787.4,390 759,383 621.1,252 620.7,225.1 717.8,338.1 706.3,314.3 805.9,314.8 621.5,266.5 773.9,363 781.1,400.1 588.4,260.2 723.8,353.3 609.9,263.4 587,254 736.5,381 824.5,273.1 576.8,234.2 648.2,255.7 635,206.1 619.5,256.1 794.2,182.9 644.4,277.9 721.6,344.9 758.2,354.6 827.1,225.5 809,192.8 792.8,340.3 606.1,234.5 713.7,321.3 748.8,397.9 580.9,233.6 633.4,242.7 643.9,246.5 723.9,331.8 591.9,255.2 746.1,341.9 614.2,262.5 579,218.5 718.7,309.4 766.4,364 578.1,244.5 660.5,270.4 605.3,256.4 681.7,302.8 626.1,242.4 760.4,407.6 602.2,226.1 662.7,261.3 771.3,369.1 622.1,220.3 793,414.7 750.7,343.8 640.5,227.9 761.3,364.8 811.2,307 661,202.1 647.6,227 652.1,282.1 684.3,201.6 652.2,266 759.6,185.8 589.2,247.8 788.6,396.5 746.8,185.8 775,416.1 778.9,392 774,398.9 588.1,237.2 760.7,404.3 707.6,308.7 633.1,245.7 709.4,192 674.9,202.5 614.5,267.8 729.7,360.5 594.9,225.9 757.2,364.1 755.2,357.8 654.4,206.5 628.4,263.8 824.8,210.7 589.9,250.3 788.9,385.1 760.3,371.2"/>
<polyline class="py2" points="707.1,271 720.2,299.3 779,344 715,300.8 774.6,343.7 700.6,212.3 707,294.6 673.5,236.7 689.6,230.7 692.4,280.5 789.7,334.3 701.9,286 725.2,290.2 818.6,221.7 743.8,312.1 757.6,192.9 815.6,213.3 691.9,264.1 701.9,203.3 768.1,338.9 661.2,240.9 772.2,310.9 748.5,304.8 745.3,323.1 768.8,349.3 816.1,242.6 757,313.2 791.1,323.7 753.8,323.3 723.5,295.6 819.1,208.3 717.7,286.3 773.4,322.9 691.4,279.9 798.1,321.8 779.4,345.4 790,321.7 731.3,193.7 710.6,280.7 766.6,189 701.2,286.5 817.7,244 702.8,282.2 748.9,193.6 818.1,233.8 718.6,295.7 657.8,246 675.2,260.5 688.2,262.2 740.3,296.4 749.5,317.9 748,313.8 820.5,253.4 688.4,269.4 806.3,309.4 789.4,340.5 667.2,251.7 649.6,235.2 808.8,200.4 789.4,336.3 704.4,274.1 748.2,316.7 805.2,282.5 708.9,267.8 700.8,278.6 757.2,318.1 754.3,314.3 779.4,315.3 706.4,204.4 693.1,278 751.7,317.3 814.9,272 777.1,329.8 718.6,291.3 733.5,308.9 771.1,186.9 687.2,254.9 714.4,287.6 726.4,282.9 766.6,313.2 711.9,269.4 715.9,295.6 769.2,348.2 807.4,301.5 715.4,301.4 680.9,267.7 753.5,307.2 723,293.8 722.6,202.2 803.7,304.5 660.2,224.1 776.8,342.4 791.6,306.3 704.1,206 797.3,320.2 695.5,248 769,325.9 741.1,193 718.2,274.7 650.4,230.8 772.8,336.6 700.3,288.7 813.4,212.3 693,274 821.3,226 810,292.5 748,333.5 686.6,230.3 771.1,189.2 735.7,312.3 770.4,342.4 770.7,342.2 647.9,227.7 774,185.7 719.3,194 767.8,338.5 696.2,275.7 708.8,271.2 663.2,251.4 713.4,198.5 818.9,249.6 776.3,333.9 802,303 671.2,216.3 655.9,233 697.7,202.4 808,290.1 689.4,204.9 659.5,244 725.4,288.3 661.8,250.7 775.4,311 772.3,341.3 678.5,264.5 708.3,285.9 729.1,313.7 800.1,198 692.4,210.2 700,208.5 792.6,321.7 741.3,324.6 684.9,263.7 772.1,310.9 782.6,335.1 653,225.2 783.8,326.5 677.4,250.2 794.8,303.8 651.7,231.8 653.7,241.7 651.8,225.5 789.3,322.9 743.5,308.5 689.9,220.6 664.1,243.1 760.8,192.9 680.6,218.6 797.2,328.4 705.1,290.9 668.9,213.1 807,279.5 753.4,312.2 684.3,246 783.6,322.2 675.9,263 803.6,314.8 765,335.8 819.4,253.6 771,337.6 816,258 702.6,267.3 806.6,293.3 785.6,310.2 818.5,213.7 776.7,328.9 774.2,317.5 704.6,281.2 722.2,192.6 668.9,238.6 811.3,290.5 679.8,212.2 794.2,327.8 822.3,227.8 822,248.3 733.6,288.2 685.5,239.2 799.5,314.4 763.8,190.3 722.8,199.1 651.3,228 810,283 700.3,288 679.7,226.9 757.4,318.6 745.1,330.4 774.6,326.9 789.2,324.3 698.5,269.1 753.3,191.8 726.4,282.3 809.4,199 691,248.9 726.5,304.9 728.4,296.2 718,281.5 758,192.7 758.1,339.1 664,247.1 771.3,332.7 795.5,297.4 810.8,271.2 807.5,200.4 704.5,277 774.4,343.2 672.8,263.8 666.9,232.4 685.2,275.1 735.7,197.6 733.7,305.2 787.2,323.3 679.7,255.5 667.2,233.7 699.9,208.3 711.6,275.3 718.6,288.7 708,268.5 781,314.4 757.2,310.5 735.5,192.1 751.9,317.6 763.9,343.5 809.8,297 817.5,260.7 790.6,187.2 703.7,282.7 669.1,239.1 712,296.5 816.7,268.3 767.4,328.4 744.3,309.6 740.4,299 797.8,317.3 654.4,237.1 802.4,307.3 761.5,334.2 823.5,234.8 772.6,332 727.6,306.2 786.7,320.7 737.5,193.7 819.5,216.4 817,214.7 675,257.2 673.5,243.3 778.7,326.1 723.2,290.7 743.7,192.6 692.6,258.7 816.5,268.2 740.1,310.7 785.7,309 678.2,242.7 725.9,306.5 813,289.7 816.3,267.6 669.8,219.8 665.7,241.4 706.3,293.9 822.3,221.5 801.2,292.3 777.8,310.5 707.1,201.8 760.6,325.7 770.7,190.7 738.8,306.8 679.7,259.9 685.7,235.4 700.8,278.9 806.1,301.1 737.9,309.7 661.1,225.1 812.4,263.2 801.5,197.6 668.4,239.7 662.5,234.9 694.1,270.7 756.2,308 793.4,332.9 754.6,318.6 801.8,292.4 683.2,226.7 681.5,252.4 742,325.9 810,272.8 818.7,265.5 689.9,237.7 647.6,228.9 738.7,318.9 700.2,263.5 785.3,333.3 686.4,256.3 750,312.3 816.8,235.1 810.1,274.1 744.1,195.9 787.2,312 793.4,194.8 797.7,327.2 671.9,251.2 768.9,337 786,318.5 678,227.8 781.9,310.6 777.9,322.6 718.5,289.5 785.2,335.2 732.8,198.1 807,193.7 753.5,338.9 758.9,338.4 734.9,313.3 727,301.7 799.2,319.2 693.9,203.2 755.3,192.4 703,289.6 747.6,334.6 801.2,321.4 809.1,299.3 655.4,223.3 782.1,323.1 695.2,284.3 822.9,224.4 709.6,281.3 798.9,305.7 678.8,220.7 787.6,321.3 811.1,196 724.3,286 817.2,257.2 708.2,282 680.6,213.6 757,188 679,261.2 651.1,241.9 812.9,269.5 738.8,193.9 728.5,305.4 670.9,237.5 782.4,190.3 818.8,221.3 717.5,292.1 668.5,252.9 669.6,236.1 737.6,304.7 823.5,231.8 763.4,191.9 805.1,302.8 770,343.5 766.1,192.3 765.1,191 801,317.5 792.5,327.8 775,325.3 808.9,200.9 700.7,279.4 776.3,346.8 651.7,242.1 732.2,288.6 809.4,284.9 775.2,329.8 679,229.9 735.6,193.3 682.6,212.4 820.3,236.9 658.5,228.3 738.3,196 661.3,236.6 705.4,264.2 813.5,284.4 773,340.6 724.4,299.5 753.5,316.4 754.7,338.4 820.2,233.1 701.9,274.5 695.2,280.8 756.9,336.6 772.2,325.7 736.5,309.4 675.2,260.3 713,202.2 720.2,303.6 779.6,189.5 790.9,333.4 814.8,207.5 665.9,243.8 773,188.4 783.9,321.9 809.9,196 697.6,267.9 819.4,208.4 804.1,293.5 664.3,228.9 680.3,216.8 750.4,329.4 677.2,210.4 809.5,274.3 728.3,195.7 757.9,312.5 795.7,321.1 747,331.6 689.4,261.3 789.6,193.2 664.5,247.5 749.8,333 755.7,189.1 694,214.9 664,214.5 718,295 737.5,303.1 682.6,214 679.2,206.4 713,291.7 813.1,201.9 724.7,192.3 763.5,310.7 786.2,315.4 663.4,225.2 686,259.5 759.1,340.9 765.2,324.5 709.1,269.7 739.2,192.3 682.2,256.6 672.8,209 668.7,256.3 806.7,198.9 666.3,226.2 803.6,303.3 802.8,302.4 734.9,292.2 658.4,248.3 723,287.6 668.9,244 741.7,328 794,313.9 666.5,229.6 727.3,297.2 699.6,253.2 781,192.5 801.3,295.9 711.4,282.4 801.8,297.5 700.9,259.5 735.4,321.4 650.8,226.1 811.8,277.8 728.6,286.3 735.1,191.9 741,298.4 692.4,267.5 679.4,241.5 740.4,296 783.6,189.4 715.6,203.1 653.1,222.7 698.1,266.9 724.8,193.8 786.2,332.1 724.4,286.2 716.1,274.6 683.6,216.2 806.7,307.5 661.8,216.9 754.7,329.1 816.3,204 725.4,308.3 759.9,190.7 746.7,188.6 673.7,246.3 726.1,297.9 660.4,244.8 808.8,272.8 707,292.7 682.1,250.6 720.3,300.8 779.9,347.9 678.6,249.8 733.4,299.5 689.3,243 709,203.1 748.2,304.3 713.8,201.9 697,282.5 672.9,255.3 706.3,205.1 662.3,219.4 669.4,228.9 764.4,331.6 769.9,340.7 687,256.7 707.2,295.3 700.2,202 665.5,220.2 680.6,207.6 705.8,205.7 696.2,217.9 703.6,205.4 672,226.1 790.7,315.2 784.9,331.9 721.4,299 711.3,291.6 747.2,190.1 747.2,188.9 815.4,283.2 677.6,230.1 701.5,286.9 705.4,262 701,258.1 698.9,275.2 685.9,259.8 814.6,216.4 666.1,223 815.4,206 703.9,284 724.8,298.5 743,303.9 789,325.6 688.9,209.3 727.1,310.4 740.4,316.5 692.4,273.3 758.8,191.3 821,242.6 710.2,292.7 710.1,277.8 775.1,191.1 822.7,249.1 819.4,262.9 805,309.2 814.4,275.9 689.4,258.8 818.9,219.8 808.4,280.3 690.6,231 763.3,336.9 720.1,293.8 693.8,247.7 782.1,308.1 716.5,202.1 661.3,245.9 754.1,338.3 724,291.7 778.7,324.9 676.5,219.2 719.2,199.6 685.5,214.9 797,320.9 704.8,272 814.9,205.5 799.8,306 817.8,220 706.5,199.6 671.9,245.4 659.6,222.6 778.1,344.6 658,242.1 785.6,312.9 817.9,256.5 732.6,313.2 677.1,223.2 663.1,241.4 703.7,267.9 809.8,277.2 735.5,197.5 784,188.1 804.7,310.6 674.1,236.2 793.8,304.6 711.2,282 788.7,306.6 807.2,290.8 709.1,204.4 723.5,198.5 810.4,288.1 810.1,269.6 699.8,263.1 800.6,314.2 741.2,295.8 772.6,317.8 773.8,341.2 742.1,310.1 682.3,259.7 654.9,239.8 801.1,293.5 674,246.2 738.4,301.1 679.9,263.4 776.3,322.7 806.2,296.5 821.3,255.4 663.7,256.2 712.2,284 671.3,232.6 716.6,303.2 787.1,309.2 764.3,318.6 692.3,207.4 805.5,301.6 755.6,338 753.2,193.8 702.6,262.3 763.3,339.5 808.1,202 673,225.9 679.8,257.4 675.7,219.7 694.5,267.3 693.2,242.6 700.3,275 807,294.9 822.8,230.6 699.5,270.4 804.6,304.8 656.4,236.1 681.9,250.6 687.4,255.4 659.1,235.4 697.5,203.9 701.3,210.1 678.5,233.9 792.4,306.6 687.2,230.2 814.5,265.5 702,268.2 790.2,314.3 736.2,314.3 728,200 718.7,196.9 723.2,280.8 789.9,332.4 673.8,246 655.9,223.7 800.8,194.8 671.5,224.9 739.3,322.4 745.1,299.6 691.1,203.7 819.9,249.3 653,236.7 676.7,242.2 804.9,291.3 717.3,278.4 664.6,223 744.4,196 667.8,241.6 702.1,287.9 673.3,230 678.6,254.6 738.1,303.6 753.3,189.6 811.3,287.4 667.7,240.7 706.9,263.4 672.7,228.4 665.6,246 703.4,209.5 719.1,287.8 695.5,256.6 815,282.7 779.1,321.6 784.7,338.8 814.9,203.6 699.3,269.4 799.3,307.1 702.3,281.2 717.9,280.8 762.2,334.1 805.1,292.3 746.4,308.2 658.9,248.8 704,266.2 693.4,259.6 673,236.8 819.3,207.2 754.5,191.1 805.6,201.6 692.5,206.4 812.6,284.9 791.5,333.2 773.4,324.9 674.3,253 804.4,297.4 657.2,221.7 806,198.1 697.6,275.8 794.8,310.9 682.3,240.5 687.9,243.4 693.9,203.7 754.5,309.8 780.1,312.2 760,332.5 705.3,208 692,215.5 690.1,278.6 739.3,189.6 691.1,255 767.8,345.4 733.7,193.2 745.8,192.7 768,343.2 749.5,329 755.2,316.1 767.3,321.8 656.2,236 757,322.7 777.5,186.9 816.8,255.7 718.6,282.7 661.1,227.8 672.9,241 750.9,192.2 748.3,320.5 663.9,235 678.5,241.4 672.5,210.1 773,342.8 810.5,197.5 713.5,284.6 730.2,311.6 804.4,299.1 765.5,322.3 819.9,253.5 734.4,309.6 681.2,262.3 773.3,320.3 683.4,235 761.7,316.8 703.2,204.9 701.1,199.7 760.9,317.2 677.2,250 666.3,245.7 794.7,315.2 817,207.3 719.5,199 741.9,327.7 730.3,286.8 743,194.8 686.7,208.3 774.9,334.9 672.2,263.7 672.5,221.6 814.2,278.4 717.7,293.5 759.3,190.7 744.7,321 667.6,229 729.7,290 769.4,336.7 678.8,211.9 749,193 783.6,332.2 720,289.5 734,306.4 780.2,315.7 690.4,273.2 750,335.2 775.4,316.9 682.2,251.8 650,228.7 803.2,198.3 759.7,190.9 746.6,192.5 680.2,209.5 682.8,245.6 694.8,275.3 746.9,328.4 757,308.5"/>
<polyline class="py3" points="780.6,277.4 729.5,249.5 746,287.1 792.3,296 779.2,294.2 722.6,211.3 776.3,196.3 719.6,219.7 739.6,206.2 806.2,253.5 750.4,298.4 792.3,275.4 807.4,228.8 799.6,268.7 773.4,308.2 711.9,221.5 790.3,283.7 735.5,209.7 763.5,281.3 705,256.7 716.8,251.7 750.2,205.8 732,274.8 792.6,206.3 803.2,277.4 791.2,283.8 807.5,240.5 747.4,285.1 782.2,285.7 806.6,243.3 725.3,258.8 805.5,248 726.1,219.1 700.6,224.1 770.8,198.3 721.3,216 740.4,278.6 799.6,203.4 703.7,249.2 765.5,287.2 782.6,281.9 711,246.2 735.9,212.1 704.5,214.4 759.6,285.5 712.1,263 761.1,285.9 748.6,203.1 798.2,273.6 737.2,265.5 812.6,251.4 744.7,272 695.7,242.4 726,215.1 806.4,256.4 713.5,213.5 744.1,290.1 780.6,283.1 788,276.2 806.2,219.2 754.2,284.6 717.6,244.7 748.3,277.2 702.1,254.7 774.8,292.1 806.5,213.2 725.2,218.6 708.6,245 706.4,253.5 749.1,206.7 701.8,241.2 726.5,261.2 769.8,291.6 758.3,197.5 731.5,271 719.9,273.2 794,274.4 756.6,288.4 718.2,214.1 798,271.2 803.2,255 776.3,298.3 707.2,227.5 766.3,203.2 779.6,277.3 802.3,202.8 740.6,209.7 785,276.5 796.1,207.3 745,264.7 807.1,214.7 760,279.9 709.2,251.4 805.3,272.7 768.8,200.3 801.8,269.5 801.9,209.5 739.5,287.1 812,246.9 786,201.8 785.3,197.4 722.9,236.4 724.8,261 716.1,231 727.5,265 766.1,290.9 713.4,257.1 744.8,269.7 792.3,282.6 797.2,280.6 730.1,247.9 736.9,267.8 717.6,214.7 796.6,205.7 708.1,233.7 706.3,230.9 761.9,292.3 786.6,288.6 727,206.5 713.3,245 786.7,288.4 790.8,203.5 798.3,205.9 765.3,304.6 804.6,250.2 809.8,241.9 729.9,280.2 780.9,202.2 811.1,244.4 750,293.7 693.3,232.7 698.3,218.6 736.5,207.9 730.9,271.5 706,217.9 729.8,248.9 726.7,271.3 704.7,240.3 745.2,288.8 808.3,243.7 720.3,248.8 777,287.3 772.4,194.9 811.2,232.6 732.8,204 715.2,216.1 702.2,221.6 774,279.5 696.8,219.2 799,208 728.6,259.3 719.4,262.2 718.3,219.7 810.2,230 780.7,303.3 705.8,226.9 781.8,281.5 783.5,299.3 721.8,250.2 700.5,244 699.5,224.2 742.9,263.5 766.1,277 789,301.2 712.7,238.7 790.9,284.2 788.1,295.4 750.5,276.6 701.8,244.9 781.7,293.4 814.1,237 807,261.6 705.2,212.8 749.8,271.5 741.7,273.7 712,245.6 752.2,203.8 750.7,294.8 700.3,218.9 769.8,201.3 703.7,248.5 769,304.1 725.4,225.1 708.3,243.2 735.3,286.3 724.5,238.1 754.3,273.9 760.1,194.3 712.2,256.9 771,296.8 737.7,205.8 800.1,208.4 760.4,202.7 703.5,218.4 770.2,291.9 726.7,274.5 738.2,280.1 750,296.1 713.9,253.2 717.5,263.8 805.9,274.2 761.4,282.8 798.6,281.3 735.5,264.1 721.6,260.7 796,288.8 814.1,227.9 775.4,284.1 696.3,235.2 795,268.6 793.7,279.9 714.3,269.9 726.9,221.6 744.3,203.3 807,275.9 748.4,272.1 773.3,280.4 758.3,304.6 807.8,207.7 747.2,205.2 742.1,200.1 720.7,234.4 723.9,230.8 786.5,278.6 795.7,272.9 719.5,226.3 758.6,282.9 800.2,262.2 723.1,239.4 739.5,282.6 806.6,268.3 713.1,237.4 804.6,214.8 713.2,235.2 713.3,225.4 796.4,204.6 724.2,238.8 742,210 770.1,290.1 793.1,299.9 806,279 789.7,276.8 696.7,226 796.8,206.8 786.8,298 724.2,238 753.5,198 789.4,296.5 713.3,254.1 801.1,279.5 744,288.4 719.3,230.2 783.4,195.9 722.3,217.6 812.3,211.5 782.5,279.4 701.7,226.3 797.2,197.2 703,251.9 707.2,211.3 733,213.5 707.4,243 793.3,279.8 754.3,200.2 812.1,222 792.1,205.5 763.3,197.3 693.2,235.7 754.4,201.1 807.6,225.9 695.3,228.2 737.1,271.1 807.8,223.7 803.3,262.5 718.7,250.2 810.1,230.3 741,275.2 757.4,194.6 736.6,281 722.2,203.7 718.1,231.6 729.4,268.6 699.5,230.7 709,227.4 759.3,281 711.8,241.2 761.6,278 730.3,264.6 711.5,218.5 756.9,298 781.3,197.5 729,214.8 789.5,275.4 724.7,274.5 740.9,292.2 723.5,216.8 757.2,303.6 751.4,297.7 715.8,222.4 774.9,298.6 744.1,288.6 696.9,224.7 765.7,197 770.5,299.3 723.9,257.7 774.8,302.3 759.2,298.4 738.6,204.4 722.7,208.3 799.1,287.6 783.3,300.3 712,247.5 806.3,245 801.6,209.8 740,277 733.9,283.9 811.5,230.2 707.2,258.2 806.6,245.2 815.7,231.7 715.6,252 790.5,285.8 778.5,200 804.1,213.4 781.8,297.5 783.9,194.2 739.7,275.3 693.5,235.7 792.6,292.5 716.6,206.5 741.6,204 708.1,259.9 749,206.3 715.1,245.4 729.7,277.8 770.8,293.1 723.5,211.5 761.6,304.2 722.5,245.9 711.5,216 770.9,287.3 699.4,229.4 725.4,211.9 756.8,278.6 723.4,230.8 728.1,280 758.4,279.2 711.4,232.8 743.5,283.2 776.1,290.4 810.2,221.1 810.7,256.5 698.5,238.3 695.2,241.4 735.2,280.2 708.1,249.3 737.7,199 815,221 763.8,193.4 766.3,192.9 753.8,273.7 806.3,220.8 771.7,305.3 693.1,233.7 732.3,261.8 785.6,292.2 753.8,284.8 716.3,269.6 799.8,211.5 736.4,285 797.5,267.6 806.8,254.5 717.9,265.8 768.4,297.3 728.7,215.2 769.3,290.7 729,246.9 790.2,289.4 706.6,232.7 705.5,246.3 794.7,199 754.4,197 742.7,197.1 703.2,218.7 733.8,263.9 766.3,199.2 763.7,201.3 732.1,269.3 732,211.3 715.7,262.5 731.9,273.3 760.7,280.5 786.1,203.3 722.5,216.7 728.8,218.2 734.4,262.9 725.2,249.5 698.1,229.2 777.3,305.9 765.4,279 807.9,247.3 796.6,284.3 706.9,244.5 776.8,199.9 723.8,272 733.5,256.7 782.2,193.7 762.7,287.1 719.2,242.4 812.4,238.8 725.6,247.5 773.9,201.6 740.1,200.9 714.4,235.3 716.9,261.6 800.8,213.1 722.6,261.3 726.8,269.5 783.8,291 803.3,267.9 804.6,255.9 805.7,209 769.7,286.1 798.4,205.4 783.8,302.4 720.2,205.5 775.4,304.7 807.9,217.3 706.5,222.6 773,201.4 716.3,233.6 765.2,289.2 705.5,220.1 718.7,242.8 750.2,294.8 709.8,232.1 775.5,285 768.9,277.6 778.3,196.3 802.1,286.6 713.9,219.4 698,241.1 715.4,267.1 730.5,216.4 709.5,231.1 794.8,270.9 745.5,288 698.7,232.5 704.9,216.4 806.4,256.9 793.4,292.3 704.9,247.2 734.4,202.2 809.3,207.9 755.1,302.8 716.2,245.9 747.3,201.9 703.7,235.3 755.6,281.6 711.7,253.4 735.9,283.9 696.3,233.8 704.4,228.4 792.4,198.9 721.6,214.7 744.1,278.3 814.6,233.6 747.8,281.4 775.3,293.5 728.8,208 811.6,247.2 770.8,283.1 771.7,281.2 784.7,198.6 794,203.1 795.7,205.7 811.5,253 782.2,284.8 809.6,220.6 693.5,238.3 777,304.3 748.2,285 721.5,236.2 704.5,219.5 767.7,280.8 795.7,268.6 801.5,261.8 806.5,222.8 745.3,272.4 773,278.7 737.4,200.3 795.3,273.7 693.8,227.6 805.7,276.2 787.7,197.5 746.5,266.8 710,216.3 741.2,262.6 789.6,273.9 734.6,211.8 706.5,250.3 799.1,201.8 712.1,233.8 710.5,233.3 724.9,274.5 763.4,282.8 710.3,254.8 774.2,301.5 745.5,287 743.6,268.1 732.6,211.1 793.8,202.4 712.2,216.5 811.2,259 796.4,202 795.8,271.8 801.8,279.5 722.5,244.9 697.5,248.8 742.6,274.6 760.9,289.9 722.1,238.8 725.7,220.9 806.2,207.6 730.2,279"/>
<polyline class="py4" points="744.4,210 791,260 735.4,220.9 773.5,232.5 759.7,209.1 799.3,222.5 777.6,256.1 785.1,249.1 750.3,253.2 779.9,263.4 747.3,254.9 766.2,264.7 771.1,262.9 779.1,211.5 781,206.1 729.1,236.1 756.2,248.7 751,261.1 776.1,270.2 736.1,247.2 774.7,247.5 792.6,224.3 729.4,241.8 800.6,221.1 804,235.4 782.6,261 740.3,223.2 756.9,219 792,213.9 783.6,262.5 780,239.7 779.3,209.2 770,271.3 761,270.6 777.8,238.9 734.6,234.5 776.2,207.8 783.7,205.5 778.4,232.1 745.6,211 740,237.5 760.1,227.2 793.6,260.4 787.7,227.3 766.8,268.4 745.3,218.7 748.5,261 771,254.2 755.3,223.3 769.6,270.5 797.7,249.4 735.6,218.9 763.4,211 784.5,205.5 781.6,228.1 798.7,245.4 744.9,227.7 764.7,248.6 794,240.6 762.9,271.5 744.3,250.1 775.4,276.7 748.3,231.3 801.2,221.9 801.8,225.9 747.2,223.8 741.3,216.4 756.8,215.8 761.3,229.3 776,231.6 779.9,204.7 801.8,227.1 793.5,226.1 778.6,228.4 771,233.6 796.8,220.5 804,242.3 771.3,275.9 767.7,263.8 797.7,252.6 774.3,244.1 784,262.4 777.9,226.3 780.1,241.4 801,227.5 762.5,268.9 776.9,261.6 778.8,264.3 801.1,237.4 734.9,222.5 771.4,213.1 748.7,249.1 776.4,217.5 737.7,225.6 798.6,239.6 783.4,262.3 804.1,223.5 789.5,239.5 765.3,266.8 788.6,207.9 802.4,220 738.8,217.5 776.7,251.4 759.3,224.7 748.4,236.6 740.9,248.9 755,215.1 765.8,265.6 744.4,223.8 741.8,221.8 786.4,230.2 758.1,263 801.8,219 790.4,236.9 752,248.3 739.1,250.1 752.9,261.4 803.6,242.6 772.8,241.3 778.3,220.1 788.5,232.2 756.9,219.2 748.8,260.4 786.7,210.1 755.7,253 743.4,251.2 730,245.1 751.6,239.2 796.4,247.5 791,253.6 780.7,244.4 743.7,241.2 762.1,272.4 797.7,224.9 748.8,247.6 769.3,239.4 777.4,225.6 802.5,224 727.3,231.8 733,236.4 738,228.7 760.6,215.4 780.4,249.2 801.8,225 769,245.7 757.3,245.6 749.5,256.7 760.9,205.1 732.1,243.2 763.7,221.7 748.6,247.8 804.2,232.8 793.7,225.7 737.1,222 789,235.1 766.9,249.2 734.2,246.9 762.8,260.8 769,252.7 732.1,224.1 764.1,229.7 794.6,237.7 728.7,230.9 735.1,217.3 775.9,273 801.1,218.3 751.2,245 755.9,259.8 769.8,236.4 776.6,219.9 780,209.6 773,244.4 763.4,220.7 796.4,215.7 777.1,217.8 791.8,244.8 794.5,262 763.9,224.3 776.8,255.4 752.8,248.2 767.5,268 786.3,208.4 787.5,210.8 747,221.3 767.5,252 790.7,238.8 755.3,213.4 787.3,260.2 762.1,233.2 774,221.7 732.4,220 726.3,234.8 801.7,250.3 791.9,251 748.6,251.5 789.6,235.3 762.4,239.4 738.8,225.4 751.5,219.1 758.4,264.6 797,215 734.5,216 781.4,207.4 728.9,236.2 743.6,232.8 774.8,221.4 763.6,254.5 736.6,241.8 774,206.4 776.9,267.1 763.3,273.4 736.4,255.2 773.4,204.6 779.7,213.6 741.7,225.5 776.5,254.4 770.3,242.7 757.1,262.3 773.8,228.3 768.2,205.6 729.3,220.7 774,262.4 759.6,218.7 782.2,228.8 746.1,249.9 762.2,253.9 754,212.7 770.3,248.2 788.2,223.4 787.8,224.8 758.4,217 795.2,261.6 758.1,245 759.9,208.9 747.8,217.9 754.8,228.3 777.1,247.5 756,258.7 725.4,235.3 745.7,250.2 764.7,234.8 770.1,233.5 770.5,256.8 755.9,218.5 777.7,273.2 778.8,223.2 770.3,229 746.7,254 735,249.9 749.4,259.2 764.4,222.9 741.6,223.4 754.6,216.5 773.5,248.6 750.6,253.9 803.5,237.5 788.6,271.6 788.3,223.7 780,240.5 780.2,227.4 744.7,222.3 772.3,226.1 738.1,252.3 759.5,214.3 794.6,214.6 783.6,225.9 733.9,238.3 752,257.9 748.9,238.1 733.1,235.4 753.3,235.2 770.6,267.9 794.4,215.1 759.2,236.9 775.7,222.5 756.4,229.8 789.9,244.1 758.1,215.5 783.9,241.6 788.1,252 772.9,275.1 783.3,260.3 776.9,232.1 768.9,237.8 775.3,254.3 754,228 752.4,225.7 759.7,227.7 741.8,249.1 756.7,236.7 793,259.5 737.4,246 749,231.3 771.5,236.7 775.4,245.2 738.5,220.3 752,240.9 770.7,237 790.9,212.5 750,243.4 776.2,251.6 800.8,218.7 755.6,269.1 776.2,207.4 770.2,213.8 797.3,231.9 727.8,224.2 734.4,239.2 759.1,241.4 783.9,230.9 785.8,216.6 768,230.7 742.2,226.8 765.9,206.4 772.8,226 729.9,222.8 749.8,233.4 769.7,275.9 773.9,245.6 793.8,259.8 733.8,226.4 791.8,214.2 747.9,245.4 755.5,271 762.3,208.9 738.7,224.6 764.4,274.3 789.9,253.8 789.1,243.7 771.4,267 775,206.5 773,274.5 754.4,236.2 760.7,234.6 750,228.3 774.5,235.3 769.8,234 800.3,247.3 775.4,259 803.4,245 742,256.9 778.2,217.8 735.7,224.3 764.7,219.5 770.9,272 742.5,230.6 767.3,225.1 749,210.7 765.5,268 732.1,223.1 768.1,217.6 775.5,253.6 774.9,251.1 733.5,235.9 771.3,259.9 788.3,212.9 779.4,258.2 800.6,240.9 788.4,206.4 785.8,273.8 748.9,208.3 772.4,235.6 749.8,217.8 738.4,219.1 769.4,205.9 794.8,209.3 784.9,266.4 757.5,246.4 776.7,246.8 753.3,251.4 745.3,249.2 776,253 731.9,220.1 737.5,248.9 739.8,249.2 779.6,227.7 791.5,261.5 774.4,241.2 759.5,243.2 768.2,225.9 755.4,267.7 759.5,260.6 759.6,262.7 779.9,235.7 776,242.8 753.5,248.2 749.9,243.8 764.5,222.8 778,258.8 762.7,219.6 775,244.3 739.3,238.5 785.9,252.5 752.9,249.5 727.9,232 760.3,217.3 794.7,224.8 743.3,216.7 781.4,245.6 758.6,249.5 778,258.7 733.6,237.7 768.6,255.2 764.4,218.5 768.2,216.8 784.2,246.3 763.1,240.3 790.5,261.1 782.3,246.7 762.9,203.9 766.5,255.1 728.8,226.7 745.5,212.3 784.2,268.1 730.2,219.3 798.9,220.8 797.6,256.8 793.1,245.4 789.8,219.1 768.8,226.8 767.5,238.1"/>
<g fill="rgb(62,112,190)" fill-rule="evenodd" filter="url(#bl1)"><path d="M763.8 423.2L755.8 424.3L731.8 424.5L711.8 424.1L702.2 422.9L700.7 408.9L698.5 396.9L695.8 386.9L691.8 376.5L685.8 364.9L679.8 355.9L671.8 346L662.9 336.9L653.7 328.9L642.6 320.9L631.8 314.5L619.8 309L597.8 302.6L569.8 299.1L568.5 288.9L568.1 264.9L568.4 246.9L569.8 241.1L595.8 239.7L617.8 237.3L699.8 222.3L727.8 219.3L743.8 219L757.8 220.2L769.8 224.2L776.7 228.9L782.9 236.9L786.6 246.9L788.1 258.9L788.2 268.9L786.5 288.9L784.2 302.9L768.3 378.9L765.8 399.1L764.4 422.9Z" fill-opacity="0.030"/><path d="M759.8 423.3L733.8 424.2L708.3 422.9L706.7 408.9L704.3 396.9L700.8 384.9L696.6 374.9L691.2 364.9L683.8 353.9L675.8 344.1L665.8 333.9L655.4 324.9L644.4 316.9L633.8 310.5L621.8 304.7L609.8 300.3L597.8 297.2L584.2 294.9L569.8 293.4L568.8 282.9L568.5 264.9L568.7 250.9L569.8 243.8L593.8 242.3L615.8 239.7L693.8 224.3L727.8 220.1L743.8 219.7L757.8 221.2L767.8 224.3L775.8 229.3L781.8 236.9L785.6 246.9L787.2 258.9L786.8 276.9L784.9 292.9L781.2 312.9L766.4 376.9L763.2 398.9L761.5 422.9Z" fill-opacity="0.031"/><path d="M755.8 423.1L737.8 423.8L715.8 422.9L713.7 406.9L709.6 390.9L704 376.9L697.5 364.9L687.8 351.1L677.2 338.9L663.8 326L649.8 314.9L630.5 302.9L611.8 294.7L591.8 289.3L569.8 286.4L568.9 264.9L569.8 247.6L591.8 245.9L611.8 243.1L689.8 226.2L723.8 221.3L741.8 220.6L755.8 221.8L767.8 225.4L775.8 230.8L781.7 238.9L785.1 248.9L786.4 262.9L785.4 280.9L782.8 298.9L779 316.9L762.7 380.9L759.4 400.9L757.5 422.9Z" fill-opacity="0.043"/><path d="M751.8 422.9L723.6 422.9L720.9 406.9L716.9 392.9L711 378.9L704.3 366.9L694.5 352.9L683.8 340.2L670.4 326.9L656.3 314.9L635.8 300.7L615.8 290.5L593.8 283.2L569.8 279.1L569.8 252.2L587.8 250.3L605.8 247.4L683.8 228.4L705.8 224.3L721.8 222.3L739.8 221.3L753.8 222.3L765.8 225.5L774.5 230.9L780.7 238.9L784.6 250.9L785.6 264.9L784.6 280.9L781.4 300.9L777.3 318.9L758.1 386.9L754.6 404.9L752.5 422.9Z" fill-opacity="0.044"/><path d="M741.8 413.5L739.8 414.8L737.8 414.2L735.8 412L718.5 378.9L703.7 356.9L690.1 340.9L673.8 324.5L655.8 309.1L637.8 296.1L615.8 283.5L583 268.9L579.7 266.9L578 264.9L578.6 262.9L581.6 260.9L591.8 256.9L651.8 238.2L681.8 230.2L705.8 225.4L729.8 222.6L747.8 222.5L755.8 223.6L763.8 225.7L769.8 228.7L773.8 231.6L777.8 236.2L780.5 240.9L783.9 252.9L784.6 268.9L782.1 290.9L777 314.9L769.8 339.2L747.8 401.1Z" fill-opacity="0.058"/><path d="M741.8 387.6L737.8 387.9L731.8 384.1L699 344.9L685.6 330.9L669.8 316L647.8 298L610.3 270.9L607.3 266.9L606.7 264.9L606.9 262.9L609.8 258.9L615.8 254.9L623.9 250.9L653.8 239.6L681.8 231.4L709.8 225.7L731.8 223.3L749.8 223.5L763.8 226.7L769.8 229.8L773.8 233L777.1 236.9L780.3 242.9L782.2 248.9L783.4 256.9L783.3 274.9L780 296.9L772.7 324.9L761.8 354.9L755.8 368.3L749.8 379.4L745.8 384.7Z" fill-opacity="0.062"/><path d="M741.8 373.4L735.8 373.1L727.8 368.1L679.8 319.9L627.8 274.9L623.3 268.9L622.1 264.9L622.9 260.9L626 256.9L631.1 252.9L638.2 248.9L662.4 238.9L687.8 231.3L713.8 226.1L735.8 224L751.8 224.8L763.8 227.9L769.4 230.9L773.8 234.6L777.1 238.9L779.9 244.9L782.6 258.9L782.1 276.9L778.4 298.9L770.3 326.9L759.8 351.9L753.8 362.4L749.8 367.8L745.8 371.5Z" fill-opacity="0.079"/><path d="M743.8 363.4L739.8 364.2L735.8 363.7L729.8 361L723.8 356.6L642.3 280.9L635.4 272.9L632.6 266.9L632.9 260.9L637.3 254.9L649.3 246.9L667.9 238.9L691.8 231.6L715.8 226.8L735.8 224.9L751.8 225.7L763.8 229L772.6 234.9L775.8 238.9L778.8 244.9L781.5 256.9L781.3 274.9L777.8 296.2L770.7 320.9L761.8 341.9L755.8 352.2L751.8 357.4L747.8 361.1Z" fill-opacity="0.086"/><path d="M743.8 355.1L739.8 355.8L733.8 354.8L727.8 351.9L719.8 346.3L701.8 330.4L653.6 284.9L645.2 274.9L641.6 266.9L641.4 262.9L642.7 258.9L647.6 252.9L660 244.9L679.4 236.9L700.7 230.9L719.8 227.4L737.8 225.9L751.8 226.8L763.8 230.2L771.8 235.8L775.6 240.9L777.8 245.5L780.5 258.9L780.2 274.9L776.8 294.9L769.8 318.1L761.8 335.9L753.8 347.8L749.8 351.7Z" fill-opacity="0.109"/><path d="M739.8 348.9L733.8 348L727.8 345.4L713.8 335.6L679.8 304.9L658.2 282.9L651.1 272.9L648.8 264.9L649.3 260.9L651.1 256.9L656.7 250.9L669.9 242.9L684.8 236.9L705.8 231L723.8 227.9L739.8 226.9L753.8 228.2L763.8 231.5L771.8 237.7L775.3 242.9L777.7 248.9L779.6 262.9L778.2 280.9L773.8 301L765.8 322.7L757.8 336.7L749.8 345.2L745.8 347.5Z" fill-opacity="0.123"/><path d="M745.8 341.5L739.8 342.7L733.8 341.9L727.8 339.5L719.8 334.7L695.8 314.8L669.3 288.9L659.8 276.9L656.7 270.9L655.6 266.9L655.4 262.9L656.5 258.9L658.9 254.9L662.7 250.9L675.3 242.9L690 236.9L707.8 231.9L725.5 228.9L739.8 228L751.8 228.9L761.8 231.9L769.8 237.4L773.8 242.7L775.8 246.9L778.1 256.9L778 272.9L775.5 288.9L769.8 308.2L761.8 325.4L753.8 336Z" fill-opacity="0.140"/><path d="M741.8 336.9L735.8 336.7L729.8 334.9L715.8 326.6L692.5 306.9L671.4 284.9L664.5 274.9L662.1 268.9L661.5 264.9L661.9 260.9L663.5 256.9L666.4 252.9L670.8 248.9L680.7 242.9L695.4 236.9L711.8 232.4L729.8 229.6L743.8 229.3L755 230.9L763.8 234.4L769.8 239.4L772.3 242.9L775.1 248.9L776.5 254.9L777.2 262.9L775.8 280.4L771.9 296.9L765.8 312.8L757.8 326.2L749.8 333.8Z" fill-opacity="0.163"/><path d="M743.8 330.9L737.8 331.4L731.8 330.1L725.8 327.6L717.8 322.8L697.8 306.6L678.6 286.9L670.4 274.9L668.1 268.9L667.5 264.9L667.9 260.9L669.4 256.9L672.2 252.9L676.5 248.9L686.2 242.9L701.1 236.9L716.5 232.9L729.8 230.9L743.8 230.5L753.8 232L761.8 234.9L769.1 240.9L773.8 249.5L775.8 260.9L775.2 274.9L771.8 291.4L765.8 307.7L759.8 318.3L751.8 327Z" fill-opacity="0.194"/><path d="M743.8 325.2L737.8 325.6L733.5 324.9L727.8 322.9L719.8 318.5L701.8 304.6L684.6 286.9L676.5 274.9L674.2 268.9L673.7 264.9L674.1 260.9L675.5 256.9L678.3 252.9L682.5 248.9L692.1 242.9L701.5 238.9L715.1 234.9L731.8 232.2L743.8 232L753.8 233.5L761.9 236.9L767.8 242L771.8 248.9L774.2 260.9L773.8 273.2L770 290.9L763.8 306.1L757.8 315.5L751.8 321.4Z" fill-opacity="0.241"/><path d="M745.8 319.1L739.8 320.2L733.8 319.5L721.8 314.4L705.8 302.6L690.3 286.9L682.3 274.9L680.1 268.9L679.6 264.9L679.9 260.9L681.4 256.9L684.1 252.9L688.2 248.9L698 242.9L707.8 238.9L723.5 234.9L733.8 233.6L743.8 233.6L752.5 234.9L761.7 238.9L766.2 242.9L769.9 248.9L772.4 258.9L772.3 270.9L769.8 284.7L765.8 296.3L759.8 307.4L753.8 314.3Z" fill-opacity="0.273"/><path d="M747.8 313L743.8 314.3L737.8 314.7L731.8 313.6L725.8 311.2L711.8 302L697.9 288.9L689.1 276.9L685.5 266.9L686.3 258.9L688.3 254.9L691.7 250.9L700.1 244.9L708.9 240.9L722.7 236.9L731.8 235.5L741.8 235.1L751.8 236.5L758 238.9L763.8 243.1L767.8 248.9L770.2 256.9L770.8 266.9L769.6 276.9L765.8 290.1L761.8 298.6L755.8 307Z" fill-opacity="0.313"/><path d="M743.8 308.9L739.8 309.3L733.8 308.6L727.8 306.6L721.8 303.4L708.1 292.9L697.8 281.2L692.3 270.9L691.3 262.9L692.2 258.9L694.2 254.9L700.1 248.9L706.5 244.9L716.1 240.9L725.8 238.4L737.8 237L745.8 237.4L752.7 238.9L759.8 242.5L763.8 246.5L767.7 254.9L768.7 262.9L767.8 274.9L765.8 282.9L761.8 292.5L755.8 301.3L749.8 306.4Z" fill-opacity="0.364"/><path d="M743.8 303L739.8 303.5L733.8 302.8L727.8 300.7L721.8 297.4L709.8 287.5L701.4 276.9L698 268.9L697.8 260.9L699.3 256.9L702.2 252.9L709.8 246.9L718.7 242.9L725.6 240.9L741.8 239.3L749.8 240.5L755.7 242.9L759.8 246L763.5 250.9L765.8 257.5L766.4 264.9L765.8 272L763.5 280.9L759.8 289.3L755.8 295.2L749.8 300.5Z" fill-opacity="0.429"/><path d="M745.8 293.6L737.8 294.7L729.8 292.6L720.4 286.9L711.8 277.8L707.8 270.2L706.9 262.9L708.9 256.9L714.4 250.9L721.4 246.9L727.1 244.9L739.8 243.1L750.1 244.9L754 246.9L758.2 250.9L760.5 254.9L762 260.9L762 268.9L760.6 274.9L757.8 282L753.8 287.8L749.8 291.5Z" fill-opacity="0.625"/></g>
<polyline class="pb0" points="624.9,317.3 628.1,234.1 607.8,384.2 680.5,370.2 605.1,296.4 677.4,225.8 681.1,373.7 767.2,381.3 688.7,220.8 783.4,309.1 683,383.6 632.9,318.9 597.2,386 621.9,328.4 613.4,330.1 698.4,383.3 795.1,245.2 577.3,327.4 592.3,321.6 587.6,219.5 775.3,366.5 625.6,390.9 696,375.9 747,213.8 791.5,320.2 591.1,233.6 643.9,320.5 628.7,313 653.4,353.4 654.5,390.3 611.5,337.4 641,386.6 704,412.6 694.7,412 600.3,303.5 631.9,338.3 767.3,379.8 670.3,348.4 645,390.4 668.1,333.6 644.3,377.6 657,355.2 615.3,230.3 781.4,329.8 788.3,272.4 633.5,317.3 631.2,316.8 674.1,378.4 574.6,232.6 663.1,342 608,298.9 648.5,338.5 775.8,365.4 606.1,320.8 645.1,352.9 787.5,250.6 687.6,380.3 620.3,305.7 668.8,367.9 594.3,331.6 782.7,380.8 615.8,411.6 654.2,418 585.4,347.1 788,248.1 685.3,225 587.9,343.8 786.8,303.9 594.2,349.7 655.3,335.4 748.2,216.6 575.3,239.9 678.4,357.7 675.2,408.3 628.2,324.5 771.3,374.5 680.8,409.4 603.3,320.3 782.4,229.4 666.4,363.6 655.8,351.6 585.6,239.5 775.5,224.4 574.4,242.1 773.3,388.6 775.1,366.5 780.3,234.1 586.9,299.7 780.6,228.7 696.7,380.5 661.1,340.2 589.6,353.1 666.9,336.2 627.9,316.6 666.8,340.5 781.6,229.4 667,396.4 583.6,353.5 647.9,326.4 585.6,300.1 587.8,416.9 609,240.1 621.8,232.9 793.1,410.5 583.7,315.6 669.2,357.7 685,398.2 677.2,359.2 596.8,225.9 785.8,235.8 655.6,232 789.2,244.7 676.4,372.4 766.8,400.5 689.5,411.8 619.7,314.6 628.2,315 592.9,343.5 595,328.9 627.1,345.7 618.9,321.3 574.4,234.4 784.8,401.8 632.7,216.7 788.7,282.1 611.5,314.1 578.8,299.7 601.7,296.3 689.5,408 694.6,415.5 576.6,296.2 584.8,336.9 606.9,230.3 767.6,411.5 652,374.5 648.4,339.5 786.8,300.8 627.1,349.2 653.2,365.6 774.5,227.2 594.5,406 681.6,363.9 787.1,263.6 711.7,221.5 702,386.3 769.5,410.7 590,329 619.3,305.4 640.6,344.2 583.3,240.8 622,309.9 619.8,238.7 780.5,316.4 660.6,363.8 592.3,218.9 591.7,366.3 777.7,382.8 643.1,409.8 673.1,372.5 657.7,346.2 688,400.3 698.3,379.9 579.2,394 649.4,228.5 685.5,379.1 657.7,373.3 769.1,413.2 672.8,354.4 778.9,335 662.6,396.5 645.4,339.7 654.5,376.3 595,344.2 666.3,391 604.9,346.4 784.8,312 716.5,219.2 692.5,404.8 646.4,320.4 779.5,401.6 599.5,334.8 639.5,346.4 659.8,329.3 773.4,369.6 602.1,304.9 688.4,213 658.1,372.2 767,391.3 638.7,339 784.6,323.8 689,365.4 791.1,278.2 792,244.9 639.4,333.2 683.4,365 677.2,351.7 625.8,348.8 594.7,240 770.3,366 789.6,271.9 788,309.3 644.6,234.2 789.8,273.2 663.2,404.7 678,346 631.8,232.5 656.6,336.6 701.9,384.3 703.7,383.7 641.8,369.2 592.6,310.3 790.9,267.9 657.6,353.3 738.3,218.3 636.5,312.3 621.5,323 577.7,237.6 766.8,407.9 608.9,340.2 679,417.5 711.3,415.5 789.9,340.4 764.4,385.9 772.1,410.4 608.9,386.1 692,372.4 792.8,331.1 702.7,392.5 639.8,319.4 604.7,394.7 587,295.9 766.9,373.9 604.8,319.8 670.5,398.8 662.3,352.6 699.9,396.9 578.6,394.4 665.3,376.1 706.6,403.1 632,367.2 612.6,221.3 645.6,232.2 687.2,362.6 667.2,343.6 699.4,400.8 575.3,233.7 678.8,417 797.9,275.6 786.2,250.8 693.3,381 683.8,417.8 709.2,415.7 770.2,393.3 773.2,369.5 614.3,313.3 659.6,328.4 679.3,402.6 778.9,325.9 771.9,364.6 575.2,310.6 611.5,360.1 788.1,304.3 782.7,235.7 619,234.2 640.2,401 786.2,244.5 608.5,361.2 620.7,237.5 669,355.5 582.6,306.5 624.4,407.7 634.1,334.8 680.9,348.4 602.1,237.7 577.6,229.9 623.1,303.7 773.4,400.2 682.2,373.2 672.1,388.9 690.8,381.6 666.9,387.6 580.4,237.6 670.9,413.9 691,372.9 760.5,218.8 761.4,414 692.9,215.2 598.6,343.6 579.8,310.1 681.2,363.2 767.2,369.7 771.9,400.8 683.6,360 590.4,225 695.3,403.2 671.5,228.8 619.1,234.6 626.4,321.6 768.8,374.6 583.3,307.9 649.1,227.7 783.4,349.4 740,216.2 670,388.9 620.9,318.3 783.1,327.4 653,337.5 611.5,399.4 676.1,392.1 690.4,366.8 589.8,297 789.7,272.4 688.6,380.1 780.3,226.5 587.4,242 769.5,387.1 658.3,377.8 643.3,364.5 766.2,405.7 623.8,313.2 736,209.7 695,418 710.5,415.2 598,331.8 672.2,226.7 618.1,316.3 611.5,304.4 686,355.8 640.7,312.5 671.8,359.7 694.9,376.8 637.1,387.5 596.1,323.1 797.3,332.1 688.6,381 641.6,376.2 675.7,408.9 763.5,399.2 583,317 659.3,340.3 620.3,398.5 649.1,336 771.1,406.1 706.8,405.2 590.6,308 599.6,300.3 619.7,314.8 664.2,377.9 619.4,365.1 768.1,401.1 770,375 659.8,379.4 590.8,295.1 634.5,329.2 776.1,395.6 658.7,227.3 603.2,298.6 576.1,398.8 781.1,375.5 651.8,343.9 599.7,402.8 770.2,372.4 669.6,336.1 678.6,352.8 670.4,343 585,227.8 602.6,217.2 579.8,240.8 605.9,358.8 611.8,305.3 585.4,319.5 584.3,298 655.5,340.9 634.2,382.7 674.6,383.6 665.9,342.7 666.1,387.2 791.5,307.6 788.2,283.1 609.7,303.2 773.4,343.3 785.7,383.4 700.7,217.5 655.9,417.9 622.9,307.6 669,344.6 581,405.8 687.8,367 622.7,236.9 631.9,330.8 618.1,300.8 621.2,321.5 587.4,303.2 631.9,317.5 613.8,312.6 694.4,365.9 776.5,394.7 674.5,356.9 640.8,313.1 617.2,240.8 596,343.1 773.6,414.5 648.9,354.2 768,408.8 655,226.9 609.2,374.6 776,400.4 691.3,416.2 649.3,390.1 614,397.3 646.8,326.3 662.1,343.5 606.4,342.7 635.9,347.8 655.4,330.6 697.4,215.8 629.4,329.1 665.4,393.3 677,409.5 791.6,268.9 627.3,313.6 673.3,352.5 783.3,303.4 622.5,325.9 696,400.4 696,417.1 635.5,226 636.5,234.4 641.1,317.5 793.5,270.8 671.4,388.7 705.4,396.5 664.4,388 690,390 685.2,376 679.1,396.8 619,346.9 650.9,335 788.2,281.8 584.8,291.9 669.2,387.7 610.5,299.8 788.2,284.9 699.1,404.9 634.1,224.5 775.4,411.1 595.2,231.7 784.6,304 701.8,411.7 622.5,237.7 622.3,303.3 607.6,336 698.3,381.7 772.3,222.5 591.9,316.7 706.7,395.5 606,355.6 695.5,416.7 644.3,314.6 625.3,315.8 775.4,375.1 642.5,374.6 634.2,311.9 585.6,293.9 636.3,395.3 595.6,310.6 636,308.7 584.1,335.2 786.4,282.5 637.5,416.1 646.5,342.6 632.1,336.7 723.2,217.3 576.8,381.1 599.4,233.9 585.4,236 628.6,230.1 648.5,364.8 686.7,385.2 692.5,373.1 681.8,411.7 670.4,355.7 605.3,309.9 700.6,396.8 671.9,347.6 770.5,405.7 779,328.8 687.6,369.8 771.8,398.7 583.4,418.1 584.7,353.2 666.5,354.4 767.1,219.6 599.9,391.3 576.1,327.6 583.7,406.5 775.4,391.5 578.9,305.4 578.3,355.2 789,251.8 625.7,357.5 628.1,337.6 789.8,264.6 685.7,365.8 693,380.2 780.8,339.4 642.7,319.2 650.7,360.1 698.6,378.1 770.6,376.9 655.2,231.2 780.6,391.6 674.4,370.3 610.7,329.9 611.3,323.4 654.4,223.5 625.8,312.8 785.4,298.5 657.2,231.4 670.5,400.3 626.4,219.8 597.9,349.1 677.6,415.6 780.7,317.8 773.2,363.4 767.9,389.2 636.9,224.3 777.3,373.9 786.8,324.2 667.3,221.6 576.9,340 675.2,228.1 612.3,312.2 660.2,226.8 638.3,325.3 622.1,413.1 772.4,366.7 767.1,367 783.9,379.4 645,316.8 803.5,273.8 609.9,389.7 578,328.8 580.2,232.4 681.8,367.7 777.1,406.6 667.1,331.9 610.3,416.9 644.2,397.3 618,237.8 764.1,215 639.1,402.5 644.4,333.6 777.7,417.1 596.8,315 644.1,342.9 589.1,313.4 774.5,390.4 610.3,379.1 594.1,308.7 698.6,394.1 796.9,288.7 680.9,224.7 610.2,333.5 645.6,387.5 637.7,399.9 763.9,389.7 696.8,374.2 582.6,297.4 661.8,387.4 644.7,365.2 600,355.2 610.7,307.1 633.1,359.6 681.9,357.3 654.7,325.5 677.7,360.8 582.8,372.1 695.5,376.8 610.8,333.5 676,367.2 677.3,370.3 657.5,399.7 790.4,255.6 750.3,218 611.2,309.1 625.8,338.9 667.7,346.8 646.9,343.4 595.5,313.2 621.4,416.7 678.6,352.7 663.7,368.1 618.3,336.1 764,215.3 627.9,311 596.6,310.5 595.3,233.3 602.2,387 644.6,345.9 633.7,218 610.5,231.6 649.7,318 628.5,375.7 625.8,323.2 786.7,345.5 716.5,220.2 630,343 656.5,416 697.2,381.2 671.6,386.9 675.8,357 606.6,377.5 648.9,229.2 701.3,378.9 689.7,408.4 764.8,381.2 623.4,381.7 783.5,355.8 613,232.9 596,315.2 611.5,240.4 687.5,411 629.2,338.4 617.6,303.7 730.1,209.1 604.1,417.1 784.5,231.7 783.6,312.3 766.8,375.1 587.7,378 601.2,407 637.7,397.7 669.3,366.3 663.3,328.6 661.2,339.3 786.7,242.4 584,374.1 650.7,412.4 784.2,307.2 784.3,328.4 611.4,302.2 600.8,366.9 771.3,412 774.5,346.7 657.1,410.9 673.7,381.4 618,412.3 680.1,226.2 600.9,295.2 647.2,348.2 763,221.7 603.4,219.7 634.9,319.6 777.9,413.4 577,296.6 680.3,401.6 672.8,379.7 784.5,293 590.2,393.7 768.4,405.9 645.6,344 735.6,210.1 695,410.1 632.8,355.5 691.6,364.7 773.5,219.6 609.6,233.6 642.5,320.6 579.3,296.5 608.8,233 595.7,347.8 652.6,326.5 627.7,411.4 785.7,241.7 598.2,351.7 675.8,348.5 627.4,305 625.9,415.3 662.7,386.3 773.1,400 736.6,219.2 652.5,355.7 585.5,303.5 594.6,374 680.4,396.7 773.1,371.4 612.9,238.1 686.4,222.6 586.8,324.7 626.7,369.5 613,327.7 658.2,352.8 790.8,289 672.3,380.7 770.8,221.2 694.5,416.5 590.8,359.2 763.1,395.2 707.2,418.2 670.6,227 705.7,213 615.3,328.6 584.1,305.4 649.1,331.3 603.9,310.2 658,362.9 779.6,356.2 781.8,324 642.3,315.1 700.3,407.2 664.2,415.5 633.4,324.4 668.3,229.6 586.5,303.9 584,395.4 673.1,367.6 761.9,403.7 605.6,234.9 785.7,345.3 575.2,334 696.6,375.7 697.3,382.7 616.7,410.5 590.8,336.7 586.8,339.6 651.2,329.9 619.1,313.3 616,380.4 679.6,417.6 634.3,385.9 600.5,363.4 645.7,336.3 662.9,347.4 668.1,375.9 678.6,382.3 593.9,380.7 680.3,366.4 653.2,403.2 790.8,292.5 592.4,358.2 784.9,294.7 599.9,333.4 655.6,222.2 667.4,402.5 574.4,298.7 579,294.5 616.9,302.9 669.2,369.1 706.7,413.4 660.9,392.9 707.1,407.5 584.3,230.6 699.8,374.6 703,389.4 613.2,325.6 640.4,317.6 586.2,341.4 593.9,317.6 670.6,351.4 788.1,266.6 593.5,319.5 621.5,234.6 704.2,418.2 677.1,383.7 591.3,294.9 632.2,381.2 576.6,244.8 607.2,221.4 767,415.4 613.2,339 579.5,208.1 642.3,387.8 788.4,290.8 583.9,301 769.3,221.7 778.1,384.2 630,326.4 632.7,316.9 621.6,314.4 686.3,398.4 700.4,396.5 667,345.1 593.2,234.2 587.6,330.3 766.9,412.3 623.3,312.8 787,301.3 703.7,393.2 771.5,356.3 599.3,310.5 656.1,387.1 648.5,318.5 697.8,374.6 743.3,218.6 790.1,279.1 675.7,354.6 788,227.2 639.5,356 613,343.1 577,344.1 646.3,413 643.1,340.4 764.1,383.5 691.2,370.2 671.3,375.5 610.2,237.9 782.1,417.7 581.7,314.9 664.1,371.1 660.7,335.2 650.5,319.7 580.3,230.6 755,216.3 668.9,410.8 611.9,234.9 701.3,408 603.7,307.6 609,332.1 644.5,356.7 578.7,305.4 647.4,344.3 699.1,221.5 632.9,311.3 780.4,414.4 706.2,220.6 782,314.9 701,395.5 676.8,359.5 756.4,218.5 767,384.5 696.3,408.5 705.1,398.5 587,214.7 642.8,352 658.9,326.2 683.8,386.7 659.2,373.9 787.9,253 679.7,365.2 603.8,233.5 664.3,224 593.8,234 594.1,237.8 744.3,214.4 690.9,381.8 596.4,317.4 589.8,400.2 649.2,380.9 777.1,341.3 628.3,355.8 700,402.1 797.6,258.7 653.2,327 600.4,414 668.4,334.4 585.5,307.8 653.9,332.4 782,334.1 768.8,393.2 633.5,367.1 772.5,412 675.5,348.2 693.6,378.2 766.4,402.9 608.3,300.4 582.3,316.9 619.9,415.7 687.1,380.5 676.1,403.4 658.2,326.3 671,378.8 658.1,379.3 695.4,414.7 787.1,315.8 706.8,416.2 640.4,320.8 612.4,307.7 800.1,299 643.4,232.6 790.9,289.8 630.2,237.6 776.2,361.3 763.7,397.1 587.6,314 607.1,396.9 588.9,389 770.6,388 696.6,404.1 659.9,383.6 639.6,323.7 724.9,217.4 651.9,219.5 782.9,315.2 671.8,374.5 686.5,221 597.3,309 645.6,324.4 783.5,322.3 647.3,352.7 678.6,395.5 586.6,299.2 768.6,363.1 661.8,354.9 766.3,378.5 697.9,386.3 595.2,325.8 586.6,244.1 668.3,350.3 591,293.4 749.5,214.3 690.5,392 697.6,396.2 679.9,413.6 589.5,325 674.5,359.4 647.6,367 637.4,311.5 748.6,218.8 654.6,352.6 647.6,406.5 631.7,320.8 695.9,220.1 602.1,323.6 773.4,342.8 788.5,343.3 788.2,256.6 781.2,314.2 691.4,219.7 683.3,384.9 696.7,386.1 775.6,333.4 608.7,319.2 582.2,292.9 782.6,403.7 783.7,300.9 647.3,396.8 785.6,379 762.1,211.3 633,311.9 627.8,377.6 632.6,337 658.4,327.8 662.1,341.3 780.3,315 587.5,337.4 657.3,345.7 690.1,410.9 636.8,341.1 693.2,402.5 587.9,298.3 672.1,354 663.3,397.2 618.2,344.9 630.6,234.2 640,377.6 765.8,222.6 620.1,233.5 693.8,382.4 590.6,317.3 645.1,231.5 689,223.3 694.5,413.4 667,378.5 617.9,371.5 651.2,380.6 792.8,331.2 701.8,418.1 770.5,364.5 744.8,215.6 661.6,363.7 660.9,333.1 704.5,386.1 633.3,322.9 703.1,416.2 640.1,355.2 787.4,269.9 675.6,361.9 690.2,417.2 646.5,383.8 652.4,328.2 592.8,225.5 599.5,327.3 771.2,372.4 683.5,364 643.8,318.8 791.8,271.5 770.1,375.4 643.8,346.8 721.4,211.2 590.2,232.9 648.7,362.5 771,414.8 662.7,414.9 610.7,228.9 610.4,300.9 587.4,312.2 692.9,383.3 762.4,410.9 707.7,218.4 585.6,404.1 676.7,400.8 661.5,397.3 664.5,364.1 677.1,375.5 606.8,378.6 581.4,241.1 779.6,230.7 674.4,377.9 763.3,408.8 596,237.1 622.2,369.8 639,316.5 631.4,314.9 674.6,371.7 607.7,239 698.4,406.9 605.1,350.8 693.5,404.4 619.9,305 613.8,302.7 588.1,242.9 705.4,417.2 643.2,403.2 601.6,310.2 683.6,394.6 669.5,373.8 777.1,333.7 676.6,351.4 695.1,399.1 711.2,215.2 577,331.3 610.8,231.6 599.3,294.7 678.5,357.6 615.1,341.8 663,358.3 762.6,221.9 614.9,372.9 784.8,235.1 656.5,326.9 786.4,291.8 633.1,355.4 654.1,393.7 703.5,395.1 777.4,227.1 615.3,232.5 690.4,387.3 779.2,227.4 667.2,340 623.2,227.6 774.9,401.7 683.8,367.6 622.5,322.8 711.7,417.7 610.4,340.4 612.8,338 767.3,223.2 679.8,352.8 638.2,229.3 682.1,376 644.1,414.8 800.3,282.1"/>
<polyline class="pb1" points="596.1,261.9 667.7,308.9 716,374.2 747.1,223.3 727,415.7 623.4,275.4 729.4,395.7 724.5,391.3 700.7,370.3 583.8,288.6 652.9,312.8 618.5,247.4 597.1,254.6 624.9,276.4 747.8,418.2 714.1,382 785.2,282.6 625.8,269.7 765.1,340.7 643.2,307.3 676.9,338.3 608.1,268 754.3,365.2 608.2,284.5 753.7,221.9 722.4,396.3 604.1,266.6 582.1,279.3 717.4,404 629.4,245.8 750.1,374 786.5,269.7 682.8,227.9 751.1,414.5 711.4,397.1 741.4,406 595.2,292.3 704.6,227.4 629.2,283.2 577.3,274.8 702.5,361.5 705.8,378.7 749.1,383.7 612.7,274.8 665.6,312.7 713.6,387.3 756.7,402.7 784.9,261.8 690.1,345.5 738.2,389.6 723.2,414.6 626,265.2 747,413.8 685.7,340.4 647.5,297 698.5,338.9 668.3,310.6 620.8,258.5 780.5,242.3 592.1,272.2 674.7,320 774.7,331.2 785.7,258.3 579.4,271.4 715.5,361.8 575.1,271.7 580.2,257.7 601.4,253.6 648.2,293.9 746.5,221.8 756.7,369.9 686.6,350 711.8,364.7 763.8,373.7 644.6,236.9 741.4,220.8 770.4,333.8 694.7,333.2 647.2,244.7 758.9,388.9 660.1,239.8 680,334.2 630.5,277.2 659.7,304.3 591.4,255.3 684.7,325.7 749.9,399.3 693.2,229.5 688,326.1 768.1,344.4 701.6,372.4 783,296.7 734.6,418 770.6,332.4 612.1,296.2 766.5,359 720.9,375.9 579.7,286.1 730,412.2 628.6,283 586.9,249.6 745.1,412.4 611.7,270.2 672,329.4 608,247.2 770.7,349.1 730.4,395.9 744,376.5 742,221.7 657.9,305.3 681,340.1 657.7,319.6 651.5,309.2 772.8,231.9 584.9,280.9 584.1,251.5 618.7,245.7 603.5,272.4 660.7,303.9 702.5,354 574.5,264.1 727.8,369.3 697.8,352.3 752.6,376.5 587.2,288.3 730.6,389 619.1,284 719.7,402.7 734,383.6 691.1,341.1 600.6,277.2 676.1,229.8 757,408.1 707.9,224.1 662.2,236.7 656,299.9 742.5,371.1 616.2,266.9 778.2,321.7 770.7,231.6 699,358.4 690.6,347.2 614.8,257.6 627.3,280.9 699,345.3 711,393.1 581.2,280.3 632.3,251.3 671.6,330.1 603.8,291.8 746.4,379.4 690.9,330.5 575.3,256.3 587.6,285.2 751.5,384.1 700.8,369.7 576.4,278.3 644.4,240.7 595.1,285.3 748.4,409.6 616.3,283.1 730.7,379.4 602.8,267.7 669.8,233.8 766,351.3 722.6,408.5 583.9,255.1 630.9,304.9 760.4,375 759.1,386 753.5,400.8 765.4,225.4 623.6,250.5 782,298.8 652.1,297.4 758.3,353.9 717.3,386.4 639.8,236.7 774.4,234 586.6,285.2 712.4,374.6 596.7,291 654.6,239.3 668.9,330.2 785.1,264.2 738.8,397.7 719.9,363.6 598.2,250.5 656.1,297.3 633,278.2 669.2,236.8 754.4,381.5 733.4,369.1 732.2,395.7 609,286.3 671,321.4 728.8,389.3 603.9,263.1 714,416.6 775.8,308.1 785,267.9 781.5,251.8 621.7,256.9 622.9,265.6 611.9,262.3 759.9,395.8 709.3,401 779.4,241.5 687.8,346.1 612.5,270.8 609,243.9 754.3,393.5 697.1,352.4 609.9,261.4 769.2,228.8 620,272.3 709.8,392.3 593.2,267.5 739.8,380.1 762.2,225.5 610.4,296.5 630,279.4 732.5,397.6 632.9,243.2 661.1,305.6 711.6,403.8 638,237.3 735.6,400.6 716,393.3 739.2,373.7 644.4,312.6 771.6,339.4 645.3,307.6 681.6,342.2 754.1,224.2 719.1,390.8 611.4,256.2 658.7,303.5 623.9,256.8 736.6,400.9 711.5,365.8 712.6,393.2 779.4,311.1 763.7,377.6 776.7,234.7 660.9,303.3 756,360.7 632,277.7 758.8,372.8 737.2,394.9 605.7,245.4 746.9,369.1 619.6,294 622,292.7 698.1,368.2 741.5,370.5 689.3,347.9 630.1,285.5 683.6,328.9 713.5,381.2 628.4,254.1 748.4,394.5 777.8,319.6 658.9,232.6 746.3,413.4 770.6,327.2 657.8,308.3 707.5,226 598.5,291.6 592.9,259.9 693.4,341.5 623.7,248.5 766.1,370.6 607.2,258.8 716.4,399.3 708.9,354.2 742.2,402.6 671.5,311.1 712.8,356 761.5,227 651.5,242.1 608.4,243.7 775.1,236.5 726.7,395.6 782.9,243.5 737.4,377.1 618.6,253.7 778.1,313.9 659.3,311.4 783.2,259.8 681.8,232.7 724.2,377.2 639.9,304 755.1,222.2 656.4,238.5 590.1,259.5 732,380.8 696.7,228.7 752.7,372 711.3,382.3 722.4,396.1 694.5,350.1 691.2,348.7 587.6,285.2 608.2,274.5 782.7,284.5 677,228.4 732.4,371.4 678.9,330.2 718.2,361.6 694.1,334.1 720,390.2 600.5,263.4 682.8,232 715.2,358.2 632.2,304.9 654.3,314.7 726.4,403.3 755.4,394.2 653.6,314.4 763.4,355.2 637.8,240.3 751.9,389.3 762.8,386.3 596.4,271.1 716.3,371.3 624.6,272.9 775.8,312.6 716.2,389.8 597.5,277.2 707.4,381 746.5,397.2 784.2,284.8 724.4,382 710,348.7 739.7,412.5 693.7,350.9 720.1,407 697.3,345 722.8,393.6 630.5,252.5 656.6,302.2 781.5,241.6 721.5,385.6 635,240.7 623.4,258.4 692.4,333.4 590.4,272.6 594.1,277.9 580.3,266.3 724.5,366.4 618,291.3 681.8,336 608,286.8 610.9,255.7 581,288.4 600,288.4 734.2,385.5 633.5,278.1 576.8,271.4 684,345.7 739.2,384.8 683.1,335.9 600.1,275.8 635.4,245.7 665.6,230.8 748.6,403.5 689.7,230.3 643.8,287.2 780.9,289.1 622.1,245.5 689.1,345.6 717.4,396 593.7,292.7 732.3,385.1 715.9,224.7 585.3,270.3 583,283.8 709.8,393.3 629.8,240 714.2,225.6 721.8,373.5 614.8,249.5 593.3,273.3 707.1,363.9 630.3,255.8 646,295.4 605.1,292.1 579.8,247.8 576.6,256.6 685.9,325 593.3,273 761.4,391 760.7,403.8 733.8,388.1 748.8,379.6 771.4,340.8 675.5,323.1 745.4,385.8 584.6,284.6 632.6,296 753.6,394.9 603.5,267.4 685.8,226.6 722.4,379 735.5,402.1 724.1,368.6 623.3,283.7 602.6,282.7 579.2,269.9 619.4,265.5 720.4,416.7 687.2,351.1 721.6,385.5 582.2,283 607.4,256.3 713.3,366.4 619.5,289.4 636,292.5 667.4,317.7 642.4,242.5 719.4,402 621.7,250.1 616.1,243.1 667.9,328.7 712.1,374.4 660.1,309.6 657.7,315 599.9,262.2 639.1,288.9 584.8,254.4 727.7,399 744.7,416.5 596.7,290.5 583.8,287.7 675.8,314.5 699.1,349 659.1,240.5 748.1,366.8 721.2,375.5 603.4,263.1 609.2,286.5 697.4,356.2 672.9,334.5 637.9,292.1 603.1,263.5 643.3,291.6 636,300 615.1,244.3 638.5,241.5 627.5,270.6 713.5,394.1 658.7,317.2 628.3,283.2 585,279.1 770.1,328.7 758,379.2 739.5,379.4 756.8,389.9 776.8,233.4 754,376.8 640.5,293.9 581.9,277.8 703.1,347.7 731.6,377.4 742.3,389.3 744.6,416.1 752.3,391.2 650.8,240 779,308.8 629.5,287.3 596.2,255.3 715.1,372.1 646.7,295.9 752.8,384.5 586.4,265 579.3,286.3 678.9,328 720.8,363.4 640.9,236.7 579.3,286.2 576.2,265.5 591.5,264.3 581.8,258.8 723.2,376.6 602.3,264.8 736.8,390.4 594.4,275.6 766.1,356.2 597.6,253.6 728.4,376.9 627,243.7 716.5,406.3 753.1,367.4 700.5,363.6 669.4,315.3 731.5,392.9 622.3,298.3 584.3,249.6 746.2,415.3 621.8,265.2 776.1,328 615,268.2 599.5,272.1 775.4,232.3 731.9,407.6 597.9,245.4 782,304 744.4,402.7 777.2,303.7 723.5,393.7 783.2,286 730,395.2 745.6,399 742.9,222 590.1,267.7 707.3,387 656.5,312 786.5,267.7 717.8,374.5 588.5,256.5 749.9,224.3 644.5,303.2 688,330.3 704.7,361.5 694.6,351.7 604.5,272.5 751,402.5 605.7,261.3 738.7,416.1 731.5,397.6 728.7,222 699.5,358.4 728.7,369.5 706.8,223.8 582.3,254.1 613.9,292.2 733.3,373.2 673.3,336.1 584.6,272.1 761.3,357 775.2,309.8 766.3,356.9 635.9,294.8 724.1,374.6 686.9,336.9 612.5,279.5 682,347.2 637.2,249.2 717.6,362.6 692.4,354.8 652.4,235.2 748.1,402.6 609.8,283.5 726.5,224.3 767.7,363.1 587.6,268.3 615.1,250.8 680.2,233.1 693.1,347.7 589.6,252.2 678.2,327.3 746.5,412 677.1,328.3 598,249.5 581.1,249.9 688.4,227.3 608.8,293.2 624,278.2 595.6,275.3 665.1,233.7 723.8,366.5 668.1,325.9 601.3,284 748.3,400.4 765.3,225.9 724.4,223.6 649,292.8 741.3,370.5 643.4,302.2 712.8,399.8 613.4,292 639.2,240.2 622.8,269.6 616.3,256.1 600.8,270.1 699.6,355.5 576.8,250.7 751.7,407.6 737.5,391.6 627.8,292.9 652.6,313 642,246 593.4,253.3 648.9,309.7 583.7,284.3 595,256.6 739.9,414.8 749.9,408 728.3,382.7 746,371 760.6,401.9 778.1,312.3 732.7,409.7 581.9,264.6 713,375.3 602,245.4 739.3,387.7 683.5,331 683.4,330.9 752,417.9 673.1,312.7 721.7,405 615.9,250.7 580.9,284.9 784.6,276.6 574.4,281.3 768.7,339.1 719.3,379.6 781.3,298 711.2,410.4 784.7,249.3 712.4,393.6 744.9,399.4 662,239.6 648.7,291.2 693.3,333.2 607.9,251.7 715.4,405.6 596.8,260.2 678.6,339.2 749.9,400.9 589.3,262.1 590.1,287.7 599,258.6 581.5,285.3 604.8,250.5 601.3,270.3 754.9,222.7 595.7,270.1 725.1,412.5 613.3,254.2 597.6,245.9 752.4,377.2 657.6,304.9 759.5,382.1 782.8,263.2 708.2,354.7 758.1,397 782.7,299.3 746.4,374 582.5,285.9 724,379.4 647.6,296 698.3,341.1 717.4,365.2 635.8,242 597,292.2 621.6,281.3 750.5,405.5 627,287.6 617.7,242.9 722.2,390.6 593.1,245.2 749.7,367.9 741.5,392.1 599.7,286.1 583.3,271.8 766.8,224.9 600.3,265.1 722.2,365.2 712.2,406 637.1,285.9 722.3,387.9 719.8,382.4 640.8,308.1 599.5,277.4 705.5,364.3 657,237.7 703.2,359.8 742.7,414.5 591.9,283.9 764.6,228.3 609.1,276.1 718.5,380.6 703.9,354.1 741,416.9 734.8,406.3 708.8,226.5 578.5,261.5 669.3,331.7 630,297.8 631.9,240.7 671.9,322.7 576.5,278.7 747.2,382.5 626.8,241.2 593,257.4 760.6,363.4 652.1,242.6 611.3,249.6 756,224.2 736.4,417.3 617.5,267.9 620.6,255.2 751.1,391.4 668.9,231 774,235.1 700.9,224.1 783,251 759.7,366.9 761.3,353.3 600.8,280 760,382 590.4,290.7 775.6,319.6 696.7,346.3 758.7,356.4 745.4,378.7 741,399 728.1,402.1 595.7,254.2 716.6,400.4 609.2,291.3 737.5,401.5 589.9,268.3 713.6,408.7 755.4,371.7 651.8,312.7 702.5,369.2 607.6,275.6 745.6,384.1 664,308.6 745.3,401.9 726.9,412.1 591.9,255.5 687.8,337.2 608.7,287.1 753.3,381.6 691.5,226.1 783.5,293.4 781.1,242 697.5,368.7 627.1,247.2 724,364 770,344.1 705,344.1 636.8,291.7 591.2,279.1 591.6,270.6 776.2,234.8 655,319.4 681.5,331.2 655.2,303.9 629.9,300.1 710.4,406.6 628.8,295 735.3,393.3 629,254.9 614,290.5 614.4,260.6 686.4,348.2 629.3,277 761.1,369.1 683.8,327.1 712,360.8 670.8,235.7 748.9,399.3 701.6,343.6 597.1,274.5 666.1,317.4 702.6,223.8 762.4,349.1 599.9,275.1 672.7,331.3 692.8,343.5 758.2,355.9 626.4,256.6 782.5,278.3 766.9,334.8 742.6,401.4 776.5,326.3 596.3,285.1 607.2,251 722.3,384.7 736.6,411 721.7,384.5 748,371.1 578.2,265.1 718.6,357.6 718.6,405 780.1,291.2 765.2,352.7 735.1,388.4 726.3,382.2 607.6,270.8 632.3,241.7 685.9,229.6 754.7,365.6 737,223.1 610.8,268.8 695.9,356.6 589.5,275 601.2,269.3 709.3,349.7 606.3,255.6 637,284.6 729.1,374.4 777.5,317.6 695.2,362.3 747,393.1 720.2,406.1 711.3,384.2 753,363.2 637.2,244.8 590.6,289.9 642.5,236.6 685.3,336.7 717.1,372.2 738.1,374.1 693.2,332.7 757.9,406.5 688.6,349.1 728.9,398.3 607,247.2 632.6,290.4 700.6,225.8 642.9,306.8 749.8,407.9 717.9,364.2 634.1,304 727.8,385.3 751.9,391.3 752.2,385.3 693.6,343.9 732.6,370.9 610,266.6 629.2,287 630.1,286.8 633.5,290.8 579.7,247.4 724,394.2 740.4,383.9 703.5,352.4 618.1,293.3 618.4,274.8 747.6,409.3 590.5,258.1 667.2,237.9 779.3,306.7 612.9,295.2 686.2,340.8 621,253.4 683.5,324.5 739.7,220.9 639.4,298.5 637.2,298.8 580.4,260 711.5,411.6 600.1,286.5 678.7,340.4 630.4,242 630.8,242.3 753.6,397.9 751.6,417.8 721.4,364.8 679.8,330.3 755.1,364 582.7,280.7 777.3,305.3 741.3,377.3 784,256.7 741.8,408.6 637.3,306.1 678.2,331.8 623.8,298.9 578.4,255.4 639.2,285.2 734.9,397.3 609,261.1 702.8,379.7 680.2,327 663.1,239.2 696.6,342.4 603.5,294 752.8,416.4 622,286.4"/>
<polyline class="pb2" points="777.6,265.4 728.4,362.5 732.8,359.7 771.2,236 676.4,235.6 678.4,299.7 752.7,339.4 696.9,314.5 713.4,335 715.6,348.1 647.8,255.7 660.1,246 630.6,264.1 693.4,318.9 673.1,289.1 728.6,340.6 644.1,264.1 759.6,228.4 777.9,286.8 653.4,256.9 765.5,231.7 740.3,228.2 674.2,310.7 673.4,247.9 650.3,277.5 708.2,337.2 746.4,339 746.6,337 712.3,346 724.6,227.9 707,319.7 680.6,297.3 778.3,283.4 652.2,282.6 690.4,233.3 755.4,348.3 756.1,354.8 750,342.4 643.5,274.5 664.5,278.1 651.5,276.7 717.3,344.9 675.2,296.1 652.9,280.8 709.2,334.3 719,329.4 660.5,274.2 776.7,272.1 739.3,344.4 701.4,317.8 729.7,353.3 650.9,277.1 684.1,309.4 761.4,333 668.8,282.8 653.6,291.5 735.8,345.4 696.7,232.1 681.1,296.9 676.3,240.6 775.2,239.1 641.6,262.6 667.4,306.8 727.5,347.4 778.8,270.3 756.2,332.8 776.1,292 742,352.2 670.9,297.6 691,236.5 750.8,357.1 685.8,309.1 668.3,307.5 730.1,229.1 644.7,259.3 644.6,262.5 761.5,325.5 627.2,261.5 690.9,311.8 687.9,312.9 676.9,301.3 636.5,270.9 660.3,264.9 730.3,364.3 702.3,323.5 728.8,342.2 703.8,316.9 708.7,334 737.2,359 775.8,288.6 748.4,338.9 750,362.6 656.7,261.4 766.6,314.2 669,244.7 779,258.5 661.4,293.3 628.4,263.3 717.5,231.6 642.5,261 768.4,312.2 689.3,314.6 740.8,225.7 685.6,306.7 657.4,244.5 707,329.5 688.7,321.3 777.8,273.6 719.3,335.1 734.7,353.9 744.7,365.4 761.8,333.5 769.2,306.2 645.4,254.6 647.9,275 720.1,351.3 679.7,304.9 671.2,238.1 719.1,346.4 651.3,268.2 662.3,301.2 760.7,321.1 694.4,234.5 657.3,296.8 647.8,248.8 761.6,332.4 723.3,354.6 651.9,256.3 658.2,266.2 772.7,312.6 695.1,326.7 721.9,352.8 711,336.7 638.5,258.2 656.2,252.3 767.4,233.3 666.5,282.1 762.6,228.9 634,272.7 656.6,253.7 694.9,324.3 756.9,351.3 735.2,355.2 734.8,362.4 681.5,303.3 640.3,254.6 724.1,339.8 769.5,314.8 773.8,302 772.7,237.4 781.3,269.2 634,276.5 732.8,226.3 659.8,266.2 661.5,241.2 738.5,340.6 739.8,340.3 777.3,263.1 689.6,236.9 645,268.2 656.7,272.4 721.6,351.8 668.7,239.3 724.8,351.8 769.2,314.7 746.5,353.1 671.9,286.1 735.6,348.2 652.6,288.4 654.8,262.9 678.6,310.5 684.2,297.9 660.5,285.7 659.2,293.2 649.4,260.5 671.5,244.7 707.8,338.2 750.1,332 663.8,281.9 684.2,241 667.6,286.5 666.8,251.9 707.5,321.2 748.1,360.8 703.9,320.9 736.9,335.9 664.3,247.2 756.6,335.7 651.4,251.2 756.2,330.8 712.4,339.2 767.7,237.1 722,342.1 655.3,281.2 681.4,311.4 724.3,345.7 705.6,228.6 628.1,267.8 720.9,340.4 668.2,278.3 708.8,330.2 653.5,255.6 655.6,276.3 659.2,279.3 680.6,303.2 684.8,304.3 660.6,246.6 662,260.3 715.9,347.9 709,345.4 705.2,340.3 723.8,356.7 683,321 658.1,265.5 655.5,252.3 779.7,268.9 735.6,225.8 701.9,233.7 642.3,278 768.8,308.3 694.4,312.7 653.3,266 715.3,230.8 771.2,299.8 779.5,250.4 757.5,230.1 776.7,293.8 720.2,357.2 742.9,358.1 768.3,232.4 772.3,301.2 656.4,278.6 731.1,334.7 676.1,246.3 778.9,251.8 734.5,338.9 690.5,322.4 682.9,311 683.4,310.8 740.2,362.3 703.2,323.1 659.6,262.1 658.4,295.9 630.2,259.9 747.9,335.7 749.5,362.5 694.5,314.7 748.4,365.3 727.9,344.6 695.8,311.9 721,351.6 661.4,296.2 778.4,259 667.3,248.2 635.6,271.4 777.3,240.9 758.8,231.2 652,279.7 672,302.6 660.4,275 654.3,246.4 656.3,295.5 729.5,350.9 723.9,344.7 680.6,243.1 664,282.6 636.7,253.4 771.1,298.3 655,258.8 762.2,342.6 729.6,226.2 699,229.9 740.6,228.9 757.8,326.7 727.8,352.7 688.1,304.7 632.6,268.7 652,272.8 691.5,235.1 641.1,275 727.8,225.7 771.4,307.1 723.7,359.9 669.8,286.8 777.1,287.2 709.1,339.8 770.9,300.1 658.3,279.1 717.7,337.8 729,355.7 657,275.3 647.4,285.1 770.2,239.6 672.6,301.2 693.8,237.1 655.4,296.4 672.6,244.7 686,236.6 745.5,342.1 768.7,324.6 685.9,241.1 779,273.6 658.6,268.6 669.2,237.6 691.3,324.7 775.6,294.6 747.8,364.3 780.8,270.1 663.9,302.2 758.1,350.8 743.3,345.3 723.6,334.5 659.2,247.8 749.2,336.3 696.7,317.3 710.6,325.3 722.5,343.9 640.7,271.9 690.6,317.5 731.1,348.1 766.8,234.8 630.6,269.2 710.9,322.9 774.4,296.8 685.2,298.2 772.8,293.4 646.9,288.5 714.8,232.2 749.4,342.4 709.1,322.3 655.5,266 747.1,354.5 710.2,330.6 652.3,243.6 671.9,244.6 767,317 699.2,332.3 776.6,256.5 778.5,245.9 770.9,232.5 776.8,263.6 702.5,333.4 779.2,248.6 711.3,348.5 657,288.8 759.1,342.2 767.9,328.5 776.3,289.9 727,342.9 766.8,310.1 731.3,352.3 761.5,324.9 760.5,330.9 712.2,328.9 649,249 727.6,342.4 766.5,330.3 648.1,250.4 662.5,289.6 642.8,272.1 705.3,232.5 745.8,334.3 757.2,349.6 747.9,356.4 741.6,336 779.1,281.2 631.3,255.8 705.5,330.7 733.8,357.6 722.6,347.2 774.8,310.4 664.4,270.8 680.9,315.2 764.8,313.9 677.5,292.6 658.2,282.1 724.5,344 750.2,344.7 747.8,363.8 752.7,330.7 735.5,354 746.8,335.5 673.3,297.8 628.1,266 772,301.8 648.4,282.6 753,352.5 768.2,312.4 767.5,315.6 715.6,229.7 657,258 749.3,340.6 665,294.5 748,359 671.9,242.5 742.5,356.4 647.9,258.7 717.5,335.9 684.5,236.6 782.3,263.4 675.7,290.7 664.2,296.1 724.9,352.9 748.5,363.9 743.6,364.1 687,314.1 648.2,259.7 666.4,299.3 769.1,317.8 667.3,240.8 650.3,259.5 675.2,301.2 638,275.8 671.4,293.6 732.3,364.6 658.5,295.8 669.4,290.2 651.1,267 771.8,312 628.4,270.4 649.9,273.1 761.3,330.2 776.2,239.4 734,360.8 666,298.1 730.7,336.7 667.8,244.6 718.8,341.3 711,343.5 733,364.1 704.4,233.8 777.2,289.5 656.2,245.7 754,348.5 780.3,280.2 752.9,230.2 663,282 662.8,243.4 633.1,271.7 764.3,336.1 757.9,228.8 685.3,237.2 678,301 758.5,331.5 776.8,301.8 747.3,334.1 707.3,230.6 696.7,233.1 660,244.8 667.5,305.2 665.9,243.3 718.6,350.8 654.7,268.2 714.1,343.7 681.8,307.5 723,340.5 721.8,358.6 730.1,345.4 653.5,256.5 721,342.8 727.5,353.8 732.4,342.1 645,271.8 777.5,283.5 684.7,236.2 739.6,341.9 684,237.2 630.3,265.1 713.9,326.7 649.6,259.4 650.7,259.5 712.7,228.4 723.8,226 735.2,348.1 694.7,313.6 737.3,336.4 720.2,228.2 743.2,344.3 700.7,233.5 749.2,356.1 666.2,247.1 716.5,326 739.2,368.1 776.2,246 691.6,233.2 685.2,314.1 698.9,331.9 643.5,259.6 699.9,330.3 683.4,304.6 774.9,284.8 723.2,353.2 655.9,291.9 672.5,293.8 699.3,235.6 716.6,228.8 743.1,358.9 752.5,358.3 722.7,331.8 780.8,265 651.3,247.1 699.5,329.6 735.3,348.6 707.2,227.7 674.2,295.9 663.5,252.2 769.4,232.9 729.8,344.8 742.5,351.8 714.7,338.5 655.5,276 675.7,288 696.7,319.2 774.1,306 722.3,350.6 681.1,312.1 633.8,262.8 641.1,264.3 748.4,339.2 668.9,247.6 698.4,325 656.5,249.9 763.1,232.1 713,230.6 724.4,344.2 660.9,266.7 665.7,246.9 760.6,229.9 736.2,345.6 695.5,315.5 656.8,256.5 669.6,250 743.9,353.5 753.2,335.3 638.6,263.3 669.5,243.2 767.9,328.4 644.4,261.6 705.7,228.9 765.4,314.8 730.1,229.8 768.3,317.8 637.8,268.4 661.6,263.2 672.9,293.3"/>
<polyline class="pb3" points="752.5,321.9 706.6,297.5 773.8,258.3 746.3,329.9 696.2,281.4 687.6,272.2 773.3,259.4 745.9,325 720.2,304 694.2,295.2 695.6,303.4 771.7,272.2 750.8,328.1 697.9,244.1 663.7,261.9 695,252 765,312.7 725.9,313.7 721,312.3 693.5,285.7 770,267.3 691,239.5 764.5,300.6 729.1,236.9 748,323.6 686.7,270.4 711.3,299.5 714.3,309.9 731.8,311.2 719.5,302.9 737.3,321.6 667.6,268.7 732.4,318.9 764.1,297 694.1,295.5 720.7,321.2 700.7,242.7 688.2,289 671,266.5 726.2,237.5 687.6,277.9 688,249.7 698.3,307.7 754.7,234.2 768.9,242.8 714.4,323 731.3,319.8 711.2,235.3 754.9,236.3 679.2,262.1 691.2,256.9 715.8,314.6 748,313 681.7,267.8 762.6,241 688.5,290.6 749.4,315.7 702,290.9 673.5,276.4 728.8,326.2 715.7,306.6 685.9,250.6 718.7,236.2 765.3,303.2 769.5,285.4 686.7,272.4 690.1,243.7 671.7,257.4 709.7,313 697.1,292.6 702.5,245.2 762.5,313.7 674.2,263.4 666.1,259.2 771.1,249.4 677.2,261 674.3,270.1 680.1,248.9 684,265 715.4,239 706.3,241.8 688.9,267.8 699.2,284.4 698.1,283 715.8,301.3 735.4,320.5 670.5,261.9 769,246.7 716.5,305.4 679.7,266.2 764.7,308.7 681.2,249.2 764.3,308.6 773.2,260.8 702.9,246.3 700.3,298.9 709.1,306.2 693.9,240.4 705.8,299.3 714.5,236 769.4,261.2 669.1,274.8 707.2,314.3 759.3,300.4 691,272.5 713.4,299.6 763,241.3 699.6,246.7 733.4,323.9 754,321.4 760.1,237.2 676.7,271 687.7,249.8 698.9,304.7 678.6,290.5 683.4,290.3 723.7,316.3 697.5,282.3 772.1,284 684.6,244.4 733.6,232.9 770.2,251.9 671,260.8 687.4,283.5 711.7,311 680.7,244.9 723.9,325.4 771,285.5 752.1,234.6 771.1,246.3 714.2,320.4 712,309.6 766.3,307.2 684.2,285.8 693.1,281.3 771.4,262.2 691.9,285.5 692.1,243.9 746.5,234.3 704.4,296 701,303.1 708.5,304.3 732.9,230.3 718,323.1 717.5,325.9 728.7,314.3 767.9,291.8 681.6,244.6 729.7,320.8 711.5,300.8 717.7,320.7 695.4,237.9 735.3,233.1 685.7,289.7 737.5,315.8 718.8,327 738.3,334.1 704.7,244 728.1,322 680.8,262.7 687.1,246.1 680.7,245.1 701.8,295.4 701.5,313.1 676.3,252.1 740,331.5 774.1,264.4 718.9,322.3 699.4,297.7 774.5,263.3 684.3,251 705.2,237.1 732.6,234.1 680.2,266.2 708.4,237.4 683.4,265.7 683.1,245.7 751.8,234.6 706.5,243.1 753.6,234.3 760.4,307.1 721.7,318 704,242.1 721.7,304.7 743.9,312.6 693.6,244.5 763.2,236.1 702,297.2 753.3,238.4 712.7,240.1 697.4,297.6 666.4,269.5 693.5,292 691.7,298.9 683.9,265.5 675.5,265.3 732.1,333 669.3,278.7 760.9,312.3 753.2,233.9 767.2,282.4 752.9,237.2 693.1,252.8 668.9,262.4 775.8,269.9 756.1,311.2 746.5,312.4 688,294.7 776.5,262.4 682.5,271.7 740,324.7 667.9,273.6 695.2,304.5 670.1,269.7 702.9,300.7 669.2,254.8 686.6,294.7 682.7,261.7 709.7,306.9 742.9,318.3 743.7,334.1 756.9,301.9 691.3,252.3 689.3,291 701.9,310.6 750.9,309 721.1,322.9 762.4,304.5 668.8,256.1 753.3,307.5 682.2,248.9 705.9,293.5 733.1,327.4 707.4,315.8 713.9,315.7 704,304.5 724,305.3 716,321.7 695.4,306.6 714,311.5 718.7,239 697.2,287.9 683.4,281.8 773.6,260.1 772.5,260.6 690.5,280.9 735.7,322.2 689.2,284.4 753.3,327.2 712.6,302.7 687.1,250.8 709,319.7 765.2,237 667.3,263 677.3,253.8 761.1,240.2 764.7,301.8 742.8,236.1 685.6,243.3 681.2,258.2 682.5,254.4 730.6,325 683.8,277.6 688.2,269 709.8,311.4 703.7,300.1 712.1,318.9 730.6,312 723.5,312.4 684.2,256.1 761.6,297.5 736.8,333.2 728.2,231.7 663.7,264.2 682.9,253.7 761.5,301.3 757.6,299.9 752.5,319.5 690.9,282.5 768.5,282.5 701.7,303.3 698.4,245.9 762.6,291.7 681.9,253.8 682.9,264.2 758.2,308.2 678.9,259.7 773.4,274.2 767.7,251.8 667.4,272.2 688.1,251.2 761.5,311.1 667,260.4 775.8,275.7 700.7,239.6 735.2,327.9 711,303.1 678.6,286 678.4,290.5 769.1,278.9 775.5,279 690.3,267.7 752.8,311.7 735.3,319 770,249.8 687.1,253.6 773.4,256.3 686,293.2 673.8,254.1 682.3,289.2 759.7,310.2 667.1,254.4 683.9,276.1 735.8,236.5 673.8,284.4 769.5,280.8 743.3,314.7 670.2,258.4 684.2,280.6 686.1,288.4 682.7,254.9 679.1,257.1 768,297.1 738.5,324.9 752.8,319.7 719.5,309.8 760.2,241 772.4,249.5 688.9,269.9 765,304.5 749.3,234.3 711.7,320 768,306 696.7,248.5 760.7,234.6 690.8,276.4 771.6,263.1 768.3,305.4 696.2,250.9 740.8,312.1 771.2,246.2 737,326.2 679.3,261.9 674.5,258.7 675.1,266.3 733.4,311 773.6,272.5 677.2,247.1 752.5,232.4 707.8,237.8 769.1,255.6 760.9,303.3 719.4,235.5 682.9,273.9 771.9,294.3 711.8,305.8 775.1,279.8 747.5,316.3 706.5,317.6 715.2,240.2 728.5,230.2 734.7,236.2 691.7,245.6 704.3,291.3 729.1,308.9 687.1,287.4 681.1,257.5 762.4,312.1 695,281.9 682,272.8 710.4,303.9 711,316.4 755,318.2 682.2,243.8 701,238.9 712.7,315.1 755.7,233.4 770.6,248.7 692.2,299.6 673.9,280 710.2,302.7 686.9,281.8 708.1,301.7 761.5,307.2 763.1,236.8 755.1,312.7 696.4,296.2 773.7,284.4 680,252.8 689.5,288.2 684.9,294 668.4,276.7 765.4,246.5 725.9,307.5 735.6,233.7 684.5,254.7 743.4,328.3 761.6,234.6 764,296 715.1,315 731.5,310.7 747.2,232.8 681.4,250.3 764.3,307.6 683,245.3 724,322.7"/>
<polyline class="pb4" points="759.1,282.6 720.7,257.5 712.5,259.8 707.8,259.8 767.1,269.9 708.4,278.2 748.6,240.7 739.6,296.2 717.9,292.1 754.1,300 725.8,252.1 762.6,278.7 699.6,280.9 759.7,256.7 752.5,254.4 755.6,241 692,260.3 747.1,239.7 719.2,302.2 699.5,252 703.3,271.9 759.6,280.3 696.7,257.8 708.9,278.1 723.2,277.7 754.5,293.4 711.1,276.5 757.8,291.9 708.1,256.1 747.9,281.3 731,244.4 749.4,244.4 745.7,239.2 747.4,244.6 709.6,267.2 767.4,253.4 729.2,245.3 706.3,244.7 749,241.4 758.2,246.9 697,271.9 729,293.6 750.3,290.5 742.9,302 716.5,293 720.7,269.4 704.4,261.3 747.7,293.3 720.9,266 759.2,289.2 760.3,278.7 756.8,265.7 713.6,250.5 711,275.2 736.7,249.8 703,250.5 720.6,280.5 713.4,291.5 729.3,286.3 720.1,239.5 697.7,280.3 716.3,294.7 759.1,292.8 713.4,244.1 756.2,297.4 745.2,293.7 735.4,302.2 757.5,250.7 762.1,269 762.4,257.7 728.9,287 738.7,299.3 716.9,269.9 731.6,280.5 725.3,293.4 745.1,290.9 736.8,292.6 763.9,283.5 717.8,269.3 727.7,296.2 745.2,305.6 718.1,285.4 763.1,274.5 714.4,257.2 728.7,303 749.9,295.3 730.7,242.5 752.4,301.1 714.1,252.4 740.3,301.4 755.6,256.2 707.8,278.5 750.4,289 701.4,251.3 749.9,239.3 705.1,252.4 694.2,261.4 750.7,299.7 716,264.6 710.3,269.6 753.9,250.9 756.4,256.3 747.2,307.2 724.6,254.6 759.1,281.7 745.6,284.8 747.9,299.9 720,279.9 691.2,268.3 744.4,300.9 756.6,278.1 722.7,252.6 712.3,258 757.4,275.9 713.3,262.9 697.1,272.9 745.9,300.7 728.3,289.4 710.3,284.6 753,242.5 738,242.6 737,290.7 743.7,249.3 703.7,278.6 719.7,257.1 735.1,288.2 759.4,275.1 758.7,294.7 715.8,296.7 716.7,264.4 722.9,255.6 735.7,284.2 705.8,270.9 738.9,298.6 709.8,243.5 749.1,283.8 723.9,256 715.3,295.3 712,292.6 721.8,303.1 731.5,296.3 759.5,275.9 764.8,267.4 721.8,301.5 746.8,246 714.4,276.8 693.2,257.6 724.3,283.5 764,262.1 757.7,256.1 741.1,292.1 712.2,255.3 750.6,253.1 737.9,237.4 732.3,238.8 701.2,257.6 706.3,288.2 745.9,286.9 738.6,241.9 725.2,243.9 760.9,269.9 711.7,247 711.9,263.8 746.7,241.8 707.2,271.7 748.2,240.2 749.9,303.9 727.8,240 760.7,257.3 721.8,258.6 732.8,246.5 707.3,283.7 708.4,258.1 752.8,272.3 733.8,246.9 746.6,301.9 717.2,275.5 724.1,243.2 716.4,288 705.2,253.8 766.3,272.7 746.2,292.9 727.8,287.8 757.7,267.3 767,259.4 697.4,262 698.7,265.8 738.7,298.3 721.7,258.8 759.2,257 702.8,269.9 720.7,249.7 713.7,271.5 755.3,244.9 703.9,285.4 719.1,300.1 716.1,291.3 708.5,286.2 728.9,238.1 738.4,297.7 710.5,265.8 738.4,308.2 751.4,279.4 699.7,274.4 714.9,242.8 699.7,284.4 723.3,303.9 760.7,256.1 757.1,279.1 723,281.7 729.7,239.2 739.9,289.9 714.3,254.8 726,295.6 753.9,250.5 698.2,271.1 718.2,248.8 714.9,252.5 722.8,298.2 720.5,291.1 729.4,294 763.4,253.1 725,288.4 722.3,283.7 745,282.9 705,272.3 750.9,304.1 701.3,269.2 768.7,265.8 701,284.6 721,265.7 734.2,289.8 752.2,252.5 705.5,266.2 750.5,295 723.6,253.6 735.1,245.4 765.9,280.5 695.5,271.3 706.1,257.9 765.5,280.5 733.2,304.4 719.4,277.9 763.1,255.7 719.9,255.5 710.1,256.6 697.1,270.5 761.6,256.5 754.4,301.9 736.4,245.5 707.4,254.7 744.3,247.8 734.8,248.7 728.3,297.5 758.2,283.4 715.2,287.4 768,273.4 727.4,248 727,299.7 765.1,270 713.7,250 752.2,242.1 741.8,281.7 747.4,244.7 717.7,290.2 761,258.3 750.1,289.2 717.1,277.9 726.8,299.9 759,265.3 752.9,293.5 759.1,255.1 704.9,251 711.8,270.6 705.4,284.8 735.5,282.3 713.2,288.4 726,301.7 756.5,278.3 701.1,252.1 726.9,281.7 741.1,239.4 721.5,273.1 718.1,248 726,281.1 720.4,252.5 736,239.2 722.3,274.2 730.4,297.3 761.5,267.3 717.4,252.2 708.2,280.5 724.1,275.6 721.9,276.1 693.9,266.8 757.2,271.5 725.1,305.8 693,256.4 715.8,259.5 703.3,278.3 763.2,290 759.1,285.8 705.5,277.7 751.5,284.6 744.4,244.3 765.9,281.5 766.8,254.9 756.4,262.9 745,248.1 702.2,261.7 731.1,284.1 759,260.3 720.7,285.1 715.3,260.9 694.4,273.7 733,289.3 731.1,292.5 761.9,247.5 741.8,285.7 763.9,255.6 701.9,278.5 716.3,282.3 726.5,292.8 739.2,240.6 736.5,241.1 726,243.6"/>
<polyline class="pb5" points="737.5,271.5 748.9,269.8 726.8,260.9 726.3,267.1 723.6,260.2 739.9,270.2 737,273.3 744.2,271.3 740.8,256.1 747,275.5 748,253.8 741.3,269.3 742.2,276.4 726.9,263.6 749.2,262.9 738.5,270 741.1,267.8 735.5,256.6 738.7,268.1 750.8,262.6 748.2,255 742.3,251.5 733.5,264.3 751.5,269.9 745.4,262.5 749.9,270.2 724.3,263.7 737.1,274 726.2,257.1 726.7,256.9 746.4,260.8 744.1,257.6 729.3,254.3 724.3,261.5 736.5,262.6 733.1,261.1 731.7,273.3 730.8,254.1 742.5,257.3 732.8,263.8 745.4,268.4 737.7,256 744.5,269.5 749.5,256.4 749.1,262.6 741.2,262 743.5,255.2 753.6,264.9 732.3,260.6 743.4,252.8 726.6,269.8 745,278.3 730.2,252.9 742,272.5 740.1,263.3 740.3,266.7 724.8,262 745.5,276.4 740.9,254.4 728.8,267.5 746,270.7 733.3,252.5 738.1,262 733.1,270.1 730.4,256.2 748,264.3 740.5,275 739.2,281.3 743.6,275.7 734.7,263.3 753.2,261.9 748.1,276.9 749.2,269.8 731.1,275.4 739.7,270 733.5,274.2 734.3,256.7"/>
</g>
<circle cx="257.1" cy="282.1" r="8.3" fill="rgb(62,112,190)" stroke="#111" stroke-width="1.4"/>
<circle cx="292.7" cy="248.9" r="8.3" fill="rgb(244,163,12)" stroke="#111" stroke-width="1.4"/>
<circle cx="346.2" cy="199.1" r="8.3" fill="rgb(236,98,30)" stroke="#111" stroke-width="1.4"/>
<circle cx="720.4" cy="282.1" r="8.3" fill="rgb(62,112,190)" fill-opacity="0.4" stroke="#2a2a2a" stroke-opacity="0.8" stroke-width="1.1" stroke-dasharray="3.2 2"/>
<circle cx="756.0" cy="248.9" r="8.3" fill="rgb(244,163,12)" fill-opacity="0.4" stroke="#2a2a2a" stroke-opacity="0.8" stroke-width="1.1" stroke-dasharray="3.2 2"/>
<circle cx="809.5" cy="199.1" r="8.3" fill="rgb(236,98,30)" fill-opacity="0.4" stroke="#2a2a2a" stroke-opacity="0.8" stroke-width="1.1" stroke-dasharray="3.2 2"/>
<circle cx="702.5" cy="298.7" r="8.3" fill="rgb(62,112,190)" stroke="#111" stroke-width="1.4"/>
<circle cx="731.1" cy="272.2" r="8.3" fill="rgb(244,163,12)" stroke="#111" stroke-width="1.4"/>
<circle cx="773.8" cy="232.3" r="8.3" fill="rgb(236,98,30)" stroke="#111" stroke-width="1.4"/>
<path transform="translate(720.4 282.1) rotate(137.02)" d="M0 -2.8 L11.2 -2.8 L11.2 -7.7 L25.2 0 L11.2 7.7 L11.2 2.8 L0 2.8 Z" fill="rgb(62,112,190)" stroke="#0a0a0a" stroke-width="1.6" stroke-linejoin="miter"/>
<path transform="translate(756.0 248.9) rotate(137.02)" d="M0 -2.8 L20.9 -2.8 L20.9 -7.7 L34.9 0 L20.9 7.7 L20.9 2.8 L0 2.8 Z" fill="rgb(244,163,12)" stroke="#0a0a0a" stroke-width="1.6" stroke-linejoin="miter"/>
<path transform="translate(809.5 199.1) rotate(137.02)" d="M0 -2.8 L35.5 -2.8 L35.5 -7.7 L49.5 0 L35.5 7.7 L35.5 2.8 L0 2.8 Z" fill="rgb(236,98,30)" stroke="#0a0a0a" stroke-width="1.6" stroke-linejoin="miter"/>
<g opacity="0.999">
<path class="ax" d="M114.5 82.85 V415.0"/>
<path d="M114.5 415.0 H470.9" stroke="#000" stroke-width="1.2" fill="none"/>
<path class="ax" d="M114.5 415.00 h-7.3"/><text class="tk" x="102.1" y="420.3" text-anchor="end">20</text>
<path class="ax" d="M114.5 415.0 v7.3"/><text class="tk" x="114.5" y="438.1" text-anchor="middle">20</text>
<path class="ax" d="M114.5 348.57 h-7.3"/><text class="tk" x="102.1" y="353.9" text-anchor="end">40</text>
<path class="ax" d="M185.8 415.0 v7.3"/><text class="tk" x="185.8" y="438.1" text-anchor="middle">40</text>
<path class="ax" d="M114.5 282.14 h-7.3"/><text class="tk" x="102.1" y="287.4" text-anchor="end">60</text>
<path class="ax" d="M257.1 415.0 v7.3"/><text class="tk" x="257.1" y="438.1" text-anchor="middle">60</text>
<path class="ax" d="M114.5 215.71 h-7.3"/><text class="tk" x="102.1" y="221.0" text-anchor="end">80</text>
<path class="ax" d="M328.3 415.0 v7.3"/><text class="tk" x="328.3" y="438.1" text-anchor="middle">80</text>
<path class="ax" d="M114.5 149.28 h-7.3"/><text class="tk" x="102.1" y="154.6" text-anchor="end">100</text>
<path class="ax" d="M399.6 415.0 v7.3"/><text class="tk" x="399.6" y="438.1" text-anchor="middle">100</text>
<path class="ax" d="M114.5 82.85 h-7.3"/><text class="tk" x="102.1" y="88.2" text-anchor="end">120</text>
<path class="ax" d="M470.9 415.0 v7.3"/><text class="tk" x="470.9" y="438.1" text-anchor="middle">120</text>
<path class="ax" d="M114.5 459 V509"/>
<path d="M116.3 509h8.5v-0.2h-8.5zM125.1 509h8.5v-0.2h-8.5zM133.9 509h8.5v-0.3h-8.5zM142.6 509h8.5v-0.4h-8.5zM151.4 509h8.5v-0.2h-8.5zM160.2 509h8.5v-0.5h-8.5zM168.9 509h8.5v-0.6h-8.5zM177.7 509h8.5v-0.6h-8.5zM186.5 509h8.5v-1.0h-8.5zM195.2 509h8.5v-0.9h-8.5zM204.0 509h8.5v-1.6h-8.5zM212.8 509h8.5v-1.8h-8.5zM221.5 509h8.5v-2.5h-8.5zM230.3 509h8.5v-2.6h-8.5zM239.1 509h8.5v-3.2h-8.5zM247.8 509h8.5v-4.0h-8.5zM256.6 509h8.5v-4.8h-8.5zM265.4 509h8.5v-5.6h-8.5zM274.1 509h8.5v-7.1h-8.5zM282.9 509h8.5v-8.3h-8.5zM291.7 509h8.5v-9.3h-8.5zM300.4 509h8.5v-11.8h-8.5zM309.2 509h8.5v-13.7h-8.5zM318.0 509h8.5v-17.7h-8.5zM326.7 509h8.5v-18.7h-8.5zM335.5 509h8.5v-21.9h-8.5zM344.3 509h8.5v-24.2h-8.5zM353.1 509h8.5v-25.1h-8.5zM361.8 509h8.5v-28.0h-8.5zM370.6 509h8.5v-27.8h-8.5zM379.4 509h8.5v-26.3h-8.5zM388.1 509h8.5v-24.3h-8.5zM396.9 509h8.5v-21.6h-8.5zM405.7 509h8.5v-17.5h-8.5zM414.4 509h8.5v-12.6h-8.5zM423.2 509h8.5v-9.2h-8.5zM432.0 509h8.5v-4.8h-8.5zM440.7 509h8.5v-2.1h-8.5zM449.5 509h8.5v-0.8h-8.5z" fill="rgb(236,98,30)" fill-opacity="0.5"/>
<path d="M114.6 509h4.3v-0.2h-4.3zM119.1 509h7.0v-0.2h-7.0zM126.4 509h7.0v-0.4h-7.0zM133.7 509h7.0v-0.4h-7.0zM140.9 509h7.0v-0.5h-7.0zM148.2 509h7.0v-0.5h-7.0zM155.5 509h7.0v-1.2h-7.0zM162.7 509h7.0v-1.1h-7.0zM170.0 509h7.0v-1.4h-7.0zM177.3 509h7.0v-1.4h-7.0zM184.5 509h7.0v-1.8h-7.0zM191.8 509h7.0v-2.7h-7.0zM199.1 509h7.0v-3.3h-7.0zM206.4 509h7.0v-4.6h-7.0zM213.6 509h7.0v-4.6h-7.0zM220.9 509h7.0v-6.4h-7.0zM228.2 509h7.0v-7.7h-7.0zM235.4 509h7.0v-9.6h-7.0zM242.7 509h7.0v-11.3h-7.0zM250.0 509h7.0v-14.3h-7.0zM257.3 509h7.0v-16.3h-7.0zM264.5 509h7.0v-19.1h-7.0zM271.8 509h7.0v-24.0h-7.0zM279.1 509h7.0v-26.5h-7.0zM286.3 509h7.0v-29.1h-7.0zM293.6 509h7.0v-33.5h-7.0zM300.9 509h7.0v-34.7h-7.0zM308.1 509h7.0v-36.9h-7.0zM315.4 509h7.0v-33.9h-7.0zM322.7 509h7.0v-33.3h-7.0zM330.0 509h7.0v-28.5h-7.0zM337.2 509h7.0v-20.2h-7.0zM344.5 509h7.0v-14.1h-7.0zM351.8 509h7.0v-8.3h-7.0zM359.0 509h7.0v-4.8h-7.0zM366.3 509h7.0v-1.8h-7.0zM373.6 509h7.0v-0.6h-7.0z" fill="rgb(244,163,12)" fill-opacity="0.5"/>
<path d="M114.6 509h1.4v-0.4h-1.4zM116.2 509h5.9v-0.3h-5.9zM122.3 509h5.9v-0.4h-5.9zM128.4 509h5.9v-0.6h-5.9zM134.5 509h5.9v-0.6h-5.9zM140.6 509h5.9v-0.8h-5.9zM146.7 509h5.9v-1.1h-5.9zM152.8 509h5.9v-1.3h-5.9zM158.9 509h5.9v-1.7h-5.9zM165.0 509h5.9v-2.2h-5.9zM171.1 509h5.9v-2.2h-5.9zM177.2 509h5.9v-3.3h-5.9zM183.3 509h5.9v-3.5h-5.9zM189.4 509h5.9v-4.6h-5.9zM195.5 509h5.9v-5.9h-5.9zM201.5 509h5.9v-7.4h-5.9zM207.6 509h5.9v-8.8h-5.9zM213.7 509h5.9v-10.7h-5.9zM219.8 509h5.9v-13.8h-5.9zM225.9 509h5.9v-17.5h-5.9zM232.0 509h5.9v-20.4h-5.9zM238.1 509h5.9v-22.6h-5.9zM244.2 509h5.9v-27.7h-5.9zM250.3 509h5.9v-31.4h-5.9zM256.4 509h5.9v-36.9h-5.9zM262.5 509h5.9v-38.8h-5.9zM268.6 509h5.9v-41.8h-5.9zM274.7 509h5.9v-46.8h-5.9zM280.8 509h5.9v-42.5h-5.9zM286.9 509h5.9v-40.5h-5.9zM293.0 509h5.9v-32.4h-5.9zM299.1 509h5.9v-23.7h-5.9zM305.2 509h5.9v-16.5h-5.9zM311.2 509h5.9v-9.0h-5.9zM317.3 509h5.9v-3.7h-5.9zM323.4 509h5.9v-1.7h-5.9zM329.5 509h5.9v-0.4h-5.9z" fill="rgb(62,112,190)" fill-opacity="0.5"/>
<path d="M114.5 509 H470.9" stroke="#222" stroke-width="1.3" fill="none"/>
<path class="ax" d="M114.5 509 v7.3"/><text class="tk" x="114.5" y="532.1" text-anchor="middle">20</text>
<path class="ax" d="M185.8 509 v7.3"/><text class="tk" x="185.8" y="532.1" text-anchor="middle">40</text>
<path class="ax" d="M257.1 509 v7.3"/><text class="tk" x="257.1" y="532.1" text-anchor="middle">60</text>
<path class="ax" d="M328.3 509 v7.3"/><text class="tk" x="328.3" y="532.1" text-anchor="middle">80</text>
<path class="ax" d="M399.6 509 v7.3"/><text class="tk" x="399.6" y="532.1" text-anchor="middle">100</text>
<path class="ax" d="M470.9 509 v7.3"/><text class="tk" x="470.9" y="532.1" text-anchor="middle">120</text>
<text class="lb" x="316.7" y="557.0" text-anchor="middle" style="font-size:24.5px">MZ twin 1 lifespan</text>
<text class="lb" transform="translate(63.0 257.0) rotate(-90)" text-anchor="middle">MZ twin 2 lifespan[years]</text>
<text transform="translate(98.2 484.4) rotate(-90)" text-anchor="middle" style="font-size:19.2px;stroke:#000;stroke-width:0.35px">Density</text>
<text class="tt" x="292.7" y="75.6" text-anchor="middle">Without extrinsic mortality</text>
<rect x="127.6" y="94.0" width="191.7" height="31" fill="#fff" fill-opacity="0.9" stroke="#9a9a9a" stroke-width="1"/>
<text class="lb" x="132.9" y="116.2" style="font-size:24.3px">Pearson r = 0.37</text>
<text x="0" y="49.3" style="font-size:23.2px;font-weight:bold;stroke:#000;stroke-width:0.8px" transform="translate(79.2 0) scale(0.78 1)">E</text>
<path class="ax" d="M577.8 82.85 V415.0"/>
<path d="M577.8 415.0 H934.2" stroke="#000" stroke-width="1.2" fill="none"/>
<path class="ax" d="M577.8 415.00 h-7.3"/><text class="tk" x="565.4" y="420.3" text-anchor="end">20</text>
<path class="ax" d="M577.8 415.0 v7.3"/><text class="tk" x="577.8" y="438.1" text-anchor="middle">20</text>
<path class="ax" d="M577.8 348.57 h-7.3"/><text class="tk" x="565.4" y="353.9" text-anchor="end">40</text>
<path class="ax" d="M649.1 415.0 v7.3"/><text class="tk" x="649.1" y="438.1" text-anchor="middle">40</text>
<path class="ax" d="M577.8 282.14 h-7.3"/><text class="tk" x="565.4" y="287.4" text-anchor="end">60</text>
<path class="ax" d="M720.4 415.0 v7.3"/><text class="tk" x="720.4" y="438.1" text-anchor="middle">60</text>
<path class="ax" d="M577.8 215.71 h-7.3"/><text class="tk" x="565.4" y="221.0" text-anchor="end">80</text>
<path class="ax" d="M791.6 415.0 v7.3"/><text class="tk" x="791.6" y="438.1" text-anchor="middle">80</text>
<path class="ax" d="M577.8 149.28 h-7.3"/><text class="tk" x="565.4" y="154.6" text-anchor="end">100</text>
<path class="ax" d="M862.9 415.0 v7.3"/><text class="tk" x="862.9" y="438.1" text-anchor="middle">100</text>
<path class="ax" d="M577.8 82.85 h-7.3"/><text class="tk" x="565.4" y="88.2" text-anchor="end">120</text>
<path class="ax" d="M934.2 415.0 v7.3"/><text class="tk" x="934.2" y="438.1" text-anchor="middle">120</text>
<path class="ax" d="M577.8 459 V509"/>
<path d="M577.9 509h-0.2v-5.4h0.2zM578.0 509h8.5v-5.8h-8.5zM586.8 509h8.5v-6.7h-8.5zM595.5 509h8.5v-5.1h-8.5zM604.3 509h8.5v-5.9h-8.5zM613.1 509h8.5v-6.0h-8.5zM621.8 509h8.5v-4.9h-8.5zM630.6 509h8.5v-5.1h-8.5zM639.4 509h8.5v-5.6h-8.5zM648.1 509h8.5v-6.4h-8.5zM656.9 509h8.5v-6.1h-8.5zM665.7 509h8.5v-6.1h-8.5zM674.4 509h8.5v-6.6h-8.5zM683.2 509h8.5v-7.4h-8.5zM692.0 509h8.5v-7.0h-8.5zM700.7 509h8.5v-7.6h-8.5zM709.5 509h8.5v-8.5h-8.5zM718.3 509h8.5v-9.4h-8.5zM727.0 509h8.5v-10.1h-8.5zM735.8 509h8.5v-11.9h-8.5zM744.6 509h8.5v-11.3h-8.5zM753.3 509h8.5v-14.0h-8.5zM762.1 509h8.5v-15.5h-8.5zM770.9 509h8.5v-16.5h-8.5zM779.6 509h8.5v-18.7h-8.5zM788.4 509h8.5v-20.5h-8.5zM797.2 509h8.5v-23.4h-8.5zM805.9 509h8.5v-22.6h-8.5zM814.7 509h8.5v-26.6h-8.5zM823.5 509h8.5v-26.8h-8.5zM832.2 509h8.5v-26.3h-8.5zM841.0 509h8.5v-26.1h-8.5zM849.8 509h8.5v-22.9h-8.5zM858.5 509h8.5v-19.8h-8.5zM867.3 509h8.5v-16.5h-8.5zM876.1 509h8.5v-11.7h-8.5zM884.9 509h8.5v-7.3h-8.5zM893.6 509h8.5v-4.2h-8.5zM902.4 509h8.5v-2.4h-8.5zM911.2 509h8.5v-0.7h-8.5z" fill="rgb(236,98,30)" fill-opacity="0.5"/>
<path d="M577.9 509h2.8v-6.2h-2.8zM580.9 509h7.0v-6.2h-7.0zM588.2 509h7.0v-6.8h-7.0zM595.5 509h7.0v-7.1h-7.0zM602.7 509h7.0v-5.3h-7.0zM610.0 509h7.0v-6.0h-7.0zM617.3 509h7.0v-5.4h-7.0zM624.5 509h7.0v-7.1h-7.0zM631.8 509h7.0v-6.3h-7.0zM639.1 509h7.0v-7.0h-7.0zM646.3 509h7.0v-7.8h-7.0zM653.6 509h7.0v-7.4h-7.0zM660.9 509h7.0v-8.0h-7.0zM668.2 509h7.0v-8.1h-7.0zM675.4 509h7.0v-9.5h-7.0zM682.7 509h7.0v-10.3h-7.0zM690.0 509h7.0v-12.4h-7.0zM697.2 509h7.0v-14.3h-7.0zM704.5 509h7.0v-15.8h-7.0zM711.8 509h7.0v-19.2h-7.0zM719.1 509h7.0v-21.8h-7.0zM726.3 509h7.0v-23.5h-7.0zM733.6 509h7.0v-26.7h-7.0zM740.9 509h7.0v-27.7h-7.0zM748.1 509h7.0v-31.8h-7.0zM755.4 509h7.0v-34.7h-7.0zM762.7 509h7.0v-36.5h-7.0zM769.9 509h7.0v-36.9h-7.0zM777.2 509h7.0v-34.2h-7.0zM784.5 509h7.0v-33.5h-7.0zM791.8 509h7.0v-26.9h-7.0zM799.0 509h7.0v-21.7h-7.0zM806.3 509h7.0v-14.6h-7.0zM813.6 509h7.0v-9.3h-7.0zM820.8 509h7.0v-4.9h-7.0zM828.1 509h7.0v-2.3h-7.0zM835.4 509h7.0v-0.5h-7.0z" fill="rgb(244,163,12)" fill-opacity="0.5"/>
<path d="M577.9 509h1.4v-5.6h-1.4zM579.5 509h5.9v-6.6h-5.9zM585.6 509h5.9v-5.7h-5.9zM591.7 509h5.9v-5.7h-5.9zM597.8 509h5.9v-6.3h-5.9zM603.9 509h5.9v-6.1h-5.9zM610.0 509h5.9v-6.3h-5.9zM616.1 509h5.9v-6.9h-5.9zM622.2 509h5.9v-7.2h-5.9zM628.3 509h5.9v-7.6h-5.9zM634.4 509h5.9v-7.9h-5.9zM640.5 509h5.9v-8.4h-5.9zM646.6 509h5.9v-9.7h-5.9zM652.7 509h5.9v-10.9h-5.9zM658.8 509h5.9v-11.0h-5.9zM664.8 509h5.9v-12.1h-5.9zM670.9 509h5.9v-14.5h-5.9zM677.0 509h5.9v-17.3h-5.9zM683.1 509h5.9v-17.4h-5.9zM689.2 509h5.9v-22.2h-5.9zM695.3 509h5.9v-26.2h-5.9zM701.4 509h5.9v-27.6h-5.9zM707.5 509h5.9v-34.7h-5.9zM713.6 509h5.9v-37.9h-5.9zM719.7 509h5.9v-42.6h-5.9zM725.8 509h5.9v-45.1h-5.9zM731.9 509h5.9v-44.4h-5.9zM738.0 509h5.9v-46.8h-5.9zM744.1 509h5.9v-44.4h-5.9zM750.2 509h5.9v-39.3h-5.9zM756.3 509h5.9v-32.4h-5.9zM762.4 509h5.9v-25.8h-5.9zM768.5 509h5.9v-15.7h-5.9zM774.5 509h5.9v-8.1h-5.9zM780.6 509h5.9v-4.3h-5.9zM786.7 509h5.9v-1.3h-5.9zM792.8 509h5.9v-0.4h-5.9z" fill="rgb(62,112,190)" fill-opacity="0.5"/>
<path d="M577.8 509 H934.2" stroke="#222" stroke-width="1.3" fill="none"/>
<path class="ax" d="M577.8 509 v7.3"/><text class="tk" x="577.8" y="532.1" text-anchor="middle">20</text>
<path class="ax" d="M649.1 509 v7.3"/><text class="tk" x="649.1" y="532.1" text-anchor="middle">40</text>
<path class="ax" d="M720.4 509 v7.3"/><text class="tk" x="720.4" y="532.1" text-anchor="middle">60</text>
<path class="ax" d="M791.6 509 v7.3"/><text class="tk" x="791.6" y="532.1" text-anchor="middle">80</text>
<path class="ax" d="M862.9 509 v7.3"/><text class="tk" x="862.9" y="532.1" text-anchor="middle">100</text>
<path class="ax" d="M934.2 509 v7.3"/><text class="tk" x="934.2" y="532.1" text-anchor="middle">120</text>
<text class="lb" x="754.7" y="560.3" text-anchor="middle" style="font-size:24.5px">MZ twin 1 lifespan</text>
<text class="lb" transform="translate(527.1 260.0) rotate(-90)" text-anchor="middle">MZ twin 2 lifespan[years]</text>
<text transform="translate(560.7 484.4) rotate(-90)" text-anchor="middle" style="font-size:19.2px;stroke:#000;stroke-width:0.35px">Density</text>
<text class="tt" x="756.0" y="75.6" text-anchor="middle">With extrinsic mortality</text>
<rect x="590.9" y="94.0" width="191.7" height="31" fill="#fff" fill-opacity="0.9" stroke="#9a9a9a" stroke-width="1"/>
<text class="lb" x="596.2" y="116.2" style="font-size:24.3px">Pearson r = 0.13</text>
<text x="0" y="49.3" style="font-size:23.2px;font-weight:bold;stroke:#000;stroke-width:0.8px" transform="translate(542.5 0) scale(0.78 1)">F</text>
<text x="595.6" y="458.8" style="font-size:12.25px">tail of short lifespans</text>
<text x="595.6" y="471.3" style="font-size:12.25px">widens distributions</text>
<path d="M595.3 472 Q592.6 477 591.9 481.3 L589.5 481.4 L594.3 495.9 L597.3 480.6 L594.6 480.9 Q594.9 476.5 596.3 472.4 Z" fill="#000"/>
</g>
</svg>
</body></html>
